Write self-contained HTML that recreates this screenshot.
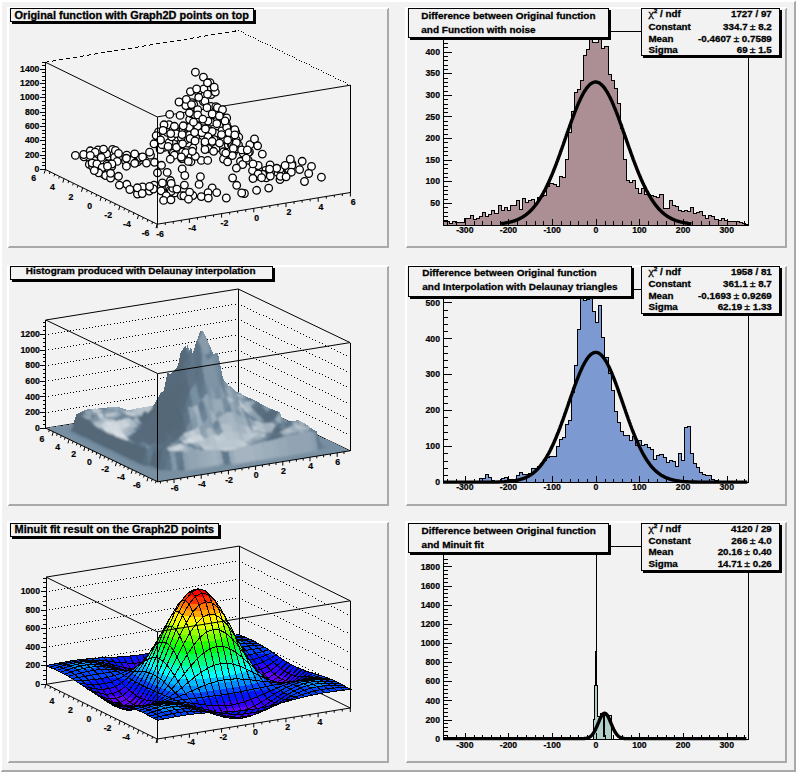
<!DOCTYPE html>
<html><head><meta charset="utf-8"><title>Graph2D example</title>
<style>html,body{margin:0;padding:0;background:#f2f2f2;}svg{display:block;}text{font-family:'Liberation Sans', Arial, Helvetica, sans-serif;}</style>
</head><body>
<svg width="796" height="772" viewBox="0 0 796 772" font-family="'Liberation Sans', Arial, Helvetica, sans-serif" font-weight="bold" shape-rendering="crispEdges"><rect x="0" y="0" width="796" height="772" fill="#f2f2f2"/>
<polygon points="0,0 796,0 794,2 2,2 2,770 0,772" fill="#ffffff"/>
<polygon points="796,772 0,772 2,770 794,770 794,2 796,0" fill="#a9a9a9"/>
<rect x="7" y="7" width="382" height="241" fill="#f2f2f2"/>
<polygon points="7,7 389,7 387,9 9,9 9,246 7,248" fill="#ffffff"/>
<polygon points="389,248 7,248 9,246 387,246 387,9 389,7" fill="#a9a9a9"/>
<rect x="405" y="7" width="382" height="241" fill="#f2f2f2"/>
<polygon points="405,7 787,7 785,9 407,9 407,246 405,248" fill="#ffffff"/>
<polygon points="787,248 405,248 407,246 785,246 785,9 787,7" fill="#a9a9a9"/>
<rect x="7" y="265" width="382" height="241" fill="#f2f2f2"/>
<polygon points="7,265 389,265 387,267 9,267 9,504 7,506" fill="#ffffff"/>
<polygon points="389,506 7,506 9,504 387,504 387,267 389,265" fill="#a9a9a9"/>
<rect x="405" y="265" width="382" height="241" fill="#f2f2f2"/>
<polygon points="405,265 787,265 785,267 407,267 407,504 405,506" fill="#ffffff"/>
<polygon points="787,506 405,506 407,504 785,504 785,267 787,265" fill="#a9a9a9"/>
<rect x="7" y="521" width="382" height="242" fill="#f2f2f2"/>
<polygon points="7,521 389,521 387,523 9,523 9,761 7,763" fill="#ffffff"/>
<polygon points="389,763 7,763 9,761 387,761 387,523 389,521" fill="#a9a9a9"/>
<rect x="405" y="521" width="382" height="242" fill="#f2f2f2"/>
<polygon points="405,521 787,521 785,523 407,523 407,761 405,763" fill="#ffffff"/>
<polygon points="787,763 405,763 407,761 785,761 785,523 787,521" fill="#a9a9a9"/>
<path d="M443,224.5 L443,221.5 L446.06,221.5 L446.06,221.5 L449.11,221.5 L449.11,223 L452.17,223 L452.17,221.5 L455.22,221.5 L455.22,222.8 L458.28,222.8 L458.28,222.8 L461.34,222.8 L461.34,222.8 L464.39,222.8 L464.39,218.1 L467.45,218.1 L467.45,218.1 L470.5,218.1 L470.5,215.5 L473.56,215.5 L473.56,219.3 L476.62,219.3 L476.62,218.5 L479.67,218.5 L479.67,216.3 L482.73,216.3 L482.73,212.5 L485.78,212.5 L485.78,216.3 L488.84,216.3 L488.84,214.4 L491.9,214.4 L491.9,210.5 L494.95,210.5 L494.95,213.2 L498.01,213.2 L498.01,205.5 L501.06,205.5 L501.06,210.1 L504.12,210.1 L504.12,207.5 L507.18,207.5 L507.18,210.1 L510.23,210.1 L510.23,205.6 L513.29,205.6 L513.29,205.6 L516.34,205.6 L516.34,200.4 L519.4,200.4 L519.4,209 L522.46,209 L522.46,198.7 L525.51,198.7 L525.51,202.7 L528.57,202.7 L528.57,200.4 L531.62,200.4 L531.62,199.3 L534.68,199.3 L534.68,203.3 L537.74,203.3 L537.74,197.6 L540.79,197.6 L540.79,196 L543.85,196 L543.85,195 L546.9,195 L546.9,186.2 L549.96,186.2 L549.96,183.9 L553.02,183.9 L553.02,184.5 L556.07,184.5 L556.07,186.7 L559.13,186.7 L559.13,176.5 L562.18,176.5 L562.18,177.1 L565.24,177.1 L565.24,159.5 L568.3,159.5 L568.3,132 L571.35,132 L571.35,111.5 L574.41,111.5 L574.41,92.1 L577.46,92.1 L577.46,89.5 L580.52,89.5 L580.52,80.5 L583.58,80.5 L583.58,55.2 L586.63,55.2 L586.63,49.4 L589.69,49.4 L589.69,31 L592.74,31 L592.74,42.9 L595.8,42.9 L595.8,42.9 L598.86,42.9 L598.86,33 L601.91,33 L601.91,48.1 L604.97,48.1 L604.97,46.1 L608.02,46.1 L608.02,74 L611.08,74 L611.08,80.5 L614.14,80.5 L614.14,88.9 L617.19,88.9 L617.19,103 L620.25,103 L620.25,128 L623.3,128 L623.3,159.6 L626.36,159.6 L626.36,180.3 L629.42,180.3 L629.42,182.8 L632.47,182.8 L632.47,180.3 L635.53,180.3 L635.53,188.4 L638.58,188.4 L638.58,193.2 L641.64,193.2 L641.64,188.2 L644.7,188.2 L644.7,194 L647.75,194 L647.75,194.4 L650.81,194.4 L650.81,195.5 L653.86,195.5 L653.86,196.7 L656.92,196.7 L656.92,197.5 L659.98,197.5 L659.98,194.4 L663.03,194.4 L663.03,208.1 L666.09,208.1 L666.09,208.1 L669.14,208.1 L669.14,200.5 L672.2,200.5 L672.2,205 L675.26,205 L675.26,206 L678.31,206 L678.31,210.1 L681.37,210.1 L681.37,211.8 L684.42,211.8 L684.42,210.6 L687.48,210.6 L687.48,211.2 L690.54,211.2 L690.54,207.5 L693.59,207.5 L693.59,213.3 L696.65,213.3 L696.65,212.2 L699.7,212.2 L699.7,211.4 L702.76,211.4 L702.76,215.2 L705.82,215.2 L705.82,218.5 L708.87,218.5 L708.87,215.6 L711.93,215.6 L711.93,216.6 L714.98,216.6 L714.98,219.5 L718.04,219.5 L718.04,220.3 L721.1,220.3 L721.1,218.7 L724.15,218.7 L724.15,220.5 L727.21,220.5 L727.21,221.6 L730.26,221.6 L730.26,221.6 L733.32,221.6 L733.32,221.6 L736.38,221.6 L736.38,221.8 L739.43,221.8 L739.43,222.8 L742.49,222.8 L742.49,223.7 L745.54,223.7 L745.54,224 L748.6,224 L748.6,224.5 Z" fill="#ab8f94" stroke="none"/>
<path d="M443,224.5 L443,221.5 L446.06,221.5 L446.06,221.5 L449.11,221.5 L449.11,223 L452.17,223 L452.17,221.5 L455.22,221.5 L455.22,222.8 L458.28,222.8 L458.28,222.8 L461.34,222.8 L461.34,222.8 L464.39,222.8 L464.39,218.1 L467.45,218.1 L467.45,218.1 L470.5,218.1 L470.5,215.5 L473.56,215.5 L473.56,219.3 L476.62,219.3 L476.62,218.5 L479.67,218.5 L479.67,216.3 L482.73,216.3 L482.73,212.5 L485.78,212.5 L485.78,216.3 L488.84,216.3 L488.84,214.4 L491.9,214.4 L491.9,210.5 L494.95,210.5 L494.95,213.2 L498.01,213.2 L498.01,205.5 L501.06,205.5 L501.06,210.1 L504.12,210.1 L504.12,207.5 L507.18,207.5 L507.18,210.1 L510.23,210.1 L510.23,205.6 L513.29,205.6 L513.29,205.6 L516.34,205.6 L516.34,200.4 L519.4,200.4 L519.4,209 L522.46,209 L522.46,198.7 L525.51,198.7 L525.51,202.7 L528.57,202.7 L528.57,200.4 L531.62,200.4 L531.62,199.3 L534.68,199.3 L534.68,203.3 L537.74,203.3 L537.74,197.6 L540.79,197.6 L540.79,196 L543.85,196 L543.85,195 L546.9,195 L546.9,186.2 L549.96,186.2 L549.96,183.9 L553.02,183.9 L553.02,184.5 L556.07,184.5 L556.07,186.7 L559.13,186.7 L559.13,176.5 L562.18,176.5 L562.18,177.1 L565.24,177.1 L565.24,159.5 L568.3,159.5 L568.3,132 L571.35,132 L571.35,111.5 L574.41,111.5 L574.41,92.1 L577.46,92.1 L577.46,89.5 L580.52,89.5 L580.52,80.5 L583.58,80.5 L583.58,55.2 L586.63,55.2 L586.63,49.4 L589.69,49.4 L589.69,31 L592.74,31 L592.74,42.9 L595.8,42.9 L595.8,42.9 L598.86,42.9 L598.86,33 L601.91,33 L601.91,48.1 L604.97,48.1 L604.97,46.1 L608.02,46.1 L608.02,74 L611.08,74 L611.08,80.5 L614.14,80.5 L614.14,88.9 L617.19,88.9 L617.19,103 L620.25,103 L620.25,128 L623.3,128 L623.3,159.6 L626.36,159.6 L626.36,180.3 L629.42,180.3 L629.42,182.8 L632.47,182.8 L632.47,180.3 L635.53,180.3 L635.53,188.4 L638.58,188.4 L638.58,193.2 L641.64,193.2 L641.64,188.2 L644.7,188.2 L644.7,194 L647.75,194 L647.75,194.4 L650.81,194.4 L650.81,195.5 L653.86,195.5 L653.86,196.7 L656.92,196.7 L656.92,197.5 L659.98,197.5 L659.98,194.4 L663.03,194.4 L663.03,208.1 L666.09,208.1 L666.09,208.1 L669.14,208.1 L669.14,200.5 L672.2,200.5 L672.2,205 L675.26,205 L675.26,206 L678.31,206 L678.31,210.1 L681.37,210.1 L681.37,211.8 L684.42,211.8 L684.42,210.6 L687.48,210.6 L687.48,211.2 L690.54,211.2 L690.54,207.5 L693.59,207.5 L693.59,213.3 L696.65,213.3 L696.65,212.2 L699.7,212.2 L699.7,211.4 L702.76,211.4 L702.76,215.2 L705.82,215.2 L705.82,218.5 L708.87,218.5 L708.87,215.6 L711.93,215.6 L711.93,216.6 L714.98,216.6 L714.98,219.5 L718.04,219.5 L718.04,220.3 L721.1,220.3 L721.1,218.7 L724.15,218.7 L724.15,220.5 L727.21,220.5 L727.21,221.6 L730.26,221.6 L730.26,221.6 L733.32,221.6 L733.32,221.6 L736.38,221.6 L736.38,221.8 L739.43,221.8 L739.43,222.8 L742.49,222.8 L742.49,223.7 L745.54,223.7 L745.54,224 L748.6,224 L748.6,224.5" fill="none" stroke="#000" stroke-width="1"/>
<rect x="443.5" y="31.5" width="304.6" height="193.5" fill="none" stroke="#000" stroke-width="1"/>
<line x1="443" y1="225.5" x2="452" y2="225.5" stroke="#000" stroke-width="1"/>
<line x1="443" y1="220.5" x2="447.5" y2="220.5" stroke="#000" stroke-width="1"/>
<line x1="443" y1="216.5" x2="447.5" y2="216.5" stroke="#000" stroke-width="1"/>
<line x1="443" y1="212.5" x2="447.5" y2="212.5" stroke="#000" stroke-width="1"/>
<line x1="443" y1="207.5" x2="447.5" y2="207.5" stroke="#000" stroke-width="1"/>
<line x1="443" y1="203.5" x2="452" y2="203.5" stroke="#000" stroke-width="1"/>
<text x="440" y="206.07" font-size="8.7" text-anchor="end" stroke="#000" stroke-width="0.2">50</text>
<line x1="443" y1="199.5" x2="447.5" y2="199.5" stroke="#000" stroke-width="1"/>
<line x1="443" y1="194.5" x2="447.5" y2="194.5" stroke="#000" stroke-width="1"/>
<line x1="443" y1="190.5" x2="447.5" y2="190.5" stroke="#000" stroke-width="1"/>
<line x1="443" y1="186.5" x2="447.5" y2="186.5" stroke="#000" stroke-width="1"/>
<line x1="443" y1="181.5" x2="452" y2="181.5" stroke="#000" stroke-width="1"/>
<text x="440" y="184.45" font-size="8.7" text-anchor="end" stroke="#000" stroke-width="0.2">100</text>
<line x1="443" y1="177.5" x2="447.5" y2="177.5" stroke="#000" stroke-width="1"/>
<line x1="443" y1="173.5" x2="447.5" y2="173.5" stroke="#000" stroke-width="1"/>
<line x1="443" y1="168.5" x2="447.5" y2="168.5" stroke="#000" stroke-width="1"/>
<line x1="443" y1="164.5" x2="447.5" y2="164.5" stroke="#000" stroke-width="1"/>
<line x1="443" y1="160.5" x2="452" y2="160.5" stroke="#000" stroke-width="1"/>
<text x="440" y="162.82" font-size="8.7" text-anchor="end" stroke="#000" stroke-width="0.2">150</text>
<line x1="443" y1="155.5" x2="447.5" y2="155.5" stroke="#000" stroke-width="1"/>
<line x1="443" y1="151.5" x2="447.5" y2="151.5" stroke="#000" stroke-width="1"/>
<line x1="443" y1="147.5" x2="447.5" y2="147.5" stroke="#000" stroke-width="1"/>
<line x1="443" y1="142.5" x2="447.5" y2="142.5" stroke="#000" stroke-width="1"/>
<line x1="443" y1="138.5" x2="452" y2="138.5" stroke="#000" stroke-width="1"/>
<text x="440" y="141.2" font-size="8.7" text-anchor="end" stroke="#000" stroke-width="0.2">200</text>
<line x1="443" y1="134.5" x2="447.5" y2="134.5" stroke="#000" stroke-width="1"/>
<line x1="443" y1="129.5" x2="447.5" y2="129.5" stroke="#000" stroke-width="1"/>
<line x1="443" y1="125.5" x2="447.5" y2="125.5" stroke="#000" stroke-width="1"/>
<line x1="443" y1="121.5" x2="447.5" y2="121.5" stroke="#000" stroke-width="1"/>
<line x1="443" y1="116.5" x2="452" y2="116.5" stroke="#000" stroke-width="1"/>
<text x="440" y="119.57" font-size="8.7" text-anchor="end" stroke="#000" stroke-width="0.2">250</text>
<line x1="443" y1="112.5" x2="447.5" y2="112.5" stroke="#000" stroke-width="1"/>
<line x1="443" y1="108.5" x2="447.5" y2="108.5" stroke="#000" stroke-width="1"/>
<line x1="443" y1="104.5" x2="447.5" y2="104.5" stroke="#000" stroke-width="1"/>
<line x1="443" y1="99.5" x2="447.5" y2="99.5" stroke="#000" stroke-width="1"/>
<line x1="443" y1="95.5" x2="452" y2="95.5" stroke="#000" stroke-width="1"/>
<text x="440" y="97.95" font-size="8.7" text-anchor="end" stroke="#000" stroke-width="0.2">300</text>
<line x1="443" y1="91.5" x2="447.5" y2="91.5" stroke="#000" stroke-width="1"/>
<line x1="443" y1="86.5" x2="447.5" y2="86.5" stroke="#000" stroke-width="1"/>
<line x1="443" y1="82.5" x2="447.5" y2="82.5" stroke="#000" stroke-width="1"/>
<line x1="443" y1="78.5" x2="447.5" y2="78.5" stroke="#000" stroke-width="1"/>
<line x1="443" y1="73.5" x2="452" y2="73.5" stroke="#000" stroke-width="1"/>
<text x="440" y="76.32" font-size="8.7" text-anchor="end" stroke="#000" stroke-width="0.2">350</text>
<line x1="443" y1="69.5" x2="447.5" y2="69.5" stroke="#000" stroke-width="1"/>
<line x1="443" y1="65.5" x2="447.5" y2="65.5" stroke="#000" stroke-width="1"/>
<line x1="443" y1="60.5" x2="447.5" y2="60.5" stroke="#000" stroke-width="1"/>
<line x1="443" y1="56.5" x2="447.5" y2="56.5" stroke="#000" stroke-width="1"/>
<line x1="443" y1="52.5" x2="452" y2="52.5" stroke="#000" stroke-width="1"/>
<text x="440" y="54.7" font-size="8.7" text-anchor="end" stroke="#000" stroke-width="0.2">400</text>
<line x1="443" y1="47.5" x2="447.5" y2="47.5" stroke="#000" stroke-width="1"/>
<line x1="443" y1="43.5" x2="447.5" y2="43.5" stroke="#000" stroke-width="1"/>
<line x1="443" y1="39.5" x2="447.5" y2="39.5" stroke="#000" stroke-width="1"/>
<line x1="443" y1="34.5" x2="447.5" y2="34.5" stroke="#000" stroke-width="1"/>
<line x1="447.5" y1="224.5" x2="447.5" y2="221.3" stroke="#000" stroke-width="1"/>
<line x1="456.5" y1="224.5" x2="456.5" y2="221.3" stroke="#000" stroke-width="1"/>
<line x1="465.5" y1="224.5" x2="465.5" y2="218.5" stroke="#000" stroke-width="1"/>
<text x="464.83" y="232.8" font-size="8.7" text-anchor="middle" stroke="#000" stroke-width="0.2">-300</text>
<line x1="474.5" y1="224.5" x2="474.5" y2="221.3" stroke="#000" stroke-width="1"/>
<line x1="482.5" y1="224.5" x2="482.5" y2="221.3" stroke="#000" stroke-width="1"/>
<line x1="491.5" y1="224.5" x2="491.5" y2="221.3" stroke="#000" stroke-width="1"/>
<line x1="500.5" y1="224.5" x2="500.5" y2="221.3" stroke="#000" stroke-width="1"/>
<line x1="508.5" y1="224.5" x2="508.5" y2="218.5" stroke="#000" stroke-width="1"/>
<text x="508.49" y="232.8" font-size="8.7" text-anchor="middle" stroke="#000" stroke-width="0.2">-200</text>
<line x1="517.5" y1="224.5" x2="517.5" y2="221.3" stroke="#000" stroke-width="1"/>
<line x1="526.5" y1="224.5" x2="526.5" y2="221.3" stroke="#000" stroke-width="1"/>
<line x1="535.5" y1="224.5" x2="535.5" y2="221.3" stroke="#000" stroke-width="1"/>
<line x1="543.5" y1="224.5" x2="543.5" y2="221.3" stroke="#000" stroke-width="1"/>
<line x1="552.5" y1="224.5" x2="552.5" y2="218.5" stroke="#000" stroke-width="1"/>
<text x="552.14" y="232.8" font-size="8.7" text-anchor="middle" stroke="#000" stroke-width="0.2">-100</text>
<line x1="561.5" y1="224.5" x2="561.5" y2="221.3" stroke="#000" stroke-width="1"/>
<line x1="570.5" y1="224.5" x2="570.5" y2="221.3" stroke="#000" stroke-width="1"/>
<line x1="578.5" y1="224.5" x2="578.5" y2="221.3" stroke="#000" stroke-width="1"/>
<line x1="587.5" y1="224.5" x2="587.5" y2="221.3" stroke="#000" stroke-width="1"/>
<line x1="596.5" y1="224.5" x2="596.5" y2="218.5" stroke="#000" stroke-width="1"/>
<text x="595.8" y="232.8" font-size="8.7" text-anchor="middle" stroke="#000" stroke-width="0.2">0</text>
<line x1="605.5" y1="224.5" x2="605.5" y2="221.3" stroke="#000" stroke-width="1"/>
<line x1="613.5" y1="224.5" x2="613.5" y2="221.3" stroke="#000" stroke-width="1"/>
<line x1="622.5" y1="224.5" x2="622.5" y2="221.3" stroke="#000" stroke-width="1"/>
<line x1="631.5" y1="224.5" x2="631.5" y2="221.3" stroke="#000" stroke-width="1"/>
<line x1="639.5" y1="224.5" x2="639.5" y2="218.5" stroke="#000" stroke-width="1"/>
<text x="639.46" y="232.8" font-size="8.7" text-anchor="middle" stroke="#000" stroke-width="0.2">100</text>
<line x1="648.5" y1="224.5" x2="648.5" y2="221.3" stroke="#000" stroke-width="1"/>
<line x1="657.5" y1="224.5" x2="657.5" y2="221.3" stroke="#000" stroke-width="1"/>
<line x1="666.5" y1="224.5" x2="666.5" y2="221.3" stroke="#000" stroke-width="1"/>
<line x1="674.5" y1="224.5" x2="674.5" y2="221.3" stroke="#000" stroke-width="1"/>
<line x1="683.5" y1="224.5" x2="683.5" y2="218.5" stroke="#000" stroke-width="1"/>
<text x="683.11" y="232.8" font-size="8.7" text-anchor="middle" stroke="#000" stroke-width="0.2">200</text>
<line x1="692.5" y1="224.5" x2="692.5" y2="221.3" stroke="#000" stroke-width="1"/>
<line x1="701.5" y1="224.5" x2="701.5" y2="221.3" stroke="#000" stroke-width="1"/>
<line x1="709.5" y1="224.5" x2="709.5" y2="221.3" stroke="#000" stroke-width="1"/>
<line x1="718.5" y1="224.5" x2="718.5" y2="221.3" stroke="#000" stroke-width="1"/>
<line x1="727.5" y1="224.5" x2="727.5" y2="218.5" stroke="#000" stroke-width="1"/>
<text x="726.77" y="232.8" font-size="8.7" text-anchor="middle" stroke="#000" stroke-width="0.2">300</text>
<line x1="736.5" y1="224.5" x2="736.5" y2="221.3" stroke="#000" stroke-width="1"/>
<line x1="744.5" y1="224.5" x2="744.5" y2="221.3" stroke="#000" stroke-width="1"/>
<path d="M501.1 223.6 504.1 223.2 504.6 223.1 505 223.1 505.4 223 505.9 222.9 506.3 222.8 506.7 222.8 507.2 222.7 507.6 222.6 508 222.5 508.5 222.4 508.9 222.3 509.4 222.2 509.8 222.1 510.2 222 510.7 221.9 511.1 221.8 511.5 221.7 512 221.6 512.4 221.5 512.9 221.3 513.3 221.2 513.7 221.1 514.2 220.9 514.6 220.8 515 220.6 515.5 220.5 515.9 220.3 516.3 220.1 516.8 219.9 517.2 219.8 517.7 219.6 518.1 219.4 518.5 219.2 519 219 519.4 218.8 519.8 218.6 520.3 218.3 520.7 218.1 521.1 217.9 521.6 217.6 522 217.4 522.5 217.1 522.9 216.9 523.3 216.6 523.8 216.3 524.2 216 524.6 215.7 525.1 215.4 525.5 215.1 525.9 214.8 526.4 214.4 526.8 214.1 527.3 213.7 527.7 213.4 528.1 213 528.6 212.6 529 212.2 529.4 211.8 529.9 211.4 530.3 211 530.8 210.5 531.2 210.1 531.6 209.6 532.1 209.2 532.5 208.7 532.9 208.2 533.4 207.7 533.8 207.2 534.2 206.7 534.7 206.1 535.1 205.6 535.6 205 536 204.5 536.4 203.9 536.9 203.3 537.3 202.7 537.7 202.1 538.2 201.4 538.6 200.8 539 200.1 539.5 199.5 539.9 198.8 540.4 198.1 540.8 197.4 541.2 196.6 541.7 195.9 542.1 195.1 542.5 194.4 543 193.6 543.4 192.8 543.8 192 544.3 191.2 544.7 190.4 545.2 189.5 545.6 188.6 546 187.8 546.5 186.9 546.9 186 547.3 185.1 547.8 184.2 548.2 183.2 548.7 182.3 549.1 181.3 549.5 180.3 550 179.3 550.4 178.3 550.8 177.3 551.3 176.3 551.7 175.3 552.1 174.2 552.6 173.2 553 172.1 553.5 171 553.9 169.9 554.3 168.8 554.8 167.7 555.2 166.6 555.6 165.5 556.1 164.3 556.5 163.2 556.9 162 557.4 160.8 557.8 159.7 558.3 158.5 558.7 157.3 559.1 156.1 559.6 154.9 560 153.7 560.4 152.5 560.9 151.2 561.3 150 561.7 148.8 562.2 147.5 562.6 146.3 563.1 145 563.5 143.8 563.9 142.5 564.4 141.3 564.8 140 565.2 138.8 565.7 137.5 566.1 136.3 566.5 135 567 133.8 567.4 132.5 567.9 131.3 568.3 130 568.7 128.8 569.2 127.6 569.6 126.3 570 125.1 570.5 123.9 570.9 122.7 571.4 121.5 571.8 120.3 572.2 119.1 572.7 117.9 573.1 116.7 573.5 115.6 574 114.4 574.4 113.3 574.8 112.1 575.3 111 575.7 109.9 576.2 108.8 576.6 107.8 577 106.7 577.5 105.6 577.9 104.6 578.3 103.6 578.8 102.6 579.2 101.6 579.6 100.7 580.1 99.7 580.5 98.8 581 97.9 581.4 97 581.8 96.2 582.3 95.3 582.7 94.5 583.1 93.7 583.6 92.9 584 92.2 584.4 91.5 584.9 90.8 585.3 90.1 585.8 89.4 586.2 88.8 586.6 88.2 587.1 87.6 587.5 87.1 587.9 86.5 588.4 86.1 588.8 85.6 589.3 85.1 589.7 84.7 590.1 84.3 590.6 84 591 83.7 591.4 83.4 591.9 83.1 592.3 82.9 592.7 82.7 593.2 82.5 593.6 82.3 594.1 82.2 594.5 82.1 594.9 82 595.4 82 595.8 82 596.2 82 596.7 82.1 597.1 82.2 597.5 82.3 598 82.5 598.4 82.6 598.9 82.8 599.3 83.1 599.7 83.3 600.2 83.6 600.6 84 601 84.3 601.5 84.7 601.9 85.1 602.3 85.5 602.8 86 603.2 86.5 603.7 87 604.1 87.6 604.5 88.1 605 88.7 605.4 89.4 605.8 90 606.3 90.7 606.7 91.4 607.2 92.1 607.6 92.9 608 93.6 608.5 94.4 608.9 95.3 609.3 96.1 609.8 97 610.2 97.8 610.6 98.7 611.1 99.7 611.5 100.6 612 101.6 612.4 102.5 612.8 103.5 613.3 104.5 613.7 105.6 614.1 106.6 614.6 107.7 615 108.7 615.4 109.8 615.9 110.9 616.3 112.1 616.8 113.2 617.2 114.3 617.6 115.5 618.1 116.6 618.5 117.8 618.9 119 619.4 120.2 619.8 121.4 620.2 122.6 620.7 123.8 621.1 125 621.6 126.2 622 127.5 622.4 128.7 622.9 129.9 623.3 131.2 623.7 132.4 624.2 133.7 624.6 134.9 625.1 136.2 625.5 137.4 625.9 138.7 626.4 139.9 626.8 141.2 627.2 142.5 627.7 143.7 628.1 144.9 628.5 146.2 629 147.4 629.4 148.7 629.9 149.9 630.3 151.1 630.7 152.4 631.2 153.6 631.6 154.8 632 156 632.5 157.2 632.9 158.4 633.3 159.6 633.8 160.7 634.2 161.9 634.7 163.1 635.1 164.2 635.5 165.4 636 166.5 636.4 167.6 636.8 168.7 637.3 169.8 637.7 170.9 638.1 172 638.6 173.1 639 174.1 639.5 175.2 639.9 176.2 640.3 177.3 640.8 178.3 641.2 179.3 641.6 180.3 642.1 181.2 642.5 182.2 642.9 183.1 643.4 184.1 643.8 185 644.3 185.9 644.7 186.8 645.1 187.7 645.6 188.6 646 189.4 646.4 190.3 646.9 191.1 647.3 191.9 647.8 192.7 648.2 193.5 648.6 194.3 649.1 195.1 649.5 195.8 649.9 196.6 650.4 197.3 650.8 198 651.2 198.7 651.7 199.4 652.1 200.1 652.6 200.7 653 201.4 653.4 202 653.9 202.6 654.3 203.2 654.7 203.8 655.2 204.4 655.6 205 656 205.6 656.5 206.1 656.9 206.6 657.4 207.2 657.8 207.7 658.2 208.2 658.7 208.7 659.1 209.1 659.5 209.6 660 210.1 660.4 210.5 660.8 210.9 661.3 211.4 661.7 211.8 662.2 212.2 662.6 212.6 663 213 663.5 213.3 663.9 213.7 664.3 214.1 664.8 214.4 665.2 214.7 665.7 215.1 666.1 215.4 666.5 215.7 667 216 667.4 216.3 667.8 216.6 668.3 216.8 668.7 217.1 669.1 217.4 669.6 217.6 670 217.9 670.5 218.1 670.9 218.3 671.3 218.6 671.8 218.8 672.2 219 672.6 219.2 673.1 219.4 673.5 219.6 673.9 219.8 674.4 219.9 674.8 220.1 675.3 220.3 675.7 220.4 676.1 220.6 676.6 220.8 677 220.9 677.4 221 677.9 221.2 678.3 221.3 678.7 221.4 679.2 221.6 679.6 221.7 680.1 221.8 680.5 221.9 680.9 222 681.4 222.1 681.8 222.2 682.2 222.3 682.7 222.4 683.1 222.5 683.6 222.6 684 222.7 684.4 222.8 684.9 222.8 685.3 222.9 685.7 223 686.2 223 686.6 223.1 687 223.2 687.5 223.2 687.9 223.3 688.4 223.4 691.4 223.7" fill="none" stroke="#000" stroke-width="3.4" stroke-linejoin="round" shape-rendering="auto"/>
<line x1="609" y1="31.5" x2="642" y2="31.5" stroke="#000" stroke-width="1"/>
<polygon points="609,10 611,10 611,40 410,40 410,38 609,38" fill="#000"/>
<rect x="408.5" y="8.5" width="200" height="29" fill="#f2f2f2" stroke="#000" stroke-width="1"/>
<text transform="matrix(1,0,0,0.88,421.3,19)" font-size="10" stroke="#000" stroke-width="0.3">Difference between Original function</text>
<text transform="matrix(1,0,0,0.88,421.3,32.8)" font-size="10" stroke="#000" stroke-width="0.3">and Function with noise</text>
<polygon points="780,10 782,10 782,58 643,58 643,56 780,56" fill="#000"/>
<rect x="641.5" y="8.5" width="138" height="47" fill="#f2f2f2" stroke="#000" stroke-width="1"/>
<text transform="matrix(1,0,0,0.88,648.4,17)" font-size="9.8" stroke="#000" stroke-width="0.3"><tspan font-family="Liberation Serif" font-weight="normal" font-size="12">χ</tspan><tspan font-size="6.5" dy="-4.5">2</tspan><tspan dy="4.5"> / ndf</tspan></text>
<text transform="matrix(1,0,0,0.88,771.8,17)" font-size="9.8" text-anchor="end" stroke="#000" stroke-width="0.3">1727 / 97</text>
<text transform="matrix(1,0,0,0.88,648.4,29.7)" font-size="9.8" stroke="#000" stroke-width="0.3">Constant</text>
<text transform="matrix(1,0,0,0.88,771.8,29.7)" font-size="9.8" text-anchor="end" stroke="#000" stroke-width="0.3">334.7<tspan font-size="7.5"> </tspan><tspan font-weight="normal" font-size="10.5">±</tspan> 8.2</text>
<text transform="matrix(1,0,0,0.88,648.4,41.7)" font-size="9.8" stroke="#000" stroke-width="0.3">Mean</text>
<text transform="matrix(1,0,0,0.88,771.8,41.7)" font-size="9.8" text-anchor="end" stroke="#000" stroke-width="0.3">-0.4607<tspan font-size="7.5"> </tspan><tspan font-weight="normal" font-size="10.5">±</tspan> 0.7589</text>
<text transform="matrix(1,0,0,0.88,648.4,53.1)" font-size="9.8" stroke="#000" stroke-width="0.3">Sigma</text>
<text transform="matrix(1,0,0,0.88,771.8,53.1)" font-size="9.8" text-anchor="end" stroke="#000" stroke-width="0.3">69<tspan font-size="7.5"> </tspan><tspan font-weight="normal" font-size="10.5">±</tspan> 1.5</text>
<path d="M443,482.1 L443,482 L446.06,482 L446.06,482 L449.11,482 L449.11,482 L452.17,482 L452.17,482 L455.22,482 L455.22,482 L458.28,482 L458.28,482 L461.34,482 L461.34,482 L464.39,482 L464.39,482 L467.45,482 L467.45,482 L470.5,482 L470.5,482 L473.56,482 L473.56,482 L476.62,482 L476.62,482 L479.67,482 L479.67,478.2 L482.73,478.2 L482.73,478.2 L485.78,478.2 L485.78,474.2 L488.84,474.2 L488.84,477.5 L491.9,477.5 L491.9,480 L494.95,480 L494.95,481.5 L498.01,481.5 L498.01,481.5 L501.06,481.5 L501.06,478 L504.12,478 L504.12,477.5 L507.18,477.5 L507.18,479.1 L510.23,479.1 L510.23,479.1 L513.29,479.1 L513.29,481 L516.34,481 L516.34,475.7 L519.4,475.7 L519.4,472.4 L522.46,472.4 L522.46,474.6 L525.51,474.6 L525.51,474.6 L528.57,474.6 L528.57,473 L531.62,473 L531.62,468.2 L534.68,468.2 L534.68,468.5 L537.74,468.5 L537.74,466 L540.79,466 L540.79,463.5 L543.85,463.5 L543.85,460.2 L546.9,460.2 L546.9,457.9 L549.96,457.9 L549.96,456.8 L553.02,456.8 L553.02,456.8 L556.07,456.8 L556.07,446.8 L559.13,446.8 L559.13,439.5 L562.18,439.5 L562.18,437.9 L565.24,437.9 L565.24,424.5 L568.3,424.5 L568.3,420.6 L571.35,420.6 L571.35,392 L574.41,392 L574.41,365.3 L577.46,365.3 L577.46,329 L580.52,329 L580.52,289 L583.58,289 L583.58,300 L586.63,300 L586.63,299 L589.69,299 L589.69,297 L592.74,297 L592.74,311.5 L595.8,311.5 L595.8,322.5 L598.86,322.5 L598.86,305.5 L601.91,305.5 L601.91,337.4 L604.97,337.4 L604.97,357.5 L608.02,357.5 L608.02,373.1 L611.08,373.1 L611.08,390.2 L614.14,390.2 L614.14,411.4 L617.19,411.4 L617.19,422 L620.25,422 L620.25,431.8 L623.3,431.8 L623.3,435.9 L626.36,435.9 L626.36,435.9 L629.42,435.9 L629.42,440 L632.47,440 L632.47,436.7 L635.53,436.7 L635.53,445.7 L638.58,445.7 L638.58,440 L641.64,440 L641.64,445.7 L644.7,445.7 L644.7,444.5 L647.75,444.5 L647.75,447.3 L650.81,447.3 L650.81,449 L653.86,449 L653.86,459.9 L656.92,459.9 L656.92,455.5 L659.98,455.5 L659.98,454.3 L663.03,454.3 L663.03,457.9 L666.09,457.9 L666.09,462 L669.14,462 L669.14,460.4 L672.2,460.4 L672.2,461.2 L675.26,461.2 L675.26,466.4 L678.31,466.4 L678.31,453.3 L681.37,453.3 L681.37,460.5 L684.42,460.5 L684.42,427 L687.48,427 L687.48,426.3 L690.54,426.3 L690.54,453.3 L693.59,453.3 L693.59,463.6 L696.65,463.6 L696.65,467.3 L699.7,467.3 L699.7,472.5 L702.76,472.5 L702.76,474.5 L705.82,474.5 L705.82,475.2 L708.87,475.2 L708.87,475.2 L711.93,475.2 L711.93,479.4 L714.98,479.4 L714.98,480.4 L718.04,480.4 L718.04,482 L721.1,482 L721.1,482 L724.15,482 L724.15,482 L727.21,482 L727.21,482 L730.26,482 L730.26,482 L733.32,482 L733.32,482 L736.38,482 L736.38,482 L739.43,482 L739.43,482 L742.49,482 L742.49,482 L745.54,482 L745.54,482 L748.6,482 L748.6,482.1 Z" fill="#7d99d1" stroke="none"/>
<path d="M443,482.1 L443,482 L446.06,482 L446.06,482 L449.11,482 L449.11,482 L452.17,482 L452.17,482 L455.22,482 L455.22,482 L458.28,482 L458.28,482 L461.34,482 L461.34,482 L464.39,482 L464.39,482 L467.45,482 L467.45,482 L470.5,482 L470.5,482 L473.56,482 L473.56,482 L476.62,482 L476.62,482 L479.67,482 L479.67,478.2 L482.73,478.2 L482.73,478.2 L485.78,478.2 L485.78,474.2 L488.84,474.2 L488.84,477.5 L491.9,477.5 L491.9,480 L494.95,480 L494.95,481.5 L498.01,481.5 L498.01,481.5 L501.06,481.5 L501.06,478 L504.12,478 L504.12,477.5 L507.18,477.5 L507.18,479.1 L510.23,479.1 L510.23,479.1 L513.29,479.1 L513.29,481 L516.34,481 L516.34,475.7 L519.4,475.7 L519.4,472.4 L522.46,472.4 L522.46,474.6 L525.51,474.6 L525.51,474.6 L528.57,474.6 L528.57,473 L531.62,473 L531.62,468.2 L534.68,468.2 L534.68,468.5 L537.74,468.5 L537.74,466 L540.79,466 L540.79,463.5 L543.85,463.5 L543.85,460.2 L546.9,460.2 L546.9,457.9 L549.96,457.9 L549.96,456.8 L553.02,456.8 L553.02,456.8 L556.07,456.8 L556.07,446.8 L559.13,446.8 L559.13,439.5 L562.18,439.5 L562.18,437.9 L565.24,437.9 L565.24,424.5 L568.3,424.5 L568.3,420.6 L571.35,420.6 L571.35,392 L574.41,392 L574.41,365.3 L577.46,365.3 L577.46,329 L580.52,329 L580.52,289 L583.58,289 L583.58,300 L586.63,300 L586.63,299 L589.69,299 L589.69,297 L592.74,297 L592.74,311.5 L595.8,311.5 L595.8,322.5 L598.86,322.5 L598.86,305.5 L601.91,305.5 L601.91,337.4 L604.97,337.4 L604.97,357.5 L608.02,357.5 L608.02,373.1 L611.08,373.1 L611.08,390.2 L614.14,390.2 L614.14,411.4 L617.19,411.4 L617.19,422 L620.25,422 L620.25,431.8 L623.3,431.8 L623.3,435.9 L626.36,435.9 L626.36,435.9 L629.42,435.9 L629.42,440 L632.47,440 L632.47,436.7 L635.53,436.7 L635.53,445.7 L638.58,445.7 L638.58,440 L641.64,440 L641.64,445.7 L644.7,445.7 L644.7,444.5 L647.75,444.5 L647.75,447.3 L650.81,447.3 L650.81,449 L653.86,449 L653.86,459.9 L656.92,459.9 L656.92,455.5 L659.98,455.5 L659.98,454.3 L663.03,454.3 L663.03,457.9 L666.09,457.9 L666.09,462 L669.14,462 L669.14,460.4 L672.2,460.4 L672.2,461.2 L675.26,461.2 L675.26,466.4 L678.31,466.4 L678.31,453.3 L681.37,453.3 L681.37,460.5 L684.42,460.5 L684.42,427 L687.48,427 L687.48,426.3 L690.54,426.3 L690.54,453.3 L693.59,453.3 L693.59,463.6 L696.65,463.6 L696.65,467.3 L699.7,467.3 L699.7,472.5 L702.76,472.5 L702.76,474.5 L705.82,474.5 L705.82,475.2 L708.87,475.2 L708.87,475.2 L711.93,475.2 L711.93,479.4 L714.98,479.4 L714.98,480.4 L718.04,480.4 L718.04,482 L721.1,482 L721.1,482 L724.15,482 L724.15,482 L727.21,482 L727.21,482 L730.26,482 L730.26,482 L733.32,482 L733.32,482 L736.38,482 L736.38,482 L739.43,482 L739.43,482 L742.49,482 L742.49,482 L745.54,482 L745.54,482 L748.6,482 L748.6,482.1" fill="none" stroke="#000" stroke-width="1"/>
<rect x="443.5" y="289.5" width="304.6" height="193.1" fill="none" stroke="#000" stroke-width="1"/>
<line x1="443" y1="482.5" x2="452" y2="482.5" stroke="#000" stroke-width="1"/>
<text x="440" y="485.3" font-size="8.7" text-anchor="end" stroke="#000" stroke-width="0.2">0</text>
<line x1="443" y1="475.5" x2="447.5" y2="475.5" stroke="#000" stroke-width="1"/>
<line x1="443" y1="468.5" x2="447.5" y2="468.5" stroke="#000" stroke-width="1"/>
<line x1="443" y1="461.5" x2="447.5" y2="461.5" stroke="#000" stroke-width="1"/>
<line x1="443" y1="453.5" x2="447.5" y2="453.5" stroke="#000" stroke-width="1"/>
<line x1="443" y1="446.5" x2="452" y2="446.5" stroke="#000" stroke-width="1"/>
<text x="440" y="449.35" font-size="8.7" text-anchor="end" stroke="#000" stroke-width="0.2">100</text>
<line x1="443" y1="439.5" x2="447.5" y2="439.5" stroke="#000" stroke-width="1"/>
<line x1="443" y1="432.5" x2="447.5" y2="432.5" stroke="#000" stroke-width="1"/>
<line x1="443" y1="425.5" x2="447.5" y2="425.5" stroke="#000" stroke-width="1"/>
<line x1="443" y1="417.5" x2="447.5" y2="417.5" stroke="#000" stroke-width="1"/>
<line x1="443" y1="410.5" x2="452" y2="410.5" stroke="#000" stroke-width="1"/>
<text x="440" y="413.4" font-size="8.7" text-anchor="end" stroke="#000" stroke-width="0.2">200</text>
<line x1="443" y1="403.5" x2="447.5" y2="403.5" stroke="#000" stroke-width="1"/>
<line x1="443" y1="396.5" x2="447.5" y2="396.5" stroke="#000" stroke-width="1"/>
<line x1="443" y1="389.5" x2="447.5" y2="389.5" stroke="#000" stroke-width="1"/>
<line x1="443" y1="382.5" x2="447.5" y2="382.5" stroke="#000" stroke-width="1"/>
<line x1="443" y1="374.5" x2="452" y2="374.5" stroke="#000" stroke-width="1"/>
<text x="440" y="377.45" font-size="8.7" text-anchor="end" stroke="#000" stroke-width="0.2">300</text>
<line x1="443" y1="367.5" x2="447.5" y2="367.5" stroke="#000" stroke-width="1"/>
<line x1="443" y1="360.5" x2="447.5" y2="360.5" stroke="#000" stroke-width="1"/>
<line x1="443" y1="353.5" x2="447.5" y2="353.5" stroke="#000" stroke-width="1"/>
<line x1="443" y1="346.5" x2="447.5" y2="346.5" stroke="#000" stroke-width="1"/>
<line x1="443" y1="338.5" x2="452" y2="338.5" stroke="#000" stroke-width="1"/>
<text x="440" y="341.5" font-size="8.7" text-anchor="end" stroke="#000" stroke-width="0.2">400</text>
<line x1="443" y1="331.5" x2="447.5" y2="331.5" stroke="#000" stroke-width="1"/>
<line x1="443" y1="324.5" x2="447.5" y2="324.5" stroke="#000" stroke-width="1"/>
<line x1="443" y1="317.5" x2="447.5" y2="317.5" stroke="#000" stroke-width="1"/>
<line x1="443" y1="310.5" x2="447.5" y2="310.5" stroke="#000" stroke-width="1"/>
<line x1="443" y1="302.5" x2="452" y2="302.5" stroke="#000" stroke-width="1"/>
<text x="440" y="305.55" font-size="8.7" text-anchor="end" stroke="#000" stroke-width="0.2">500</text>
<line x1="443" y1="295.5" x2="447.5" y2="295.5" stroke="#000" stroke-width="1"/>
<line x1="447.5" y1="482.1" x2="447.5" y2="478.9" stroke="#000" stroke-width="1"/>
<line x1="456.5" y1="482.1" x2="456.5" y2="478.9" stroke="#000" stroke-width="1"/>
<line x1="465.5" y1="482.1" x2="465.5" y2="476.1" stroke="#000" stroke-width="1"/>
<text x="464.83" y="489.7" font-size="8.7" text-anchor="middle" stroke="#000" stroke-width="0.2">-300</text>
<line x1="474.5" y1="482.1" x2="474.5" y2="478.9" stroke="#000" stroke-width="1"/>
<line x1="482.5" y1="482.1" x2="482.5" y2="478.9" stroke="#000" stroke-width="1"/>
<line x1="491.5" y1="482.1" x2="491.5" y2="478.9" stroke="#000" stroke-width="1"/>
<line x1="500.5" y1="482.1" x2="500.5" y2="478.9" stroke="#000" stroke-width="1"/>
<line x1="508.5" y1="482.1" x2="508.5" y2="476.1" stroke="#000" stroke-width="1"/>
<text x="508.49" y="489.7" font-size="8.7" text-anchor="middle" stroke="#000" stroke-width="0.2">-200</text>
<line x1="517.5" y1="482.1" x2="517.5" y2="478.9" stroke="#000" stroke-width="1"/>
<line x1="526.5" y1="482.1" x2="526.5" y2="478.9" stroke="#000" stroke-width="1"/>
<line x1="535.5" y1="482.1" x2="535.5" y2="478.9" stroke="#000" stroke-width="1"/>
<line x1="543.5" y1="482.1" x2="543.5" y2="478.9" stroke="#000" stroke-width="1"/>
<line x1="552.5" y1="482.1" x2="552.5" y2="476.1" stroke="#000" stroke-width="1"/>
<text x="552.14" y="489.7" font-size="8.7" text-anchor="middle" stroke="#000" stroke-width="0.2">-100</text>
<line x1="561.5" y1="482.1" x2="561.5" y2="478.9" stroke="#000" stroke-width="1"/>
<line x1="570.5" y1="482.1" x2="570.5" y2="478.9" stroke="#000" stroke-width="1"/>
<line x1="578.5" y1="482.1" x2="578.5" y2="478.9" stroke="#000" stroke-width="1"/>
<line x1="587.5" y1="482.1" x2="587.5" y2="478.9" stroke="#000" stroke-width="1"/>
<line x1="596.5" y1="482.1" x2="596.5" y2="476.1" stroke="#000" stroke-width="1"/>
<text x="595.8" y="489.7" font-size="8.7" text-anchor="middle" stroke="#000" stroke-width="0.2">0</text>
<line x1="605.5" y1="482.1" x2="605.5" y2="478.9" stroke="#000" stroke-width="1"/>
<line x1="613.5" y1="482.1" x2="613.5" y2="478.9" stroke="#000" stroke-width="1"/>
<line x1="622.5" y1="482.1" x2="622.5" y2="478.9" stroke="#000" stroke-width="1"/>
<line x1="631.5" y1="482.1" x2="631.5" y2="478.9" stroke="#000" stroke-width="1"/>
<line x1="639.5" y1="482.1" x2="639.5" y2="476.1" stroke="#000" stroke-width="1"/>
<text x="639.46" y="489.7" font-size="8.7" text-anchor="middle" stroke="#000" stroke-width="0.2">100</text>
<line x1="648.5" y1="482.1" x2="648.5" y2="478.9" stroke="#000" stroke-width="1"/>
<line x1="657.5" y1="482.1" x2="657.5" y2="478.9" stroke="#000" stroke-width="1"/>
<line x1="666.5" y1="482.1" x2="666.5" y2="478.9" stroke="#000" stroke-width="1"/>
<line x1="674.5" y1="482.1" x2="674.5" y2="478.9" stroke="#000" stroke-width="1"/>
<line x1="683.5" y1="482.1" x2="683.5" y2="476.1" stroke="#000" stroke-width="1"/>
<text x="683.11" y="489.7" font-size="8.7" text-anchor="middle" stroke="#000" stroke-width="0.2">200</text>
<line x1="692.5" y1="482.1" x2="692.5" y2="478.9" stroke="#000" stroke-width="1"/>
<line x1="701.5" y1="482.1" x2="701.5" y2="478.9" stroke="#000" stroke-width="1"/>
<line x1="709.5" y1="482.1" x2="709.5" y2="478.9" stroke="#000" stroke-width="1"/>
<line x1="718.5" y1="482.1" x2="718.5" y2="478.9" stroke="#000" stroke-width="1"/>
<line x1="727.5" y1="482.1" x2="727.5" y2="476.1" stroke="#000" stroke-width="1"/>
<text x="726.77" y="489.7" font-size="8.7" text-anchor="middle" stroke="#000" stroke-width="0.2">300</text>
<line x1="736.5" y1="482.1" x2="736.5" y2="478.9" stroke="#000" stroke-width="1"/>
<line x1="744.5" y1="482.1" x2="744.5" y2="478.9" stroke="#000" stroke-width="1"/>
<path d="M443 482.1 446.1 482.1 449.1 482.1 452.2 482.1 455.2 482.1 458.3 482.1 461.3 482.1 464.4 482.1 467.4 482.1 470.5 482.1 473.6 482.1 476.6 482.1 479.7 482.1 482.7 482.1 485.8 482.1 488.8 482.1 491.9 482.1 495 482.1 498 482 501.1 481.9 504.1 481.8 507.2 481.6 510.2 481.3 513.3 480.9 513.7 480.8 514.2 480.8 514.6 480.7 515 480.6 515.5 480.6 515.9 480.5 516.3 480.4 516.8 480.3 517.2 480.2 517.7 480.1 518.1 480 518.5 479.9 519 479.8 519.4 479.7 519.8 479.6 520.3 479.5 520.7 479.3 521.1 479.2 521.6 479.1 522 478.9 522.5 478.8 522.9 478.6 523.3 478.5 523.8 478.3 524.2 478.2 524.6 478 525.1 477.8 525.5 477.6 525.9 477.4 526.4 477.2 526.8 477 527.3 476.8 527.7 476.6 528.1 476.3 528.6 476.1 529 475.9 529.4 475.6 529.9 475.3 530.3 475.1 530.8 474.8 531.2 474.5 531.6 474.2 532.1 473.9 532.5 473.6 532.9 473.2 533.4 472.9 533.8 472.6 534.2 472.2 534.7 471.8 535.1 471.5 535.6 471.1 536 470.7 536.4 470.2 536.9 469.8 537.3 469.4 537.7 468.9 538.2 468.5 538.6 468 539 467.5 539.5 467 539.9 466.5 540.4 466 540.8 465.4 541.2 464.9 541.7 464.3 542.1 463.7 542.5 463.1 543 462.5 543.4 461.9 543.8 461.3 544.3 460.6 544.7 460 545.2 459.3 545.6 458.6 546 457.9 546.5 457.2 546.9 456.4 547.3 455.7 547.8 454.9 548.2 454.1 548.7 453.3 549.1 452.5 549.5 451.7 550 450.8 550.4 450 550.8 449.1 551.3 448.2 551.7 447.3 552.1 446.4 552.6 445.5 553 444.5 553.5 443.6 553.9 442.6 554.3 441.6 554.8 440.6 555.2 439.6 555.6 438.6 556.1 437.5 556.5 436.5 556.9 435.4 557.4 434.3 557.8 433.2 558.3 432.1 558.7 431 559.1 429.9 559.6 428.7 560 427.6 560.4 426.4 560.9 425.2 561.3 424.1 561.7 422.9 562.2 421.7 562.6 420.5 563.1 419.3 563.5 418 563.9 416.8 564.4 415.6 564.8 414.3 565.2 413.1 565.7 411.8 566.1 410.6 566.5 409.3 567 408.1 567.4 406.8 567.9 405.5 568.3 404.3 568.7 403 569.2 401.7 569.6 400.5 570 399.2 570.5 398 570.9 396.7 571.4 395.4 571.8 394.2 572.2 392.9 572.7 391.7 573.1 390.5 573.5 389.2 574 388 574.4 386.8 574.8 385.6 575.3 384.4 575.7 383.3 576.2 382.1 576.6 380.9 577 379.8 577.5 378.7 577.9 377.6 578.3 376.5 578.8 375.4 579.2 374.3 579.6 373.3 580.1 372.2 580.5 371.2 581 370.2 581.4 369.3 581.8 368.3 582.3 367.4 582.7 366.5 583.1 365.6 583.6 364.8 584 363.9 584.4 363.1 584.9 362.3 585.3 361.6 585.8 360.8 586.2 360.1 586.6 359.5 587.1 358.8 587.5 358.2 587.9 357.6 588.4 357.1 588.8 356.5 589.3 356 589.7 355.6 590.1 355.1 590.6 354.7 591 354.3 591.4 354 591.9 353.7 592.3 353.4 592.7 353.2 593.2 353 593.6 352.8 594.1 352.6 594.5 352.5 594.9 352.4 595.4 352.4 595.8 352.4 596.2 352.4 596.7 352.5 597.1 352.6 597.5 352.7 598 352.8 598.4 353 598.9 353.2 599.3 353.5 599.7 353.8 600.2 354.1 600.6 354.5 601 354.8 601.5 355.3 601.9 355.7 602.3 356.2 602.8 356.7 603.2 357.2 603.7 357.8 604.1 358.4 604.5 359 605 359.7 605.4 360.4 605.8 361.1 606.3 361.8 606.7 362.6 607.2 363.4 607.6 364.2 608 365 608.5 365.9 608.9 366.8 609.3 367.7 609.8 368.6 610.2 369.6 610.6 370.6 611.1 371.6 611.5 372.6 612 373.6 612.4 374.7 612.8 375.7 613.3 376.8 613.7 377.9 614.1 379 614.6 380.2 615 381.3 615.4 382.5 615.9 383.7 616.3 384.8 616.8 386 617.2 387.2 617.6 388.4 618.1 389.7 618.5 390.9 618.9 392.1 619.4 393.4 619.8 394.6 620.2 395.9 620.7 397.1 621.1 398.4 621.6 399.6 622 400.9 622.4 402.2 622.9 403.4 623.3 404.7 623.7 406 624.2 407.2 624.6 408.5 625.1 409.8 625.5 411 625.9 412.3 626.4 413.5 626.8 414.8 627.2 416 627.7 417.2 628.1 418.5 628.5 419.7 629 420.9 629.4 422.1 629.9 423.3 630.3 424.5 630.7 425.6 631.2 426.8 631.6 428 632 429.1 632.5 430.3 632.9 431.4 633.3 432.5 633.8 433.6 634.2 434.7 634.7 435.8 635.1 436.8 635.5 437.9 636 438.9 636.4 439.9 636.8 440.9 637.3 441.9 637.7 442.9 638.1 443.9 638.6 444.9 639 445.8 639.5 446.7 639.9 447.6 640.3 448.5 640.8 449.4 641.2 450.3 641.6 451.1 642.1 452 642.5 452.8 642.9 453.6 643.4 454.4 643.8 455.2 644.3 455.9 644.7 456.7 645.1 457.4 645.6 458.1 646 458.8 646.4 459.5 646.9 460.2 647.3 460.9 647.8 461.5 648.2 462.1 648.6 462.7 649.1 463.3 649.5 463.9 649.9 464.5 650.4 465.1 650.8 465.6 651.2 466.2 651.7 466.7 652.1 467.2 652.6 467.7 653 468.2 653.4 468.6 653.9 469.1 654.3 469.5 654.7 470 655.2 470.4 655.6 470.8 656 471.2 656.5 471.6 656.9 472 657.4 472.3 657.8 472.7 658.2 473 658.7 473.4 659.1 473.7 659.5 474 660 474.3 660.4 474.6 660.8 474.9 661.3 475.2 661.7 475.4 662.2 475.7 662.6 475.9 663 476.2 663.5 476.4 663.9 476.7 664.3 476.9 664.8 477.1 665.2 477.3 665.7 477.5 666.1 477.7 666.5 477.9 667 478 667.4 478.2 667.8 478.4 668.3 478.5 668.7 478.7 669.1 478.8 669.6 479 670 479.1 670.5 479.3 670.9 479.4 671.3 479.5 671.8 479.6 672.2 479.7 672.6 479.9 673.1 480 673.5 480.1 673.9 480.2 674.4 480.2 674.8 480.3 675.3 480.4 675.7 480.5 676.1 480.6 676.6 480.7 677 480.7 677.4 480.8 677.9 480.9 678.3 480.9 678.7 481 679.2 481 679.6 481.1 680.1 481.2 683.1 481.5 686.2 481.7 689.2 481.9 692.3 482 695.3 482 698.4 482.1 701.5 482.1 704.5 482.1 707.6 482.1 710.6 482.1 713.7 482.1 716.7 482.1 719.8 482.1 722.8 482.1 725.9 482.1 729 482.1 732 482.1 735.1 482.1 738.1 482.1 741.2 482.1 744.2 482.1 747.3 482.1" fill="none" stroke="#000" stroke-width="3.4" stroke-linejoin="round" shape-rendering="auto"/>
<line x1="632" y1="289.5" x2="642" y2="289.5" stroke="#000" stroke-width="1"/>
<polygon points="632,268 634,268 634,299 410,299 410,297 632,297" fill="#000"/>
<rect x="408.5" y="266.5" width="223" height="30" fill="#f2f2f2" stroke="#000" stroke-width="1"/>
<text transform="matrix(1,0,0,0.88,422.3,275.8)" font-size="10" stroke="#000" stroke-width="0.3">Difference between Original function</text>
<text transform="matrix(1,0,0,0.88,422.3,289.5)" font-size="10" stroke="#000" stroke-width="0.3">and Interpolation with Delaunay triangles</text>
<polygon points="780,268 782,268 782,316 643,316 643,314 780,314" fill="#000"/>
<rect x="641.5" y="266.5" width="138" height="47" fill="#f2f2f2" stroke="#000" stroke-width="1"/>
<text transform="matrix(1,0,0,0.88,648.4,275)" font-size="9.8" stroke="#000" stroke-width="0.3"><tspan font-family="Liberation Serif" font-weight="normal" font-size="12">χ</tspan><tspan font-size="6.5" dy="-4.5">2</tspan><tspan dy="4.5"> / ndf</tspan></text>
<text transform="matrix(1,0,0,0.88,771.8,275)" font-size="9.8" text-anchor="end" stroke="#000" stroke-width="0.3">1958 / 81</text>
<text transform="matrix(1,0,0,0.88,648.4,286.8)" font-size="9.8" stroke="#000" stroke-width="0.3">Constant</text>
<text transform="matrix(1,0,0,0.88,771.8,286.8)" font-size="9.8" text-anchor="end" stroke="#000" stroke-width="0.3">361.1<tspan font-size="7.5"> </tspan><tspan font-weight="normal" font-size="10.5">±</tspan> 8.7</text>
<text transform="matrix(1,0,0,0.88,648.4,298.8)" font-size="9.8" stroke="#000" stroke-width="0.3">Mean</text>
<text transform="matrix(1,0,0,0.88,771.8,298.8)" font-size="9.8" text-anchor="end" stroke="#000" stroke-width="0.3">-0.1693<tspan font-size="7.5"> </tspan><tspan font-weight="normal" font-size="10.5">±</tspan> 0.9269</text>
<text transform="matrix(1,0,0,0.88,648.4,309.9)" font-size="9.8" stroke="#000" stroke-width="0.3">Sigma</text>
<text transform="matrix(1,0,0,0.88,771.8,309.9)" font-size="9.8" text-anchor="end" stroke="#000" stroke-width="0.3">62.19<tspan font-size="7.5"> </tspan><tspan font-weight="normal" font-size="10.5">±</tspan> 1.33</text>
<path d="M443,739 L593.4,739 L593.4,719 L594.4,719 L594.4,685 L595.3,685 L595.3,651 L596,651 L596,546 L596.9,546 L596.9,685 L597.8,685 L597.8,716 L600.5,716 L600.5,713.3 L603.3,713.3 L603.3,736.5 L604.5,736.5 L604.5,715.3 L611.9,715.3 L611.9,739 L748.6,739 Z" fill="#b0cfc7" stroke="none"/>
<path d="M443,739 L593.4,739 L593.4,719 L594.4,719 L594.4,685 L595.3,685 L595.3,651 L596,651 L596,546 L596.9,546 L596.9,685 L597.8,685 L597.8,716 L600.5,716 L600.5,713.3 L603.3,713.3 L603.3,736.5 L604.5,736.5 L604.5,715.3 L611.9,715.3 L611.9,739 L748.6,739" fill="none" stroke="#000" stroke-width="1"/>
<rect x="443.5" y="546.5" width="304.6" height="192.6" fill="none" stroke="#000" stroke-width="1"/>
<line x1="443" y1="739.5" x2="452" y2="739.5" stroke="#000" stroke-width="1"/>
<text x="440" y="741.8" font-size="8.7" text-anchor="end" stroke="#000" stroke-width="0.2">0</text>
<line x1="443" y1="735.5" x2="447.5" y2="735.5" stroke="#000" stroke-width="1"/>
<line x1="443" y1="731.5" x2="447.5" y2="731.5" stroke="#000" stroke-width="1"/>
<line x1="443" y1="727.5" x2="447.5" y2="727.5" stroke="#000" stroke-width="1"/>
<line x1="443" y1="723.5" x2="447.5" y2="723.5" stroke="#000" stroke-width="1"/>
<line x1="443" y1="720.5" x2="452" y2="720.5" stroke="#000" stroke-width="1"/>
<text x="440" y="722.66" font-size="8.7" text-anchor="end" stroke="#000" stroke-width="0.2">200</text>
<line x1="443" y1="716.5" x2="447.5" y2="716.5" stroke="#000" stroke-width="1"/>
<line x1="443" y1="712.5" x2="447.5" y2="712.5" stroke="#000" stroke-width="1"/>
<line x1="443" y1="708.5" x2="447.5" y2="708.5" stroke="#000" stroke-width="1"/>
<line x1="443" y1="704.5" x2="447.5" y2="704.5" stroke="#000" stroke-width="1"/>
<line x1="443" y1="700.5" x2="452" y2="700.5" stroke="#000" stroke-width="1"/>
<text x="440" y="703.52" font-size="8.7" text-anchor="end" stroke="#000" stroke-width="0.2">400</text>
<line x1="443" y1="697.5" x2="447.5" y2="697.5" stroke="#000" stroke-width="1"/>
<line x1="443" y1="693.5" x2="447.5" y2="693.5" stroke="#000" stroke-width="1"/>
<line x1="443" y1="689.5" x2="447.5" y2="689.5" stroke="#000" stroke-width="1"/>
<line x1="443" y1="685.5" x2="447.5" y2="685.5" stroke="#000" stroke-width="1"/>
<line x1="443" y1="681.5" x2="452" y2="681.5" stroke="#000" stroke-width="1"/>
<text x="440" y="684.38" font-size="8.7" text-anchor="end" stroke="#000" stroke-width="0.2">600</text>
<line x1="443" y1="677.5" x2="447.5" y2="677.5" stroke="#000" stroke-width="1"/>
<line x1="443" y1="674.5" x2="447.5" y2="674.5" stroke="#000" stroke-width="1"/>
<line x1="443" y1="670.5" x2="447.5" y2="670.5" stroke="#000" stroke-width="1"/>
<line x1="443" y1="666.5" x2="447.5" y2="666.5" stroke="#000" stroke-width="1"/>
<line x1="443" y1="662.5" x2="452" y2="662.5" stroke="#000" stroke-width="1"/>
<text x="440" y="665.24" font-size="8.7" text-anchor="end" stroke="#000" stroke-width="0.2">800</text>
<line x1="443" y1="658.5" x2="447.5" y2="658.5" stroke="#000" stroke-width="1"/>
<line x1="443" y1="654.5" x2="447.5" y2="654.5" stroke="#000" stroke-width="1"/>
<line x1="443" y1="651.5" x2="447.5" y2="651.5" stroke="#000" stroke-width="1"/>
<line x1="443" y1="647.5" x2="447.5" y2="647.5" stroke="#000" stroke-width="1"/>
<line x1="443" y1="643.5" x2="452" y2="643.5" stroke="#000" stroke-width="1"/>
<text x="440" y="646.1" font-size="8.7" text-anchor="end" stroke="#000" stroke-width="0.2">1000</text>
<line x1="443" y1="639.5" x2="447.5" y2="639.5" stroke="#000" stroke-width="1"/>
<line x1="443" y1="635.5" x2="447.5" y2="635.5" stroke="#000" stroke-width="1"/>
<line x1="443" y1="632.5" x2="447.5" y2="632.5" stroke="#000" stroke-width="1"/>
<line x1="443" y1="628.5" x2="447.5" y2="628.5" stroke="#000" stroke-width="1"/>
<line x1="443" y1="624.5" x2="452" y2="624.5" stroke="#000" stroke-width="1"/>
<text x="440" y="626.96" font-size="8.7" text-anchor="end" stroke="#000" stroke-width="0.2">1200</text>
<line x1="443" y1="620.5" x2="447.5" y2="620.5" stroke="#000" stroke-width="1"/>
<line x1="443" y1="616.5" x2="447.5" y2="616.5" stroke="#000" stroke-width="1"/>
<line x1="443" y1="612.5" x2="447.5" y2="612.5" stroke="#000" stroke-width="1"/>
<line x1="443" y1="609.5" x2="447.5" y2="609.5" stroke="#000" stroke-width="1"/>
<line x1="443" y1="605.5" x2="452" y2="605.5" stroke="#000" stroke-width="1"/>
<text x="440" y="607.82" font-size="8.7" text-anchor="end" stroke="#000" stroke-width="0.2">1400</text>
<line x1="443" y1="601.5" x2="447.5" y2="601.5" stroke="#000" stroke-width="1"/>
<line x1="443" y1="597.5" x2="447.5" y2="597.5" stroke="#000" stroke-width="1"/>
<line x1="443" y1="593.5" x2="447.5" y2="593.5" stroke="#000" stroke-width="1"/>
<line x1="443" y1="589.5" x2="447.5" y2="589.5" stroke="#000" stroke-width="1"/>
<line x1="443" y1="586.5" x2="452" y2="586.5" stroke="#000" stroke-width="1"/>
<text x="440" y="588.68" font-size="8.7" text-anchor="end" stroke="#000" stroke-width="0.2">1600</text>
<line x1="443" y1="582.5" x2="447.5" y2="582.5" stroke="#000" stroke-width="1"/>
<line x1="443" y1="578.5" x2="447.5" y2="578.5" stroke="#000" stroke-width="1"/>
<line x1="443" y1="574.5" x2="447.5" y2="574.5" stroke="#000" stroke-width="1"/>
<line x1="443" y1="570.5" x2="447.5" y2="570.5" stroke="#000" stroke-width="1"/>
<line x1="443" y1="566.5" x2="452" y2="566.5" stroke="#000" stroke-width="1"/>
<text x="440" y="569.54" font-size="8.7" text-anchor="end" stroke="#000" stroke-width="0.2">1800</text>
<line x1="443" y1="563.5" x2="447.5" y2="563.5" stroke="#000" stroke-width="1"/>
<line x1="443" y1="559.5" x2="447.5" y2="559.5" stroke="#000" stroke-width="1"/>
<line x1="447.5" y1="738.6" x2="447.5" y2="735.4" stroke="#000" stroke-width="1"/>
<line x1="456.5" y1="738.6" x2="456.5" y2="735.4" stroke="#000" stroke-width="1"/>
<line x1="465.5" y1="738.6" x2="465.5" y2="732.6" stroke="#000" stroke-width="1"/>
<text x="464.83" y="748.1" font-size="8.7" text-anchor="middle" stroke="#000" stroke-width="0.2">-300</text>
<line x1="474.5" y1="738.6" x2="474.5" y2="735.4" stroke="#000" stroke-width="1"/>
<line x1="482.5" y1="738.6" x2="482.5" y2="735.4" stroke="#000" stroke-width="1"/>
<line x1="491.5" y1="738.6" x2="491.5" y2="735.4" stroke="#000" stroke-width="1"/>
<line x1="500.5" y1="738.6" x2="500.5" y2="735.4" stroke="#000" stroke-width="1"/>
<line x1="508.5" y1="738.6" x2="508.5" y2="732.6" stroke="#000" stroke-width="1"/>
<text x="508.49" y="748.1" font-size="8.7" text-anchor="middle" stroke="#000" stroke-width="0.2">-200</text>
<line x1="517.5" y1="738.6" x2="517.5" y2="735.4" stroke="#000" stroke-width="1"/>
<line x1="526.5" y1="738.6" x2="526.5" y2="735.4" stroke="#000" stroke-width="1"/>
<line x1="535.5" y1="738.6" x2="535.5" y2="735.4" stroke="#000" stroke-width="1"/>
<line x1="543.5" y1="738.6" x2="543.5" y2="735.4" stroke="#000" stroke-width="1"/>
<line x1="552.5" y1="738.6" x2="552.5" y2="732.6" stroke="#000" stroke-width="1"/>
<text x="552.14" y="748.1" font-size="8.7" text-anchor="middle" stroke="#000" stroke-width="0.2">-100</text>
<line x1="561.5" y1="738.6" x2="561.5" y2="735.4" stroke="#000" stroke-width="1"/>
<line x1="570.5" y1="738.6" x2="570.5" y2="735.4" stroke="#000" stroke-width="1"/>
<line x1="578.5" y1="738.6" x2="578.5" y2="735.4" stroke="#000" stroke-width="1"/>
<line x1="587.5" y1="738.6" x2="587.5" y2="735.4" stroke="#000" stroke-width="1"/>
<line x1="596.5" y1="738.6" x2="596.5" y2="732.6" stroke="#000" stroke-width="1"/>
<text x="595.8" y="748.1" font-size="8.7" text-anchor="middle" stroke="#000" stroke-width="0.2">0</text>
<line x1="605.5" y1="738.6" x2="605.5" y2="735.4" stroke="#000" stroke-width="1"/>
<line x1="613.5" y1="738.6" x2="613.5" y2="735.4" stroke="#000" stroke-width="1"/>
<line x1="622.5" y1="738.6" x2="622.5" y2="735.4" stroke="#000" stroke-width="1"/>
<line x1="631.5" y1="738.6" x2="631.5" y2="735.4" stroke="#000" stroke-width="1"/>
<line x1="639.5" y1="738.6" x2="639.5" y2="732.6" stroke="#000" stroke-width="1"/>
<text x="639.46" y="748.1" font-size="8.7" text-anchor="middle" stroke="#000" stroke-width="0.2">100</text>
<line x1="648.5" y1="738.6" x2="648.5" y2="735.4" stroke="#000" stroke-width="1"/>
<line x1="657.5" y1="738.6" x2="657.5" y2="735.4" stroke="#000" stroke-width="1"/>
<line x1="666.5" y1="738.6" x2="666.5" y2="735.4" stroke="#000" stroke-width="1"/>
<line x1="674.5" y1="738.6" x2="674.5" y2="735.4" stroke="#000" stroke-width="1"/>
<line x1="683.5" y1="738.6" x2="683.5" y2="732.6" stroke="#000" stroke-width="1"/>
<text x="683.11" y="748.1" font-size="8.7" text-anchor="middle" stroke="#000" stroke-width="0.2">200</text>
<line x1="692.5" y1="738.6" x2="692.5" y2="735.4" stroke="#000" stroke-width="1"/>
<line x1="701.5" y1="738.6" x2="701.5" y2="735.4" stroke="#000" stroke-width="1"/>
<line x1="709.5" y1="738.6" x2="709.5" y2="735.4" stroke="#000" stroke-width="1"/>
<line x1="718.5" y1="738.6" x2="718.5" y2="735.4" stroke="#000" stroke-width="1"/>
<line x1="727.5" y1="738.6" x2="727.5" y2="732.6" stroke="#000" stroke-width="1"/>
<text x="726.77" y="748.1" font-size="8.7" text-anchor="middle" stroke="#000" stroke-width="0.2">300</text>
<line x1="736.5" y1="738.6" x2="736.5" y2="735.4" stroke="#000" stroke-width="1"/>
<line x1="744.5" y1="738.6" x2="744.5" y2="735.4" stroke="#000" stroke-width="1"/>
<path d="M443 738.6 446.1 738.6 449.1 738.6 452.2 738.6 455.2 738.6 458.3 738.6 461.3 738.6 464.4 738.6 467.4 738.6 470.5 738.6 473.6 738.6 476.6 738.6 479.7 738.6 482.7 738.6 485.8 738.6 488.8 738.6 491.9 738.6 495 738.6 498 738.6 501.1 738.6 504.1 738.6 507.2 738.6 510.2 738.6 513.3 738.6 516.3 738.6 519.4 738.6 522.5 738.6 525.5 738.6 528.6 738.6 531.6 738.6 534.7 738.6 537.7 738.6 540.8 738.6 543.8 738.6 546.9 738.6 550 738.6 553 738.6 556.1 738.6 559.1 738.6 562.2 738.6 565.2 738.6 568.3 738.6 571.4 738.6 574.4 738.6 577.5 738.6 580.5 738.6 583.6 738.6 586.6 738.2 587.1 738.1 587.5 738 587.9 737.8 588.4 737.7 588.8 737.5 589.3 737.2 589.7 737 590.1 736.7 590.6 736.4 591 736 591.4 735.6 591.9 735.1 592.3 734.6 592.7 734.1 593.2 733.5 593.6 732.8 594.1 732.1 594.5 731.3 594.9 730.5 595.4 729.7 595.8 728.7 596.2 727.8 596.7 726.8 597.1 725.8 597.5 724.8 598 723.7 598.4 722.7 598.9 721.6 599.3 720.6 599.7 719.6 600.2 718.6 600.6 717.7 601 716.9 601.5 716.1 601.9 715.4 602.3 714.8 602.8 714.2 603.2 713.8 603.7 713.5 604.1 713.3 604.5 713.2 605 713.3 605.4 713.4 605.8 713.7 606.3 714.1 606.7 714.6 607.2 715.2 607.6 715.9 608 716.6 608.5 717.4 608.9 718.3 609.3 719.3 609.8 720.3 610.2 721.3 610.6 722.3 611.1 723.4 611.5 724.4 612 725.5 612.4 726.5 612.8 727.5 613.3 728.4 613.7 729.4 614.1 730.2 614.6 731.1 615 731.9 615.4 732.6 615.9 733.3 616.3 733.9 616.8 734.5 617.2 735 617.6 735.4 618.1 735.9 618.5 736.3 618.9 736.6 619.4 736.9 619.8 737.2 620.2 737.4 620.7 737.6 621.1 737.8 621.6 737.9 622 738 622.4 738.2 622.9 738.3 623.3 738.3 623.7 738.4 624.2 738.5 627.2 738.6 630.3 738.6 633.3 738.6 636.4 738.6 639.5 738.6 642.5 738.6 645.6 738.6 648.6 738.6 651.7 738.6 654.7 738.6 657.8 738.6 660.8 738.6 663.9 738.6 667 738.6 670 738.6 673.1 738.6 676.1 738.6 679.2 738.6 682.2 738.6 685.3 738.6 688.4 738.6 691.4 738.6 694.5 738.6 697.5 738.6 700.6 738.6 703.6 738.6 706.7 738.6 709.7 738.6 712.8 738.6 715.9 738.6 718.9 738.6 722 738.6 725 738.6 728.1 738.6 731.1 738.6 734.2 738.6 737.2 738.6 740.3 738.6 743.4 738.6 746.4 738.6" fill="none" stroke="#000" stroke-width="3.4" stroke-linejoin="round" shape-rendering="auto"/>
<line x1="609" y1="546.5" x2="642" y2="546.5" stroke="#000" stroke-width="1"/>
<polygon points="609,525 611,525 611,555 410,555 410,553 609,553" fill="#000"/>
<rect x="408.5" y="523.5" width="200" height="29" fill="#f2f2f2" stroke="#000" stroke-width="1"/>
<text transform="matrix(1,0,0,0.88,421.6,533.8)" font-size="10" stroke="#000" stroke-width="0.3">Difference between Original function</text>
<text transform="matrix(1,0,0,0.88,421.6,547.7)" font-size="10" stroke="#000" stroke-width="0.3">and Minuit fit</text>
<polygon points="780,525 782,525 782,573 643,573 643,571 780,571" fill="#000"/>
<rect x="641.5" y="523.5" width="138" height="47" fill="#f2f2f2" stroke="#000" stroke-width="1"/>
<text transform="matrix(1,0,0,0.88,648.4,532)" font-size="9.8" stroke="#000" stroke-width="0.3"><tspan font-family="Liberation Serif" font-weight="normal" font-size="12">χ</tspan><tspan font-size="6.5" dy="-4.5">2</tspan><tspan dy="4.5"> / ndf</tspan></text>
<text transform="matrix(1,0,0,0.88,771.8,532)" font-size="9.8" text-anchor="end" stroke="#000" stroke-width="0.3">4120 / 29</text>
<text transform="matrix(1,0,0,0.88,648.4,543.6)" font-size="9.8" stroke="#000" stroke-width="0.3">Constant</text>
<text transform="matrix(1,0,0,0.88,771.8,543.6)" font-size="9.8" text-anchor="end" stroke="#000" stroke-width="0.3">266<tspan font-size="7.5"> </tspan><tspan font-weight="normal" font-size="10.5">±</tspan> 4.0</text>
<text transform="matrix(1,0,0,0.88,648.4,555.1)" font-size="9.8" stroke="#000" stroke-width="0.3">Mean</text>
<text transform="matrix(1,0,0,0.88,771.8,555.1)" font-size="9.8" text-anchor="end" stroke="#000" stroke-width="0.3">20.16<tspan font-size="7.5"> </tspan><tspan font-weight="normal" font-size="10.5">±</tspan> 0.40</text>
<text transform="matrix(1,0,0,0.88,648.4,566.7)" font-size="9.8" stroke="#000" stroke-width="0.3">Sigma</text>
<text transform="matrix(1,0,0,0.88,771.8,566.7)" font-size="9.8" text-anchor="end" stroke="#000" stroke-width="0.3">14.71<tspan font-size="7.5"> </tspan><tspan font-weight="normal" font-size="10.5">±</tspan> 0.26</text>
<line x1="45.4" y1="62.2" x2="238.6" y2="30.5" stroke="#000" stroke-width="1" stroke-dasharray="4,3"/>
<path d="M238 30.5h1M241 31.5h1M243 32.5h1M245 34.5h1M248 35.5h1M250 36.5h1M253 37.5h1M255 38.5h1M258 40.5h1M260 41.5h1M262 42.5h1M265 43.5h1M267 44.5h1M270 45.5h1M272 47.5h1M275 48.5h1M277 49.5h1M279 50.5h1M282 51.5h1M284 53.5h1M287 54.5h1M289 55.5h1M292 56.5h1M294 57.5h1M296 59.5h1M299 60.5h1M301 61.5h1M304 62.5h1M306 63.5h1M309 64.5h1M311 66.5h1M313 67.5h1M316 68.5h1M318 69.5h1M321 70.5h1M323 72.5h1M326 73.5h1M328 74.5h1M330 75.5h1M333 76.5h1M335 78.5h1M338 79.5h1M340 80.5h1M343 81.5h1M345 82.5h1M347 84.5h1M350 85.5h1" stroke="#000" stroke-width="1" fill="none"/>
<line x1="350.4" y1="192.5" x2="350.4" y2="85.2" stroke="#000" stroke-width="1"/>
<line x1="45.4" y1="169.5" x2="45.4" y2="62.2" stroke="#000" stroke-width="1"/>
<line x1="45.4" y1="62.2" x2="157.2" y2="116.9" stroke="#000" stroke-width="1" shape-rendering="auto"/>
<line x1="157.2" y1="116.9" x2="350.4" y2="85.2" stroke="#000" stroke-width="1" shape-rendering="auto"/>
<line x1="157.2" y1="224.2" x2="45.4" y2="169.5" stroke="#000" stroke-width="1" shape-rendering="auto"/>
<line x1="157.2" y1="224.2" x2="350.4" y2="192.5" stroke="#000" stroke-width="1" shape-rendering="auto"/>
<line x1="39.9" y1="169.5" x2="45.4" y2="169.5" stroke="#000" stroke-width="1"/>
<text x="39.4" y="172" font-size="8.7" text-anchor="end" stroke="#000" stroke-width="0.2">0</text>
<line x1="42.4" y1="165.5" x2="45.4" y2="165.5" stroke="#000" stroke-width="1"/>
<line x1="42.4" y1="162.5" x2="45.4" y2="162.5" stroke="#000" stroke-width="1"/>
<line x1="42.4" y1="158.5" x2="45.4" y2="158.5" stroke="#000" stroke-width="1"/>
<line x1="39.9" y1="155.5" x2="45.4" y2="155.5" stroke="#000" stroke-width="1"/>
<text x="39.4" y="157.69" font-size="8.7" text-anchor="end" stroke="#000" stroke-width="0.2">200</text>
<line x1="42.4" y1="151.5" x2="45.4" y2="151.5" stroke="#000" stroke-width="1"/>
<line x1="42.4" y1="148.5" x2="45.4" y2="148.5" stroke="#000" stroke-width="1"/>
<line x1="42.4" y1="144.5" x2="45.4" y2="144.5" stroke="#000" stroke-width="1"/>
<line x1="39.9" y1="140.5" x2="45.4" y2="140.5" stroke="#000" stroke-width="1"/>
<text x="39.4" y="143.39" font-size="8.7" text-anchor="end" stroke="#000" stroke-width="0.2">400</text>
<line x1="42.4" y1="137.5" x2="45.4" y2="137.5" stroke="#000" stroke-width="1"/>
<line x1="42.4" y1="133.5" x2="45.4" y2="133.5" stroke="#000" stroke-width="1"/>
<line x1="42.4" y1="130.5" x2="45.4" y2="130.5" stroke="#000" stroke-width="1"/>
<line x1="39.9" y1="126.5" x2="45.4" y2="126.5" stroke="#000" stroke-width="1"/>
<text x="39.4" y="129.08" font-size="8.7" text-anchor="end" stroke="#000" stroke-width="0.2">600</text>
<line x1="42.4" y1="123.5" x2="45.4" y2="123.5" stroke="#000" stroke-width="1"/>
<line x1="42.4" y1="119.5" x2="45.4" y2="119.5" stroke="#000" stroke-width="1"/>
<line x1="42.4" y1="115.5" x2="45.4" y2="115.5" stroke="#000" stroke-width="1"/>
<line x1="39.9" y1="112.5" x2="45.4" y2="112.5" stroke="#000" stroke-width="1"/>
<text x="39.4" y="114.77" font-size="8.7" text-anchor="end" stroke="#000" stroke-width="0.2">800</text>
<line x1="42.4" y1="108.5" x2="45.4" y2="108.5" stroke="#000" stroke-width="1"/>
<line x1="42.4" y1="105.5" x2="45.4" y2="105.5" stroke="#000" stroke-width="1"/>
<line x1="42.4" y1="101.5" x2="45.4" y2="101.5" stroke="#000" stroke-width="1"/>
<line x1="39.9" y1="97.5" x2="45.4" y2="97.5" stroke="#000" stroke-width="1"/>
<text x="39.4" y="100.47" font-size="8.7" text-anchor="end" stroke="#000" stroke-width="0.2">1000</text>
<line x1="42.4" y1="94.5" x2="45.4" y2="94.5" stroke="#000" stroke-width="1"/>
<line x1="42.4" y1="90.5" x2="45.4" y2="90.5" stroke="#000" stroke-width="1"/>
<line x1="42.4" y1="87.5" x2="45.4" y2="87.5" stroke="#000" stroke-width="1"/>
<line x1="39.9" y1="83.5" x2="45.4" y2="83.5" stroke="#000" stroke-width="1"/>
<text x="39.4" y="86.16" font-size="8.7" text-anchor="end" stroke="#000" stroke-width="0.2">1200</text>
<line x1="42.4" y1="80.5" x2="45.4" y2="80.5" stroke="#000" stroke-width="1"/>
<line x1="42.4" y1="76.5" x2="45.4" y2="76.5" stroke="#000" stroke-width="1"/>
<line x1="42.4" y1="72.5" x2="45.4" y2="72.5" stroke="#000" stroke-width="1"/>
<line x1="39.9" y1="69.5" x2="45.4" y2="69.5" stroke="#000" stroke-width="1"/>
<text x="39.4" y="71.85" font-size="8.7" text-anchor="end" stroke="#000" stroke-width="0.2">1400</text>
<line x1="42.4" y1="65.5" x2="45.4" y2="65.5" stroke="#000" stroke-width="1"/>
<line x1="42.4" y1="62.5" x2="45.4" y2="62.5" stroke="#000" stroke-width="1"/>
<line x1="157.2" y1="224.2" x2="157.2" y2="228.2" stroke="#000" stroke-width="1" shape-rendering="auto"/>
<line x1="165.25" y1="222.88" x2="165.25" y2="225.08" stroke="#000" stroke-width="1" shape-rendering="auto"/>
<line x1="173.3" y1="221.56" x2="173.3" y2="223.76" stroke="#000" stroke-width="1" shape-rendering="auto"/>
<line x1="181.35" y1="220.24" x2="181.35" y2="222.44" stroke="#000" stroke-width="1" shape-rendering="auto"/>
<line x1="189.4" y1="218.92" x2="189.4" y2="222.92" stroke="#000" stroke-width="1" shape-rendering="auto"/>
<line x1="197.45" y1="217.6" x2="197.45" y2="219.8" stroke="#000" stroke-width="1" shape-rendering="auto"/>
<line x1="205.5" y1="216.27" x2="205.5" y2="218.47" stroke="#000" stroke-width="1" shape-rendering="auto"/>
<line x1="213.55" y1="214.95" x2="213.55" y2="217.15" stroke="#000" stroke-width="1" shape-rendering="auto"/>
<line x1="221.6" y1="213.63" x2="221.6" y2="217.63" stroke="#000" stroke-width="1" shape-rendering="auto"/>
<line x1="229.65" y1="212.31" x2="229.65" y2="214.51" stroke="#000" stroke-width="1" shape-rendering="auto"/>
<line x1="237.7" y1="210.99" x2="237.7" y2="213.19" stroke="#000" stroke-width="1" shape-rendering="auto"/>
<line x1="245.75" y1="209.67" x2="245.75" y2="211.87" stroke="#000" stroke-width="1" shape-rendering="auto"/>
<line x1="253.8" y1="208.35" x2="253.8" y2="212.35" stroke="#000" stroke-width="1" shape-rendering="auto"/>
<line x1="261.85" y1="207.03" x2="261.85" y2="209.23" stroke="#000" stroke-width="1" shape-rendering="auto"/>
<line x1="269.9" y1="205.71" x2="269.9" y2="207.91" stroke="#000" stroke-width="1" shape-rendering="auto"/>
<line x1="277.95" y1="204.39" x2="277.95" y2="206.59" stroke="#000" stroke-width="1" shape-rendering="auto"/>
<line x1="286" y1="203.07" x2="286" y2="207.07" stroke="#000" stroke-width="1" shape-rendering="auto"/>
<line x1="294.05" y1="201.75" x2="294.05" y2="203.95" stroke="#000" stroke-width="1" shape-rendering="auto"/>
<line x1="302.1" y1="200.43" x2="302.1" y2="202.62" stroke="#000" stroke-width="1" shape-rendering="auto"/>
<line x1="310.15" y1="199.1" x2="310.15" y2="201.3" stroke="#000" stroke-width="1" shape-rendering="auto"/>
<line x1="318.2" y1="197.78" x2="318.2" y2="201.78" stroke="#000" stroke-width="1" shape-rendering="auto"/>
<line x1="326.25" y1="196.46" x2="326.25" y2="198.66" stroke="#000" stroke-width="1" shape-rendering="auto"/>
<line x1="334.3" y1="195.14" x2="334.3" y2="197.34" stroke="#000" stroke-width="1" shape-rendering="auto"/>
<line x1="342.35" y1="193.82" x2="342.35" y2="196.02" stroke="#000" stroke-width="1" shape-rendering="auto"/>
<line x1="350.4" y1="192.5" x2="350.4" y2="196.5" stroke="#000" stroke-width="1" shape-rendering="auto"/>
<text x="160" y="236.6" font-size="8.7" text-anchor="middle" stroke="#000" stroke-width="0.2">-6</text>
<text x="192.2" y="231.32" font-size="8.7" text-anchor="middle" stroke="#000" stroke-width="0.2">-4</text>
<text x="224.4" y="226.03" font-size="8.7" text-anchor="middle" stroke="#000" stroke-width="0.2">-2</text>
<text x="256.6" y="220.75" font-size="8.7" text-anchor="middle" stroke="#000" stroke-width="0.2">0</text>
<text x="288.8" y="215.47" font-size="8.7" text-anchor="middle" stroke="#000" stroke-width="0.2">2</text>
<text x="321" y="210.18" font-size="8.7" text-anchor="middle" stroke="#000" stroke-width="0.2">4</text>
<text x="353.2" y="204.9" font-size="8.7" text-anchor="middle" stroke="#000" stroke-width="0.2">6</text>
<line x1="157.2" y1="224.2" x2="156" y2="228.2" stroke="#000" stroke-width="1" shape-rendering="auto"/>
<line x1="152.54" y1="221.92" x2="151.88" y2="224.12" stroke="#000" stroke-width="1" shape-rendering="auto"/>
<line x1="147.88" y1="219.64" x2="147.22" y2="221.84" stroke="#000" stroke-width="1" shape-rendering="auto"/>
<line x1="143.22" y1="217.36" x2="142.56" y2="219.56" stroke="#000" stroke-width="1" shape-rendering="auto"/>
<line x1="138.57" y1="215.08" x2="137.37" y2="219.08" stroke="#000" stroke-width="1" shape-rendering="auto"/>
<line x1="133.91" y1="212.8" x2="133.25" y2="215" stroke="#000" stroke-width="1" shape-rendering="auto"/>
<line x1="129.25" y1="210.52" x2="128.59" y2="212.72" stroke="#000" stroke-width="1" shape-rendering="auto"/>
<line x1="124.59" y1="208.25" x2="123.93" y2="210.45" stroke="#000" stroke-width="1" shape-rendering="auto"/>
<line x1="119.93" y1="205.97" x2="118.73" y2="209.97" stroke="#000" stroke-width="1" shape-rendering="auto"/>
<line x1="115.27" y1="203.69" x2="114.61" y2="205.89" stroke="#000" stroke-width="1" shape-rendering="auto"/>
<line x1="110.62" y1="201.41" x2="109.96" y2="203.61" stroke="#000" stroke-width="1" shape-rendering="auto"/>
<line x1="105.96" y1="199.13" x2="105.3" y2="201.33" stroke="#000" stroke-width="1" shape-rendering="auto"/>
<line x1="101.3" y1="196.85" x2="100.1" y2="200.85" stroke="#000" stroke-width="1" shape-rendering="auto"/>
<line x1="96.64" y1="194.57" x2="95.98" y2="196.77" stroke="#000" stroke-width="1" shape-rendering="auto"/>
<line x1="91.98" y1="192.29" x2="91.32" y2="194.49" stroke="#000" stroke-width="1" shape-rendering="auto"/>
<line x1="87.33" y1="190.01" x2="86.67" y2="192.21" stroke="#000" stroke-width="1" shape-rendering="auto"/>
<line x1="82.67" y1="187.73" x2="81.47" y2="191.73" stroke="#000" stroke-width="1" shape-rendering="auto"/>
<line x1="78.01" y1="185.45" x2="77.35" y2="187.65" stroke="#000" stroke-width="1" shape-rendering="auto"/>
<line x1="73.35" y1="183.18" x2="72.69" y2="185.38" stroke="#000" stroke-width="1" shape-rendering="auto"/>
<line x1="68.69" y1="180.9" x2="68.03" y2="183.1" stroke="#000" stroke-width="1" shape-rendering="auto"/>
<line x1="64.03" y1="178.62" x2="62.83" y2="182.62" stroke="#000" stroke-width="1" shape-rendering="auto"/>
<line x1="59.38" y1="176.34" x2="58.72" y2="178.54" stroke="#000" stroke-width="1" shape-rendering="auto"/>
<line x1="54.72" y1="174.06" x2="54.06" y2="176.26" stroke="#000" stroke-width="1" shape-rendering="auto"/>
<line x1="50.06" y1="171.78" x2="49.4" y2="173.98" stroke="#000" stroke-width="1" shape-rendering="auto"/>
<line x1="45.4" y1="169.5" x2="44.2" y2="173.5" stroke="#000" stroke-width="1" shape-rendering="auto"/>
<text x="33.7" y="181.3" font-size="8.7" text-anchor="middle" stroke="#000" stroke-width="0.2">6</text>
<text x="52.33" y="190.42" font-size="8.7" text-anchor="middle" stroke="#000" stroke-width="0.2">4</text>
<text x="70.97" y="199.53" font-size="8.7" text-anchor="middle" stroke="#000" stroke-width="0.2">2</text>
<text x="89.6" y="208.65" font-size="8.7" text-anchor="middle" stroke="#000" stroke-width="0.2">0</text>
<text x="108.23" y="217.77" font-size="8.7" text-anchor="middle" stroke="#000" stroke-width="0.2">-2</text>
<text x="126.87" y="226.88" font-size="8.7" text-anchor="middle" stroke="#000" stroke-width="0.2">-4</text>
<text x="145.5" y="236" font-size="8.7" text-anchor="middle" stroke="#000" stroke-width="0.2">-6</text>
<g fill="#fff" stroke="#000" stroke-width="1.3" shape-rendering="auto"><circle cx="118.47" cy="157.98" r="3.8"/><circle cx="211.76" cy="144.85" r="3.8"/><circle cx="210.99" cy="106.46" r="3.8"/><circle cx="90.06" cy="159.84" r="3.8"/><circle cx="226.46" cy="124.35" r="3.8"/><circle cx="94.07" cy="160.5" r="3.8"/><circle cx="183.01" cy="129.54" r="3.8"/><circle cx="168.3" cy="126.95" r="3.8"/><circle cx="205.21" cy="144.27" r="3.8"/><circle cx="203.45" cy="101.54" r="3.8"/><circle cx="288.82" cy="169.29" r="3.8"/><circle cx="187.28" cy="154.14" r="3.8"/><circle cx="265.58" cy="170.45" r="3.8"/><circle cx="207.37" cy="127.42" r="3.8"/><circle cx="203.82" cy="124.18" r="3.8"/><circle cx="226.38" cy="137.08" r="3.8"/><circle cx="195.62" cy="115.57" r="3.8"/><circle cx="220.85" cy="114.92" r="3.8"/><circle cx="226.86" cy="131.49" r="3.8"/><circle cx="196.18" cy="121.67" r="3.8"/><circle cx="129.06" cy="157.02" r="3.8"/><circle cx="234.39" cy="141.25" r="3.8"/><circle cx="125.6" cy="161.25" r="3.8"/><circle cx="137.74" cy="161.73" r="3.8"/><circle cx="141.31" cy="159.59" r="3.8"/><circle cx="189.63" cy="119.58" r="3.8"/><circle cx="192.78" cy="147.81" r="3.8"/><circle cx="215.81" cy="106.72" r="3.8"/><circle cx="203.02" cy="135.83" r="3.8"/><circle cx="292.01" cy="163.95" r="3.8"/><circle cx="191.75" cy="113.88" r="3.8"/><circle cx="211.09" cy="136.37" r="3.8"/><circle cx="170.44" cy="180.53" r="3.8"/><circle cx="221.71" cy="130.97" r="3.8"/><circle cx="220.38" cy="139.08" r="3.8"/><circle cx="268.36" cy="172.92" r="3.8"/><circle cx="189.4" cy="104.95" r="3.8"/><circle cx="233.43" cy="152.19" r="3.8"/><circle cx="98.61" cy="170.92" r="3.8"/><circle cx="248.25" cy="160.27" r="3.8"/><circle cx="103.64" cy="174.21" r="3.8"/><circle cx="149.28" cy="191.02" r="3.8"/><circle cx="236.55" cy="145.39" r="3.8"/><circle cx="89.33" cy="164.28" r="3.8"/><circle cx="222.9" cy="136.51" r="3.8"/><circle cx="184.49" cy="142.32" r="3.8"/><circle cx="235.88" cy="132.61" r="3.8"/><circle cx="168.84" cy="188.07" r="3.8"/><circle cx="197.99" cy="91.62" r="3.8"/><circle cx="209.98" cy="82.75" r="3.8"/><circle cx="168" cy="129.72" r="3.8"/><circle cx="140.34" cy="157.57" r="3.8"/><circle cx="167.09" cy="130.55" r="3.8"/><circle cx="133.24" cy="161.74" r="3.8"/><circle cx="112.56" cy="149.45" r="3.8"/><circle cx="233.14" cy="141.77" r="3.8"/><circle cx="181.82" cy="158.68" r="3.8"/><circle cx="188.71" cy="131.84" r="3.8"/><circle cx="219.65" cy="138.12" r="3.8"/><circle cx="281.07" cy="172.62" r="3.8"/><circle cx="211.12" cy="94.51" r="3.8"/><circle cx="106.91" cy="164.3" r="3.8"/><circle cx="258.77" cy="170.59" r="3.8"/><circle cx="215.57" cy="137.89" r="3.8"/><circle cx="235.95" cy="148.85" r="3.8"/><circle cx="228.25" cy="145.04" r="3.8"/><circle cx="108.55" cy="156.36" r="3.8"/><circle cx="228.49" cy="134.21" r="3.8"/><circle cx="216.31" cy="118.06" r="3.8"/><circle cx="174.63" cy="192.96" r="3.8"/><circle cx="207.72" cy="130.93" r="3.8"/><circle cx="229.2" cy="139.96" r="3.8"/><circle cx="259.15" cy="176.44" r="3.8"/><circle cx="199.68" cy="119.94" r="3.8"/><circle cx="158.57" cy="132.01" r="3.8"/><circle cx="215.44" cy="115.07" r="3.8"/><circle cx="195.55" cy="137.3" r="3.8"/><circle cx="182.68" cy="151.96" r="3.8"/><circle cx="226.99" cy="155.51" r="3.8"/><circle cx="158.02" cy="141.48" r="3.8"/><circle cx="217.11" cy="121.12" r="3.8"/><circle cx="192.16" cy="102.69" r="3.8"/><circle cx="203.66" cy="121.29" r="3.8"/><circle cx="182.42" cy="158.62" r="3.8"/><circle cx="186.41" cy="134.64" r="3.8"/><circle cx="187.52" cy="143.14" r="3.8"/><circle cx="170.02" cy="126.19" r="3.8"/><circle cx="113.96" cy="154.56" r="3.8"/><circle cx="83.89" cy="156.84" r="3.8"/><circle cx="171.98" cy="150.77" r="3.8"/><circle cx="150.54" cy="155.13" r="3.8"/><circle cx="173.25" cy="153.27" r="3.8"/><circle cx="210.66" cy="122.15" r="3.8"/><circle cx="168.93" cy="124.75" r="3.8"/><circle cx="249.44" cy="151.78" r="3.8"/><circle cx="266.23" cy="177.75" r="3.8"/><circle cx="131" cy="160.32" r="3.8"/><circle cx="198.45" cy="128.74" r="3.8"/><circle cx="228.89" cy="129.02" r="3.8"/><circle cx="98.07" cy="149.95" r="3.8"/><circle cx="137.47" cy="194.01" r="3.8"/><circle cx="92.62" cy="166.62" r="3.8"/><circle cx="222.74" cy="118.11" r="3.8"/><circle cx="243.26" cy="153.31" r="3.8"/><circle cx="185.57" cy="140" r="3.8"/><circle cx="231.43" cy="144.13" r="3.8"/><circle cx="156.57" cy="143.94" r="3.8"/><circle cx="238.48" cy="144.92" r="3.8"/><circle cx="197.36" cy="127.85" r="3.8"/><circle cx="164.91" cy="147.19" r="3.8"/><circle cx="208.14" cy="148.71" r="3.8"/><circle cx="170.18" cy="190.19" r="3.8"/><circle cx="215.34" cy="133.25" r="3.8"/><circle cx="187.44" cy="127.18" r="3.8"/><circle cx="194.93" cy="114.63" r="3.8"/><circle cx="223.87" cy="139.42" r="3.8"/><circle cx="231.69" cy="145.01" r="3.8"/><circle cx="232.46" cy="144.39" r="3.8"/><circle cx="231.01" cy="150.97" r="3.8"/><circle cx="175.28" cy="129.89" r="3.8"/><circle cx="169.08" cy="142.74" r="3.8"/><circle cx="277.6" cy="172.38" r="3.8"/><circle cx="215.97" cy="148.49" r="3.8"/><circle cx="248.28" cy="152.58" r="3.8"/><circle cx="172.99" cy="129.64" r="3.8"/><circle cx="189.5" cy="135.17" r="3.8"/><circle cx="94.06" cy="163.86" r="3.8"/><circle cx="193.7" cy="104.61" r="3.8"/><circle cx="199.66" cy="118.19" r="3.8"/><circle cx="111.66" cy="166.59" r="3.8"/><circle cx="238.74" cy="137.22" r="3.8"/><circle cx="192.87" cy="195.55" r="3.8"/><circle cx="214.17" cy="139.63" r="3.8"/><circle cx="234.53" cy="145.69" r="3.8"/><circle cx="181.12" cy="142.73" r="3.8"/><circle cx="229.72" cy="130.77" r="3.8"/><circle cx="171.25" cy="191.35" r="3.8"/><circle cx="262.67" cy="174.32" r="3.8"/><circle cx="83.7" cy="154.5" r="3.8"/><circle cx="90.3" cy="150.8" r="3.8"/><circle cx="95.2" cy="152.2" r="3.8"/><circle cx="106.6" cy="153.9" r="3.8"/><circle cx="115.4" cy="150.4" r="3.8"/><circle cx="114.5" cy="157.4" r="3.8"/><circle cx="117.2" cy="161.4" r="3.8"/><circle cx="92.1" cy="163.1" r="3.8"/><circle cx="96.9" cy="164" r="3.8"/><circle cx="102.2" cy="167.5" r="3.8"/><circle cx="98.7" cy="172.8" r="3.8"/><circle cx="105.7" cy="175.5" r="3.8"/><circle cx="110.6" cy="178.1" r="3.8"/><circle cx="126.8" cy="184.3" r="3.8"/><circle cx="111.9" cy="164" r="3.8"/><circle cx="142.6" cy="186.9" r="3.8"/><circle cx="137.3" cy="187.8" r="3.8"/><circle cx="181.3" cy="195.7" r="3.8"/><circle cx="142.6" cy="157" r="3.8"/><circle cx="160.2" cy="149.5" r="3.8"/><circle cx="162" cy="144.7" r="3.8"/><circle cx="168.1" cy="146.4" r="3.8"/><circle cx="176.9" cy="137.2" r="3.8"/><circle cx="185.7" cy="152.6" r="3.8"/><circle cx="174.3" cy="155.2" r="3.8"/><circle cx="154" cy="185.1" r="3.8"/><circle cx="181.3" cy="157" r="3.8"/><circle cx="191" cy="157" r="3.8"/><circle cx="126.8" cy="155.2" r="3.8"/><circle cx="172.9" cy="188.2" r="3.8"/><circle cx="171.6" cy="136.8" r="3.8"/><circle cx="181.3" cy="137.6" r="3.8"/><circle cx="190.1" cy="138.5" r="3.8"/><circle cx="215.3" cy="92.1" r="3.8"/><circle cx="203.9" cy="89" r="3.8"/><circle cx="190.4" cy="91.6" r="3.8"/><circle cx="204.9" cy="100.9" r="3.8"/><circle cx="185.8" cy="105.6" r="3.8"/><circle cx="212.2" cy="131.5" r="3.8"/><circle cx="226.7" cy="127.4" r="3.8"/><circle cx="208" cy="136.7" r="3.8"/><circle cx="197.7" cy="109.7" r="3.8"/><circle cx="207" cy="107.7" r="3.8"/><circle cx="189.4" cy="112.8" r="3.8"/><circle cx="197.7" cy="114.9" r="3.8"/><circle cx="208" cy="121.1" r="3.8"/><circle cx="197.7" cy="126.3" r="3.8"/><circle cx="189.4" cy="127.4" r="3.8"/><circle cx="217.4" cy="107.7" r="3.8"/><circle cx="226.7" cy="118" r="3.8"/><circle cx="156.2" cy="135.6" r="3.8"/><circle cx="175.9" cy="133.6" r="3.8"/><circle cx="258.2" cy="165.5" r="3.8"/><circle cx="252.5" cy="170.6" r="3.8"/><circle cx="291.8" cy="165.5" r="3.8"/><circle cx="291.3" cy="172.2" r="3.8"/><circle cx="279.9" cy="169.6" r="3.8"/><circle cx="240.5" cy="161.3" r="3.8"/><circle cx="225" cy="120.9" r="3.8"/><circle cx="249.9" cy="144.7" r="3.8"/><circle cx="241.6" cy="149.9" r="3.8"/><circle cx="201.3" cy="160.4" r="3.8"/><circle cx="244.4" cy="193.5" r="3.8"/><circle cx="190.9" cy="161.7" r="3.8"/><circle cx="201.8" cy="132.7" r="3.8"/><circle cx="229" cy="132.7" r="3.8"/><circle cx="236.2" cy="140" r="3.8"/><circle cx="223.5" cy="151.8" r="3.8"/><circle cx="242.6" cy="164.5" r="3.8"/><circle cx="195.4" cy="156.3" r="3.8"/><circle cx="223.5" cy="159" r="3.8"/><circle cx="183.9" cy="195.8" r="3.8"/><circle cx="153.4" cy="189" r="3.8"/><circle cx="270.6" cy="172" r="3.8"/><circle cx="270.1" cy="165" r="3.8"/><circle cx="276.7" cy="168.3" r="3.8"/><circle cx="280" cy="179.6" r="3.8"/><circle cx="270.3" cy="176" r="3.8"/><circle cx="160.5" cy="140" r="3.8"/><circle cx="167.3" cy="132.4" r="3.8"/><circle cx="75.4" cy="155.4" r="3.8"/><circle cx="90.3" cy="155.4" r="3.8"/><circle cx="103.5" cy="149.1" r="3.8"/><circle cx="101.3" cy="157.4" r="3.8"/><circle cx="118.5" cy="153.5" r="3.8"/><circle cx="126.4" cy="158.3" r="3.8"/><circle cx="126.4" cy="166.2" r="3.8"/><circle cx="107.5" cy="166.2" r="3.8"/><circle cx="94.3" cy="170.6" r="3.8"/><circle cx="110.6" cy="173.3" r="3.8"/><circle cx="118.5" cy="176.3" r="3.8"/><circle cx="119.4" cy="185.1" r="3.8"/><circle cx="134.7" cy="153.9" r="3.8"/><circle cx="134.7" cy="163.3" r="3.8"/><circle cx="149.6" cy="152.2" r="3.8"/><circle cx="154" cy="143.8" r="3.8"/><circle cx="146.5" cy="163.1" r="3.8"/><circle cx="154.5" cy="162.3" r="3.8"/><circle cx="161.5" cy="165.3" r="3.8"/><circle cx="157.5" cy="172.8" r="3.8"/><circle cx="167.2" cy="172.4" r="3.8"/><circle cx="170.3" cy="159.2" r="3.8"/><circle cx="176.5" cy="147.3" r="3.8"/><circle cx="182.6" cy="143.8" r="3.8"/><circle cx="182.2" cy="168.9" r="3.8"/><circle cx="184.8" cy="175.5" r="3.8"/><circle cx="188.3" cy="161.4" r="3.8"/><circle cx="192.3" cy="151.3" r="3.8"/><circle cx="162.4" cy="182.9" r="3.8"/><circle cx="171.2" cy="183.4" r="3.8"/><circle cx="184.4" cy="185.1" r="3.8"/><circle cx="161.1" cy="190.8" r="3.8"/><circle cx="176.9" cy="189.1" r="3.8"/><circle cx="189.6" cy="192.2" r="3.8"/><circle cx="149.6" cy="186.5" r="3.8"/><circle cx="129.8" cy="189.5" r="3.8"/><circle cx="142.2" cy="193.5" r="3.8"/><circle cx="166.3" cy="195.7" r="3.8"/><circle cx="195.4" cy="72.2" r="3.8"/><circle cx="203.4" cy="77.1" r="3.8"/><circle cx="207.5" cy="82.8" r="3.8"/><circle cx="214.2" cy="87.2" r="3.8"/><circle cx="196.6" cy="89" r="3.8"/><circle cx="207.5" cy="94.2" r="3.8"/><circle cx="198.7" cy="97.3" r="3.8"/><circle cx="186.3" cy="99.4" r="3.8"/><circle cx="179" cy="102" r="3.8"/><circle cx="191.5" cy="104.6" r="3.8"/><circle cx="222.5" cy="109.7" r="3.8"/><circle cx="212.2" cy="113.9" r="3.8"/><circle cx="219.4" cy="116" r="3.8"/><circle cx="202.8" cy="119.1" r="3.8"/><circle cx="169.7" cy="114.4" r="3.8"/><circle cx="180.1" cy="115.4" r="3.8"/><circle cx="193.5" cy="122.2" r="3.8"/><circle cx="174.4" cy="126.3" r="3.8"/><circle cx="183.2" cy="125.8" r="3.8"/><circle cx="164" cy="124.8" r="3.8"/><circle cx="163" cy="130.5" r="3.8"/><circle cx="170.7" cy="133.6" r="3.8"/><circle cx="182.1" cy="134.6" r="3.8"/><circle cx="194.6" cy="132.5" r="3.8"/><circle cx="205.4" cy="128.9" r="3.8"/><circle cx="216.8" cy="123.7" r="3.8"/><circle cx="221.5" cy="134.6" r="3.8"/><circle cx="254.5" cy="139" r="3.8"/><circle cx="257.6" cy="145.8" r="3.8"/><circle cx="262.3" cy="154.1" r="3.8"/><circle cx="247.3" cy="149.9" r="3.8"/><circle cx="246.2" cy="158.2" r="3.8"/><circle cx="234.8" cy="129.7" r="3.8"/><circle cx="227.6" cy="140.1" r="3.8"/><circle cx="236.4" cy="142.7" r="3.8"/><circle cx="233.3" cy="148.4" r="3.8"/><circle cx="232.3" cy="155.6" r="3.8"/><circle cx="227.6" cy="161.8" r="3.8"/><circle cx="236.4" cy="168.1" r="3.8"/><circle cx="253" cy="163.9" r="3.8"/><circle cx="269.6" cy="169.1" r="3.8"/><circle cx="285.1" cy="165.5" r="3.8"/><circle cx="290.3" cy="159.2" r="3.8"/><circle cx="302.2" cy="161.3" r="3.8"/><circle cx="299.6" cy="169.6" r="3.8"/><circle cx="234.8" cy="134.9" r="3.8"/><circle cx="258.2" cy="173.8" r="3.8"/><circle cx="195" cy="140.9" r="3.8"/><circle cx="205" cy="141.8" r="3.8"/><circle cx="212.2" cy="141.3" r="3.8"/><circle cx="219.5" cy="143.1" r="3.8"/><circle cx="205" cy="149.5" r="3.8"/><circle cx="213.6" cy="151.3" r="3.8"/><circle cx="207.7" cy="160.4" r="3.8"/><circle cx="225.8" cy="153.1" r="3.8"/><circle cx="253" cy="178.5" r="3.8"/><circle cx="232.6" cy="178" r="3.8"/><circle cx="236.7" cy="185.3" r="3.8"/><circle cx="241.7" cy="193" r="3.8"/><circle cx="200.4" cy="176.7" r="3.8"/><circle cx="199.1" cy="184.4" r="3.8"/><circle cx="212.2" cy="188" r="3.8"/><circle cx="208.1" cy="192.6" r="3.8"/><circle cx="216.7" cy="192.6" r="3.8"/><circle cx="201.3" cy="196.6" r="3.8"/><circle cx="226.3" cy="198" r="3.8"/><circle cx="256.6" cy="190.3" r="3.8"/><circle cx="163.6" cy="200.4" r="3.8"/><circle cx="170.9" cy="199.8" r="3.8"/><circle cx="188.5" cy="199.2" r="3.8"/><circle cx="208.3" cy="198.1" r="3.8"/><circle cx="261.6" cy="177.7" r="3.8"/><circle cx="280.4" cy="176.3" r="3.8"/><circle cx="286.1" cy="176.8" r="3.8"/><circle cx="311.5" cy="166.4" r="3.8"/><circle cx="308.7" cy="173.5" r="3.8"/><circle cx="304.5" cy="181.5" r="3.8"/><circle cx="321.4" cy="177.2" r="3.8"/><circle cx="268.7" cy="188.1" r="3.8"/></g>
<line x1="157.2" y1="224.2" x2="157.2" y2="116.9" stroke="#000" stroke-width="1"/>
<polygon points="254,10 256,10 256,24 12,24 12,22 254,22" fill="#000"/>
<rect x="10.5" y="8.5" width="243" height="13" fill="#f2f2f2" stroke="#000" stroke-width="1"/>
<text transform="matrix(1,0,0,0.93,14.6,18.9)" font-size="10.96" stroke="#000" stroke-width="0.3">Original function with Graph2D points on top</text>
<defs><filter id="gs" x="0" y="0" width="1" height="1"><feGaussianBlur stdDeviation="1.1"/><feComponentTransfer><feFuncA type="linear" slope="30"/></feComponentTransfer><feComposite in2="SourceGraphic" operator="in"/></filter></defs>
<line x1="45.8" y1="320" x2="238.2" y2="289" stroke="#000" stroke-width="1" shape-rendering="auto"/>
<line x1="238.2" y1="289" x2="350.1" y2="342.6" stroke="#000" stroke-width="1" shape-rendering="auto"/>
<line x1="45.8" y1="428.2" x2="238.2" y2="397.2" stroke="#000" stroke-width="1" shape-rendering="auto"/>
<line x1="238.2" y1="397.2" x2="350.1" y2="450.8" stroke="#000" stroke-width="1" shape-rendering="auto"/>
<line x1="238.2" y1="397.2" x2="238.2" y2="289" stroke="#000" stroke-width="1"/>
<path d="M45 412.5h1M48 412.5h1M52 411.5h1M55 411.5h1M58 410.5h1M61 410.5h1M64 409.5h1M67 409.5h1M70 408.5h1M73 408.5h1M76 407.5h1M79 407.5h1M83 406.5h1M86 406.5h1M89 405.5h1M92 405.5h1M95 404.5h1M98 404.5h1M101 403.5h1M104 403.5h1M107 402.5h1M110 402.5h1M114 401.5h1M117 401.5h1M120 400.5h1M123 400.5h1M126 399.5h1M129 399.5h1M132 398.5h1M135 398.5h1M138 397.5h1M142 397.5h1M145 396.5h1M148 396.5h1M151 395.5h1M154 395.5h1M157 394.5h1M160 394.5h1M163 393.5h1M166 393.5h1M169 392.5h1M173 392.5h1M176 391.5h1M179 391.5h1M182 390.5h1M185 390.5h1M188 389.5h1M191 389.5h1M194 388.5h1M197 388.5h1M200 387.5h1M204 387.5h1M207 386.5h1M210 386.5h1M213 385.5h1M216 385.5h1M219 384.5h1M222 384.5h1M225 383.5h1M228 383.5h1M231 382.5h1M235 382.5h1M238 381.5h1M238 381.5h1M241 383.5h1M244 384.5h1M247 386.5h1M250 387.5h1M253 389.5h1M256 390.5h1M259 392.5h1M263 393.5h1M266 394.5h1M269 396.5h1M272 397.5h1M275 399.5h1M278 400.5h1M281 402.5h1M284 403.5h1M287 405.5h1M291 406.5h1M294 408.5h1M297 409.5h1M300 411.5h1M303 412.5h1M306 414.5h1M309 415.5h1M312 417.5h1M315 418.5h1M319 420.5h1M322 421.5h1M325 423.5h1M328 424.5h1M331 426.5h1M334 427.5h1M337 429.5h1M340 430.5h1M343 432.5h1M346 433.5h1M350 435.5h1M45 396.5h1M48 396.5h1M52 395.5h1M55 395.5h1M58 394.5h1M61 394.5h1M64 393.5h1M67 393.5h1M70 392.5h1M73 392.5h1M76 391.5h1M79 391.5h1M83 390.5h1M86 390.5h1M89 389.5h1M92 389.5h1M95 388.5h1M98 388.5h1M101 387.5h1M104 387.5h1M107 386.5h1M110 386.5h1M114 385.5h1M117 385.5h1M120 384.5h1M123 384.5h1M126 383.5h1M129 383.5h1M132 382.5h1M135 382.5h1M138 381.5h1M142 381.5h1M145 380.5h1M148 380.5h1M151 379.5h1M154 379.5h1M157 378.5h1M160 378.5h1M163 377.5h1M166 377.5h1M169 376.5h1M173 376.5h1M176 375.5h1M179 375.5h1M182 374.5h1M185 374.5h1M188 373.5h1M191 373.5h1M194 372.5h1M197 372.5h1M200 371.5h1M204 371.5h1M207 370.5h1M210 370.5h1M213 369.5h1M216 369.5h1M219 368.5h1M222 368.5h1M225 367.5h1M228 367.5h1M231 366.5h1M235 366.5h1M238 365.5h1M238 365.5h1M241 367.5h1M244 368.5h1M247 370.5h1M250 371.5h1M253 373.5h1M256 374.5h1M259 376.5h1M263 377.5h1M266 379.5h1M269 380.5h1M272 382.5h1M275 383.5h1M278 385.5h1M281 386.5h1M284 388.5h1M287 389.5h1M291 391.5h1M294 392.5h1M297 394.5h1M300 395.5h1M303 397.5h1M306 398.5h1M309 400.5h1M312 401.5h1M315 403.5h1M319 404.5h1M322 406.5h1M325 407.5h1M328 409.5h1M331 410.5h1M334 412.5h1M337 413.5h1M340 415.5h1M343 416.5h1M346 418.5h1M350 419.5h1M45 381.5h1M48 380.5h1M52 380.5h1M55 379.5h1M58 379.5h1M61 378.5h1M64 378.5h1M67 377.5h1M70 377.5h1M73 376.5h1M76 376.5h1M79 375.5h1M83 375.5h1M86 374.5h1M89 374.5h1M92 373.5h1M95 373.5h1M98 372.5h1M101 372.5h1M104 371.5h1M107 371.5h1M110 370.5h1M114 370.5h1M117 369.5h1M120 369.5h1M123 368.5h1M126 368.5h1M129 367.5h1M132 367.5h1M135 366.5h1M138 366.5h1M142 365.5h1M145 365.5h1M148 364.5h1M151 364.5h1M154 363.5h1M157 363.5h1M160 362.5h1M163 362.5h1M166 361.5h1M169 361.5h1M173 360.5h1M176 360.5h1M179 359.5h1M182 359.5h1M185 358.5h1M188 358.5h1M191 357.5h1M194 357.5h1M197 356.5h1M200 356.5h1M204 355.5h1M207 355.5h1M210 354.5h1M213 354.5h1M216 353.5h1M219 353.5h1M222 352.5h1M225 352.5h1M228 351.5h1M231 351.5h1M235 350.5h1M238 350.5h1M238 350.5h1M241 351.5h1M244 353.5h1M247 354.5h1M250 356.5h1M253 357.5h1M256 359.5h1M259 360.5h1M263 362.5h1M266 363.5h1M269 365.5h1M272 366.5h1M275 368.5h1M278 369.5h1M281 371.5h1M284 372.5h1M287 374.5h1M291 375.5h1M294 377.5h1M297 378.5h1M300 380.5h1M303 381.5h1M306 383.5h1M309 384.5h1M312 386.5h1M315 387.5h1M319 389.5h1M322 390.5h1M325 392.5h1M328 393.5h1M331 395.5h1M334 396.5h1M337 398.5h1M340 399.5h1M343 401.5h1M346 402.5h1M350 403.5h1M45 365.5h1M48 365.5h1M52 364.5h1M55 364.5h1M58 363.5h1M61 363.5h1M64 362.5h1M67 362.5h1M70 361.5h1M73 361.5h1M76 360.5h1M79 360.5h1M83 359.5h1M86 359.5h1M89 358.5h1M92 358.5h1M95 357.5h1M98 357.5h1M101 356.5h1M104 356.5h1M107 355.5h1M110 355.5h1M114 354.5h1M117 354.5h1M120 353.5h1M123 353.5h1M126 352.5h1M129 352.5h1M132 351.5h1M135 351.5h1M138 350.5h1M142 350.5h1M145 349.5h1M148 349.5h1M151 348.5h1M154 348.5h1M157 347.5h1M160 347.5h1M163 346.5h1M166 346.5h1M169 345.5h1M173 345.5h1M176 344.5h1M179 344.5h1M182 343.5h1M185 343.5h1M188 342.5h1M191 342.5h1M194 341.5h1M197 341.5h1M200 340.5h1M204 340.5h1M207 339.5h1M210 339.5h1M213 338.5h1M216 338.5h1M219 337.5h1M222 337.5h1M225 336.5h1M228 336.5h1M231 335.5h1M235 335.5h1M238 334.5h1M238 334.5h1M241 336.5h1M244 337.5h1M247 339.5h1M250 340.5h1M253 342.5h1M256 343.5h1M259 345.5h1M263 346.5h1M266 348.5h1M269 349.5h1M272 351.5h1M275 352.5h1M278 354.5h1M281 355.5h1M284 357.5h1M287 358.5h1M291 360.5h1M294 361.5h1M297 363.5h1M300 364.5h1M303 366.5h1M306 367.5h1M309 369.5h1M312 370.5h1M315 372.5h1M319 373.5h1M322 374.5h1M325 376.5h1M328 377.5h1M331 379.5h1M334 380.5h1M337 382.5h1M340 383.5h1M343 385.5h1M346 386.5h1M350 388.5h1M45 350.5h1M48 349.5h1M52 349.5h1M55 348.5h1M58 348.5h1M61 347.5h1M64 347.5h1M67 346.5h1M70 346.5h1M73 345.5h1M76 345.5h1M79 344.5h1M83 344.5h1M86 343.5h1M89 343.5h1M92 342.5h1M95 342.5h1M98 341.5h1M101 341.5h1M104 340.5h1M107 340.5h1M110 339.5h1M114 339.5h1M117 338.5h1M120 338.5h1M123 337.5h1M126 337.5h1M129 336.5h1M132 336.5h1M135 335.5h1M138 335.5h1M142 334.5h1M145 334.5h1M148 333.5h1M151 333.5h1M154 332.5h1M157 332.5h1M160 331.5h1M163 331.5h1M166 330.5h1M169 330.5h1M173 329.5h1M176 329.5h1M179 328.5h1M182 328.5h1M185 327.5h1M188 327.5h1M191 326.5h1M194 326.5h1M197 325.5h1M200 325.5h1M204 324.5h1M207 324.5h1M210 323.5h1M213 323.5h1M216 322.5h1M219 322.5h1M222 321.5h1M225 321.5h1M228 320.5h1M231 320.5h1M235 319.5h1M238 319.5h1M238 319.5h1M241 320.5h1M244 322.5h1M247 323.5h1M250 325.5h1M253 326.5h1M256 328.5h1M259 329.5h1M263 331.5h1M266 332.5h1M269 334.5h1M272 335.5h1M275 337.5h1M278 338.5h1M281 340.5h1M284 341.5h1M287 343.5h1M291 344.5h1M294 345.5h1M297 347.5h1M300 348.5h1M303 350.5h1M306 351.5h1M309 353.5h1M312 354.5h1M315 356.5h1M319 357.5h1M322 359.5h1M325 360.5h1M328 362.5h1M331 363.5h1M334 365.5h1M337 366.5h1M340 368.5h1M343 369.5h1M346 371.5h1M350 372.5h1M45 334.5h1M48 334.5h1M52 333.5h1M55 333.5h1M58 332.5h1M61 332.5h1M64 331.5h1M67 331.5h1M70 330.5h1M73 330.5h1M76 329.5h1M79 329.5h1M83 328.5h1M86 328.5h1M89 327.5h1M92 327.5h1M95 326.5h1M98 326.5h1M101 325.5h1M104 325.5h1M107 324.5h1M110 324.5h1M114 323.5h1M117 323.5h1M120 322.5h1M123 322.5h1M126 321.5h1M129 321.5h1M132 320.5h1M135 320.5h1M138 319.5h1M142 319.5h1M145 318.5h1M148 318.5h1M151 317.5h1M154 317.5h1M157 316.5h1M160 316.5h1M163 315.5h1M166 315.5h1M169 314.5h1M173 314.5h1M176 313.5h1M179 313.5h1M182 312.5h1M185 312.5h1M188 311.5h1M191 311.5h1M194 310.5h1M197 310.5h1M200 309.5h1M204 309.5h1M207 308.5h1M210 308.5h1M213 307.5h1M216 307.5h1M219 306.5h1M222 306.5h1M225 305.5h1M228 305.5h1M231 304.5h1M235 304.5h1M238 303.5h1M238 303.5h1M241 305.5h1M244 306.5h1M247 308.5h1M250 309.5h1M253 311.5h1M256 312.5h1M259 314.5h1M263 315.5h1M266 316.5h1M269 318.5h1M272 319.5h1M275 321.5h1M278 322.5h1M281 324.5h1M284 325.5h1M287 327.5h1M291 328.5h1M294 330.5h1M297 331.5h1M300 333.5h1M303 334.5h1M306 336.5h1M309 337.5h1M312 339.5h1M315 340.5h1M319 342.5h1M322 343.5h1M325 345.5h1M328 346.5h1M331 348.5h1M334 349.5h1M337 351.5h1M340 352.5h1M343 354.5h1M346 355.5h1M350 357.5h1" stroke="#000" stroke-width="1" fill="none"/>
<g shape-rendering="crispEdges" filter="url(#gs)"><path class="c0" d="M236.2 399.3l4.8-.8-2.8-1.3-4.8.8z"/><path class="c0" d="M231.4 400.1l4.8-.8-2.8-1.3-4.8.8z"/><path class="c0" d="M239 400.7l4.8-.8-2.8-1.4-4.8.8z"/><path class="c0" d="M226.6 400.9l4.8-.8-2.8-1.3-4.8.7z"/><path class="c0" d="M234.2 401.4l4.8-.7-2.8-1.4-4.8.8z"/><path class="c0" d="M221.8 401.6l4.8-.7-2.8-1.4-4.8.8z"/><path class="c0" d="M241.8 402l4.8-.8-2.8-1.3-4.8.8z"/><path class="c0" d="M229.4 402.2l4.8-.8-2.8-1.3-4.8.8z"/><path class="c0" d="M216.9 402.4l4.9-.8-2.8-1.3-4.8.8z"/><path class="c0" d="M237 402.8l4.8-.8-2.8-1.3-4.8.7z"/><path class="c0" d="M224.6 403l4.8-.8-2.8-1.3-4.8.7z"/><path class="c0" d="M212.1 403.2l4.8-.8-2.7-1.3-4.9.7z"/><path class="c0" d="M244.6 403.3l4.8-.7-2.8-1.4-4.8.8z"/><path class="c0" d="M232.2 403.5l4.8-.7-2.8-1.4-4.8.8z"/><path class="c0" d="M219.7 403.8l4.9-.8-2.8-1.4-4.9.8z"/><path class="c0" d="M207.3 404l4.8-.8-2.8-1.4-4.8.8z"/><path class="c0" d="M239.8 404.1l4.8-.8-2.8-1.3-4.8.8z"/><path class="c1" d="M227.4 404.3l4.8-.8-2.8-1.3-4.8.8z"/><path class="c0" d="M214.9 404.5l4.8-.7-2.8-1.4-4.8.8z"/><path class="c0" d="M247.4 404.7l4.8-.8-2.8-1.3-4.8.7z"/><path class="c0" d="M202.5 404.7l4.8-.7-2.8-1.4-4.8.8z"/><path class="c1" d="M235 404.9l4.8-.8-2.8-1.3-4.8.7z"/><path class="c2" d="M222.5 405.1l4.9-.8-2.8-1.3-4.9.8z"/><path class="c0" d="M210.1 405.3l4.8-.8-2.8-1.3-4.8.8z"/><path class="c0" d="M242.6 405.4l4.8-.7-2.8-1.4-4.8.8z"/><path class="c0" d="M197.7 405.5l4.8-.8-2.8-1.3-4.8.8z"/><path class="c3" d="M230.2 392l4.8 12.9-2.8-1.4-4.8.8z"/><path class="c2" d="M217.7 405.9l4.8-.8-2.8-1.3-4.8.7z"/><path class="c0" d="M250.2 406l4.8-.8-2.8-1.3-4.8.8z"/><path class="c0" d="M205.3 406.1l4.8-.8-2.8-1.3-4.8.7z"/><path class="c2" d="M237.8 406.2l4.8-.8-2.8-1.3-4.8.8z"/><path class="c0" d="M192.9 406.3l4.8-.8-2.8-1.3-4.8.8z"/><path class="c3" d="M225.3 392.2l4.9-.2-2.8 12.3-4.9.8z"/><path class="c2" d="M212.9 406.6l4.8-.7-2.8-1.4-4.8.8z"/><path class="c1" d="M245.4 406.8l4.8-.8-2.8-1.3-4.8.7z"/><path class="c1" d="M200.5 406.9l4.8-.8-2.8-1.4-4.8.8z"/><path class="c4" d="M232.9 391.4l4.9 14.8-2.8-1.3-4.8-12.9z"/><path class="c0" d="M188.1 407.1l4.8-.8-2.8-1.3-4.8.7z"/><path class="c5" d="M220.5 392.4l4.8-.2-2.8 12.9-4.8.8z"/><path class="c0" d="M253 407.4l4.8-.8-2.8-1.4-4.8.8z"/><path class="c2" d="M208.1 407.4l4.8-.8-2.8-1.3-4.8.8z"/><path class="c3" d="M240.6 394.1l4.8 12.7-2.8-1.4-4.8.8z"/><path class="c2" d="M195.7 407.6l4.8-.7-2.8-1.4-4.8.8z"/><path class="c5" d="M228.1 394l4.8-2.6-2.7.6-4.9.2z"/><path class="c0" d="M183.3 407.8l4.8-.7-2.8-1.4-4.8.8z"/><path class="c5" d="M215.7 392l4.8.4-2.8 13.5-4.8.7z"/><path class="c2" d="M248.2 408.1l4.8-.7-2.8-1.4-4.8.8z"/><path class="c3" d="M203.3 395.4l4.8 12-2.8-1.3-4.8.8z"/><path class="c4" d="M235.7 391.2l4.9 2.9-2.8 12.1-4.9-14.8z"/><path class="c2" d="M190.9 408.4l4.8-.8-2.8-1.3-4.8.8z"/><path class="c6" d="M223.3 394.4l4.8-.4-2.8-1.8-4.8.2z"/><path class="c0" d="M178.5 408.6l4.8-.8-2.8-1.3-4.8.8z"/><path class="c0" d="M255.8 408.7l4.8-.8-2.8-1.3-4.8.8z"/><path class="c3" d="M210.9 390.5l4.8 1.5-2.8 14.6-4.8.8z"/><path class="c4" d="M243.4 395.2l4.8 12.9-2.8-1.3-4.8-12.7z"/><path class="c3" d="M198.5 395.7l4.8-.3-2.8 11.5-4.8.7z"/><path class="c5" d="M230.9 393.1l4.8-1.9-2.8.2-4.8 2.6z"/><path class="c2" d="M186.1 409.2l4.8-.8-2.8-1.3-4.8.7z"/><path class="c7" d="M218.5 393.4l4.8 1-2.8-2-4.8-.4z"/><path class="c0" d="M173.7 409.4l4.8-.8-2.8-1.3-4.8.7z"/><path class="c2" d="M251 409.5l4.8-.8-2.8-1.3-4.8.7z"/><path class="c4" d="M206.1 390.9l4.8-.4-2.8 16.9-4.8-12z"/><path class="c3" d="M238.5 392.3l4.9 2.9-2.8-1.1-4.9-2.9z"/><path class="c5" d="M193.7 396.7l4.8-1-2.8 11.9-4.8.8z"/><path class="c8" d="M226.1 395.7l4.8-2.6-2.8.9-4.8.4z"/><path class="c2" d="M181.3 410l4.8-.8-2.8-1.4-4.8.8z"/><path class="c0" d="M258.6 410l4.8-.7-2.8-1.4-4.8.8z"/><path class="c8" d="M213.7 391.1l4.8 2.3-2.8-1.4-4.8-1.5z"/><path class="c0" d="M168.8 410.2l4.9-.8-2.8-1.4-4.8.8z"/><path class="c4" d="M246.2 396.4l4.8 13.1-2.8-1.4-4.8-12.9z"/><path class="c4" d="M201.3 392.8l4.8-1.9-2.8 4.5-4.8.3z"/><path class="c8" d="M233.7 392.2l4.8.1-2.8-1.1-4.8 1.9z"/><path class="c5" d="M188.9 398.4l4.8-1.7-2.8 11.7-4.8.8z"/><path class="c6" d="M221.3 396.3l4.8-.6-2.8-1.3-4.8-1z"/><path class="c2" d="M176.5 410.7l4.8-.7-2.8-1.4-4.8.8z"/><path class="c2" d="M253.8 410.8l4.8-.8-2.8-1.3-4.8.8z"/><path class="c6" d="M208.9 393.3l4.8-2.2-2.8-.6-4.8.4z"/><path class="c0" d="M164 410.9l4.8-.7-2.7-1.4-4.9.8z"/><path class="c9" d="M241.3 394.4l4.9 2-2.8-1.2-4.9-2.9z"/><path class="c3" d="M196.5 397.1l4.8-4.3-2.8 2.9-4.8 1z"/><path class="c3" d="M228.9 394.2l4.8-2-2.8.9-4.8 2.6z"/><path class="c3" d="M184.1 400.4l4.8-2-2.8 10.8-4.8.8z"/><path class="c0" d="M261.4 411.4l4.8-.8-2.8-1.3-4.8.7z"/><path class="c1" d="M216.5 394.8l4.8 1.5-2.8-2.9-4.8-2.3z"/><path class="c2" d="M171.6 411.5l4.9-.8-2.8-1.3-4.9.8z"/><path class="c4" d="M248.9 397.9l4.9 12.9-2.8-1.3-4.8-13.1z"/><path class="c10" d="M204.1 395.1l4.8-1.8-2.8-2.4-4.8 1.9z"/><path class="c0" d="M159.2 411.7l4.8-.8-2.8-1.3-4.8.8z"/><path class="c11" d="M236.5 393.4l4.8 1-2.8-2.1-4.8-.1z"/><path class="c5" d="M191.7 399.7l4.8-2.6-2.8-.4-4.8 1.7z"/><path class="c3" d="M224.1 394.3l4.8-.1-2.8 1.5-4.8.6z"/><path class="c3" d="M179.3 401.2l4.8-.8-2.8 9.6-4.8.7z"/><path class="c2" d="M256.6 412.2l4.8-.8-2.8-1.4-4.8.8z"/><path class="c12" d="M211.7 396.6l4.8-1.8-2.8-3.7-4.8 2.2z"/><path class="c2" d="M166.8 412.3l4.8-.8-2.8-1.3-4.8.7z"/><path class="c1" d="M244.1 397.7l4.8.2-2.7-1.5-4.9-2z"/><path class="c8" d="M199.3 398.6l4.8-3.5-2.8-2.3-4.8 4.3z"/><path class="c0" d="M154.4 412.5l4.8-.8-2.8-1.3-4.8.8z"/><path class="c9" d="M231.7 393l4.8.4-2.8-1.2-4.8 2z"/><path class="c13" d="M186.9 401.4l4.8-1.7-2.8-1.3-4.8 2z"/><path class="c0" d="M264.2 412.7l4.8-.8-2.8-1.3-4.8.8z"/><path class="c3" d="M219.3 392.8l4.8 1.5-2.8 2-4.8-1.5z"/><path class="c3" d="M174.4 402l4.9-.8-2.8 9.5-4.9.8z"/><path class="c4" d="M251.7 398.7l4.9 13.5-2.8-1.4-4.9-12.9z"/><path class="c12" d="M206.9 397.8l4.8-1.2-2.8-3.3-4.8 1.8z"/><path class="c2" d="M162 413.1l4.8-.8-2.8-1.4-4.8.8z"/><path class="c12" d="M239.3 397.4l4.8.3-2.8-3.3-4.8-1z"/><path class="c4" d="M194.5 396.2l4.8 2.4-2.8-1.5-4.8 2.6z"/><path class="c0" d="M149.6 413.3l4.8-.8-2.8-1.3-4.8.7z"/><path class="c3" d="M226.9 392.5l4.8.5-2.8 1.2-4.8.1z"/><path class="c0" d="M182 403l4.9-1.6-2.8-1-4.8.8z"/><path class="c2" d="M259.4 413.5l4.8-.8-2.8-1.3-4.8.8z"/><path class="c8" d="M214.5 394.3l4.8-1.5-2.8 2-4.8 1.8z"/><path class="c3" d="M169.6 402.8l4.8-.8-2.8 9.5-4.8.8z"/><path class="c7" d="M246.9 399.1l4.8-.4-2.8-.8-4.8-.2z"/><path class="c5" d="M202.1 395.1l4.8 2.7-2.8-2.7-4.8 3.5z"/><path class="c2" d="M157.2 413.8l4.8-.7-2.8-1.4-4.8.8z"/><path class="c14" d="M234.5 396.2l4.8 1.2-2.8-4-4.8-.4z"/><path class="c3" d="M189.7 402.4l4.8-6.2-2.8 3.5-4.8 1.7z"/><path class="c0" d="M267 414.1l4.8-.8-2.8-1.4-4.8.8z"/><path class="c0" d="M144.8 414l4.8-.7-2.8-1.4-4.8.8z"/><path class="c13" d="M222.1 395.7l4.8-3.2-2.8 1.8-4.8-1.5z"/><path class="c14" d="M177.2 404.7l4.8-1.7-2.7-1.8-4.9.8z"/><path class="c4" d="M254.5 400.1l4.9 13.4-2.8-1.3-4.9-13.5z"/><path class="c8" d="M209.7 395.1l4.8-.8-2.8 2.3-4.8 1.2z"/><path class="c3" d="M164.8 403.6l4.8-.8-2.8 9.5-4.8.8z"/><path class="c15" d="M242.1 399.5l4.8-.4-2.8-1.4-4.8-.3z"/><path class="c13" d="M197.3 398.9l4.8-3.8-2.8 3.5-4.8-2.4z"/><path class="c2" d="M152.4 414.6l4.8-.8-2.8-1.3-4.8.8z"/><path class="c16" d="M229.7 395.1l4.8 1.1-2.8-3.2-4.8-.5z"/><path class="c2" d="M184.8 406.1l4.9-3.7-2.8-1-4.9 1.6z"/><path class="c2" d="M262.2 414.8l4.8-.7-2.8-1.4-4.8.8z"/><path class="c0" d="M140 414.8l4.8-.8-2.8-1.3-4.8.8z"/><path class="c10" d="M217.3 400.1l4.8-4.4-2.8-2.9-4.8 1.5z"/><path class="c17" d="M172.4 406.4l4.8-1.7-2.8-2.7-4.8.8z"/><path class="c13" d="M249.7 400l4.8.1-2.8-1.4-4.8.4z"/><path class="c9" d="M204.9 398.8l4.8-3.7-2.8 2.7-4.8-2.7z"/><path class="c3" d="M160 404.4l4.8-.8-2.8 9.5-4.8.7z"/><path class="c18" d="M237.3 398.8l4.8.7-2.8-2.1-4.8-1.2z"/><path class="c5" d="M192.5 401.1l4.8-2.2-2.8-2.7-4.8 6.2z"/><path class="c0" d="M269.8 415.4l4.8-.8-2.8-1.3-4.8.8z"/><path class="c2" d="M147.6 415.4l4.8-.8-2.8-1.3-4.8.7z"/><path class="c2" d="M224.9 398.9l4.8-3.8-2.8-2.6-4.8 3.2z"/><path class="c12" d="M180 408.9l4.8-2.8-2.8-3.1-4.8 1.7z"/><path class="c4" d="M257.3 401.7l4.9 13.1-2.8-1.3-4.9-13.4z"/><path class="c0" d="M135.2 415.6l4.8-.8-2.8-1.3-4.8.7z"/><path class="c19" d="M212.5 399.9l4.8.2-2.8-5.8-4.8.8z"/><path class="c20" d="M167.6 408.3l4.8-1.9-2.8-3.6-4.8.8z"/><path class="c11" d="M244.9 401l4.8-1-2.8-.9-4.8.4z"/><path class="c18" d="M200.1 401.8l4.8-3-2.8-3.7-4.8 3.8z"/><path class="c3" d="M155.2 405.2l4.8-.8-2.8 9.4-4.8.8z"/><path class="c21" d="M232.5 397.6l4.8 1.2-2.8-2.6-4.8-1.1z"/><path class="c4" d="M187.6 405l4.9-3.9-2.8 1.3-4.9 3.7z"/><path class="c2" d="M264.9 416.2l4.9-.8-2.8-1.3-4.8.7z"/><path class="c2" d="M142.8 416.2l4.8-.8-2.8-1.4-4.8.8z"/><path class="c22" d="M220.1 401.9l4.8-3-2.8-3.2-4.8 4.4z"/><path class="c23" d="M175.2 410.6l4.8-1.7-2.8-4.2-4.8 1.7z"/><path class="c13" d="M252.5 400.6l4.8 1.1-2.8-1.6-4.8-.1z"/><path class="c0" d="M130.4 416.4l4.8-.8-2.8-1.4-4.8.8z"/><path class="c24" d="M207.7 402.5l4.8-2.6-2.8-4.8-4.8 3.7z"/><path class="c20" d="M162.8 409.4l4.8-1.1-2.8-4.7-4.8.8z"/><path class="c16" d="M240.1 401.4l4.8-.4-2.8-1.5-4.8-.7z"/><path class="c25" d="M195.3 402.2l4.8-.4-2.8-2.9-4.8 2.2z"/><path class="c0" d="M272.6 416.7l4.8-.7-2.8-1.4-4.8.8z"/><path class="c3" d="M150.4 406l4.8-.8-2.8 9.4-4.8.8z"/><path class="c1" d="M227.7 400.7l4.8-3.1-2.8-2.5-4.8 3.8z"/><path class="c5" d="M182.8 408.9l4.8-3.9-2.8 1.1-4.8 2.8z"/><path class="c4" d="M260.1 403.3l4.8 12.9-2.7-1.4-4.9-13.1z"/><path class="c2" d="M138 416.9l4.8-.7-2.8-1.4-4.8.8z"/><path class="c26" d="M215.3 404l4.8-2.1-2.8-1.8-4.8-.2z"/><path class="c23" d="M170.4 412.6l4.8-2-2.8-4.2-4.8 1.9z"/><path class="c7" d="M247.7 401.3l4.8-.7-2.8-.6-4.8 1z"/><path class="c0" d="M125.6 417.1l4.8-.7-2.8-1.4-4.8.8z"/><path class="c14" d="M202.9 404.8l4.8-2.3-2.8-3.7-4.8 3z"/><path class="c17" d="M158 410.4l4.8-1-2.8-5-4.8.8z"/><path class="c27" d="M235.3 404.3l4.8-2.9-2.8-2.6-4.8-1.2z"/><path class="c8" d="M190.4 406.1l4.9-3.9-2.8-1.1-4.9 3.9z"/><path class="c2" d="M267.7 417.5l4.9-.8-2.8-1.3-4.9.8z"/><path class="c3" d="M145.6 406.9l4.8-.9-2.8 9.4-4.8.8z"/><path class="c7" d="M222.9 403.6l4.8-2.9-2.8-1.8-4.8 3z"/><path class="c22" d="M178 412.8l4.8-3.9-2.8 0-4.8 1.7z"/><path class="c9" d="M255.3 402.2l4.8 1.1-2.8-1.6-4.8-1.1z"/><path class="c2" d="M133.2 417.7l4.8-.8-2.8-1.3-4.8.8z"/><path class="c17" d="M210.5 406.1l4.8-2.1-2.8-4.1-4.8 2.6z"/><path class="c28" d="M165.6 414.7l4.8-2.1-2.8-4.3-4.8 1.1z"/><path class="c16" d="M242.9 405.3l4.8-4-2.8-.3-4.8.4z"/><path class="c0" d="M120.7 417.9l4.9-.8-2.8-1.3-4.8.8z"/><path class="c29" d="M198 406.3l4.9-1.5-2.8-3-4.8.4z"/><path class="c0" d="M275.4 418.1l4.8-.8-2.8-1.3-4.8.7z"/><path class="c17" d="M153.2 411.4l4.8-1-2.8-5.2-4.8.8z"/><path class="c28" d="M230.5 403.7l4.8.6-2.8-6.7-4.8 3.1z"/><path class="c3" d="M185.6 410l4.8-3.9-2.8-1.1-4.8 3.9z"/><path class="c4" d="M262.9 404.8l4.8 12.7-2.8-1.3-4.8-12.9z"/><path class="c3" d="M140.8 407.7l4.8-.8-2.8 9.3-4.8.7z"/><path class="c30" d="M218.1 405.7l4.8-2.1-2.8-1.7-4.8 2.1z"/><path class="c10" d="M173.2 415.1l4.8-2.3-2.8-2.2-4.8 2z"/><path class="c10" d="M250.5 407l4.8-4.8-2.8-1.6-4.8.7z"/><path class="c2" d="M128.4 418.5l4.8-.8-2.8-1.3-4.8.7z"/><path class="c20" d="M205.7 407.7l4.8-1.6-2.8-3.6-4.8 2.3z"/><path class="c28" d="M160.8 416.1l4.8-1.4-2.8-5.3-4.8 1z"/><path class="c19" d="M238.1 406.1l4.8-.8-2.8-3.9-4.8 2.9z"/><path class="c0" d="M115.9 418.7l4.8-.8-2.7-1.3-4.9.8z"/><path class="c16" d="M193.2 407.1l4.8-.8-2.7-4.1-4.9 3.9z"/><path class="c2" d="M270.5 418.8l4.9-.7-2.8-1.4-4.9.8z"/><path class="c17" d="M148.4 412.4l4.8-1-2.8-5.4-4.8.9z"/><path class="c10" d="M225.7 405.3l4.8-1.6-2.8-3-4.8 2.9z"/><path class="c3" d="M180.8 413.2l4.8-3.2-2.8-1.1-4.8 3.9z"/><path class="c7" d="M258.1 403.7l4.8 1.1-2.8-1.5-4.8-1.1z"/><path class="c3" d="M136 408.5l4.8-.8-2.8 9.2-4.8.8z"/><path class="c30" d="M213.3 407.3l4.8-1.6-2.8-1.7-4.8 2.1z"/><path class="c15" d="M168.4 415.3l4.8-.2-2.8-2.5-4.8 2.1z"/><path class="c12" d="M245.7 408.8l4.8-1.8-2.8-5.7-4.8 4z"/><path class="c2" d="M123.5 419.3l4.9-.8-2.8-1.4-4.9.8z"/><path class="c26" d="M200.8 409.2l4.9-1.5-2.8-2.9-4.9 1.5z"/><path class="c0" d="M278.2 419.4l4.8-.8-2.8-1.3-4.8.8z"/><path class="c27" d="M156 416.5l4.8-.4-2.8-5.7-4.8 1z"/><path class="c26" d="M233.3 407l4.8-.9-2.8-1.8-4.8-.6z"/><path class="c0" d="M111.1 419.5l4.8-.8-2.8-1.3-4.8.7z"/><path class="c3" d="M188.4 411l4.8-3.9-2.8-1-4.8 3.9z"/><path class="c4" d="M265.7 406.4l4.8 12.4-2.8-1.3-4.8-12.7z"/><path class="c17" d="M143.6 412.8l4.8-.4-2.8-5.5-4.8.8z"/><path class="c31" d="M220.9 406.3l4.8-1-2.8-1.7-4.8 2.1z"/><path class="c5" d="M176 414.2l4.8-1-2.8-.4-4.8 2.3z"/><path class="c9" d="M253.3 409.7l4.8-6-2.8-1.5-4.8 4.8z"/><path class="c3" d="M131.2 409.6l4.8-1.1-2.8 9.2-4.8.8z"/><path class="c30" d="M208.5 409.3l4.8-2-2.8-1.2-4.8 1.6z"/><path class="c11" d="M163.6 415.4l4.8-.1-2.8-.6-4.8 1.4z"/><path class="c32" d="M240.9 409.4l4.8-.6-2.8-3.5-4.8.8z"/><path class="c2" d="M118.7 420l4.8-.7-2.8-1.4-4.8.8z"/><path class="c16" d="M196 408.1l4.8 1.1-2.8-2.9-4.8.8z"/><path class="c2" d="M273.3 420.2l4.9-.8-2.8-1.3-4.9.7z"/><path class="c29" d="M151.2 416l4.8.5-2.8-5.1-4.8 1z"/><path class="c23" d="M228.5 407.3l4.8-.3-2.8-3.3-4.8 1.6z"/><path class="c0" d="M106.3 420.2l4.8-.7-2.8-1.4-4.8.8z"/><path class="c3" d="M183.6 411.9l4.8-.9-2.8-1-4.8 3.2z"/><path class="c9" d="M260.9 405.4l4.8 1-2.8-1.6-4.8-1.1z"/><path class="c17" d="M138.8 412.9l4.8-.1-2.8-5.1-4.8.8z"/><path class="c9" d="M216.1 408.6l4.8-2.3-2.8-.6-4.8 1.6z"/><path class="c4" d="M171.2 414.1l4.8.1-2.8.9-4.8.2z"/><path class="c33" d="M248.5 412.2l4.8-2.5-2.8-2.7-4.8 1.8z"/><path class="c3" d="M126.3 409.8l4.9-.2-2.8 8.9-4.9.8z"/><path class="c34" d="M203.6 411.1l4.9-1.8-2.8-1.6-4.9 1.5z"/><path class="c0" d="M280.9 420.8l4.9-.8-2.8-1.4-4.8.8z"/><path class="c11" d="M158.8 417l4.8-1.6-2.8.7-4.8.4z"/><path class="c29" d="M236.1 410.1l4.8-.7-2.8-3.3-4.8.9z"/><path class="c2" d="M113.9 420.8l4.8-.8-2.8-1.3-4.8.8z"/><path class="c5" d="M191.2 409.6l4.8-1.5-2.8-1-4.8 3.9z"/><path class="c4" d="M268.5 407.8l4.8 12.4-2.8-1.4-4.8-12.4z"/><path class="c26" d="M146.4 415.6l4.8.4-2.8-3.6-4.8.4z"/><path class="c14" d="M223.7 408.3l4.8-1-2.8-2-4.8 1z"/><path class="c0" d="M101.5 421l4.8-.8-2.8-1.3-4.8.8z"/><path class="c4" d="M178.8 413.6l4.8-1.7-2.8 1.3-4.8 1z"/><path class="c8" d="M256.1 412.3l4.8-6.9-2.8-1.7-4.8 6z"/><path class="c35" d="M134 412.5l4.8.4-2.8-4.4-4.8 1.1z"/><path class="c13" d="M211.3 409.2l4.8-.6-2.8-1.3-4.8 2z"/><path class="c4" d="M166.4 414.2l4.8-.1-2.8 1.2-4.8.1z"/><path class="c29" d="M243.7 412.7l4.8-.5-2.8-3.4-4.8.6z"/><path class="c3" d="M121.5 407.8l4.8 2-2.8 9.5-4.8.7z"/><path class="c22" d="M198.8 409.3l4.8 1.8-2.8-1.9-4.8-1.1z"/><path class="c2" d="M276.1 421.5l4.8-.7-2.7-1.4-4.9.8z"/><path class="c1" d="M154 418.1l4.8-1.1-2.8-.5-4.8-.5z"/><path class="c26" d="M231.3 410.1l4.8 0-2.8-3.1-4.8.3z"/><path class="c2" d="M109.1 421.6l4.8-.8-2.8-1.3-4.8.7z"/><path class="c4" d="M186.4 410.9l4.8-1.3-2.8 1.4-4.8.9z"/><path class="c18" d="M263.7 408.5l4.8-.7-2.8-1.4-4.8-1z"/><path class="c33" d="M141.6 415.1l4.8.5-2.8-2.8-4.8.1z"/><path class="c30" d="M218.9 410l4.8-1.7-2.8-2-4.8 2.3z"/><path class="c0" d="M96.7 421.8l4.8-.8-2.8-1.3-4.8.7z"/><path class="c4" d="M174 412.8l4.8.8-2.8.6-4.8-.1z"/><path class="c16" d="M251.3 415.4l4.8-3.1-2.8-2.6-4.8 2.5z"/><path class="c6" d="M129.1 411.2l4.9 1.3-2.8-2.9-4.9.2z"/><path class="c3" d="M206.4 409.7l4.9-.5-2.8.1-4.9 1.8z"/><path class="c0" d="M283.7 422.1l4.9-.8-2.8-1.3-4.9.8z"/><path class="c4" d="M161.6 416l4.8-1.8-2.8 1.2-4.8 1.6z"/><path class="c36" d="M238.9 411.9l4.8.8-2.8-3.3-4.8.7z"/><path class="c3" d="M116.7 406.5l4.8 1.3-2.8 12.2-4.8.8z"/><path class="c3" d="M194 407.8l4.8 1.5-2.8-1.2-4.8 1.5z"/><path class="c4" d="M271.3 408.9l4.8 12.6-2.8-1.3-4.8-12.4z"/><path class="c15" d="M149.2 417.6l4.8.5-2.8-2.1-4.8-.4z"/><path class="c17" d="M226.5 410.5l4.8-.4-2.8-2.8-4.8 1z"/><path class="c2" d="M104.3 422.4l4.8-.8-2.8-1.4-4.8.8z"/><path class="c3" d="M181.6 412.8l4.8-1.9-2.8 1-4.8 1.7z"/><path class="c5" d="M258.9 415.4l4.8-6.9-2.8-3.1-4.8 6.9z"/><path class="c33" d="M136.7 415.3l4.9-.2-2.8-2.2-4.8-.4z"/><path class="c5" d="M214 407.5l4.9 2.5-2.8-1.4-4.8.6z"/><path class="c0" d="M91.9 422.6l4.8-.8-2.8-1.4-4.8.8z"/><path class="c4" d="M169.2 413l4.8-.2-2.8 1.3-4.8.1z"/><path class="c14" d="M246.5 414.3l4.8 1.1-2.8-3.2-4.8.5z"/><path class="c30" d="M124.3 411.2l4.8 0-2.8-1.4-4.8-2z"/><path class="c4" d="M201.6 407.6l4.8 2.1-2.8 1.4-4.8-1.8z"/><path class="c2" d="M278.9 422.9l4.8-.8-2.8-1.3-4.8.7z"/><path class="c5" d="M156.8 418.3l4.8-2.3-2.8 1-4.8 1.1z"/><path class="c18" d="M234.1 411.8l4.8.1-2.8-1.8-4.8 0z"/><path class="c5" d="M111.9 407l4.8-.5-2.8 14.3-4.8.8z"/><path class="c4" d="M189.2 410l4.8-2.2-2.8 1.8-4.8 1.3z"/><path class="c18" d="M266.5 411.6l4.8-2.7-2.8-1.1-4.8.7z"/><path class="c34" d="M144.4 417.2l4.8.4-2.8-2-4.8-.5z"/><path class="c22" d="M221.7 409.9l4.8.6-2.8-2.2-4.8 1.7z"/><path class="c2" d="M99.5 423.1l4.8-.7-2.8-1.4-4.8.8z"/><path class="c4" d="M176.8 411.9l4.8.9-2.8.8-4.8-.8z"/><path class="c34" d="M254.1 418l4.8-2.6-2.8-3.1-4.8 3.1z"/><path class="c19" d="M131.9 415.9l4.8-.6-2.7-2.8-4.9-1.3z"/><path class="c4" d="M209.2 408.1l4.8-.6-2.7 1.7-4.9.5z"/><path class="c0" d="M87.1 423.3l4.8-.7-2.8-1.4-4.8.8z"/><path class="c0" d="M286.5 423.4l4.9-.7-2.8-1.4-4.9.8z"/><path class="c4" d="M164.4 415l4.8-2-2.8 1.2-4.8 1.8z"/><path class="c13" d="M241.7 411.5l4.8 2.8-2.8-1.6-4.8-.8z"/><path class="c15" d="M119.5 409.8l4.8 1.4-2.8-3.4-4.8-1.3z"/><path class="c4" d="M196.8 404.6l4.8 3-2.8 1.7-4.8-1.5z"/><path class="c4" d="M274.1 410l4.8 12.9-2.8-1.4-4.8-12.6z"/><path class="c22" d="M152 419.7l4.8-1.4-2.8-.2-4.8-.5z"/><path class="c2" d="M229.3 411.6l4.8.2-2.8-1.7-4.8.4z"/><path class="c5" d="M107.1 407.5l4.8-.5-2.8 14.6-4.8.8z"/><path class="c3" d="M184.4 411.8l4.8-1.8-2.8.9-4.8 1.9z"/><path class="c5" d="M261.7 418.5l4.8-6.9-2.8-3.1-4.8 6.9z"/><path class="c37" d="M139.5 417.3l4.9-.1-2.8-2.1-4.9.2z"/><path class="c4" d="M216.8 407.5l4.9 2.4-2.8.1-4.9-2.5z"/><path class="c2" d="M94.7 423.9l4.8-.8-2.8-1.3-4.8.8z"/><path class="c4" d="M172 411.8l4.8.1-2.8.9-4.8.2z"/><path class="c2" d="M249.3 415.3l4.8 2.7-2.8-2.6-4.8-1.1z"/><path class="c19" d="M127.1 415.4l4.8.5-2.8-4.7-4.8 0z"/><path class="c4" d="M204.4 407.1l4.8 1-2.8 1.6-4.8-2.1z"/><path class="c0" d="M82.3 424.1l4.8-.8-2.8-1.3-4.8.8z"/><path class="c2" d="M281.7 424.2l4.8-.8-2.8-1.3-4.8.8z"/><path class="c3" d="M159.6 417.3l4.8-2.3-2.8 1-4.8 2.3z"/><path class="c4" d="M236.9 408.9l4.8 2.6-2.8.4-4.8-.1z"/><path class="c10" d="M114.7 408.7l4.8 1.1-2.8-3.3-4.8.5z"/><path class="c3" d="M192 404.6l4.8 0-2.8 3.2-4.8 2.2z"/><path class="c5" d="M269.3 414.7l4.8-4.7-2.8-1.1-4.8 2.7z"/><path class="c18" d="M147.2 419.3l4.8.4-2.8-2.1-4.8-.4z"/><path class="c3" d="M224.5 409l4.8 2.6-2.8-1.1-4.8-.6z"/><path class="c5" d="M102.3 408l4.8-.5-2.8 14.9-4.8.7z"/><path class="c4" d="M179.6 411.2l4.8.6-2.8 1-4.8-.9z"/><path class="c21" d="M256.9 420l4.8-1.5-2.8-3.1-4.8 2.6z"/><path class="c24" d="M134.7 417.5l4.8-.2-2.8-2-4.8.6z"/><path class="c4" d="M212 405.8l4.8 1.7-2.8 0-4.8.6z"/><path class="c2" d="M89.9 424.7l4.8-.8-2.8-1.3-4.8.7z"/><path class="c0" d="M289.3 424.8l4.9-.8-2.8-1.3-4.9.7z"/><path class="c3" d="M167.2 414l4.8-2.2-2.8 1.2-4.8 2z"/><path class="c3" d="M244.5 412.6l4.8 2.7-2.8-1-4.8-2.8z"/><path class="c25" d="M122.3 413.9l4.8 1.5-2.8-4.2-4.8-1.4z"/><path class="c4" d="M199.6 404.5l4.8 2.6-2.8.5-4.8-3z"/><path class="c0" d="M77.5 424.9l4.8-.8-2.8-1.3-4.8.8z"/><path class="c4" d="M276.9 411.1l4.8 13.1-2.8-1.3-4.8-12.9z"/><path class="c5" d="M154.8 419.7l4.8-2.4-2.8 1-4.8 1.4z"/><path class="c4" d="M232.1 408.8l4.8.1-2.8 2.9-4.8-.2z"/><path class="c37" d="M109.9 410.7l4.8-2-2.8-1.7-4.8.5z"/><path class="c3" d="M187.2 409.7l4.8-5.1-2.8 5.4-4.8 1.8z"/><path class="c3" d="M264.5 420.9l4.8-6.2-2.8-3.1-4.8 6.9z"/><path class="c24" d="M142.3 419.4l4.9-.1-2.8-2.1-4.9.1z"/><path class="c4" d="M219.6 406.4l4.9 2.6-2.8.9-4.9-2.4z"/><path class="c5" d="M97.5 408.5l4.8-.5-2.8 15.1-4.8.8z"/><path class="c4" d="M174.8 410.7l4.8.5-2.8.7-4.8-.1z"/><path class="c22" d="M252.1 417.3l4.8 2.7-2.8-2-4.8-2.7z"/><path class="c31" d="M129.9 416.2l4.8 1.3-2.8-1.6-4.8-.5z"/><path class="c4" d="M207.2 399.9l4.8 5.9-2.8 2.3-4.8-1z"/><path class="c2" d="M85.1 425.5l4.8-.8-2.8-1.4-4.8.8z"/><path class="c2" d="M284.5 425.6l4.8-.8-2.8-1.4-4.8.8z"/><path class="c3" d="M162.4 416.3l4.8-2.3-2.8 1-4.8 2.3z"/><path class="c4" d="M239.7 409.8l4.8 2.8-2.8-1.1-4.8-2.6z"/><path class="c33" d="M117.5 413.5l4.8.4-2.8-4.1-4.8-1.1z"/><path class="c4" d="M194.8 401.9l4.8 2.6-2.8.1-4.8 0z"/><path class="c0" d="M72.6 425.7l4.9-.8-2.8-1.3-4.8.7z"/><path class="c3" d="M272.1 417.3l4.8-6.2-2.8-1.1-4.8 4.7z"/><path class="c7" d="M150 421.3l4.8-1.6-2.8 0-4.8-.4z"/><path class="c4" d="M227.3 410.1l4.8-1.3-2.8 2.8-4.8-2.6z"/><path class="c1" d="M105.1 409.1l4.8 1.6-2.8-3.2-4.8.5z"/><path class="c4" d="M182.4 409.5l4.8.2-2.8 2.1-4.8-.6z"/><path class="c18" d="M259.7 421.4l4.8-.5-2.8-2.4-4.8 1.5z"/><path class="c2" d="M137.5 418.6l4.8.8-2.8-2.1-4.8.2z"/><path class="c4" d="M214.8 403.8l4.8 2.6-2.8 1.1-4.8-1.7z"/><path class="c5" d="M92.7 409l4.8-.5-2.8 15.4-4.8.8z"/><path class="c0" d="M292.1 426.1l4.8-.8-2.7-1.3-4.9.8z"/><path class="c4" d="M170 413l4.8-2.3-2.8 1.1-4.8 2.2z"/><path class="c13" d="M247.3 414.5l4.8 2.8-2.8-2-4.8-2.7z"/><path class="c11" d="M125.1 416.2l4.8 0-2.8-.8-4.8-1.5z"/><path class="c4" d="M202.4 397.2l4.8 2.7-2.8 7.2-4.8-2.6z"/><path class="c2" d="M80.3 426.2l4.8-.7-2.8-1.4-4.8.8z"/><path class="c5" d="M279.7 412.2l4.8 13.4-2.8-1.4-4.8-13.1z"/><path class="c3" d="M157.6 418.7l4.8-2.4-2.8 1-4.8 2.4z"/><path class="c4" d="M234.9 407.1l4.8 2.7-2.8-.9-4.8-.1z"/><path class="c11" d="M112.7 409.1l4.8 4.4-2.8-4.8-4.8 2z"/><path class="c3" d="M190 399.3l4.8 2.6-2.8 2.7-4.8 5.1z"/><path class="c0" d="M67.8 426.4l4.8-.7-2.7-1.4-4.9.8z"/><path class="c3" d="M267.3 421.8l4.8-4.5-2.8-2.6-4.8 6.2z"/><path class="c30" d="M145.1 421l4.9.3-2.8-2-4.9.1z"/><path class="c4" d="M222.4 403.2l4.9 6.9-2.8-1.1-4.9-2.6z"/><path class="c13" d="M100.3 409l4.8.1-2.8-1.1-4.8.5z"/><path class="c4" d="M177.6 405.3l4.8 4.2-2.8 1.7-4.8-.5z"/><path class="c7" d="M254.9 420.9l4.8.5-2.8-1.4-4.8-2.7z"/><path class="c9" d="M132.7 417.4l4.8 1.2-2.8-1.1-4.8-1.3z"/><path class="c4" d="M210 395.1l4.8 8.7-2.8 2-4.8-5.9z"/><path class="c5" d="M87.9 409.7l4.8-.7-2.8 15.7-4.8.8z"/><path class="c1" d="M287.3 426.9l4.8-.8-2.8-1.3-4.8.8z"/><path class="c4" d="M165.2 413.8l4.8-.8-2.8 1-4.8 2.3z"/><path class="c13" d="M242.5 411.7l4.8 2.8-2.8-1.9-4.8-2.8z"/><path class="c5" d="M120.3 410.8l4.8 5.4-2.8-2.3-4.8-.4z"/><path class="c4" d="M197.6 394.8l4.8 2.4-2.8 7.3-4.8-2.6z"/><path class="c1" d="M75.4 427l4.9-.8-2.8-1.3-4.9.8z"/><path class="c5" d="M274.9 419.6l4.8-7.4-2.8-1.1-4.8 6.2z"/><path class="c3" d="M152.7 420l4.9-1.3-2.8 1-4.8 1.6z"/><path class="c4" d="M230.1 405.8l4.8 1.3-2.8 1.7-4.8 1.3z"/><path class="c3" d="M107.9 409.5l4.8-.4-2.8 1.6-4.8-1.6z"/><path class="c3" d="M185.2 403.3l4.8-4-2.8 10.4-4.8-.2z"/><path class="c0" d="M63 427.2l4.8-.8-2.8-1.3-4.8.8z"/><path class="c13" d="M262.5 422.1l4.8-.3-2.8-.9-4.8.5z"/><path class="c7" d="M140.3 419.7l4.8 1.3-2.8-1.6-4.8-.8z"/><path class="c4" d="M217.6 398.9l4.8 4.3-2.8 3.2-4.8-2.6z"/><path class="c8" d="M95.5 408.4l4.8.6-2.8-.5-4.8.5z"/><path class="c0" d="M294.9 427.5l4.8-.8-2.8-1.4-4.8.8z"/><path class="c3" d="M172.8 410.4l4.8-5.1-2.8 5.4-4.8 2.3z"/><path class="c7" d="M250.1 418.1l4.8 2.8-2.8-3.6-4.8-2.8z"/><path class="c3" d="M127.9 415.2l4.8 2.2-2.8-1.2-4.8 0z"/><path class="c4" d="M205.2 389.2l4.8 5.9-2.8 4.8-4.8-2.7z"/><path class="c5" d="M83.1 411l4.8-1.3-2.8 15.8-4.8.7z"/><path class="c11" d="M282.5 427.7l4.8-.8-2.8-1.3-4.8-13.4z"/><path class="c4" d="M160.4 414.5l4.8-.7-2.8 2.5-4.8 2.4z"/><path class="c13" d="M237.7 409l4.8 2.7-2.8-1.9-4.8-2.7z"/><path class="c3" d="M115.5 410l4.8.8-2.8 2.7-4.8-4.4z"/><path class="c3" d="M192.8 397.6l4.8-2.8-2.8 7.1-4.8-2.6z"/><path class="c0" d="M70.6 427.8l4.8-.8-2.8-1.3-4.8.7z"/><path class="c5" d="M270.1 422.6l4.8-3-2.8-2.3-4.8 4.5z"/><path class="c3" d="M147.9 421.1l4.8-1.1-2.7 1.3-4.9-.3z"/><path class="c4" d="M225.2 404.1l4.9 1.7-2.8 4.3-4.9-6.9z"/><path class="c7" d="M103.1 410.6l4.8-1.1-2.8-.4-4.8-.1z"/><path class="c4" d="M180.4 398.1l4.8 5.2-2.8 6.2-4.8-4.2z"/><path class="c0" d="M58.2 428l4.8-.8-2.8-1.3-4.8.7z"/><path class="c9" d="M257.7 422.4l4.8-.3-2.8-.7-4.8-.5z"/><path class="c9" d="M135.5 418.4l4.8 1.3-2.8-1.1-4.8-1.2z"/><path class="c4" d="M212.8 391.3l4.8 7.6-2.8 4.9-4.8-8.7z"/><path class="c8" d="M90.7 409l4.8-.6-2.8.6-4.8.7z"/><path class="c0" d="M290.1 428.2l4.8-.7-2.8-1.4-4.8.8z"/><path class="c4" d="M168 409.1l4.8 1.3-2.8 2.6-4.8.8z"/><path class="c7" d="M245.3 415.4l4.8 2.7-2.8-3.6-4.8-2.8z"/><path class="c3" d="M123.1 413.2l4.8 2-2.8 1-4.8-5.4z"/><path class="c3" d="M200.4 386.8l4.8 2.4-2.8 8-4.8-2.4z"/><path class="c8" d="M78.2 428.3l4.9-17.3-2.8 15.2-4.9.8z"/><path class="c24" d="M277.7 421.9l4.8 5.8-2.8-15.5-4.8 7.4z"/><path class="c3" d="M155.5 415.7l4.9-1.2-2.8 4.2-4.9 1.3z"/><path class="c3" d="M232.8 406.2l4.9 2.8-2.8-1.9-4.8-1.3z"/><path class="c31" d="M110.7 411.1l4.8-1.1-2.8-.9-4.8.4z"/><path class="c3" d="M188 400.3l4.8-2.7-2.8 1.7-4.8 4z"/><path class="c0" d="M65.8 428.6l4.8-.8-2.8-1.4-4.8.8z"/><path class="c13" d="M265.3 422.8l4.8-.2-2.8-.8-4.8.3z"/><path class="c13" d="M143.1 420.6l4.8.5-2.8-.1-4.8-1.3z"/><path class="c4" d="M220.4 396.1l4.8 8-2.8-.9-4.8-4.3z"/><path class="c17" d="M98.3 412.7l4.8-2.1-2.8-1.6-4.8-.6z"/><path class="c0" d="M297.7 428.8l4.8-.8-2.8-1.3-4.8.8z"/><path class="c5" d="M175.6 399l4.8-.9-2.8 7.2-4.8 5.1z"/><path class="c0" d="M53.4 428.8l4.8-.8-2.8-1.4-4.8.8z"/><path class="c7" d="M252.9 421.8l4.8.6-2.8-1.5-4.8-2.8z"/><path class="c9" d="M130.7 417.1l4.8 1.3-2.8-1-4.8-2.2z"/><path class="c4" d="M208 387.9l4.8 3.4-2.8 3.8-4.8-5.9z"/><path class="c5" d="M85.9 409.7l4.8-.7-2.8.7-4.8 1.3z"/><path class="c0" d="M285.3 429l4.8-.8-2.8-1.3-4.8.8z"/><path class="c3" d="M163.2 410.1l4.8-1-2.8 4.7-4.8.7z"/><path class="c7" d="M240.5 412.6l4.8 2.8-2.8-3.7-4.8-2.7z"/><path class="c31" d="M118.3 411.9l4.8 1.3-2.8-2.4-4.8-.8z"/><path class="c3" d="M195.6 384.3l4.8 2.5-2.8 8-4.8 2.8z"/><path class="c2" d="M73.4 429.1l4.8-.8-2.8-1.3-4.8.8z"/><path class="c11" d="M272.9 423.3l4.8-1.4-2.8-2.3-4.8 3z"/><path class="c3" d="M150.7 416.9l4.8-1.2-2.8 4.3-4.8 1.1z"/><path class="c4" d="M228 400.2l4.8 6-2.7-.4-4.9-1.7z"/><path class="c15" d="M105.9 412.2l4.8-1.1-2.8-1.6-4.8 1.1z"/><path class="c4" d="M183.2 393.4l4.8 6.9-2.8 3-4.8-5.2z"/><path class="c0" d="M61 429.3l4.8-.7-2.8-1.4-4.8.8z"/><path class="c9" d="M260.5 423.1l4.8-.3-2.8-.7-4.8.3z"/><path class="c13" d="M138.3 419.2l4.8 1.4-2.8-.9-4.8-1.3z"/><path class="c4" d="M215.6 390.8l4.8 5.3-2.8 2.8-4.8-7.6z"/><path class="c20" d="M93.5 412.3l4.8.4-2.8-4.3-4.8.6z"/><path class="c0" d="M292.9 429.6l4.8-.8-2.8-1.3-4.8.7z"/><path class="c5" d="M170.8 406.2l4.8-7.2-2.8 11.4-4.8-1.3z"/><path class="c0" d="M48.6 429.5l4.8-.7-2.8-1.4-4.8.8z"/><path class="c7" d="M248.1 419l4.8 2.8-2.8-3.7-4.8-2.7z"/><path class="c9" d="M125.9 415.6l4.8 1.5-2.8-1.9-4.8-2z"/><path class="c4" d="M203.2 381.9l4.8 6-2.8 1.3-4.8-2.4z"/><path class="c8" d="M81 412l4.9-2.3-2.8 1.3-4.9 17.3z"/><path class="c8" d="M280.5 422.9l4.8 6.1-2.8-1.3-4.8-5.8z"/><path class="c3" d="M158.3 411.4l4.9-1.3-2.8 4.4-4.9 1.2z"/><path class="c9" d="M235.6 409.8l4.9 2.8-2.8-3.6-4.9-2.8z"/><path class="c21" d="M113.5 412.7l4.8-.8-2.8-1.9-4.8 1.1z"/><path class="c5" d="M190.8 379.6l4.8 4.7-2.8 13.3-4.8 2.7z"/><path class="c1" d="M68.6 429.9l4.8-.8-2.8-1.3-4.8.8z"/><path class="c22" d="M268.1 423.6l4.8-.3-2.8-.7-4.8.2z"/><path class="c4" d="M145.9 419l4.8-2.1-2.8 4.2-4.8-.5z"/><path class="c3" d="M223.2 395.4l4.8 4.8-2.8 3.9-4.8-8z"/><path class="c1" d="M101.1 413.5l4.8-1.3-2.8-1.6-4.8 2.1z"/><path class="c0" d="M300.5 430.1l4.8-.7-2.8-1.4-4.8.8z"/><path class="c3" d="M178.4 387l4.8 6.4-2.8 4.7-4.8.9z"/><path class="c0" d="M56.2 430.1l4.8-.8-2.8-1.3-4.8.8z"/><path class="c9" d="M255.7 423.4l4.8-.3-2.8-.7-4.8-.6z"/><path class="c9" d="M133.5 417.9l4.8 1.3-2.8-.8-4.8-1.3z"/><path class="c4" d="M210.8 381.3l4.8 9.5-2.8.5-4.8-3.4z"/><path class="c6" d="M88.6 410.5l4.9 1.8-2.8-3.3-4.8.7z"/><path class="c2" d="M288.1 430.3l4.8-.7-2.8-1.4-4.8.8z"/><path class="c4" d="M166 402.1l4.8 4.1-2.8 2.9-4.8 1z"/><path class="c7" d="M243.3 416.2l4.8 2.8-2.8-3.6-4.8-2.8z"/><path class="c11" d="M121.1 414.2l4.8 1.4-2.8-2.4-4.8-1.3z"/><path class="c4" d="M198.4 373.3l4.8 8.6-2.8 4.9-4.8-2.5z"/><path class="c5" d="M76.2 414.1l4.8-2.1-2.8 16.3-4.8.8z"/><path class="c1" d="M275.7 425.7l4.8-2.8-2.8-1-4.8 1.4z"/><path class="c3" d="M153.5 412.7l4.8-1.3-2.8 4.3-4.8 1.2z"/><path class="c4" d="M230.8 400.1l4.8 9.7-2.8-3.6-4.8-6z"/><path class="c16" d="M108.7 413.7l4.8-1-2.8-1.6-4.8 1.1z"/><path class="c5" d="M186 392.4l4.8-12.8-2.8 20.7-4.8-6.9z"/><path class="c0" d="M63.8 430.7l4.8-.8-2.8-1.3-4.8.7z"/><path class="c11" d="M263.3 423.8l4.8-.2-2.8-.8-4.8.3z"/><path class="c4" d="M141.1 420.1l4.8-1.1-2.8 1.6-4.8-1.4z"/><path class="c3" d="M218.4 394.5l4.8.9-2.8.7-4.8-5.3z"/><path class="c37" d="M96.3 415.8l4.8-2.3-2.8-.8-4.8-.4z"/><path class="c0" d="M295.7 430.9l4.8-.8-2.8-1.3-4.8.8z"/><path class="c5" d="M173.6 389.2l4.8-2.2-2.8 12-4.8 7.2z"/><path class="c0" d="M51.4 430.9l4.8-.8-2.8-1.3-4.8.7z"/><path class="c7" d="M250.9 422.7l4.8.7-2.8-1.6-4.8-2.8z"/><path class="c9" d="M128.7 416.5l4.8 1.4-2.8-.8-4.8-1.5z"/><path class="c4" d="M206 372.3l4.8 9-2.8 6.6-4.8-6z"/><path class="c13" d="M83.8 411.5l4.8-1-2.7-.8-4.9 2.3z"/><path class="c4" d="M283.3 423.3l4.8 7-2.8-1.3-4.8-6.1z"/><path class="c3" d="M161.1 403.9l4.9-1.8-2.8 8-4.9 1.3z"/><path class="c3" d="M238.4 410.7l4.9 5.5-2.8-3.6-4.9-2.8z"/><path class="c14" d="M116.3 414.8l4.8-.6-2.8-2.3-4.8.8z"/><path class="c3" d="M193.6 359l4.8 14.3-2.8 11-4.8-4.7z"/><path class="c8" d="M71.4 431.2l4.8-17.1-2.8 15-4.8.8z"/><path class="c35" d="M270.9 426.5l4.8-.8-2.8-2.4-4.8.3z"/><path class="c3" d="M148.7 416.3l4.8-3.6-2.8 4.2-4.8 2.1z"/><path class="c2" d="M226 401.9l4.8-1.8-2.8.1-4.8-4.8z"/><path class="c15" d="M103.9 414.9l4.8-1.2-2.8-1.5-4.8 1.3z"/><path class="c0" d="M303.3 431.5l4.8-.8-2.8-1.3-4.8.7z"/><path class="c4" d="M181.2 386.8l4.8 5.6-2.8 1-4.8-6.4z"/><path class="c0" d="M59 431.4l4.8-.7-2.8-1.4-4.8.8z"/><path class="c11" d="M258.5 424.1l4.8-.3-2.8-.7-4.8.3z"/><path class="c13" d="M136.3 418.7l4.8 1.4-2.8-.9-4.8-1.3z"/><path class="c4" d="M213.6 367.6l4.8 26.9-2.8-3.7-4.8-9.5z"/><path class="c6" d="M91.4 414l4.9 1.8-2.8-3.5-4.9-1.8z"/><path class="c2" d="M290.9 431.7l4.8-.8-2.8-1.3-4.8.7z"/><path class="c5" d="M168.7 394.7l4.9-5.5-2.8 17-4.8-4.1z"/><path class="c7" d="M246 419.9l4.9 2.8-2.8-3.7-4.8-2.8z"/><path class="c9" d="M123.9 415.1l4.8 1.4-2.8-.9-4.8-1.4z"/><path class="c4" d="M201.2 356.3l4.8 16-2.8 9.6-4.8-8.6z"/><path class="c5" d="M79 414.8l4.8-3.3-2.8.5-4.8 2.1z"/><path class="c5" d="M278.5 425.7l4.8-2.4-2.8-.4-4.8 2.8z"/><path class="c5" d="M156.3 405l4.8-1.1-2.8 7.5-4.8 1.3z"/><path class="c4" d="M233.6 404.1l4.8 6.6-2.8-.9-4.8-9.7z"/><path class="c17" d="M111.5 417l4.8-2.2-2.8-2.1-4.8 1z"/><path class="c8" d="M188.8 360.8l4.8-1.8-2.8 20.6-4.8 12.8z"/><path class="c1" d="M66.6 432l4.8-.8-2.8-1.3-4.8.8z"/><path class="c26" d="M266.1 426.9l4.8-.4-2.8-2.9-4.8.2z"/><path class="c4" d="M143.9 418.2l4.8-1.9-2.8 2.7-4.8 1.1z"/><path class="c3" d="M221.2 391.6l4.8 10.3-2.8-6.5-4.8-.9z"/><path class="c9" d="M99.1 414.2l4.8.7-2.8-1.4-4.8 2.3z"/><path class="c0" d="M298.5 432.2l4.8-.7-2.8-1.4-4.8.8z"/><path class="c4" d="M176.4 383.5l4.8 3.3-2.8.2-4.8 2.2z"/><path class="c0" d="M54.2 432.2l4.8-.8-2.8-1.3-4.8.8z"/><path class="c11" d="M253.7 424.4l4.8-.3-2.8-.7-4.8-.7z"/><path class="c13" d="M131.5 417.3l4.8 1.4-2.8-.8-4.8-1.4z"/><path class="c4" d="M208.8 364.8l4.8 2.8-2.8 13.7-4.8-9z"/><path class="c25" d="M86.6 413l4.8 1-2.8-3.5-4.8 1z"/><path class="c4" d="M286.1 423.4l4.8 8.3-2.8-1.4-4.8-7z"/><path class="c3" d="M163.9 397.2l4.8-2.5-2.7 7.4-4.9 1.8z"/><path class="c3" d="M241.2 413.5l4.8 6.4-2.7-3.7-4.9-5.5z"/><path class="c18" d="M119.1 417l4.8-1.9-2.8-.9-4.8.6z"/><path class="c4" d="M196.4 349.8l4.8 6.5-2.8 17-4.8-14.3z"/><path class="c4" d="M74.2 432.6l4.8-17.8-2.8-.7-4.8 17.1z"/><path class="c7" d="M273.7 428.4l4.8-2.7-2.8 0-4.8.8z"/><path class="c3" d="M151.5 416l4.8-11-2.8 7.7-4.8 3.6z"/><path class="c8" d="M228.8 399.6l4.8 4.5-2.8-4-4.8 1.8z"/><path class="c20" d="M106.7 417.2l4.8-.2-2.8-3.3-4.8 1.2z"/><path class="c0" d="M306.1 432.8l4.8-.8-2.8-1.3-4.8.8z"/><path class="c5" d="M184 364.1l4.8-3.3-2.8 31.6-4.8-5.6z"/><path class="c0" d="M61.8 432.8l4.8-.8-2.8-1.3-4.8.7z"/><path class="c23" d="M261.3 427.3l4.8-.4-2.8-3.1-4.8.3z"/><path class="c4" d="M139.1 419l4.8-.8-2.8 1.9-4.8-1.4z"/><path class="c4" d="M216.4 374l4.8 17.6-2.8 2.9-4.8-26.9z"/><path class="c3" d="M94.2 414.4l4.9-.2-2.8 1.6-4.9-1.8z"/><path class="c2" d="M293.7 433l4.8-.8-2.8-1.3-4.8.8z"/><path class="c5" d="M171.5 387.8l4.9-4.3-2.8 5.7-4.9 5.5z"/><path class="c7" d="M248.8 422.8l4.9 1.6-2.8-1.7-4.9-2.8z"/><path class="c7" d="M126.7 416.4l4.8.9-2.8-.8-4.8-1.4z"/><path class="c4" d="M204 357.5l4.8 7.3-2.8 7.5-4.8-16z"/><path class="c13" d="M81.8 416.2l4.8-3.2-2.8-1.5-4.8 3.3z"/><path class="c3" d="M281.3 425.8l4.8-2.4-2.8-.1-4.8 2.4z"/><path class="c3" d="M159.1 396.7l4.8.5-2.8 6.7-4.8 1.1z"/><path class="c4" d="M236.4 408l4.8 5.5-2.8-2.8-4.8-6.6z"/><path class="c16" d="M114.3 418.7l4.8-1.7-2.8-2.2-4.8 2.2z"/><path class="c5" d="M191.6 358.6l4.8-8.8-2.8 9.2-4.8 1.8z"/><path class="c2" d="M69.4 433.4l4.8-.8-2.8-1.4-4.8.8z"/><path class="c17" d="M268.9 430.7l4.8-2.3-2.8-1.9-4.8.4z"/><path class="c3" d="M146.7 417.4l4.8-1.4-2.8.3-4.8 1.9z"/><path class="c4" d="M224 381.4l4.8 18.2-2.8 2.3-4.8-10.3z"/><path class="c8" d="M101.9 413.5l4.8 3.7-2.8-2.3-4.8-.7z"/><path class="c0" d="M301.3 433.6l4.8-.8-2.8-1.3-4.8.7z"/><path class="c5" d="M179.2 375.5l4.8-11.4-2.8 22.7-4.8-3.3z"/><path class="c0" d="M57 433.6l4.8-.8-2.8-1.4-4.8.8z"/><path class="c35" d="M256.5 427.2l4.8.1-2.8-3.2-4.8.3z"/><path class="c8" d="M134.3 418.5l4.8.5-2.8-.3-4.8-1.4z"/><path class="c4" d="M211.6 364.5l4.8 9.5-2.8-6.4-4.8-2.8z"/><path class="c34" d="M89.4 416l4.8-1.6-2.8-.4-4.8-1z"/><path class="c4" d="M288.9 423.5l4.8 9.5-2.8-1.3-4.8-8.3z"/><path class="c5" d="M166.7 396.3l4.8-8.5-2.8 6.9-4.8 2.5z"/><path class="c3" d="M244 416l4.8 6.8-2.8-2.9-4.8-6.4z"/><path class="c11" d="M121.9 418l4.8-1.6-2.8-1.3-4.8 1.9z"/><path class="c13" d="M199.2 337.8l4.8 19.7-2.8-1.2-4.8-6.5z"/><path class="c4" d="M77 433.9l4.8-17.7-2.8-1.4-4.8 17.8z"/><path class="c3" d="M276.5 428.4l4.8-2.6-2.8-.1-4.8 2.7z"/><path class="c8" d="M154.3 404.6l4.8-7.9-2.8 8.3-4.8 11z"/><path class="c4" d="M231.6 396l4.8 12-2.8-3.9-4.8-4.5z"/><path class="c11" d="M109.5 417.9l4.8.8-2.8-1.7-4.8.2z"/><path class="c0" d="M308.9 434.2l4.8-.8-2.8-1.4-4.8.8z"/><path class="c4" d="M186.8 381.5l4.8-22.9-2.8 2.2-4.8 3.3z"/><path class="c0" d="M64.6 434.1l4.8-.7-2.8-1.4-4.8.8z"/><path class="c20" d="M264.1 430.2l4.8.5-2.8-3.8-4.8.4z"/><path class="c4" d="M141.9 415.5l4.8 1.9-2.8.8-4.8.8z"/><path class="c4" d="M219.2 363l4.8 18.4-2.8 10.2-4.8-17.6z"/><path class="c5" d="M97 413.2l4.9.3-2.8.7-4.9.2z"/><path class="c2" d="M296.5 434.4l4.8-.8-2.8-1.4-4.8.8z"/><path class="c5" d="M174.3 380.7l4.9-5.2-2.8 8-4.9 4.3z"/><path class="c7" d="M251.6 424.7l4.9 2.5-2.8-2.8-4.9-1.6z"/><path class="c22" d="M129.5 418.2l4.8.3-2.8-1.2-4.8-.9z"/><path class="c4" d="M206.8 360l4.8 4.5-2.8.3-4.8-7.3z"/><path class="c15" d="M84.6 417.6l4.8-1.6-2.8-3-4.8 3.2z"/><path class="c3" d="M284.1 425.5l4.8-2-2.8-.1-4.8 2.4z"/><path class="c4" d="M161.9 394.1l4.8 2.2-2.8.9-4.8-.5z"/><path class="c4" d="M239.2 409.1l4.8 6.9-2.8-2.5-4.8-5.5z"/><path class="c9" d="M117.1 419.6l4.8-1.6-2.8-1-4.8 1.7z"/><path class="c13" d="M194.4 359.9l4.8-22.1-2.8 12-4.8 8.8z"/><path class="c2" d="M72.2 434.7l4.8-.8-2.8-1.3-4.8.8z"/><path class="c8" d="M271.7 430.1l4.8-1.7-2.8 0-4.8 2.3z"/><path class="c5" d="M149.5 414.3l4.8-9.7-2.8 11.4-4.8 1.4z"/><path class="c4" d="M226.8 382.9l4.8 13.1-2.8 3.6-4.8-18.2z"/><path class="c11" d="M104.6 416.9l4.9 1-2.8-.7-4.8-3.7z"/><path class="c0" d="M304.1 434.9l4.8-.7-2.8-1.4-4.8.8z"/><path class="c0" d="M182 376.8l4.8 4.7-2.8-17.4-4.8 11.4z"/><path class="c0" d="M59.8 434.9l4.8-.8-2.8-1.3-4.8.8z"/><path class="c30" d="M259.3 428.8l4.8 1.4-2.8-2.9-4.8-.1z"/><path class="c3" d="M137.1 416.1l4.8-.6-2.8 3.5-4.8-.5z"/><path class="c4" d="M214.4 353.7l4.8 9.3-2.8 11-4.8-9.5z"/><path class="c7" d="M92.2 418.9l4.8-5.7-2.8 1.2-4.8 1.6z"/><path class="c4" d="M291.7 423.3l4.8 11.1-2.8-1.4-4.8-9.5z"/><path class="c5" d="M169.5 387l4.8-6.3-2.8 7.1-4.8 8.5z"/><path class="c4" d="M246.8 417.9l4.8 6.8-2.8-1.9-4.8-6.8z"/><path class="c6" d="M124.7 418.9l4.8-.7-2.8-1.8-4.8 1.6z"/><path class="c22" d="M202 357.9l4.8 2.1-2.8-2.5-4.8-19.7z"/><path class="c4" d="M79.8 435.3l4.8-17.7-2.8-1.4-4.8 17.7z"/><path class="c3" d="M279.3 427.6l4.8-2.1-2.8.3-4.8 2.6z"/><path class="c5" d="M157.1 399.2l4.8-5.1-2.8 2.6-4.8 7.9z"/><path class="c4" d="M234.4 402.3l4.8 6.8-2.8-1.1-4.8-12z"/><path class="c7" d="M112.3 418.8l4.8.8-2.8-.9-4.8-.8z"/><path class="c0" d="M311.7 435.5l4.8-.8-2.8-1.3-4.8.8z"/><path class="c4" d="M189.6 373.7l4.8-13.8-2.8-1.3-4.8 22.9z"/><path class="c0" d="M67.4 435.5l4.8-.8-2.8-1.3-4.8.7z"/><path class="c5" d="M266.9 429.8l4.8.3-2.8.6-4.8-.5z"/><path class="c4" d="M144.7 410.2l4.8 4.1-2.8 3.1-4.8-1.9z"/><path class="c8" d="M222 380.2l4.8 2.7-2.8-1.5-4.8-18.4z"/><path class="c26" d="M99.8 418.6l4.8-1.7-2.7-3.4-4.9-.3z"/><path class="c2" d="M299.3 435.7l4.8-.8-2.8-1.3-4.8.8z"/><path class="c3" d="M177.1 378.2l4.9-1.4-2.8-1.3-4.9 5.2z"/><path class="c13" d="M254.4 426.9l4.9 1.9-2.8-1.6-4.9-2.5z"/><path class="c9" d="M132.3 420.4l4.8-4.3-2.8 2.4-4.8-.3z"/><path class="c4" d="M209.6 353.7l4.8 0-2.8 10.8-4.8-4.5z"/><path class="c24" d="M87.4 419l4.8-.1-2.8-2.9-4.8 1.6z"/><path class="c3" d="M286.9 424.8l4.8-1.5-2.8.2-4.8 2z"/><path class="c3" d="M164.7 389.5l4.8-2.5-2.8 9.3-4.8-2.2z"/><path class="c4" d="M242 411l4.8 6.9-2.8-1.9-4.8-6.9z"/><path class="c11" d="M119.9 420.4l4.8-1.5-2.8-.9-4.8 1.6z"/><path class="c9" d="M197.2 343.3l4.8 14.6-2.8-20.1-4.8 22.1z"/><path class="c2" d="M75 436l4.8-.7-2.8-1.4-4.8.8z"/><path class="c4" d="M274.5 428.8l4.8-1.2-2.8.8-4.8 1.7z"/><path class="c5" d="M152.3 407.5l4.8-8.3-2.8 5.4-4.8 9.7z"/><path class="c3" d="M229.6 387.7l4.8 14.6-2.8-6.3-4.8-13.1z"/><path class="c6" d="M107.4 419.2l4.9-.4-2.8-.9-4.9-1z"/><path class="c0" d="M306.9 436.3l4.8-.8-2.8-1.3-4.8.7z"/><path class="c4" d="M184.7 371.3l4.9 2.4-2.8 7.8-4.8-4.7z"/><path class="c0" d="M62.6 436.2l4.8-.7-2.8-1.4-4.8.8z"/><path class="c3" d="M262.1 428.7l4.8 1.1-2.8.4-4.8-1.4z"/><path class="c3" d="M139.9 422.3l4.8-12.1-2.8 5.3-4.8.6z"/><path class="c8" d="M217.2 366.5l4.8 13.7-2.8-17.2-4.8-9.3z"/><path class="c30" d="M95 420.3l4.8-1.7-2.8-5.4-4.8 5.7z"/><path class="c4" d="M294.5 423l4.8 12.7-2.8-1.3-4.8-11.1z"/><path class="c5" d="M172.3 382.5l4.8-4.3-2.8 2.5-4.8 6.3z"/><path class="c4" d="M249.6 419.8l4.8 7.1-2.8-2.2-4.8-6.8z"/><path class="c20" d="M127.5 422.5l4.8-2.1-2.8-2.2-4.8.7z"/><path class="c4" d="M204.8 337.9l4.8 15.8-2.8 6.3-4.8-2.1z"/><path class="c4" d="M82.6 436.6l4.8-17.6-2.8-1.4-4.8 17.7z"/><path class="c3" d="M282.1 426.8l4.8-2-2.8.7-4.8 2.1z"/><path class="c5" d="M159.9 393.9l4.8-4.4-2.8 4.6-4.8 5.1z"/><path class="c4" d="M237.2 404.1l4.8 6.9-2.8-1.9-4.8-6.8z"/><path class="c31" d="M115.1 420.7l4.8-.3-2.8-.8-4.8-.8z"/><path class="c0" d="M314.5 436.8l4.8-.7-2.8-1.4-4.8.8z"/><path class="c8" d="M192.4 357.7l4.8-14.4-2.8 16.6-4.8 13.8z"/><path class="c0" d="M70.2 436.8l4.8-.8-2.8-1.3-4.8.8z"/><path class="c4" d="M269.7 429l4.8-.2-2.8 1.3-4.8-.3z"/><path class="c4" d="M147.5 413.6l4.8-6.1-2.8 6.8-4.8-4.1z"/><path class="c16" d="M224.8 390.2l4.8-2.5-2.8-4.8-4.8-2.7z"/><path class="c33" d="M102.6 420.1l4.8-.9-2.8-2.3-4.8 1.7z"/><path class="c2" d="M302.1 437l4.8-.7-2.8-1.4-4.8.8z"/><path class="c3" d="M179.9 363.4l4.8 7.9-2.7 5.5-4.9 1.4z"/><path class="c4" d="M257.2 427.3l4.9 1.4-2.8.1-4.9-1.9z"/><path class="c25" d="M135.1 423.2l4.8-.9-2.8-6.2-4.8 4.3z"/><path class="c8" d="M212.4 352l4.8 14.5-2.8-12.8-4.8 0z"/><path class="c2" d="M90.2 420.7l4.8-.4-2.8-1.4-4.8.1z"/><path class="c3" d="M289.7 424l4.8-1-2.8.3-4.8 1.5z"/><path class="c3" d="M167.5 372.9l4.8 9.6-2.8 4.5-4.8 2.5z"/><path class="c4" d="M244.8 412.8l4.8 7-2.8-1.9-4.8-6.9z"/><path class="c28" d="M122.7 422.9l4.8-.4-2.8-3.6-4.8 1.5z"/><path class="c3" d="M200 331.5l4.8 6.4-2.8 20-4.8-14.6z"/><path class="c2" d="M77.8 437.4l4.8-.8-2.8-1.3-4.8.7z"/><path class="c4" d="M277.3 427.5l4.8-.7-2.8.8-4.8 1.2z"/><path class="c4" d="M155.1 404.5l4.8-10.6-2.8 5.3-4.8 8.3z"/><path class="c3" d="M232.4 396.6l4.8 7.5-2.8-1.8-4.8-14.6z"/><path class="c17" d="M110.2 422.1l4.9-1.4-2.8-1.9-4.9.4z"/><path class="c0" d="M309.7 437.6l4.8-.8-2.8-1.3-4.8.8z"/><path class="c3" d="M187.5 345.2l4.9 12.5-2.8 16-4.9-2.4z"/><path class="c0" d="M65.4 437.6l4.8-.8-2.8-1.3-4.8.7z"/><path class="c4" d="M264.8 428l4.9 1-2.8.8-4.8-1.1z"/><path class="c4" d="M142.7 423.2l4.8-9.6-2.8-3.4-4.8 12.1z"/><path class="c3" d="M220 367.2l4.8 23-2.8-10-4.8-13.7z"/><path class="c34" d="M97.8 421.5l4.8-1.4-2.8-1.5-4.8 1.7z"/><path class="c4" d="M297.3 422.8l4.8 14.2-2.8-1.3-4.8-12.7z"/><path class="c5" d="M175.1 369.4l4.8-6-2.8 14.8-4.8 4.3z"/><path class="c4" d="M252.4 421.5l4.8 5.8-2.8-.4-4.8-7.1z"/><path class="c36" d="M130.3 425.1l4.8-1.9-2.8-2.8-4.8 2.1z"/><path class="c4" d="M207.6 340.3l4.8 11.7-2.8 1.7-4.8-15.8z"/><path class="c4" d="M85.4 437.9l4.8-17.2-2.8-1.7-4.8 17.6z"/><path class="c3" d="M284.9 425.5l4.8-1.5-2.8.8-4.8 2z"/><path class="c5" d="M162.7 394.8l4.8-21.9-2.8 16.6-4.8 4.4z"/><path class="c4" d="M240 405.9l4.8 6.9-2.8-1.8-4.8-6.9z"/><path class="c28" d="M117.8 423.8l4.9-.9-2.8-2.5-4.8.3z"/><path class="c0" d="M317.3 438.2l4.8-.8-2.8-1.3-4.8.7z"/><path class="c5" d="M195.2 345.2l4.8-13.7-2.8 11.8-4.8 14.4z"/><path class="c0" d="M73 438.1l4.8-.7-2.8-1.4-4.8.8z"/><path class="c4" d="M272.5 428.1l4.8-.6-2.8 1.3-4.8.2z"/><path class="c4" d="M150.3 411.2l4.8-6.7-2.8 3-4.8 6.1z"/><path class="c13" d="M227.6 386.2l4.8 10.4-2.8-8.9-4.8 2.5z"/><path class="c20" d="M105.4 421.9l4.8.2-2.8-2.9-4.8.9z"/><path class="c2" d="M304.9 438.4l4.8-.8-2.8-1.3-4.8.7z"/><path class="c5" d="M182.7 357.4l4.8-12.2-2.8 26.1-4.8-7.9z"/><path class="c4" d="M260 426.1l4.8 1.9-2.7.7-4.9-1.4z"/><path class="c6" d="M137.9 425.8l4.8-2.6-2.8-.9-4.8.9z"/><path class="c4" d="M215.2 358.1l4.8 9.1-2.8-.7-4.8-14.5z"/><path class="c15" d="M93 423l4.8-1.5-2.8-1.2-4.8.4z"/><path class="c4" d="M292.5 423.2l4.8-.4-2.8.2-4.8 1z"/><path class="c3" d="M170.3 374l4.8-4.6-2.8 13.1-4.8-9.6z"/><path class="c4" d="M247.6 414.6l4.8 6.9-2.8-1.7-4.8-7z"/><path class="c27" d="M125.5 427.6l4.8-2.5-2.8-2.6-4.8.4z"/><path class="c8" d="M202.8 330.5l4.8 9.8-2.8-2.4-4.8-6.4z"/><path class="c2" d="M80.6 438.7l4.8-.8-2.8-1.3-4.8.8z"/><path class="c4" d="M280.1 426.2l4.8-.7-2.8 1.3-4.8.7z"/><path class="c4" d="M157.9 404.3l4.8-9.5-2.8-.9-4.8 10.6z"/><path class="c4" d="M235.2 391l4.8 14.9-2.8-1.8-4.8-7.5z"/><path class="c27" d="M113 425.3l4.8-1.5-2.7-3.1-4.9 1.4z"/><path class="c0" d="M312.5 439l4.8-.8-2.8-1.4-4.8.8z"/><path class="c18" d="M190.3 361.8l4.9-16.6-2.8 12.5-4.9-12.5z"/><path class="c0" d="M68.2 438.9l4.8-.8-2.8-1.3-4.8.8z"/><path class="c4" d="M267.6 427.2l4.9.9-2.8.9-4.9-1z"/><path class="c4" d="M145.5 420.4l4.8-9.2-2.8 2.4-4.8 9.6z"/><path class="c4" d="M222.8 378.2l4.8 8-2.8 4-4.8-23z"/><path class="c12" d="M100.6 424.8l4.8-2.9-2.8-1.8-4.8 1.4z"/><path class="c4" d="M300.1 422.6l4.8 15.8-2.8-1.4-4.8-14.2z"/><path class="c3" d="M177.9 369.2l4.8-11.8-2.8 6-4.8 6z"/><path class="c4" d="M255.2 421.8l4.8 4.3-2.8 1.2-4.8-5.8z"/><path class="c12" d="M133.1 428.3l4.8-2.5-2.8-2.6-4.8 1.9z"/><path class="c7" d="M210.4 352.3l4.8 5.8-2.8-6.1-4.8-11.7z"/><path class="c4" d="M88.2 439.3l4.8-16.3-2.8-2.3-4.8 17.2z"/><path class="c4" d="M287.7 424.2l4.8-1-2.8.8-4.8 1.5z"/><path class="c4" d="M165.5 386.2l4.8-12.2-2.8-1.1-4.8 21.9z"/><path class="c4" d="M242.8 407.6l4.8 7-2.8-1.8-4.8-6.9z"/><path class="c23" d="M120.6 430.2l4.9-2.6-2.8-4.7-4.9.9z"/><path class="c0" d="M320.1 439.5l4.8-.8-2.8-1.3-4.8.8z"/><path class="c5" d="M198 340.8l4.8-10.3-2.8 1-4.8 13.7z"/><path class="c0" d="M75.8 439.5l4.8-.8-2.8-1.3-4.8.7z"/><path class="c4" d="M275.3 426.8l4.8-.6-2.8 1.3-4.8.6z"/><path class="c4" d="M153.1 412.6l4.8-8.3-2.8.2-4.8 6.7z"/><path class="c8" d="M230.4 386.3l4.8 4.7-2.8 5.6-4.8-10.4z"/><path class="c32" d="M108.2 427.5l4.8-2.2-2.8-3.2-4.8-.2z"/><path class="c2" d="M307.7 439.7l4.8-.7-2.8-1.4-4.8.8z"/><path class="c11" d="M185.5 345.7l4.8 16.1-2.8-16.6-4.8 12.2z"/><path class="c4" d="M262.8 424.8l4.8 2.4-2.8.8-4.8-1.9z"/><path class="c3" d="M140.7 427.4l4.8-7-2.8 2.8-4.8 2.6z"/><path class="c3" d="M218 353l4.8 25.2-2.8-11-4.8-9.1z"/><path class="c36" d="M95.8 426l4.8-1.2-2.8-3.3-4.8 1.5z"/><path class="c4" d="M295.3 421.9l4.8.7-2.8.2-4.8.4z"/><path class="c3" d="M173.1 385.4l4.8-16.2-2.8.2-4.8 4.6z"/><path class="c4" d="M250.4 416.1l4.8 5.7-2.8-.3-4.8-6.9z"/><path class="c14" d="M128.3 430.9l4.8-2.6-2.8-3.2-4.8 2.5z"/><path class="c15" d="M205.6 355l4.8-2.7-2.8-12-4.8-9.8z"/><path class="c2" d="M83.4 440l4.8-.7-2.8-1.4-4.8.8z"/><path class="c4" d="M282.9 424.9l4.8-.7-2.8 1.3-4.8.7z"/><path class="c4" d="M160.7 408l4.8-21.8-2.8 8.6-4.8 9.5z"/><path class="c9" d="M238 404.2l4.8 3.4-2.8-1.7-4.8-14.9z"/><path class="c29" d="M115.8 430l4.8.2-2.8-6.4-4.8 1.5z"/><path class="c0" d="M315.3 440.3l4.8-.8-2.8-1.3-4.8.8z"/><path class="c13" d="M193.1 353.4l4.9-12.6-2.8 4.4-4.9 16.6z"/><path class="c0" d="M71 440.3l4.8-.8-2.8-1.4-4.8.8z"/><path class="c4" d="M270.4 426.5l4.9.3-2.8 1.3-4.9-.9z"/><path class="c4" d="M148.3 419.8l4.8-7.2-2.8-1.4-4.8 9.2z"/><path class="c18" d="M225.6 389l4.8-2.7-2.8-.1-4.8-8z"/><path class="c28" d="M103.4 428.5l4.8-1-2.8-5.6-4.8 2.9z"/><path class="c4" d="M302.9 422.3l4.8 17.4-2.8-1.3-4.8-15.8z"/><path class="c5" d="M180.7 352l4.8-6.3-2.8 11.7-4.8 11.8z"/><path class="c4" d="M258 420.5l4.8 4.3-2.8 1.3-4.8-4.3z"/><path class="c11" d="M135.9 431.6l4.8-4.2-2.8-1.6-4.8 2.5z"/><path class="c13" d="M213.2 353.9l4.8-.9-2.8 5.1-4.8-5.8z"/><path class="c4" d="M91 440.6l4.8-14.6-2.8-3-4.8 16.3z"/><path class="c4" d="M290.5 422.6l4.8-.7-2.8 1.3-4.8 1z"/><path class="c3" d="M168.3 395.8l4.8-10.4-2.8-11.4-4.8 12.2z"/><path class="c3" d="M245.6 410.8l4.8 5.3-2.8-1.5-4.8-7z"/><path class="c36" d="M123.4 433.5l4.9-2.6-2.8-3.3-4.9 2.6z"/><path class="c0" d="M322.9 440.9l4.8-.8-2.8-1.4-4.8.8z"/><path class="c15" d="M200.7 345.9l4.9 9.1-2.8-24.5-4.8 10.3z"/><path class="c0" d="M78.6 440.8l4.8-.8-2.8-1.3-4.8.8z"/><path class="c4" d="M278 425.5l4.9-.6-2.8 1.3-4.8.6z"/><path class="c4" d="M155.9 417.3l4.8-9.3-2.8-3.7-4.8 8.3z"/><path class="c15" d="M233.2 401.5l4.8 2.7-2.8-13.2-4.8-4.7z"/><path class="c29" d="M111 430.9l4.8-.9-2.8-4.7-4.8 2.2z"/><path class="c2" d="M310.5 441.1l4.8-.8-2.8-1.3-4.8.7z"/><path class="c13" d="M188.3 354.1l4.8-.7-2.8 8.4-4.8-16.1z"/><path class="c4" d="M265.6 423.6l4.8 2.9-2.8.7-4.8-2.4z"/><path class="c4" d="M143.5 424.6l4.8-4.8-2.8.6-4.8 7z"/><path class="c22" d="M220.8 382.8l4.8 6.2-2.8-10.8-4.8-25.2z"/><path class="c35" d="M98.6 428.1l4.8.4-2.8-3.7-4.8 1.2z"/><path class="c5" d="M298.1 419.8l4.8 2.5-2.8.3-4.8-.7z"/><path class="c5" d="M175.9 376.7l4.8-24.7-2.8 17.2-4.8 16.2z"/><path class="c5" d="M253.2 420.5l4.8 0-2.8 1.3-4.8-5.7z"/><path class="c10" d="M131.1 434.2l4.8-2.6-2.8-3.3-4.8 2.6z"/><path class="c7" d="M208.4 363.8l4.8-9.9-2.8-1.6-4.8 2.7z"/><path class="c2" d="M86.2 441.4l4.8-.8-2.8-1.3-4.8.7z"/><path class="c4" d="M285.7 423.2l4.8-.6-2.8 1.6-4.8.7z"/><path class="c4" d="M163.5 399.3l4.8-3.5-2.8-9.6-4.8 21.8z"/><path class="c7" d="M240.8 406l4.8 4.8-2.8-3.2-4.8-3.4z"/><path class="c29" d="M118.6 433.7l4.8-.2-2.8-3.3-4.8-.2z"/><path class="c0" d="M318.1 441.6l4.8-.7-2.8-1.4-4.8.8z"/><path class="c8" d="M195.9 372.6l4.8-26.7-2.7-5.1-4.9 12.6z"/><path class="c0" d="M73.8 441.6l4.8-.8-2.8-1.3-4.8.8z"/><path class="c4" d="M273.2 425.7l4.8-.2-2.7 1.3-4.9-.3z"/><path class="c3" d="M151.1 422.5l4.8-5.2-2.8-4.7-4.8 7.2z"/><path class="c10" d="M228.4 397.7l4.8 3.8-2.8-15.2-4.8 2.7z"/><path class="c32" d="M106.2 431.9l4.8-1-2.8-3.4-4.8 1z"/><path class="c4" d="M305.7 424.3l4.8 16.8-2.8-1.4-4.8-17.4z"/><path class="c3" d="M183.5 365.3l4.8-11.2-2.8-8.4-4.8 6.3z"/><path class="c13" d="M260.8 422l4.8 1.6-2.8 1.2-4.8-4.3z"/><path class="c4" d="M138.7 429.3l4.8-4.7-2.8 2.8-4.8 4.2z"/><path class="c1" d="M216 372.6l4.8 10.2-2.8-29.8-4.8.9z"/><path class="c4" d="M93.8 442l4.8-13.9-2.8-2.1-4.8 14.6z"/><path class="c5" d="M293.3 421.2l4.8-1.4-2.8 2.1-4.8.7z"/><path class="c5" d="M171.1 381.4l4.8-4.7-2.8 8.7-4.8 10.4z"/><path class="c7" d="M248.4 416.1l4.8 4.4-2.8-4.4-4.8-5.3z"/><path class="c14" d="M126.2 436.8l4.9-2.6-2.8-3.3-4.9 2.6z"/><path class="c0" d="M325.7 442.2l4.8-.8-2.8-1.3-4.8.8z"/><path class="c30" d="M203.5 371.9l4.9-8.1-2.8-8.8-4.9-9.1z"/><path class="c0" d="M81.4 442.2l4.8-.8-2.8-1.4-4.8.8z"/><path class="c4" d="M280.8 424l4.9-.8-2.8 1.7-4.9.6z"/><path class="c4" d="M158.7 419.8l4.8-20.5-2.8 8.7-4.8 9.3z"/><path class="c34" d="M236 406.2l4.8-.2-2.8-1.8-4.8-2.7z"/><path class="c38" d="M113.8 434.4l4.8-.7-2.8-3.7-4.8.9z"/><path class="c2" d="M313.3 442.4l4.8-.8-2.8-1.3-4.8.8z"/><path class="c9" d="M191.1 346.7l4.8 25.9-2.8-19.2-4.8.7z"/><path class="c13" d="M268.4 422.8l4.8 2.9-2.8.8-4.8-2.9z"/><path class="c3" d="M146.3 427.2l4.8-4.7-2.8-2.7-4.8 4.8z"/><path class="c11" d="M223.6 391.8l4.8 5.9-2.8-8.7-4.8-6.2z"/><path class="c15" d="M101.4 430.1l4.8 1.8-2.8-3.4-4.8-.4z"/><path class="c14" d="M300.9 426.2l4.8-1.9-2.8-2-4.8-2.5z"/><path class="c4" d="M178.7 380.5l4.8-15.2-2.8-13.3-4.8 24.7z"/><path class="c36" d="M256 426.5l4.8-4.5-2.8-1.5-4.8 0z"/><path class="c3" d="M133.9 434.1l4.8-4.8-2.8 2.3-4.8 2.6z"/><path class="c30" d="M211.2 357.2l4.8 15.4-2.8-18.7-4.8 9.9z"/><path class="c2" d="M89 442.7l4.8-.7-2.8-1.4-4.8.8z"/><path class="c4" d="M288.5 421.6l4.8-.4-2.8 1.4-4.8.6z"/><path class="c5" d="M166.3 396.8l4.8-15.4-2.8 14.4-4.8 3.5z"/><path class="c22" d="M243.6 411.3l4.8 4.8-2.8-5.3-4.8-4.8z"/><path class="c38" d="M121.4 437.5l4.8-.7-2.8-3.3-4.8.2z"/><path class="c0" d="M320.9 443l4.8-.8-2.8-1.3-4.8.7z"/><path class="c8" d="M198.7 377.2l4.8-5.3-2.8-26-4.8 26.7z"/><path class="c0" d="M76.6 442.9l4.8-.7-2.8-1.4-4.8.8z"/><path class="c4" d="M276 424.8l4.8-.8-2.8 1.5-4.8.2z"/><path class="c3" d="M153.9 424.1l4.8-4.3-2.8-2.5-4.8 5.2z"/><path class="c8" d="M231.2 398l4.8 8.2-2.8-4.7-4.8-3.8z"/><path class="c19" d="M109 434.2l4.8.2-2.8-3.5-4.8 1z"/><path class="c4" d="M308.5 425.8l4.8 16.6-2.8-1.3-4.8-16.8z"/><path class="c5" d="M186.3 379.2l4.8-32.5-2.8 7.4-4.8 11.2z"/><path class="c14" d="M263.6 429.1l4.8-6.3-2.8.8-4.8-1.6z"/><path class="c3" d="M141.5 431.7l4.8-4.5-2.8-2.6-4.8 4.7z"/><path class="c22" d="M218.8 380.8l4.8 11-2.8-9-4.8-10.2z"/><path class="c4" d="M96.6 443.3l4.8-13.2-2.8-2-4.8 13.9z"/><path class="c30" d="M296.1 421.5l4.8 4.7-2.8-6.4-4.8 1.4z"/><path class="c3" d="M173.9 393.4l4.8-12.9-2.8-3.8-4.8 4.7z"/><path class="c16" d="M251.2 425.2l4.8 1.3-2.8-6-4.8-4.4z"/><path class="c9" d="M129 439.6l4.9-5.5-2.8.1-4.9 2.6z"/><path class="c0" d="M328.5 443.5l4.8-.7-2.8-1.4-4.8.8z"/><path class="c7" d="M206.3 361.1l4.9-3.9-2.8 6.6-4.9 8.1z"/><path class="c0" d="M84.2 443.5l4.8-.8-2.8-1.3-4.8.8z"/><path class="c4" d="M283.6 422.8l4.9-1.2-2.8 1.6-4.9.8z"/><path class="c4" d="M161.5 418.9l4.8-22.1-2.8 2.5-4.8 20.5z"/><path class="c37" d="M238.8 410.1l4.8 1.2-2.8-5.3-4.8.2z"/><path class="c32" d="M116.6 437.8l4.8-.3-2.8-3.8-4.8.7z"/><path class="c2" d="M316.1 443.7l4.8-.7-2.8-1.4-4.8.8z"/><path class="c31" d="M193.9 365.1l4.8 12.1-2.8-4.6-4.8-25.9z"/><path class="c14" d="M271.2 432.1l4.8-7.3-2.8.9-4.8-2.9z"/><path class="c3" d="M149.1 428.4l4.8-4.3-2.8-1.6-4.8 4.7z"/><path class="c11" d="M226.4 396.7l4.8 1.3-2.8-.3-4.8-5.9z"/><path class="c22" d="M104.2 431.6l4.8 2.6-2.8-2.3-4.8-1.8z"/><path class="c13" d="M303.7 426.1l4.8-.3-2.8-1.5-4.8 1.9z"/><path class="c3" d="M181.5 386.2l4.8-7-2.8-13.9-4.8 15.2z"/><path class="c35" d="M258.8 430l4.8-.9-2.8-7.1-4.8 4.5z"/><path class="c3" d="M136.6 436l4.9-4.3-2.8-2.4-4.8 4.8z"/><path class="c6" d="M214 393.1l4.8-12.3-2.8-8.2-4.8-15.4z"/><path class="c2" d="M91.8 444.1l4.8-.8-2.8-1.3-4.8.7z"/><path class="c8" d="M291.3 421.5l4.8 0-2.8-.3-4.8.4z"/><path class="c4" d="M169.1 395.8l4.8-2.4-2.8-12-4.8 15.4z"/><path class="c2" d="M246.4 419.1l4.8 6.1-2.8-9.1-4.8-4.8z"/><path class="c23" d="M124.2 441.2l4.8-1.6-2.8-2.8-4.8.7z"/><path class="c0" d="M323.7 444.3l4.8-.8-2.8-1.3-4.8.8z"/><path class="c13" d="M201.5 361.7l4.8-.6-2.8 10.8-4.8 5.3z"/><path class="c0" d="M79.4 444.3l4.8-.8-2.8-1.3-4.8.7z"/><path class="c5" d="M278.8 427.5l4.8-4.7-2.8 1.2-4.8.8z"/><path class="c4" d="M156.7 425l4.8-6.1-2.8.9-4.8 4.3z"/><path class="c8" d="M234 401.2l4.8 8.9-2.8-3.9-4.8-8.2z"/><path class="c21" d="M111.8 436.2l4.8 1.6-2.8-3.4-4.8-.2z"/><path class="c4" d="M311.3 428.3l4.8 15.4-2.8-1.3-4.8-16.6z"/><path class="c13" d="M189.1 377.4l4.8-12.3-2.8-18.4-4.8 32.5z"/><path class="c37" d="M266.4 432.1l4.8 0-2.8-9.3-4.8 6.3z"/><path class="c3" d="M144.3 432.7l4.8-4.3-2.8-1.2-4.8 4.5z"/><path class="c15" d="M221.6 398.2l4.8-1.5-2.8-4.9-4.8-11z"/><path class="c4" d="M99.4 444.6l4.8-13-2.8-1.5-4.8 13.2z"/><path class="c31" d="M298.9 425.4l4.8.7-2.8.1-4.8-4.7z"/><path class="c4" d="M176.7 394.3l4.8-8.1-2.8-5.7-4.8 12.9z"/><path class="c19" d="M254 430.7l4.8-.7-2.8-3.5-4.8-1.3z"/><path class="c3" d="M131.8 440.8l4.8-4.8-2.7-1.9-4.9 5.5z"/><path class="c0" d="M331.3 444.9l4.8-.8-2.8-1.3-4.8.7z"/><path class="c6" d="M209.1 386l4.9 7.1-2.8-35.9-4.9 3.9z"/><path class="c0" d="M87 444.8l4.8-.7-2.8-1.4-4.8.8z"/><path class="c8" d="M286.4 427.3l4.9-5.8-2.8.1-4.9 1.2z"/><path class="c4" d="M164.3 416.8l4.8-21-2.8 1-4.8 22.1z"/><path class="c10" d="M241.6 417.1l4.8 2-2.8-7.8-4.8-1.2z"/><path class="c35" d="M119.4 440.4l4.8.8-2.8-3.7-4.8.3z"/><path class="c2" d="M318.9 445.1l4.8-.8-2.8-1.3-4.8.7z"/><path class="c5" d="M196.7 382.4l4.8-20.7-2.8 15.5-4.8-12.1z"/><path class="c5" d="M274 432.5l4.8-5-2.8-2.7-4.8 7.3z"/><path class="c3" d="M151.9 429.3l4.8-4.3-2.8-.9-4.8 4.3z"/><path class="c36" d="M229.2 403l4.8-1.8-2.8-3.2-4.8-1.3z"/><path class="c3" d="M107 432.7l4.8 3.5-2.8-2-4.8-2.6z"/><path class="c25" d="M306.5 428.9l4.8-.6-2.8-2.5-4.8.3z"/><path class="c4" d="M184.3 389l4.8-11.6-2.8 1.8-4.8 7z"/><path class="c17" d="M261.6 432.1l4.8 0-2.8-3-4.8.9z"/><path class="c3" d="M139.4 437.7l4.9-5-2.8-1-4.9 4.3z"/><path class="c0" d="M216.7 399.6l4.9-1.4-2.8-17.4-4.8 12.3z"/><path class="c2" d="M94.6 445.4l4.8-.8-2.8-1.3-4.8.8z"/><path class="c14" d="M294 424.2l4.9 1.2-2.8-3.9-4.8 0z"/><path class="c3" d="M171.9 398.8l4.8-4.5-2.8-.9-4.8 2.4z"/><path class="c2" d="M249.2 427.1l4.8 3.6-2.8-5.5-4.8-6.1z"/><path class="c1" d="M127 442.8l4.8-2-2.8-1.2-4.8 1.6z"/><path class="c0" d="M326.5 445.6l4.8-.7-2.8-1.4-4.8.8z"/><path class="c6" d="M204.3 379l4.8 7-2.8-24.9-4.8.6z"/><path class="c0" d="M82.2 445.6l4.8-.8-2.8-1.3-4.8.8z"/><path class="c31" d="M281.6 429.1l4.8-1.8-2.8-4.5-4.8 4.7z"/><path class="c4" d="M159.5 426l4.8-9.2-2.8 2.1-4.8 6.1z"/><path class="c0" d="M236.8 414.4l4.8 2.7-2.8-7-4.8-8.9z"/><path class="c11" d="M114.6 438.1l4.8 2.3-2.8-2.6-4.8-1.6z"/><path class="c4" d="M314.1 429.9l4.8 15.2-2.8-1.4-4.8-15.4z"/><path class="c13" d="M191.9 397.9l4.8-15.5-2.8-17.3-4.8 12.3z"/><path class="c2" d="M269.2 434.1l4.8-1.6-2.8-.4-4.8 0z"/><path class="c3" d="M147.1 434.3l4.8-5-2.8-.9-4.8 4.3z"/><path class="c0" d="M224.4 414.2l4.8-11.2-2.8-6.3-4.8 1.5z"/><path class="c4" d="M102.2 446l4.8-13.3-2.8-1.1-4.8 13z"/><path class="c36" d="M301.7 429.1l4.8-.2-2.8-2.8-4.8-.7z"/><path class="c4" d="M179.5 395.4l4.8-6.4-2.8-2.8-4.8 8.1z"/><path class="c10" d="M256.8 432.1l4.8 0-2.8-2.1-4.8.7z"/><path class="c3" d="M134.6 443.1l4.8-5.4-2.8-1.7-4.8 4.8z"/><path class="c0" d="M334.1 446.2l4.8-.8-2.8-1.3-4.8.8z"/><path class="c34" d="M211.9 399.4l4.8.2-2.7-6.5-4.9-7.1z"/><path class="c0" d="M89.8 446.2l4.8-.8-2.8-1.3-4.8.7z"/><path class="c7" d="M289.2 427.6l4.8-3.4-2.7-2.7-4.9 5.8z"/><path class="c4" d="M167.1 416.4l4.8-17.6-2.8-3-4.8 21z"/><path class="c25" d="M244.4 425.7l4.8 1.4-2.8-8-4.8-2z"/><path class="c2" d="M122.2 442.3l4.8.5-2.8-1.6-4.8-.8z"/><path class="c2" d="M321.7 446.4l4.8-.8-2.8-1.3-4.8.8z"/><path class="c13" d="M199.5 398.5l4.8-19.5-2.8-17.3-4.8 20.7z"/><path class="c3" d="M276.8 432.1l4.8-3-2.8-1.6-4.8 5z"/><path class="c3" d="M154.7 430.9l4.8-4.9-2.8-1-4.8 4.3z"/><path class="c10" d="M232 411.8l4.8 2.6-2.8-13.2-4.8 1.8z"/><path class="c3" d="M109.8 433.8l4.8 4.3-2.8-1.9-4.8-3.5z"/><path class="c11" d="M309.3 429.9l4.8 0-2.8-1.6-4.8.6z"/><path class="c9" d="M187.1 378.7l4.8 19.2-2.8-20.5-4.8 11.6z"/><path class="c16" d="M264.4 434.1l4.8 0-2.8-2-4.8 0z"/><path class="c3" d="M142.2 440.2l4.9-5.9-2.8-1.6-4.9 5z"/><path class="c24" d="M219.5 410l4.9 4.2-2.8-16-4.9 1.4z"/><path class="c2" d="M97.4 446.8l4.8-.8-2.8-1.4-4.8.8z"/><path class="c17" d="M296.8 428.2l4.9.9-2.8-3.7-4.9-1.2z"/><path class="c4" d="M174.7 401.9l4.8-6.5-2.8-1.1-4.8 4.5z"/><path class="c37" d="M252 433.1l4.8-1-2.8-1.4-4.8-3.6z"/><path class="c2" d="M129.8 443.3l4.8-.2-2.8-2.3-4.8 2z"/><path class="c0" d="M329.3 447l4.8-.8-2.8-1.3-4.8.7z"/><path class="c0" d="M207.1 393.4l4.8 6-2.8-13.4-4.8-7z"/><path class="c0" d="M85 447l4.8-.8-2.8-1.4-4.8.8z"/><path class="c13" d="M284.4 429.4l4.8-1.8-2.8-.3-4.8 1.8z"/><path class="c4" d="M162.3 427.5l4.8-11.1-2.8.4-4.8 9.2z"/><path class="c24" d="M239.6 423.8l4.8 1.9-2.8-8.6-4.8-2.7z"/><path class="c9" d="M117.4 440.1l4.8 2.2-2.8-1.9-4.8-2.3z"/><path class="c4" d="M316.9 431.6l4.8 14.8-2.8-1.3-4.8-15.2z"/><path class="c31" d="M194.7 384.2l4.8 14.3-2.8-16.1-4.8 15.5z"/><path class="c5" d="M272 434.1l4.8-2-2.8.4-4.8 1.6z"/><path class="c3" d="M149.9 437.2l4.8-6.3-2.8-1.6-4.8 5z"/><path class="c31" d="M227.2 412.1l4.8-.3-2.8-8.8-4.8 11.2z"/><path class="c4" d="M105 447.3l4.8-13.5-2.8-1.1-4.8 13.3z"/><path class="c37" d="M304.5 432.8l4.8-2.9-2.8-1-4.8.2z"/><path class="c3" d="M182.3 394.6l4.8-15.9-2.8 10.3-4.8 6.4z"/><path class="c25" d="M259.6 434.2l4.8-.1-2.8-2-4.8 0z"/><path class="c3" d="M137.4 443.7l4.8-3.5-2.8-2.5-4.8 5.4z"/><path class="c0" d="M336.9 447.6l4.8-.8-2.8-1.4-4.8.8z"/><path class="c24" d="M214.7 414.7l4.8-4.7-2.8-10.4-4.8-.2z"/><path class="c0" d="M92.6 447.5l4.8-.7-2.8-1.4-4.8.8z"/><path class="c25" d="M292 431.1l4.8-2.9-2.8-4-4.8 3.4z"/><path class="c4" d="M169.9 416.8l4.8-14.9-2.8-3.1-4.8 17.6z"/><path class="c17" d="M247.2 434.3l4.8-1.2-2.8-6-4.8-1.4z"/><path class="c9" d="M125 443.5l4.8-.2-2.8-.5-4.8-.5z"/><path class="c1" d="M324.5 447.8l4.8-.8-2.8-1.4-4.8.8z"/><path class="c7" d="M202.3 399l4.8-5.6-2.8-14.4-4.8 19.5z"/><path class="c8" d="M279.6 432.7l4.8-3.3-2.8-.3-4.8 3z"/><path class="c3" d="M157.5 434.3l4.8-6.8-2.8-1.5-4.8 4.9z"/><path class="c24" d="M234.8 421.2l4.8 2.6-2.8-9.4-4.8-2.6z"/><path class="c3" d="M112.6 435l4.8 5.1-2.8-2-4.8-4.3z"/><path class="c9" d="M312.1 430.6l4.8 1-2.8-1.7-4.8 0z"/><path class="c5" d="M189.9 391.2l4.8-7-2.8 13.7-4.8-19.2z"/><path class="c22" d="M267.2 436l4.8-1.9-2.8 0-4.8 0z"/><path class="c3" d="M145 442.4l4.9-5.2-2.8-2.9-4.9 5.9z"/><path class="c6" d="M222.3 414.9l4.9-2.8-2.8 2.1-4.9-4.2z"/><path class="c2" d="M100.2 448.1l4.8-.8-2.8-1.3-4.8.8z"/><path class="c14" d="M299.6 432l4.9.8-2.8-3.7-4.9-.9z"/><path class="c4" d="M177.5 407.3l4.8-12.7-2.8.8-4.8 6.5z"/><path class="c17" d="M254.8 436.9l4.8-2.7-2.8-2.1-4.8 1z"/><path class="c13" d="M132.6 443.9l4.8-.2-2.8-.6-4.8.2z"/><path class="c0" d="M332.1 448.3l4.8-.7-2.8-1.4-4.8.8z"/><path class="c15" d="M209.9 409.9l4.8 4.8-2.8-15.3-4.8-6z"/><path class="c0" d="M87.8 448.3l4.8-.8-2.8-1.3-4.8.8z"/><path class="c36" d="M287.2 433.4l4.8-2.3-2.8-3.5-4.8 1.8z"/><path class="c4" d="M165.1 429.9l4.8-13.1-2.8-.4-4.8 11.1z"/><path class="c14" d="M242.4 433.2l4.8 1.1-2.8-8.6-4.8-1.9z"/><path class="c13" d="M120.2 442.1l4.8 1.4-2.8-1.2-4.8-2.2z"/><path class="c9" d="M319.7 448.5l4.8-.7-2.8-1.4-4.8-14.8z"/><path class="c30" d="M197.5 404.8l4.8-5.8-2.8-.5-4.8-14.3z"/><path class="c5" d="M274.8 434.8l4.8-2.1-2.8-.6-4.8 2z"/><path class="c3" d="M152.6 439.5l4.9-5.2-2.8-3.4-4.8 6.3z"/><path class="c12" d="M230 423.6l4.8-2.4-2.8-9.4-4.8.3z"/><path class="c4" d="M107.8 448.7l4.8-13.7-2.8-1.2-4.8 13.5z"/><path class="c5" d="M307.3 431.2l4.8-.6-2.8-.7-4.8 2.9z"/><path class="c3" d="M185.1 406.5l4.8-15.3-2.8-12.5-4.8 15.9z"/><path class="c17" d="M262.4 437.4l4.8-1.4-2.8-1.9-4.8.1z"/><path class="c8" d="M140.2 444.2l4.8-1.8-2.8-2.2-4.8 3.5z"/><path class="c0" d="M339.7 448.9l4.8-.8-2.8-1.3-4.8.8z"/><path class="c6" d="M217.5 419.1l4.8-4.2-2.8-4.9-4.8 4.7z"/><path class="c0" d="M95.4 448.9l4.8-.8-2.8-1.3-4.8.7z"/><path class="c25" d="M294.8 434.3l4.8-2.3-2.8-3.8-4.8 2.9z"/><path class="c4" d="M172.7 422.2l4.8-14.9-2.8-5.4-4.8 14.9z"/><path class="c20" d="M250 439.8l4.8-2.9-2.8-3.8-4.8 1.2z"/><path class="c13" d="M127.8 444.1l4.8-.2-2.8-.6-4.8.2z"/><path class="c0" d="M327.3 449.1l4.8-.8-2.8-1.3-4.8.8z"/><path class="c16" d="M205.1 406l4.8 3.9-2.8-16.5-4.8 5.6z"/><path class="c37" d="M282.4 433.8l4.8-.4-2.8-4-4.8 3.3z"/><path class="c4" d="M160.3 436.5l4.8-6.6-2.8-2.4-4.8 6.8z"/><path class="c37" d="M237.6 432.2l4.8 1-2.8-9.4-4.8-2.6z"/><path class="c4" d="M115.4 436.1l4.8 6-2.8-2-4.8-5.1z"/><path class="c9" d="M314.9 432.4l4.8 16.1-2.8-16.9-4.8-1z"/><path class="c0" d="M192.7 407.2l4.8-2.4-2.8-20.6-4.8 7z"/><path class="c13" d="M270 436.9l4.8-2.1-2.8-.7-4.8 1.9z"/><path class="c3" d="M147.8 444.6l4.8-5.1-2.7-2.3-4.9 5.2z"/><path class="c14" d="M225.1 424.3l4.9-.7-2.8-11.5-4.9 2.8z"/><path class="c2" d="M103 449.4l4.8-.7-2.8-1.4-4.8.8z"/><path class="c3" d="M302.4 429.1l4.9 2.1-2.8 1.6-4.9-.8z"/><path class="c3" d="M180.3 410.5l4.8-4-2.8-11.9-4.8 12.7z"/><path class="c37" d="M257.6 440.1l4.8-2.7-2.8-3.2-4.8 2.7z"/><path class="c13" d="M135.4 444.4l4.8-.2-2.8-.5-4.8.2z"/><path class="c0" d="M334.9 449.7l4.8-.8-2.8-1.3-4.8.7z"/><path class="c37" d="M212.7 424l4.8-4.9-2.8-4.4-4.8-4.8z"/><path class="c0" d="M90.6 449.6l4.8-.7-2.8-1.4-4.8.8z"/><path class="c14" d="M290 435.8l4.8-1.5-2.8-3.2-4.8 2.3z"/><path class="c4" d="M167.9 430.1l4.8-7.9-2.8-5.4-4.8 13.1z"/><path class="c17" d="M245.2 442.4l4.8-2.6-2.8-5.5-4.8-1.1z"/><path class="c13" d="M123 444l4.8.1-2.8-.6-4.8-1.4z"/><path class="c1" d="M322.5 449.9l4.8-.8-2.8-1.3-4.8.7z"/><path class="c7" d="M200.3 416.1l4.8-10.1-2.8-7-4.8 5.8z"/><path class="c13" d="M277.6 435.7l4.8-1.9-2.8-1.1-4.8 2.1z"/><path class="c3" d="M155.4 441.7l4.9-5.2-2.8-2.2-4.9 5.2z"/><path class="c12" d="M232.7 432l4.9.2-2.8-11-4.8 2.4z"/><path class="c4" d="M110.6 450l4.8-13.9-2.8-1.1-4.8 13.7z"/><path class="c7" d="M310 430.6l4.9 1.8-2.8-1.8-4.8.6z"/><path class="c9" d="M187.9 407l4.8.2-2.8-16-4.8 15.3z"/><path class="c1" d="M265.2 439.6l4.8-2.7-2.8-.9-4.8 1.4z"/><path class="c31" d="M143 444.8l4.8-.2-2.8-2.2-4.8 1.8z"/><path class="c0" d="M342.5 450.2l4.8-.7-2.8-1.4-4.8.8z"/><path class="c14" d="M220.3 424.3l4.8 0-2.8-9.4-4.8 4.2z"/><path class="c0" d="M98.2 450.2l4.8-.8-2.8-1.3-4.8.8z"/><path class="c3" d="M297.6 431.1l4.8-2-2.8 2.9-4.8 2.3z"/><path class="c4" d="M175.5 426.4l4.8-15.9-2.8-3.2-4.8 14.9z"/><path class="c16" d="M252.8 442.7l4.8-2.6-2.8-3.2-4.8 2.9z"/><path class="c13" d="M130.6 444.6l4.8-.2-2.8-.5-4.8.2z"/><path class="c0" d="M330.1 450.4l4.8-.7-2.8-1.4-4.8.8z"/><path class="c34" d="M207.9 417.8l4.8 6.2-2.8-14.1-4.8-3.9z"/><path class="c10" d="M285.2 435.7l4.8.1-2.8-2.4-4.8.4z"/><path class="c4" d="M163.1 436.9l4.8-6.8-2.8-.2-4.8 6.6z"/><path class="c12" d="M240.4 439.8l4.8 2.6-2.8-9.2-4.8-1z"/><path class="c4" d="M118.2 437.2l4.8 6.8-2.8-1.9-4.8-6z"/><path class="c11" d="M317.7 450.7l4.8-.8-2.8-1.4-4.8-16.1z"/><path class="c14" d="M195.5 413.4l4.8 2.7-2.8-11.3-4.8 2.4z"/><path class="c8" d="M272.8 437.3l4.8-1.6-2.8-.9-4.8 2.1z"/><path class="c3" d="M150.6 445.1l4.8-3.4-2.8-2.2-4.8 5.1z"/><path class="c35" d="M227.9 432l4.8 0-2.7-8.4-4.9.7z"/><path class="c2" d="M105.8 450.8l4.8-.8-2.8-1.3-4.8.7z"/><path class="c11" d="M305.2 432l4.8-1.4-2.7.6-4.9-2.1z"/><path class="c5" d="M183.1 415.8l4.8-8.8-2.8-.5-4.8 4z"/><path class="c6" d="M260.4 442l4.8-2.4-2.8-2.2-4.8 2.7z"/><path class="c13" d="M138.2 445l4.8-.2-2.8-.6-4.8.2z"/><path class="c0" d="M337.7 451l4.8-.8-2.8-1.3-4.8.8z"/><path class="c31" d="M215.5 431.9l4.8-7.6-2.8-5.2-4.8 4.9z"/><path class="c0" d="M93.4 451l4.8-.8-2.8-1.3-4.8.7z"/><path class="c3" d="M292.8 433.4l4.8-2.3-2.8 3.2-4.8 1.5z"/><path class="c4" d="M170.7 433.4l4.8-7-2.8-4.2-4.8 7.9z"/><path class="c25" d="M248 445.1l4.8-2.4-2.8-2.9-4.8 2.6z"/><path class="c13" d="M125.8 444.8l4.8-.2-2.8-.5-4.8-.1z"/><path class="c0" d="M325.3 451.2l4.8-.8-2.8-1.3-4.8.8z"/><path class="c31" d="M203.1 424.1l4.8-6.3-2.8-11.8-4.8 10.1z"/><path class="c13" d="M280.4 435.1l4.8.6-2.8-1.9-4.8 1.9z"/><path class="c4" d="M158.2 443.9l4.9-7-2.8-.4-4.9 5.2z"/><path class="c35" d="M235.5 439.8l4.9 0-2.8-7.6-4.9-.2z"/><path class="c4" d="M113.4 451.3l4.8-14.1-2.8-1.1-4.8 13.9z"/><path class="c34" d="M312.8 451.4l4.9-.7-2.8-18.3-4.9-1.8z"/><path class="c21" d="M190.7 420.5l4.8-7.1-2.8-6.2-4.8-.2z"/><path class="c5" d="M268 441.1l4.8-3.8-2.8-.4-4.8 2.7z"/><path class="c13" d="M145.8 445.3l4.8-.2-2.8-.5-4.8.2z"/><path class="c0" d="M345.3 451.6l4.8-.8-2.8-1.3-4.8.7z"/><path class="c35" d="M223.1 432.1l4.8-.1-2.8-7.7-4.8 0z"/><path class="c0" d="M101 451.5l4.8-.7-2.8-1.4-4.8.8z"/><path class="c25" d="M300.4 433.1l4.8-1.1-2.8-2.9-4.8 2z"/><path class="c4" d="M178.3 431.6l4.8-15.8-2.8-5.3-4.8 15.9z"/><path class="c1" d="M255.6 444.4l4.8-2.4-2.8-1.9-4.8 2.6z"/><path class="c13" d="M133.4 445.1l4.8-.1-2.8-.6-4.8.2z"/><path class="c0" d="M332.9 451.8l4.8-.8-2.8-1.3-4.8.7z"/><path class="c18" d="M210.7 427.2l4.8 4.7-2.8-7.9-4.8-6.2z"/><path class="c3" d="M288 433.6l4.8-.2-2.8 2.4-4.8-.1z"/><path class="c3" d="M165.9 439.4l4.8-6-2.8-3.3-4.8 6.8z"/><path class="c26" d="M243.2 446.9l4.8-1.8-2.8-2.7-4.8-2.6z"/><path class="c4" d="M121 438.4l4.8 6.4-2.8-.8-4.8-6.8z"/><path class="c30" d="M320.5 452l4.8-.8-2.8-1.3-4.8.8z"/><path class="c25" d="M198.3 426.8l4.8-2.7-2.8-8-4.8-2.7z"/><path class="c4" d="M275.6 436.2l4.8-1.1-2.8.6-4.8 1.6z"/><path class="c8" d="M153.4 445.6l4.8-1.7-2.8-2.2-4.8 3.4z"/><path class="c17" d="M230.7 439.8l4.8 0-2.8-7.8-4.8 0z"/><path class="c2" d="M108.6 452.1l4.8-.8-2.8-1.3-4.8.8z"/><path class="c16" d="M308 452.2l4.8-.8-2.8-20.8-4.8 1.4z"/><path class="c13" d="M185.9 429l4.8-8.5-2.8-13.5-4.8 8.8z"/><path class="c11" d="M263.2 443.7l4.8-2.6-2.8-1.5-4.8 2.4z"/><path class="c13" d="M141 445.3l4.8 0-2.8-.5-4.8.2z"/><path class="c0" d="M340.5 452.4l4.8-.8-2.8-1.4-4.8.8z"/><path class="c6" d="M218.3 435.9l4.8-3.8-2.8-7.8-4.8 7.6z"/><path class="c0" d="M96.2 452.3l4.8-.8-2.8-1.3-4.8.8z"/><path class="c0" d="M295.6 434.3l4.8-1.2-2.8-2-4.8 2.3z"/><path class="c3" d="M173.5 438l4.8-6.4-2.8-5.2-4.8 7z"/><path class="c1" d="M250.8 446.6l4.8-2.2-2.8-1.7-4.8 2.4z"/><path class="c8" d="M128.6 445.1l4.8 0-2.8-.5-4.8.2z"/><path class="c0" d="M328.1 452.6l4.8-.8-2.8-1.4-4.8.8z"/><path class="c34" d="M205.9 429.8l4.8-2.6-2.8-9.4-4.8 6.3z"/><path class="c3" d="M283.2 435.1l4.8-1.5-2.8 2.1-4.8-.6z"/><path class="c4" d="M161 444.4l4.9-5-2.8-2.5-4.9 7z"/><path class="c19" d="M238.3 447.5l4.9-.6-2.8-7.1-4.9 0z"/><path class="c4" d="M116.2 452.7l4.8-14.3-2.8-1.2-4.8 14.1z"/><path class="c6" d="M315.6 452.8l4.9-.8-2.8-1.3-4.9.7z"/><path class="c18" d="M193.5 430l4.8-3.2-2.8-13.4-4.8 7.1z"/><path class="c4" d="M270.8 440.8l4.8-4.6-2.8 1.1-4.8 3.8z"/><path class="c13" d="M148.6 445.6l4.8 0-2.8-.5-4.8.2z"/><path class="c17" d="M225.9 439.8l4.8 0-2.8-7.8-4.8.1z"/><path class="c0" d="M103.8 452.9l4.8-.8-2.8-1.3-4.8.7z"/><path class="c16" d="M303.2 453l4.8-.8-2.8-20.2-4.8 1.1z"/><path class="c3" d="M181.1 434.4l4.8-5.4-2.8-13.2-4.8 15.8z"/><path class="c2" d="M258.4 446l4.8-2.3-2.8-1.7-4.8 2.4z"/><path class="c13" d="M136.2 445.3l4.8 0-2.8-.3-4.8.1z"/><path class="c0" d="M335.7 453.1l4.8-.7-2.8-1.4-4.8.8z"/><path class="c24" d="M213.5 434.3l4.8 1.6-2.8-4-4.8-4.7z"/><path class="c0" d="M290.8 435.4l4.8-1.1-2.8-.9-4.8.2z"/><path class="c5" d="M168.6 441.9l4.9-3.9-2.8-4.6-4.8 6z"/><path class="c15" d="M246 448.5l4.8-1.9-2.8-1.5-4.8 1.8z"/><path class="c4" d="M123.8 439.5l4.8 5.6-2.8-.3-4.8-6.4z"/><path class="c0" d="M323.3 453.3l4.8-.7-2.8-1.4-4.8.8z"/><path class="c34" d="M201.1 435.3l4.8-5.5-2.8-5.7-4.8 2.7z"/><path class="c5" d="M278.4 438.1l4.8-3-2.8 0-4.8 1.1z"/><path class="c5" d="M156.2 445.7l4.8-1.3-2.8-.5-4.8 1.7z"/><path class="c20" d="M233.5 447.6l4.8-.1-2.8-7.7-4.8 0z"/><path class="c2" d="M111.4 453.4l4.8-.7-2.8-1.4-4.8.8z"/><path class="c6" d="M310.8 453.5l4.8-.7-2.8-1.4-4.8.8z"/><path class="c1" d="M188.7 431.5l4.8-1.5-2.8-9.5-4.8 8.5z"/><path class="c5" d="M266 445.4l4.8-4.6-2.8.3-4.8 2.6z"/><path class="c13" d="M143.8 445.6l4.8 0-2.8-.3-4.8 0z"/><path class="c19" d="M221.1 440l4.8-.2-2.8-7.7-4.8 3.8z"/><path class="c0" d="M99 453.7l4.8-.8-2.8-1.4-4.8.8z"/><path class="c16" d="M298.4 453.8l4.8-.8-2.8-19.9-4.8 1.2z"/><path class="c3" d="M176.3 438.8l4.8-4.4-2.8-2.8-4.8 6.4z"/><path class="c2" d="M253.6 448.2l4.8-2.2-2.8-1.6-4.8 2.2z"/><path class="c8" d="M131.4 445.3l4.8 0-2.8-.2-4.8 0z"/><path class="c0" d="M330.9 453.9l4.8-.8-2.8-1.3-4.8.8z"/><path class="c33" d="M208.7 436.6l4.8-2.3-2.8-7.1-4.8 2.6z"/><path class="c34" d="M286 436.6l4.8-1.2-2.8-1.8-4.8 1.5z"/><path class="c3" d="M163.8 443.1l4.8-1.2-2.7-2.5-4.9 5z"/><path class="c36" d="M241.1 450.2l4.9-1.7-2.8-1.6-4.9.6z"/><path class="c4" d="M119 454l4.8-14.5-2.8-1.1-4.8 14.3z"/><path class="c0" d="M318.4 454.1l4.9-.8-2.8-1.3-4.9.8z"/><path class="c35" d="M196.3 435.5l4.8-.2-2.8-8.5-4.8 3.2z"/><path class="c3" d="M273.6 441.2l4.8-3.1-2.8-1.9-4.8 4.6z"/><path class="c8" d="M151.4 445.7l4.8 0-2.8-.1-4.8 0z"/><path class="c20" d="M228.7 447.6l4.8 0-2.8-7.8-4.8 0z"/><path class="c0" d="M106.6 454.2l4.8-.8-2.8-1.3-4.8.8z"/><path class="c6" d="M306 454.3l4.8-.8-2.8-1.3-4.8.8z"/><path class="c9" d="M183.9 433.6l4.8-2.1-2.8-2.5-4.8 5.4z"/><path class="c11" d="M261.2 447.6l4.8-2.2-2.8-1.7-4.8 2.3z"/><path class="c13" d="M139 445.6l4.8 0-2.8-.3-4.8 0z"/><path class="c23" d="M216.3 441.4l4.8-1.4-2.8-4.1-4.8-1.6z"/><path class="c16" d="M293.6 454.5l4.8-.7-2.8-19.5-4.8 1.1z"/><path class="c3" d="M171.4 441.7l4.9-2.9-2.8-.8-4.9 3.9z"/><path class="c0" d="M248.7 450.1l4.9-1.9-2.8-1.6-4.8 1.9z"/><path class="c4" d="M126.6 440.6l4.8 4.7-2.8-.2-4.8-5.6z"/><path class="c0" d="M326 454.7l4.9-.8-2.8-1.3-4.8.7z"/><path class="c16" d="M203.9 438.8l4.8-2.2-2.8-6.8-4.8 5.5z"/><path class="c22" d="M281.2 437.7l4.8-1.1-2.8-1.5-4.8 3z"/><path class="c4" d="M159 444.4l4.8-1.3-2.8 1.3-4.8 1.3z"/><path class="c29" d="M236.3 451.8l4.8-1.6-2.8-2.7-4.8.1z"/><path class="c2" d="M114.2 454.8l4.8-.8-2.8-1.3-4.8.7z"/><path class="c0" d="M313.6 454.9l4.8-.8-2.8-1.3-4.8.7z"/><path class="c26" d="M191.5 437.4l4.8-1.9-2.8-5.5-4.8 1.5z"/><path class="c4" d="M268.8 444.3l4.8-3.1-2.8-.4-4.8 4.6z"/><path class="c13" d="M146.6 445.7l4.8 0-2.8-.1-4.8 0z"/><path class="c20" d="M223.9 447.6l4.8 0-2.8-7.8-4.8.2z"/><path class="c0" d="M101.8 455l4.8-.8-2.8-1.3-4.8.8z"/><path class="c6" d="M301.2 455.1l4.8-.8-2.8-1.3-4.8.8z"/><path class="c3" d="M179.1 438l4.8-4.4-2.8.8-4.8 4.4z"/><path class="c11" d="M256.4 449.7l4.8-2.1-2.8-1.6-4.8 2.2z"/><path class="c8" d="M134.2 445.6l4.8 0-2.8-.3-4.8 0z"/><path class="c35" d="M211.5 443.7l4.8-2.3-2.8-7.1-4.8 2.3z"/><path class="c16" d="M288.8 455.3l4.8-.8-2.8-19.1-4.8 1.2z"/><path class="c5" d="M166.6 442.5l4.8-.8-2.8.2-4.8 1.2z"/><path class="c15" d="M243.9 451.8l4.8-1.7-2.7-1.6-4.9 1.7z"/><path class="c4" d="M121.8 455.4l4.8-14.8-2.8-1.1-4.8 14.5z"/><path class="c0" d="M321.2 455.4l4.8-.7-2.7-1.4-4.9.8z"/><path class="c28" d="M199.1 441.3l4.8-2.5-2.8-3.5-4.8.2z"/><path class="c7" d="M276.4 438.9l4.8-1.2-2.8.4-4.8 3.1z"/><path class="c4" d="M154.2 445.7l4.8-1.3-2.8 1.3-4.8 0z"/><path class="c27" d="M231.5 453.5l4.8-1.7-2.8-4.2-4.8 0z"/><path class="c0" d="M109.4 455.6l4.8-.8-2.8-1.4-4.8.8z"/><path class="c0" d="M308.8 455.7l4.8-.8-2.8-1.4-4.8.8z"/><path class="c17" d="M186.7 439.5l4.8-2.1-2.8-5.9-4.8 2.1z"/><path class="c3" d="M264 446.4l4.8-2.1-2.8 1.1-4.8 2.2z"/><path class="c13" d="M141.8 445.7l4.8 0-2.8-.1-4.8 0z"/><path class="c20" d="M219.1 448.5l4.8-.9-2.8-7.6-4.8 1.4z"/><path class="c6" d="M296.4 455.9l4.8-.8-2.8-1.3-4.8.7z"/><path class="c3" d="M174.2 442.4l4.9-4.4-2.8.8-4.9 2.9z"/><path class="c2" d="M251.5 451.7l4.9-2-2.8-1.5-4.9 1.9z"/><path class="c4" d="M129.4 441.7l4.8 3.9-2.8-.3-4.8-4.7z"/><path class="c36" d="M206.7 445.9l4.8-2.2-2.8-7.1-4.8 2.2z"/><path class="c10" d="M284 456.1l4.8-.8-2.8-18.7-4.8 1.1z"/><path class="c3" d="M161.8 443.3l4.8-.8-2.8.6-4.8 1.3z"/><path class="c34" d="M239.1 453.4l4.8-1.6-2.8-1.6-4.8 1.6z"/><path class="c2" d="M117 456.1l4.8-.7-2.8-1.4-4.8.8z"/><path class="c0" d="M316.4 456.2l4.8-.8-2.8-1.3-4.8.8z"/><path class="c28" d="M194.3 442.6l4.8-1.3-2.8-5.8-4.8 1.9z"/><path class="c7" d="M271.6 440l4.8-1.1-2.8 2.3-4.8 3.1z"/><path class="c8" d="M149.4 445.8l4.8-.1-2.8 0-4.8 0z"/><path class="c23" d="M226.7 455.1l4.8-1.6-2.8-5.9-4.8 0z"/><path class="c0" d="M104.5 456.3l4.9-.7-2.8-1.4-4.8.8z"/><path class="c0" d="M304 456.4l4.8-.7-2.8-1.4-4.8.8z"/><path class="c10" d="M181.8 441.5l4.9-2-2.8-5.9-4.8 4.4z"/><path class="c3" d="M259.2 448.2l4.8-1.8-2.8 1.2-4.8 2.1z"/><path class="c8" d="M137 445.7l4.8 0-2.8-.1-4.8 0z"/><path class="c35" d="M214.3 450.8l4.8-2.3-2.8-7.1-4.8 2.3z"/><path class="c6" d="M291.6 456.6l4.8-.7-2.8-1.4-4.8.8z"/><path class="c13" d="M169.4 443.2l4.8-.8-2.8-.7-4.8.8z"/><path class="c0" d="M246.7 453.4l4.8-1.7-2.8-1.6-4.8 1.7z"/><path class="c4" d="M124.6 456.7l4.8-15-2.8-1.1-4.8 14.8z"/><path class="c17" d="M201.9 447.4l4.8-1.5-2.8-7.1-4.8 2.5z"/><path class="c10" d="M279.2 456.9l4.8-.8-2.8-18.4-4.8 1.2z"/><path class="c4" d="M157 444.5l4.8-1.2-2.8 1.1-4.8 1.3z"/><path class="c34" d="M234.3 455.1l4.8-1.7-2.8-1.6-4.8 1.7z"/><path class="c0" d="M112.2 456.9l4.8-.8-2.8-1.3-4.8.8z"/><path class="c0" d="M311.6 457l4.8-.8-2.8-1.3-4.8.8z"/><path class="c29" d="M189.5 443.3l4.8-.7-2.8-5.2-4.8 2.1z"/><path class="c22" d="M266.8 441.2l4.8-1.2-2.8 4.3-4.8 2.1z"/><path class="c13" d="M144.6 445.8l4.8 0-2.8-.1-4.8 0z"/><path class="c19" d="M221.9 455.6l4.8-.5-2.8-7.5-4.8.9z"/><path class="c0" d="M299.2 457.2l4.8-.8-2.8-1.3-4.8.8z"/><path class="c31" d="M177 443.2l4.8-1.7-2.7-3.5-4.9 4.4z"/><path class="c3" d="M254.3 450.3l4.9-2.1-2.8 1.5-4.9 2z"/><path class="c4" d="M132.2 442.9l4.8 2.8-2.8-.1-4.8-3.9z"/><path class="c20" d="M209.5 452.4l4.8-1.6-2.8-7.1-4.8 2.2z"/><path class="c18" d="M286.8 457.4l4.8-.8-2.8-1.3-4.8.8z"/><path class="c13" d="M164.6 444l4.8-.8-2.8-.7-4.8.8z"/><path class="c7" d="M241.9 453.9l4.8-.5-2.8-1.6-4.8 1.6z"/><path class="c2" d="M119.8 457.5l4.8-.8-2.8-1.3-4.8.7z"/><path class="c36" d="M197.1 444l4.8 3.4-2.8-6.1-4.8 1.3z"/><path class="c24" d="M274.4 457.6l4.8-.7-2.8-18-4.8 1.1z"/><path class="c3" d="M152.2 445.7l4.8-1.2-2.8 1.2-4.8.1z"/><path class="c1" d="M229.5 455.6l4.8-.5-2.8-1.6-4.8 1.6z"/><path class="c0" d="M107.3 457.7l4.9-.8-2.8-1.3-4.9.7z"/><path class="c0" d="M306.8 457.8l4.8-.8-2.8-1.3-4.8.7z"/><path class="c19" d="M184.6 443.9l4.9-.6-2.8-3.8-4.9 2z"/><path class="c11" d="M262 442.3l4.8-1.1-2.8 5.2-4.8 1.8z"/><path class="c13" d="M139.8 447l4.8-1.2-2.8-.1-4.8 0z"/><path class="c19" d="M217.1 455l4.8.6-2.8-7.1-4.8 2.3z"/><path class="c0" d="M294.4 458l4.8-.8-2.8-1.3-4.8.7z"/><path class="c8" d="M172.2 442.8l4.8.4-2.8-.8-4.8.8z"/><path class="c3" d="M249.5 452.1l4.8-1.8-2.8 1.4-4.8 1.7z"/><path class="c4" d="M127.4 458l4.8-15.1-2.8-1.2-4.8 15z"/><path class="c19" d="M204.7 450.8l4.8 1.6-2.8-6.5-4.8 1.5z"/><path class="c18" d="M282 458.2l4.8-.8-2.8-1.3-4.8.8z"/><path class="c8" d="M159.8 444.8l4.8-.8-2.8-.7-4.8 1.2z"/><path class="c5" d="M237.1 453.9l4.8 0-2.8-.5-4.8 1.7z"/><path class="c0" d="M115 458.2l4.8-.7-2.8-1.4-4.8.8z"/><path class="c21" d="M192.3 444.6l4.8-.6-2.8-1.4-4.8.7z"/><path class="c25" d="M269.6 458.4l4.8-.8-2.8-17.6-4.8 1.2z"/><path class="c7" d="M147.4 446.1l4.8-.4-2.8.1-4.8 0z"/><path class="c2" d="M224.7 455.6l4.8 0-2.8-.5-4.8.5z"/><path class="c0" d="M302 458.6l4.8-.8-2.8-1.4-4.8.8z"/><path class="c22" d="M179.8 442.4l4.8 1.5-2.8-2.4-4.8 1.7z"/><path class="c11" d="M257.1 443.4l4.9-1.1-2.8 5.9-4.9 2.1z"/><path class="c3" d="M135 444l4.8 3-2.8-1.3-4.8-2.8z"/><path class="c14" d="M212.3 453.3l4.8 1.7-2.8-4.2-4.8 1.6z"/><path class="c0" d="M289.6 458.8l4.8-.8-2.8-1.4-4.8.8z"/><path class="c3" d="M167.4 442.9l4.8-.1-2.8.4-4.8.8z"/><path class="c4" d="M244.7 452.1l4.8 0-2.8 1.3-4.8.5z"/><path class="c2" d="M122.6 458.8l4.8-.8-2.8-1.3-4.8.8z"/><path class="c0" d="M199.9 448.9l4.8 1.9-2.8-3.4-4.8-3.4z"/><path class="c18" d="M277.2 459l4.8-.8-2.8-1.3-4.8.7z"/><path class="c5" d="M155 445.1l4.8-.3-2.8-.3-4.8 1.2z"/><path class="c4" d="M232.3 453.9l4.8 0-2.8 1.2-4.8.5z"/><path class="c0" d="M110.1 459l4.9-.8-2.8-1.3-4.9.8z"/><path class="c31" d="M187.4 444.3l4.9.3-2.8-1.3-4.9.6z"/><path class="c25" d="M264.7 459.2l4.9-.8-2.8-17.2-4.8 1.1z"/><path class="c7" d="M142.6 447.6l4.8-1.5-2.8-.3-4.8 1.2z"/><path class="c13" d="M219.9 454.3l4.8 1.3-2.8 0-4.8-.6z"/><path class="c0" d="M297.2 459.3l4.8-.7-2.8-1.4-4.8.8z"/><path class="c3" d="M175 442.4l4.8 0-2.8.8-4.8-.4z"/><path class="c31" d="M252.3 444.6l4.8-1.2-2.8 6.9-4.8 1.8z"/><path class="c4" d="M130.2 459.4l4.8-15.4-2.8-1.1-4.8 15.1z"/><path class="c13" d="M207.5 451.6l4.8 1.7-2.8-.9-4.8-1.6z"/><path class="c0" d="M284.8 459.5l4.8-.7-2.8-1.4-4.8.8z"/><path class="c4" d="M162.6 443.7l4.8-.8-2.8 1.1-4.8.8z"/><path class="c4" d="M239.9 452.1l4.8 0-2.8 1.8-4.8 0z"/><path class="c0" d="M117.8 459.6l4.8-.8-2.8-1.3-4.8.7z"/><path class="c10" d="M195.1 446.6l4.8 2.3-2.8-4.9-4.8.6z"/><path class="c18" d="M272.4 459.7l4.8-.7-2.8-1.4-4.8.8z"/><path class="c22" d="M150.2 449.6l4.8-4.5-2.8.6-4.8.4z"/><path class="c4" d="M227.5 453.9l4.8 0-2.8 1.7-4.8 0z"/><path class="c9" d="M182.6 444l4.8.3-2.8-.4-4.8-1.5z"/><path class="c37" d="M259.9 460l4.8-.8-2.7-16.9-4.9 1.1z"/><path class="c3" d="M137.8 445.1l4.8 2.5-2.8-.6-4.8-3z"/><path class="c3" d="M215.1 452.7l4.8 1.6-2.8.7-4.8-1.7z"/><path class="c0" d="M292.4 460.1l4.8-.8-2.8-1.3-4.8.8z"/><path class="c3" d="M170.2 442.4l4.8 0-2.8.4-4.8.1z"/><path class="c11" d="M247.5 445.7l4.8-1.1-2.8 7.5-4.8 0z"/><path class="c2" d="M125.4 460.2l4.8-.8-2.8-1.4-4.8.8z"/><path class="c3" d="M202.7 449.8l4.8 1.8-2.8-.8-4.8-1.9z"/><path class="c0" d="M280 460.3l4.8-.8-2.8-1.3-4.8.8z"/><path class="c5" d="M157.8 446.7l4.8-3-2.8 1.1-4.8.3z"/><path class="c4" d="M235.1 452.1l4.8 0-2.8 1.8-4.8 0z"/><path class="c0" d="M112.9 460.4l4.9-.8-2.8-1.4-4.9.8z"/><path class="c22" d="M190.2 445.5l4.9 1.1-2.8-2-4.9-.3z"/><path class="c18" d="M267.5 460.5l4.9-.8-2.8-1.3-4.9.8z"/><path class="c34" d="M145.4 448.2l4.8 1.4-2.8-3.5-4.8 1.5z"/><path class="c4" d="M222.7 452.9l4.8 1-2.8 1.7-4.8-1.3z"/><path class="c9" d="M177.8 443.6l4.8.4-2.8-1.6-4.8 0z"/><path class="c37" d="M255.1 460.7l4.8-.7-2.8-16.6-4.8 1.2z"/><path class="c4" d="M133 460.7l4.8-15.6-2.8-1.1-4.8 15.4z"/><path class="c4" d="M210.3 451.2l4.8 1.5-2.8.6-4.8-1.7z"/><path class="c0" d="M287.6 460.9l4.8-.8-2.8-1.3-4.8.7z"/><path class="c5" d="M165.4 443.6l4.8-1.2-2.8.5-4.8.8z"/><path class="c11" d="M242.7 446.9l4.8-1.2-2.8 6.4-4.8 0z"/><path class="c0" d="M120.5 460.9l4.9-.7-2.8-1.4-4.8.8z"/><path class="c5" d="M197.9 447.8l4.8 2-2.8-.9-4.8-2.3z"/><path class="c0" d="M275.2 461.1l4.8-.8-2.8-1.3-4.8.7z"/><path class="c5" d="M153 448.5l4.8-1.8-2.8-1.6-4.8 4.5z"/><path class="c4" d="M230.3 452.1l4.8 0-2.8 1.8-4.8 0z"/><path class="c9" d="M185.4 444.9l4.8.6-2.8-1.2-4.8-.3z"/><path class="c18" d="M262.7 461.3l4.8-.8-2.8-1.3-4.8.8z"/><path class="c4" d="M140.6 446.2l4.8 2-2.8-.6-4.8-2.5z"/><path class="c4" d="M217.9 451.3l4.8 1.6-2.8 1.4-4.8-1.6z"/><path class="c9" d="M173 443.6l4.8 0-2.8-1.2-4.8 0z"/><path class="c14" d="M250.3 461.5l4.8-.8-2.8-16.1-4.8 1.1z"/><path class="c2" d="M128.2 461.5l4.8-.8-2.8-1.3-4.8.8z"/><path class="c4" d="M205.5 449.6l4.8 1.6-2.8.4-4.8-1.8z"/><path class="c0" d="M282.8 461.6l4.8-.7-2.8-1.4-4.8.8z"/><path class="c3" d="M160.6 445.6l4.8-2-2.8.1-4.8 3z"/><path class="c22" d="M237.9 448l4.8-1.1-2.8 5.2-4.8 0z"/><path class="c0" d="M115.7 461.7l4.8-.8-2.7-1.3-4.9.8z"/><path class="c9" d="M193 446.4l4.9 1.4-2.8-1.2-4.9-1.1z"/><path class="c0" d="M270.3 461.9l4.9-.8-2.8-1.4-4.9.8z"/><path class="c3" d="M148.2 448.9l4.8-.4-2.8 1.1-4.8-1.4z"/><path class="c4" d="M225.5 451.5l4.8.6-2.8 1.8-4.8-1z"/><path class="c9" d="M180.6 444.8l4.8.1-2.8-.9-4.8-.4z"/><path class="c18" d="M257.9 462.1l4.8-.8-2.8-1.3-4.8.7z"/><path class="c4" d="M135.8 462.1l4.8-15.9-2.8-1.1-4.8 15.6z"/><path class="c4" d="M213.1 449.8l4.8 1.5-2.8 1.4-4.8-1.5z"/><path class="c13" d="M168.2 443.5l4.8.1-2.8-1.2-4.8 1.2z"/><path class="c14" d="M245.5 462.3l4.8-.8-2.8-15.8-4.8 1.2z"/><path class="c0" d="M123.3 462.3l4.9-.8-2.8-1.3-4.9.7z"/><path class="c3" d="M200.6 449.3l4.9.3-2.8.2-4.8-2z"/><path class="c0" d="M278 462.4l4.8-.8-2.8-1.3-4.8.8z"/><path class="c3" d="M155.8 447.5l4.8-1.9-2.8 1.1-4.8 1.8z"/><path class="c22" d="M233.1 449.3l4.8-1.3-2.8 4.1-4.8 0z"/><path class="c9" d="M188.2 446l4.8.4-2.8-.9-4.8-.6z"/><path class="c0" d="M265.5 462.6l4.8-.7-2.8-1.4-4.8.8z"/><path class="c4" d="M143.4 447.4l4.8 1.5-2.8-.7-4.8-2z"/><path class="c8" d="M220.7 450l4.8 1.5-2.8 1.4-4.8-1.6z"/><path class="c13" d="M175.8 443.5l4.8 1.3-2.8-1.2-4.8 0z"/><path class="c18" d="M253.1 462.8l4.8-.7-2.8-1.4-4.8.8z"/><path class="c2" d="M131 462.8l4.8-.7-2.8-1.4-4.8.8z"/><path class="c4" d="M208.3 449.8l4.8 0-2.8 1.4-4.8-1.6z"/><path class="c5" d="M163.4 446.5l4.8-3-2.8.1-4.8 2z"/><path class="c14" d="M240.7 463.1l4.8-.8-2.8-15.4-4.8 1.1z"/><path class="c0" d="M118.5 463l4.8-.7-2.8-1.4-4.8.8z"/><path class="c9" d="M195.8 447.7l4.8 1.6-2.7-1.5-4.9-1.4z"/><path class="c0" d="M273.1 463.2l4.9-.8-2.8-1.3-4.9.8z"/><path class="c8" d="M151 449.4l4.8-1.9-2.8 1-4.8.4z"/><path class="c13" d="M228.3 450.3l4.8-1-2.8 2.8-4.8-.6z"/><path class="c13" d="M183.4 444.7l4.8 1.3-2.8-1.1-4.8-.1z"/><path class="c0" d="M260.7 463.4l4.8-.8-2.8-1.3-4.8.8z"/><path class="c4" d="M138.6 463.4l4.8-16-2.8-1.2-4.8 15.9z"/><path class="c7" d="M215.9 450.2l4.8-.2-2.8 1.3-4.8-1.5z"/><path class="c3" d="M171 443.1l4.8.4-2.8.1-4.8-.1z"/><path class="c18" d="M248.3 463.6l4.8-.8-2.8-1.3-4.8.8z"/><path class="c0" d="M126.1 463.6l4.9-.8-2.8-1.3-4.9.8z"/><path class="c13" d="M203.4 450l4.9-.2-2.8-.2-4.9-.3z"/><path class="c8" d="M158.6 448.6l4.8-2.1-2.8-.9-4.8 1.9z"/><path class="c14" d="M235.9 463.8l4.8-.7-2.8-15.1-4.8 1.3z"/><path class="c9" d="M191 446.4l4.8 1.3-2.8-1.3-4.8-.4z"/><path class="c0" d="M268.3 464l4.8-.8-2.8-1.3-4.8.7z"/><path class="c3" d="M146.2 446.8l4.8 2.6-2.8-.5-4.8-1.5z"/><path class="c9" d="M223.5 464l4.8-13.7-2.8 1.2-4.8-1.5z"/><path class="c4" d="M178.6 443.2l4.8 1.5-2.8.1-4.8-1.3z"/><path class="c0" d="M255.9 464.2l4.8-.8-2.8-1.3-4.8.7z"/><path class="c2" d="M133.8 464.2l4.8-.8-2.8-1.3-4.8.7z"/><path class="c31" d="M211.1 450.5l4.8-.3-2.8-.4-4.8 0z"/><path class="c3" d="M166.2 446.1l4.8-3-2.8.4-4.8 3z"/><path class="c18" d="M243.5 464.4l4.8-.8-2.8-1.3-4.8.8z"/><path class="c0" d="M121.3 464.4l4.8-.8-2.8-1.3-4.8.7z"/><path class="c9" d="M198.6 449.6l4.8.4-2.8-.7-4.8-1.6z"/><path class="c8" d="M153.8 450.4l4.8-1.8-2.8-1.1-4.8 1.9z"/><path class="c24" d="M231.1 464.6l4.8-.8-2.8-14.5-4.8 1z"/><path class="c5" d="M186.2 445.1l4.8 1.3-2.8-.4-4.8-1.3z"/><path class="c0" d="M263.5 464.8l4.8-.8-2.8-1.4-4.8.8z"/><path class="c4" d="M141.4 464.7l4.8-17.9-2.8.6-4.8 16z"/><path class="c24" d="M218.7 464.8l4.8-.8-2.8-14-4.8.2z"/><path class="c3" d="M173.8 442.7l4.8.5-2.8.3-4.8-.4z"/><path class="c0" d="M251.1 465l4.8-.8-2.8-1.4-4.8.8z"/><path class="c0" d="M128.9 464.9l4.9-.7-2.8-1.4-4.9.8z"/><path class="c31" d="M206.2 450.1l4.9.4-2.8-.7-4.9.2z"/><path class="c3" d="M161.4 449l4.8-2.9-2.8.4-4.8 2.1z"/><path class="c18" d="M238.7 465.2l4.8-.8-2.8-1.3-4.8.7z"/><path class="c9" d="M193.8 447.7l4.8 1.9-2.8-1.9-4.8-1.3z"/><path class="c7" d="M149 465.3l4.8-14.9-2.8-1-4.8-2.6z"/><path class="c9" d="M226.3 465.4l4.8-.8-2.8-14.3-4.8 13.7z"/><path class="c8" d="M181.4 443.8l4.8 1.3-2.8-.4-4.8-1.5z"/><path class="c0" d="M258.7 465.5l4.8-.7-2.8-1.4-4.8.8z"/><path class="c2" d="M136.5 465.5l4.9-.8-2.8-1.3-4.8.8z"/><path class="c37" d="M213.8 465.6l4.9-.8-2.8-14.6-4.8.3z"/><path class="c3" d="M169 445.7l4.8-3-2.8.4-4.8 3z"/><path class="c0" d="M246.3 465.7l4.8-.7-2.8-1.4-4.8.8z"/><path class="c0" d="M124.1 465.7l4.8-.8-2.8-1.3-4.8.8z"/><path class="c7" d="M201.4 449.6l4.8.5-2.8-.1-4.8-.4z"/><path class="c5" d="M156.6 452l4.8-3-2.8-.4-4.8 1.8z"/><path class="c18" d="M233.9 465.9l4.8-.7-2.8-1.4-4.8.8z"/><path class="c34" d="M189 448.6l4.8-.9-2.8-1.3-4.8-1.3z"/><path class="c5" d="M144.2 466.1l4.8-.8-2.8-18.5-4.8 17.9z"/><path class="c30" d="M221.5 466.2l4.8-.8-2.8-1.4-4.8.8z"/><path class="c18" d="M176.6 445.2l4.8-1.4-2.8-.6-4.8-.5z"/><path class="c0" d="M253.9 466.3l4.8-.8-2.8-1.3-4.8.8z"/><path class="c0" d="M131.7 466.3l4.8-.8-2.7-1.3-4.9.7z"/><path class="c25" d="M209 466.4l4.8-.8-2.7-15.1-4.9-.4z"/><path class="c3" d="M164.2 448.1l4.8-2.4-2.8.4-4.8 2.9z"/><path class="c0" d="M241.5 466.5l4.8-.8-2.8-1.3-4.8.8z"/><path class="c31" d="M196.6 449.1l4.8.5-2.8 0-4.8-1.9z"/><path class="c4" d="M151.8 466.6l4.8-14.6-2.8-1.6-4.8 14.9z"/><path class="c6" d="M229.1 466.7l4.8-.8-2.8-1.3-4.8.8z"/><path class="c14" d="M184.2 447.8l4.8.8-2.8-3.5-4.8-1.3z"/><path class="c1" d="M139.3 466.8l4.9-.7-2.8-1.4-4.9.8z"/><path class="c18" d="M216.6 466.9l4.9-.7-2.8-1.4-4.9.8z"/><path class="c18" d="M171.8 446.8l4.8-1.6-2.8-2.5-4.8 3z"/><path class="c0" d="M249.1 467.1l4.8-.8-2.8-1.3-4.8.7z"/><path class="c0" d="M126.9 467.1l4.8-.8-2.8-1.4-4.8.8z"/><path class="c24" d="M204.2 467.1l4.8-.7-2.8-16.3-4.8-.5z"/><path class="c4" d="M159.4 450.5l4.8-2.4-2.8.9-4.8 3z"/><path class="c0" d="M236.7 467.3l4.8-.8-2.8-1.3-4.8.7z"/><path class="c31" d="M191.8 448.4l4.8.7-2.8-1.4-4.8.9z"/><path class="c2" d="M147 467.4l4.8-.8-2.8-1.3-4.8.8z"/><path class="c0" d="M224.3 467.5l4.8-.8-2.8-1.3-4.8.8z"/><path class="c23" d="M179.4 450.5l4.8-2.7-2.8-4-4.8 1.4z"/><path class="c0" d="M134.5 467.6l4.8-.8-2.8-1.3-4.8.8z"/><path class="c18" d="M211.8 467.7l4.8-.8-2.8-1.3-4.8.8z"/><path class="c22" d="M167 448l4.8-1.2-2.8-1.1-4.8 2.4z"/><path class="c0" d="M244.3 467.8l4.8-.7-2.8-1.4-4.8.8z"/><path class="c10" d="M199.4 467.9l4.8-.8-2.8-17.5-4.8-.5z"/><path class="c4" d="M154.6 468l4.8-17.5-2.8 1.5-4.8 14.6z"/><path class="c0" d="M231.9 468.1l4.8-.8-2.8-1.4-4.8.8z"/><path class="c37" d="M187 451.8l4.8-3.4-2.8.2-4.8-.8z"/><path class="c0" d="M142.1 468.2l4.9-.8-2.8-1.3-4.9.7z"/><path class="c0" d="M219.4 468.3l4.9-.8-2.8-1.3-4.9.7z"/><path class="c28" d="M174.6 451.3l4.8-.8-2.8-5.3-4.8 1.6z"/><path class="c0" d="M129.7 468.4l4.8-.8-2.8-1.3-4.8.8z"/><path class="c18" d="M207 468.5l4.8-.8-2.8-1.3-4.8.7z"/><path class="c5" d="M162.2 449.1l4.8-1.1-2.8.1-4.8 2.4z"/><path class="c0" d="M239.5 468.6l4.8-.8-2.8-1.3-4.8.8z"/><path class="c16" d="M194.6 468.7l4.8-.8-2.8-18.8-4.8-.7z"/><path class="c2" d="M149.8 468.8l4.8-.8-2.8-1.4-4.8.8z"/><path class="c0" d="M227.1 468.8l4.8-.7-2.8-1.4-4.8.8z"/><path class="c36" d="M182.2 451.2l4.8.6-2.8-4-4.8 2.7z"/><path class="c0" d="M137.3 469l4.8-.8-2.8-1.4-4.8.8z"/><path class="c0" d="M214.6 469l4.8-.7-2.8-1.4-4.8.8z"/><path class="c20" d="M169.8 450.9l4.8.4-2.8-4.5-4.8 1.2z"/><path class="c18" d="M202.2 469.3l4.8-.8-2.8-1.4-4.8.8z"/><path class="c4" d="M157.4 469.3l4.8-20.2-2.8 1.4-4.8 17.5z"/><path class="c0" d="M234.7 469.4l4.8-.8-2.8-1.3-4.8.8z"/><path class="c16" d="M189.8 469.5l4.8-.8-2.8-20.3-4.8 3.4z"/><path class="c0" d="M144.9 469.5l4.9-.7-2.8-1.4-4.9.8z"/><path class="c0" d="M222.2 469.6l4.9-.8-2.8-1.3-4.9.8z"/><path class="c7" d="M177.4 469.7l4.8-18.5-2.8-.7-4.8.8z"/><path class="c0" d="M132.5 469.7l4.8-.7-2.8-1.4-4.8.8z"/><path class="c0" d="M209.8 469.8l4.8-.8-2.8-1.3-4.8.8z"/><path class="c8" d="M165 469.9l4.8-19-2.8-2.9-4.8 1.1z"/><path class="c6" d="M197.4 470l4.8-.7-2.8-1.4-4.8.8z"/><path class="c2" d="M152.5 470.1l4.9-.8-2.8-1.3-4.8.8z"/><path class="c0" d="M229.8 470.2l4.9-.8-2.8-1.3-4.8.7z"/><path class="c34" d="M185 470.2l4.8-.7-2.8-17.7-4.8-.6z"/><path class="c0" d="M140.1 470.3l4.8-.8-2.8-1.3-4.8.8z"/><path class="c0" d="M217.4 470.4l4.8-.8-2.8-1.3-4.8.7z"/><path class="c18" d="M172.6 470.4l4.8-.7-2.8-18.4-4.8-.4z"/><path class="c0" d="M205 470.6l4.8-.8-2.8-1.3-4.8.8z"/><path class="c5" d="M160.2 470.7l4.8-.8-2.8-20.8-4.8 20.2z"/><path class="c6" d="M192.6 470.8l4.8-.8-2.8-1.3-4.8.8z"/><path class="c0" d="M147.7 470.9l4.8-.8-2.7-1.3-4.9.7z"/><path class="c0" d="M225 471l4.8-.8-2.7-1.4-4.9.8z"/><path class="c9" d="M180.2 471l4.8-.8-2.8-19-4.8 18.5z"/><path class="c0" d="M135.3 471.1l4.8-.8-2.8-1.3-4.8.7z"/><path class="c0" d="M212.6 471.2l4.8-.8-2.8-1.4-4.8.8z"/><path class="c9" d="M167.8 471.2l4.8-.8-2.8-19.5-4.8 19z"/><path class="c0" d="M200.2 471.4l4.8-.8-2.8-1.3-4.8.7z"/><path class="c1" d="M155.3 471.4l4.9-.7-2.8-1.4-4.9.8z"/><path class="c18" d="M187.8 471.6l4.8-.8-2.8-1.3-4.8.7z"/><path class="c0" d="M142.9 471.6l4.8-.7-2.8-1.4-4.8.8z"/><path class="c0" d="M220.2 471.7l4.8-.7-2.8-1.4-4.8.8z"/><path class="c0" d="M175.4 471.8l4.8-.8-2.8-1.3-4.8.7z"/><path class="c0" d="M207.8 471.9l4.8-.7-2.8-1.4-4.8.8z"/><path class="c1" d="M163 472l4.8-.8-2.8-1.3-4.8.8z"/><path class="c0" d="M195.4 472.1l4.8-.7-2.8-1.4-4.8.8z"/><path class="c0" d="M150.5 472.2l4.8-.8-2.8-1.3-4.8.8z"/><path class="c30" d="M183 472.4l4.8-.8-2.8-1.4-4.8.8z"/><path class="c0" d="M138.1 472.4l4.8-.8-2.8-1.3-4.8.8z"/><path class="c0" d="M215.4 472.5l4.8-.8-2.8-1.3-4.8.8z"/><path class="c30" d="M170.6 472.6l4.8-.8-2.8-1.4-4.8.8z"/><path class="c0" d="M203 472.7l4.8-.8-2.8-1.3-4.8.8z"/><path class="c0" d="M158.1 472.8l4.9-.8-2.8-1.3-4.9.7z"/><path class="c0" d="M190.6 472.9l4.8-.8-2.8-1.3-4.8.8z"/><path class="c0" d="M145.7 473l4.8-.8-2.8-1.3-4.8.7z"/><path class="c0" d="M178.2 473.1l4.8-.7-2.8-1.4-4.8.8z"/><path class="c0" d="M210.6 473.3l4.8-.8-2.8-1.3-4.8.7z"/><path class="c0" d="M165.8 473.3l4.8-.7-2.8-1.4-4.8.8z"/><path class="c0" d="M198.2 473.5l4.8-.8-2.8-1.3-4.8.7z"/><path class="c0" d="M153.3 473.6l4.8-.8-2.8-1.4-4.8.8z"/><path class="c0" d="M185.8 473.7l4.8-.8-2.8-1.3-4.8.8z"/><path class="c0" d="M140.9 473.8l4.8-.8-2.8-1.4-4.8.8z"/><path class="c0" d="M173.4 473.9l4.8-.8-2.8-1.3-4.8.8z"/><path class="c0" d="M205.8 474l4.8-.7-2.8-1.4-4.8.8z"/><path class="c0" d="M160.9 474.1l4.9-.8-2.8-1.3-4.9.8z"/><path class="c0" d="M193.4 474.3l4.8-.8-2.8-1.4-4.8.8z"/><path class="c0" d="M148.5 474.3l4.8-.7-2.8-1.4-4.8.8z"/><path class="c0" d="M181 474.5l4.8-.8-2.8-1.3-4.8.7z"/><path class="c0" d="M168.5 474.7l4.9-.8-2.8-1.3-4.8.7z"/><path class="c0" d="M201 474.8l4.8-.8-2.8-1.3-4.8.8z"/><path class="c0" d="M156.1 474.9l4.8-.8-2.8-1.3-4.8.8z"/><path class="c0" d="M188.6 475l4.8-.7-2.8-1.4-4.8.8z"/><path class="c0" d="M143.7 475.1l4.8-.8-2.8-1.3-4.8.8z"/><path class="c0" d="M176.2 475.2l4.8-.7-2.8-1.4-4.8.8z"/><path class="c0" d="M163.7 475.5l4.8-.8-2.7-1.4-4.9.8z"/><path class="c0" d="M196.2 475.6l4.8-.8-2.8-1.3-4.8.8z"/><path class="c0" d="M151.3 475.7l4.8-.8-2.8-1.3-4.8.7z"/><path class="c0" d="M183.8 475.8l4.8-.8-2.8-1.3-4.8.8z"/><path class="c0" d="M171.3 476l4.9-.8-2.8-1.3-4.9.8z"/><path class="c0" d="M158.9 476.2l4.8-.7-2.8-1.4-4.8.8z"/><path class="c0" d="M191.4 476.4l4.8-.8-2.8-1.3-4.8.7z"/><path class="c0" d="M146.5 476.4l4.8-.7-2.8-1.4-4.8.8z"/><path class="c0" d="M179 476.6l4.8-.8-2.8-1.3-4.8.7z"/><path class="c0" d="M166.5 476.8l4.8-.8-2.8-1.3-4.8.8z"/><path class="c0" d="M154.1 477l4.8-.8-2.8-1.3-4.8.8z"/><path class="c0" d="M186.6 477.2l4.8-.8-2.8-1.4-4.8.8z"/><path class="c0" d="M174.1 477.4l4.9-.8-2.8-1.4-4.9.8z"/><path class="c0" d="M161.7 477.6l4.8-.8-2.8-1.3-4.8.7z"/><path class="c0" d="M149.3 477.8l4.8-.8-2.8-1.3-4.8.7z"/><path class="c0" d="M181.8 477.9l4.8-.7-2.8-1.4-4.8.8z"/><path class="c0" d="M169.3 478.1l4.8-.7-2.8-1.4-4.8.8z"/><path class="c0" d="M156.9 478.3l4.8-.7-2.8-1.4-4.8.8z"/><path class="c0" d="M176.9 478.7l4.9-.8-2.8-1.3-4.9.8z"/><path class="c0" d="M164.5 478.9l4.8-.8-2.8-1.3-4.8.8z"/><path class="c0" d="M152.1 479.1l4.8-.8-2.8-1.3-4.8.8z"/><path class="c0" d="M172.1 479.5l4.8-.8-2.8-1.3-4.8.7z"/><path class="c0" d="M159.7 479.7l4.8-.8-2.8-1.3-4.8.7z"/><path class="c0" d="M167.3 480.2l4.8-.7-2.8-1.4-4.8.8z"/><path class="c0" d="M154.9 480.5l4.8-.8-2.8-1.4-4.8.8z"/><path class="c0" d="M162.5 481l4.8-.8-2.8-1.3-4.8.8z"/><path class="c0" d="M157.7 481.8l4.8-.8-2.8-1.3-4.8.8z"/></g>
<line x1="157.7" y1="481.8" x2="157.7" y2="373.6" stroke="#000" stroke-width="1"/>
<line x1="350.1" y1="450.8" x2="350.1" y2="342.6" stroke="#000" stroke-width="1"/>
<line x1="45.8" y1="428.2" x2="45.8" y2="320" stroke="#000" stroke-width="1"/>
<line x1="45.8" y1="320" x2="157.7" y2="373.6" stroke="#000" stroke-width="1" shape-rendering="auto"/>
<line x1="157.7" y1="373.6" x2="350.1" y2="342.6" stroke="#000" stroke-width="1" shape-rendering="auto"/>
<line x1="157.7" y1="481.8" x2="45.8" y2="428.2" stroke="#000" stroke-width="1" shape-rendering="auto"/>
<line x1="157.7" y1="481.8" x2="350.1" y2="450.8" stroke="#000" stroke-width="1" shape-rendering="auto"/>
<line x1="40.3" y1="428.5" x2="45.8" y2="428.5" stroke="#000" stroke-width="1"/>
<text x="39.8" y="430.7" font-size="8.7" text-anchor="end" stroke="#000" stroke-width="0.2">0</text>
<line x1="42.8" y1="424.5" x2="45.8" y2="424.5" stroke="#000" stroke-width="1"/>
<line x1="42.8" y1="420.5" x2="45.8" y2="420.5" stroke="#000" stroke-width="1"/>
<line x1="42.8" y1="416.5" x2="45.8" y2="416.5" stroke="#000" stroke-width="1"/>
<line x1="40.3" y1="412.5" x2="45.8" y2="412.5" stroke="#000" stroke-width="1"/>
<text x="39.8" y="415.1" font-size="8.7" text-anchor="end" stroke="#000" stroke-width="0.2">200</text>
<line x1="42.8" y1="408.5" x2="45.8" y2="408.5" stroke="#000" stroke-width="1"/>
<line x1="42.8" y1="404.5" x2="45.8" y2="404.5" stroke="#000" stroke-width="1"/>
<line x1="42.8" y1="400.5" x2="45.8" y2="400.5" stroke="#000" stroke-width="1"/>
<line x1="40.3" y1="396.5" x2="45.8" y2="396.5" stroke="#000" stroke-width="1"/>
<text x="39.8" y="399.5" font-size="8.7" text-anchor="end" stroke="#000" stroke-width="0.2">400</text>
<line x1="42.8" y1="393.5" x2="45.8" y2="393.5" stroke="#000" stroke-width="1"/>
<line x1="42.8" y1="389.5" x2="45.8" y2="389.5" stroke="#000" stroke-width="1"/>
<line x1="42.8" y1="385.5" x2="45.8" y2="385.5" stroke="#000" stroke-width="1"/>
<line x1="40.3" y1="381.5" x2="45.8" y2="381.5" stroke="#000" stroke-width="1"/>
<text x="39.8" y="383.89" font-size="8.7" text-anchor="end" stroke="#000" stroke-width="0.2">600</text>
<line x1="42.8" y1="377.5" x2="45.8" y2="377.5" stroke="#000" stroke-width="1"/>
<line x1="42.8" y1="373.5" x2="45.8" y2="373.5" stroke="#000" stroke-width="1"/>
<line x1="42.8" y1="369.5" x2="45.8" y2="369.5" stroke="#000" stroke-width="1"/>
<line x1="40.3" y1="365.5" x2="45.8" y2="365.5" stroke="#000" stroke-width="1"/>
<text x="39.8" y="368.29" font-size="8.7" text-anchor="end" stroke="#000" stroke-width="0.2">800</text>
<line x1="42.8" y1="361.5" x2="45.8" y2="361.5" stroke="#000" stroke-width="1"/>
<line x1="42.8" y1="357.5" x2="45.8" y2="357.5" stroke="#000" stroke-width="1"/>
<line x1="42.8" y1="354.5" x2="45.8" y2="354.5" stroke="#000" stroke-width="1"/>
<line x1="40.3" y1="350.5" x2="45.8" y2="350.5" stroke="#000" stroke-width="1"/>
<text x="39.8" y="352.69" font-size="8.7" text-anchor="end" stroke="#000" stroke-width="0.2">1000</text>
<line x1="42.8" y1="346.5" x2="45.8" y2="346.5" stroke="#000" stroke-width="1"/>
<line x1="42.8" y1="342.5" x2="45.8" y2="342.5" stroke="#000" stroke-width="1"/>
<line x1="42.8" y1="338.5" x2="45.8" y2="338.5" stroke="#000" stroke-width="1"/>
<line x1="40.3" y1="334.5" x2="45.8" y2="334.5" stroke="#000" stroke-width="1"/>
<text x="39.8" y="337.09" font-size="8.7" text-anchor="end" stroke="#000" stroke-width="0.2">1200</text>
<line x1="42.8" y1="330.5" x2="45.8" y2="330.5" stroke="#000" stroke-width="1"/>
<line x1="42.8" y1="326.5" x2="45.8" y2="326.5" stroke="#000" stroke-width="1"/>
<line x1="42.8" y1="322.5" x2="45.8" y2="322.5" stroke="#000" stroke-width="1"/>
<line x1="160.42" y1="481.36" x2="160.42" y2="483.56" stroke="#000" stroke-width="1" shape-rendering="auto"/>
<line x1="167.22" y1="480.27" x2="167.22" y2="482.47" stroke="#000" stroke-width="1" shape-rendering="auto"/>
<line x1="174.02" y1="479.17" x2="174.02" y2="483.17" stroke="#000" stroke-width="1" shape-rendering="auto"/>
<line x1="180.82" y1="478.08" x2="180.82" y2="480.28" stroke="#000" stroke-width="1" shape-rendering="auto"/>
<line x1="187.61" y1="476.98" x2="187.61" y2="479.18" stroke="#000" stroke-width="1" shape-rendering="auto"/>
<line x1="194.41" y1="475.88" x2="194.41" y2="478.08" stroke="#000" stroke-width="1" shape-rendering="auto"/>
<line x1="201.21" y1="474.79" x2="201.21" y2="478.79" stroke="#000" stroke-width="1" shape-rendering="auto"/>
<line x1="208.01" y1="473.69" x2="208.01" y2="475.89" stroke="#000" stroke-width="1" shape-rendering="auto"/>
<line x1="214.81" y1="472.6" x2="214.81" y2="474.8" stroke="#000" stroke-width="1" shape-rendering="auto"/>
<line x1="221.61" y1="471.5" x2="221.61" y2="473.7" stroke="#000" stroke-width="1" shape-rendering="auto"/>
<line x1="228.41" y1="470.41" x2="228.41" y2="474.41" stroke="#000" stroke-width="1" shape-rendering="auto"/>
<line x1="235.2" y1="469.31" x2="235.2" y2="471.51" stroke="#000" stroke-width="1" shape-rendering="auto"/>
<line x1="242" y1="468.22" x2="242" y2="470.42" stroke="#000" stroke-width="1" shape-rendering="auto"/>
<line x1="248.8" y1="467.12" x2="248.8" y2="469.32" stroke="#000" stroke-width="1" shape-rendering="auto"/>
<line x1="255.6" y1="466.03" x2="255.6" y2="470.03" stroke="#000" stroke-width="1" shape-rendering="auto"/>
<line x1="262.4" y1="464.93" x2="262.4" y2="467.13" stroke="#000" stroke-width="1" shape-rendering="auto"/>
<line x1="269.2" y1="463.84" x2="269.2" y2="466.04" stroke="#000" stroke-width="1" shape-rendering="auto"/>
<line x1="276" y1="462.74" x2="276" y2="464.94" stroke="#000" stroke-width="1" shape-rendering="auto"/>
<line x1="282.79" y1="461.64" x2="282.79" y2="465.64" stroke="#000" stroke-width="1" shape-rendering="auto"/>
<line x1="289.59" y1="460.55" x2="289.59" y2="462.75" stroke="#000" stroke-width="1" shape-rendering="auto"/>
<line x1="296.39" y1="459.45" x2="296.39" y2="461.65" stroke="#000" stroke-width="1" shape-rendering="auto"/>
<line x1="303.19" y1="458.36" x2="303.19" y2="460.56" stroke="#000" stroke-width="1" shape-rendering="auto"/>
<line x1="309.99" y1="457.26" x2="309.99" y2="461.26" stroke="#000" stroke-width="1" shape-rendering="auto"/>
<line x1="316.79" y1="456.17" x2="316.79" y2="458.37" stroke="#000" stroke-width="1" shape-rendering="auto"/>
<line x1="323.59" y1="455.07" x2="323.59" y2="457.27" stroke="#000" stroke-width="1" shape-rendering="auto"/>
<line x1="330.38" y1="453.98" x2="330.38" y2="456.18" stroke="#000" stroke-width="1" shape-rendering="auto"/>
<line x1="337.18" y1="452.88" x2="337.18" y2="456.88" stroke="#000" stroke-width="1" shape-rendering="auto"/>
<line x1="343.98" y1="451.79" x2="343.98" y2="453.99" stroke="#000" stroke-width="1" shape-rendering="auto"/>
<text x="174.62" y="491.27" font-size="8.7" text-anchor="middle" stroke="#000" stroke-width="0.2">-6</text>
<text x="201.81" y="486.89" font-size="8.7" text-anchor="middle" stroke="#000" stroke-width="0.2">-4</text>
<text x="229.01" y="482.51" font-size="8.7" text-anchor="middle" stroke="#000" stroke-width="0.2">-2</text>
<text x="256.2" y="478.13" font-size="8.7" text-anchor="middle" stroke="#000" stroke-width="0.2">0</text>
<text x="283.39" y="473.74" font-size="8.7" text-anchor="middle" stroke="#000" stroke-width="0.2">2</text>
<text x="310.59" y="469.36" font-size="8.7" text-anchor="middle" stroke="#000" stroke-width="0.2">4</text>
<text x="337.78" y="464.98" font-size="8.7" text-anchor="middle" stroke="#000" stroke-width="0.2">6</text>
<line x1="156.12" y1="481.04" x2="155.46" y2="483.24" stroke="#000" stroke-width="1" shape-rendering="auto"/>
<line x1="152.16" y1="479.15" x2="151.5" y2="481.35" stroke="#000" stroke-width="1" shape-rendering="auto"/>
<line x1="148.21" y1="477.25" x2="147.01" y2="481.25" stroke="#000" stroke-width="1" shape-rendering="auto"/>
<line x1="144.26" y1="475.36" x2="143.6" y2="477.56" stroke="#000" stroke-width="1" shape-rendering="auto"/>
<line x1="140.3" y1="473.47" x2="139.64" y2="475.67" stroke="#000" stroke-width="1" shape-rendering="auto"/>
<line x1="136.35" y1="471.57" x2="135.69" y2="473.77" stroke="#000" stroke-width="1" shape-rendering="auto"/>
<line x1="132.39" y1="469.68" x2="131.19" y2="473.68" stroke="#000" stroke-width="1" shape-rendering="auto"/>
<line x1="128.44" y1="467.78" x2="127.78" y2="469.98" stroke="#000" stroke-width="1" shape-rendering="auto"/>
<line x1="124.49" y1="465.89" x2="123.83" y2="468.09" stroke="#000" stroke-width="1" shape-rendering="auto"/>
<line x1="120.53" y1="464" x2="119.87" y2="466.2" stroke="#000" stroke-width="1" shape-rendering="auto"/>
<line x1="116.58" y1="462.1" x2="115.38" y2="466.1" stroke="#000" stroke-width="1" shape-rendering="auto"/>
<line x1="112.62" y1="460.21" x2="111.96" y2="462.41" stroke="#000" stroke-width="1" shape-rendering="auto"/>
<line x1="108.67" y1="458.31" x2="108.01" y2="460.51" stroke="#000" stroke-width="1" shape-rendering="auto"/>
<line x1="104.72" y1="456.42" x2="104.06" y2="458.62" stroke="#000" stroke-width="1" shape-rendering="auto"/>
<line x1="100.76" y1="454.53" x2="99.56" y2="458.53" stroke="#000" stroke-width="1" shape-rendering="auto"/>
<line x1="96.81" y1="452.63" x2="96.15" y2="454.83" stroke="#000" stroke-width="1" shape-rendering="auto"/>
<line x1="92.85" y1="450.74" x2="92.19" y2="452.94" stroke="#000" stroke-width="1" shape-rendering="auto"/>
<line x1="88.9" y1="448.84" x2="88.24" y2="451.04" stroke="#000" stroke-width="1" shape-rendering="auto"/>
<line x1="84.95" y1="446.95" x2="83.75" y2="450.95" stroke="#000" stroke-width="1" shape-rendering="auto"/>
<line x1="80.99" y1="445.06" x2="80.33" y2="447.26" stroke="#000" stroke-width="1" shape-rendering="auto"/>
<line x1="77.04" y1="443.16" x2="76.38" y2="445.36" stroke="#000" stroke-width="1" shape-rendering="auto"/>
<line x1="73.08" y1="441.27" x2="72.42" y2="443.47" stroke="#000" stroke-width="1" shape-rendering="auto"/>
<line x1="69.13" y1="439.37" x2="67.93" y2="443.37" stroke="#000" stroke-width="1" shape-rendering="auto"/>
<line x1="65.17" y1="437.48" x2="64.51" y2="439.68" stroke="#000" stroke-width="1" shape-rendering="auto"/>
<line x1="61.22" y1="435.59" x2="60.56" y2="437.79" stroke="#000" stroke-width="1" shape-rendering="auto"/>
<line x1="57.27" y1="433.69" x2="56.61" y2="435.89" stroke="#000" stroke-width="1" shape-rendering="auto"/>
<line x1="53.31" y1="431.8" x2="52.11" y2="435.8" stroke="#000" stroke-width="1" shape-rendering="auto"/>
<line x1="49.36" y1="429.9" x2="48.7" y2="432.1" stroke="#000" stroke-width="1" shape-rendering="auto"/>
<text x="41.91" y="442.1" font-size="8.7" text-anchor="middle" stroke="#000" stroke-width="0.2">6</text>
<text x="57.73" y="449.67" font-size="8.7" text-anchor="middle" stroke="#000" stroke-width="0.2">4</text>
<text x="73.55" y="457.25" font-size="8.7" text-anchor="middle" stroke="#000" stroke-width="0.2">2</text>
<text x="89.36" y="464.83" font-size="8.7" text-anchor="middle" stroke="#000" stroke-width="0.2">0</text>
<text x="105.18" y="472.4" font-size="8.7" text-anchor="middle" stroke="#000" stroke-width="0.2">-2</text>
<text x="120.99" y="479.98" font-size="8.7" text-anchor="middle" stroke="#000" stroke-width="0.2">-4</text>
<text x="136.81" y="487.55" font-size="8.7" text-anchor="middle" stroke="#000" stroke-width="0.2">-6</text>
<polygon points="273,268 275,268 275,282 12,282 12,280 273,280" fill="#000"/>
<rect x="10.5" y="266.5" width="262" height="13" fill="#f2f2f2" stroke="#000" stroke-width="1"/>
<text transform="matrix(1,0,0,0.92,25.8,273.6)" font-size="9.96" stroke="#000" stroke-width="0.3">Histogram produced with Delaunay interpolation</text>
<line x1="46" y1="577.1" x2="239.1" y2="546.1" stroke="#000" stroke-width="1" shape-rendering="auto"/>
<line x1="239.1" y1="546.1" x2="350.3" y2="600.8" stroke="#000" stroke-width="1" shape-rendering="auto"/>
<line x1="46" y1="684.3" x2="239.1" y2="653.3" stroke="#000" stroke-width="1" shape-rendering="auto"/>
<line x1="239.1" y1="653.3" x2="350.3" y2="708" stroke="#000" stroke-width="1" shape-rendering="auto"/>
<line x1="239.1" y1="653.3" x2="239.1" y2="546.1" stroke="#000" stroke-width="1"/>
<path d="M46 665.5h1M49 665.5h1M52 664.5h1M55 664.5h1M58 663.5h1M61 663.5h1M64 662.5h1M67 662.5h1M70 661.5h1M74 661.5h1M77 660.5h1M80 660.5h1M83 659.5h1M86 659.5h1M89 658.5h1M92 658.5h1M95 657.5h1M98 657.5h1M102 656.5h1M105 656.5h1M108 655.5h1M111 655.5h1M114 654.5h1M117 654.5h1M120 653.5h1M123 653.5h1M126 652.5h1M130 652.5h1M133 651.5h1M136 651.5h1M139 650.5h1M142 650.5h1M145 649.5h1M148 649.5h1M151 648.5h1M155 648.5h1M158 647.5h1M161 647.5h1M164 646.5h1M167 646.5h1M170 645.5h1M173 645.5h1M176 644.5h1M179 644.5h1M183 643.5h1M186 643.5h1M189 642.5h1M192 642.5h1M195 641.5h1M198 641.5h1M201 640.5h1M204 640.5h1M207 639.5h1M211 639.5h1M214 638.5h1M217 638.5h1M220 637.5h1M223 637.5h1M226 636.5h1M229 636.5h1M232 635.5h1M235 635.5h1M239 634.5h1M239 634.5h1M242 636.5h1M245 637.5h1M248 639.5h1M251 641.5h1M254 642.5h1M258 644.5h1M261 645.5h1M264 647.5h1M267 648.5h1M270 650.5h1M274 652.5h1M277 653.5h1M280 655.5h1M283 656.5h1M286 658.5h1M289 659.5h1M293 661.5h1M296 662.5h1M299 664.5h1M302 666.5h1M305 667.5h1M308 669.5h1M312 670.5h1M315 672.5h1M318 673.5h1M321 675.5h1M324 677.5h1M328 678.5h1M331 680.5h1M334 681.5h1M337 683.5h1M340 684.5h1M343 686.5h1M347 687.5h1M350 689.5h1M46 647.5h1M49 646.5h1M52 646.5h1M55 645.5h1M58 645.5h1M61 644.5h1M64 644.5h1M67 643.5h1M70 643.5h1M74 642.5h1M77 642.5h1M80 641.5h1M83 641.5h1M86 640.5h1M89 640.5h1M92 639.5h1M95 639.5h1M98 638.5h1M102 638.5h1M105 637.5h1M108 637.5h1M111 636.5h1M114 636.5h1M117 635.5h1M120 635.5h1M123 634.5h1M126 634.5h1M130 633.5h1M133 633.5h1M136 632.5h1M139 632.5h1M142 631.5h1M145 631.5h1M148 630.5h1M151 630.5h1M155 629.5h1M158 629.5h1M161 628.5h1M164 628.5h1M167 627.5h1M170 627.5h1M173 626.5h1M176 626.5h1M179 625.5h1M183 625.5h1M186 624.5h1M189 624.5h1M192 623.5h1M195 623.5h1M198 622.5h1M201 622.5h1M204 621.5h1M207 621.5h1M211 620.5h1M214 620.5h1M217 619.5h1M220 619.5h1M223 618.5h1M226 618.5h1M229 617.5h1M232 617.5h1M235 616.5h1M239 616.5h1M239 616.5h1M242 617.5h1M245 619.5h1M248 621.5h1M251 622.5h1M254 624.5h1M258 625.5h1M261 627.5h1M264 628.5h1M267 630.5h1M270 631.5h1M274 633.5h1M277 635.5h1M280 636.5h1M283 638.5h1M286 639.5h1M289 641.5h1M293 642.5h1M296 644.5h1M299 646.5h1M302 647.5h1M305 649.5h1M308 650.5h1M312 652.5h1M315 653.5h1M318 655.5h1M321 657.5h1M324 658.5h1M328 660.5h1M331 661.5h1M334 663.5h1M337 664.5h1M340 666.5h1M343 667.5h1M347 669.5h1M350 671.5h1M46 628.5h1M49 628.5h1M52 627.5h1M55 627.5h1M58 626.5h1M61 626.5h1M64 625.5h1M67 625.5h1M70 624.5h1M74 624.5h1M77 623.5h1M80 623.5h1M83 622.5h1M86 622.5h1M89 621.5h1M92 621.5h1M95 620.5h1M98 620.5h1M102 619.5h1M105 619.5h1M108 618.5h1M111 618.5h1M114 617.5h1M117 617.5h1M120 616.5h1M123 616.5h1M126 615.5h1M130 615.5h1M133 614.5h1M136 614.5h1M139 613.5h1M142 613.5h1M145 612.5h1M148 612.5h1M151 611.5h1M155 611.5h1M158 610.5h1M161 610.5h1M164 609.5h1M167 609.5h1M170 608.5h1M173 608.5h1M176 607.5h1M179 607.5h1M183 606.5h1M186 606.5h1M189 605.5h1M192 605.5h1M195 604.5h1M198 604.5h1M201 603.5h1M204 603.5h1M207 602.5h1M211 602.5h1M214 601.5h1M217 601.5h1M220 600.5h1M223 600.5h1M226 599.5h1M229 599.5h1M232 598.5h1M235 598.5h1M239 597.5h1M239 597.5h1M242 599.5h1M245 601.5h1M248 602.5h1M251 604.5h1M254 605.5h1M258 607.5h1M261 608.5h1M264 610.5h1M267 611.5h1M270 613.5h1M274 615.5h1M277 616.5h1M280 618.5h1M283 619.5h1M286 621.5h1M289 622.5h1M293 624.5h1M296 626.5h1M299 627.5h1M302 629.5h1M305 630.5h1M308 632.5h1M312 633.5h1M315 635.5h1M318 636.5h1M321 638.5h1M324 640.5h1M328 641.5h1M331 643.5h1M334 644.5h1M337 646.5h1M340 647.5h1M343 649.5h1M347 651.5h1M350 652.5h1M46 610.5h1M49 609.5h1M52 609.5h1M55 608.5h1M58 608.5h1M61 607.5h1M64 607.5h1M67 606.5h1M70 606.5h1M74 605.5h1M77 605.5h1M80 604.5h1M83 604.5h1M86 603.5h1M89 603.5h1M92 602.5h1M95 602.5h1M98 601.5h1M102 601.5h1M105 600.5h1M108 600.5h1M111 599.5h1M114 599.5h1M117 598.5h1M120 598.5h1M123 597.5h1M126 597.5h1M130 596.5h1M133 596.5h1M136 595.5h1M139 595.5h1M142 594.5h1M145 594.5h1M148 593.5h1M151 593.5h1M155 592.5h1M158 592.5h1M161 591.5h1M164 591.5h1M167 590.5h1M170 590.5h1M173 589.5h1M176 589.5h1M179 588.5h1M183 588.5h1M186 587.5h1M189 587.5h1M192 586.5h1M195 586.5h1M198 585.5h1M201 585.5h1M204 584.5h1M207 584.5h1M211 583.5h1M214 583.5h1M217 582.5h1M220 582.5h1M223 581.5h1M226 581.5h1M229 580.5h1M232 580.5h1M235 579.5h1M239 579.5h1M239 579.5h1M242 580.5h1M245 582.5h1M248 584.5h1M251 585.5h1M254 587.5h1M258 588.5h1M261 590.5h1M264 591.5h1M267 593.5h1M270 595.5h1M274 596.5h1M277 598.5h1M280 599.5h1M283 601.5h1M286 602.5h1M289 604.5h1M293 606.5h1M296 607.5h1M299 609.5h1M302 610.5h1M305 612.5h1M308 613.5h1M312 615.5h1M315 616.5h1M318 618.5h1M321 620.5h1M324 621.5h1M328 623.5h1M331 624.5h1M334 626.5h1M337 627.5h1M340 629.5h1M343 631.5h1M347 632.5h1M350 634.5h1M46 591.5h1M49 591.5h1M52 590.5h1M55 590.5h1M58 589.5h1M61 589.5h1M64 588.5h1M67 588.5h1M70 587.5h1M74 587.5h1M77 586.5h1M80 586.5h1M83 585.5h1M86 585.5h1M89 584.5h1M92 584.5h1M95 583.5h1M98 583.5h1M102 582.5h1M105 582.5h1M108 581.5h1M111 581.5h1M114 580.5h1M117 580.5h1M120 579.5h1M123 579.5h1M126 578.5h1M130 578.5h1M133 577.5h1M136 577.5h1M139 576.5h1M142 576.5h1M145 575.5h1M148 575.5h1M151 574.5h1M155 574.5h1M158 573.5h1M161 573.5h1M164 572.5h1M167 572.5h1M170 571.5h1M173 571.5h1M176 570.5h1M179 570.5h1M183 569.5h1M186 569.5h1M189 568.5h1M192 568.5h1M195 567.5h1M198 567.5h1M201 566.5h1M204 566.5h1M207 565.5h1M211 565.5h1M214 564.5h1M217 564.5h1M220 563.5h1M223 563.5h1M226 562.5h1M229 562.5h1M232 561.5h1M235 561.5h1M239 560.5h1M239 560.5h1M242 562.5h1M245 564.5h1M248 565.5h1M251 567.5h1M254 568.5h1M258 570.5h1M261 571.5h1M264 573.5h1M267 575.5h1M270 576.5h1M274 578.5h1M277 579.5h1M280 581.5h1M283 582.5h1M286 584.5h1M289 585.5h1M293 587.5h1M296 589.5h1M299 590.5h1M302 592.5h1M305 593.5h1M308 595.5h1M312 596.5h1M315 598.5h1M318 600.5h1M321 601.5h1M324 603.5h1M328 604.5h1M331 606.5h1M334 607.5h1M337 609.5h1M340 610.5h1M343 612.5h1M347 614.5h1M350 615.5h1" stroke="#000" stroke-width="1" fill="none"/>
<g shape-rendering="crispEdges"><path class="sc39" d="M236.4 636.6l6.4-.4-3.7-1.6-6.4.8z"/><path class="sc39" d="M229.9 637l6.5-.4-3.7-1.2-6.5.8z"/><path class="sc39" d="M240.1 637.8l6.4 0-3.7-1.6-6.4.4z"/><path class="sc39" d="M223.5 637.7l6.4-.7-3.7-.8-6.4.9z"/><path class="sc39" d="M233.6 638l6.5-.2-3.7-1.2-6.5.4z"/><path class="sc39" d="M217.1 638.6l6.4-.9-3.7-.6-6.4 1z"/><path class="sc39" d="M243.8 639.3l6.4.1-3.7-1.6-6.4 0z"/><path class="c39" d="M229 638.3l4.6-.3-3.7-1-6.4.7 3.2.6z"/><path class="c40" d="M227.2 638.5l1.8-.2-2.3 0z"/><path class="m" d="M227.2 638.5l6.4-.5-3.7-1-6.4.7z"/><path class="sc39" d="M210.6 639.9l6.5-1.3-3.7-.5-6.5 1.1z"/><path class="c39" d="M238.3 639.2l5.5.1-3.7-1.5-6.5.2 2.7.9z"/><path class="c40" d="M237.3 639.2l1 0-2-.3z"/><path class="m" d="M237.3 639.2l6.5.1-3.7-1.5-6.5.2z"/><path class="c39" d="M226.7 638.3l-3.2-.6-6.4.9 2.7.6z"/><path class="c40" d="M220.8 639.4l6.4-.9-.5-.2-6.9.9z"/><path class="m" d="M220.8 639.4l6.4-.9-3.7-.8-6.4.9z"/><path class="sc39" d="M204.2 641.6l6.4-1.7-3.7-.7-6.4 1.3z"/><path class="sc39" d="M247.5 641l6.4.2-3.7-1.8-6.4-.1z"/><path class="c39" d="M236.3 638.9l-2.7-.9-4.6.3z"/><path class="c40" d="M230.9 639.6l6.4-.4-1-.3-7.3-.6-1.8.2z"/><path class="m" d="M230.9 639.6l6.4-.4-3.7-1.2-6.4.5z"/><path class="c39" d="M214.3 640.8l1.9-.4 3.6-1.2-2.7-.6-6.5 1.3z"/><path class="c40" d="M216.2 640.4l4.6-1-1-.2z"/><path class="m" d="M214.3 640.8l6.5-1.4-3.7-.8-6.5 1.3z"/><path class="sc39" d="M197.8 643.7l6.4-2.1-3.7-1.1-6.5 1.5z"/><path class="c39" d="M242.7 640.9l4.8.1-3.7-1.7-5.5-.1z"/><path class="c40" d="M241.1 640.9l1.6 0-4.4-1.7-1 0z"/><path class="m" d="M241.1 640.9l6.4.1-3.7-1.7-6.5-.1z"/><path class="sc40" d="M224.5 640.5l6.4-.9-3.7-1.1-6.4.9z"/><path class="sc39" d="M207.9 642.8l6.4-2-3.7-.9-6.4 1.7z"/><path class="sc39" d="M251.2 643.1l6.4.1-3.7-2-6.4-.2z"/><path class="sc39" d="M191.3 646.1l6.5-2.4-3.8-1.7-6.4 1.6z"/><path class="sc40" d="M234.6 641.2l6.5-.3-3.8-1.7-6.4.4z"/><path class="c39" d="M216.2 640.4l-1.9.4.7.2z"/><path class="c40" d="M218 642l6.5-1.5-3.7-1.1-4.6 1-1.2.6z"/><path class="m" d="M218 642l6.5-1.5-3.7-1.1-6.5 1.4z"/><path class="sc39" d="M201.5 645.4l6.4-2.6-3.7-1.2-6.4 2.1z"/><path class="c39" d="M244.8 643.2l6.4-.1-3.7-2.1-4.8-.1 1 1.6z"/><path class="c40" d="M242.7 640.9l-1.6 0 2.6 1.6z"/><path class="m" d="M244.8 643.2l6.4-.1-3.7-2.1-6.4-.1z"/><path class="c41" d="M184.9 648.8l1.7-.7-2.7-.2z"/><path class="c39" d="M186.6 648.1l4.7-2-3.7-2.5-6.4 1.7 2.7 2.6z"/><path class="m" d="M184.9 648.8l6.4-2.7-3.7-2.5-6.4 1.7z"/><path class="sc40" d="M228.2 642.1l6.4-.9-3.7-1.6-6.4.9z"/><path class="c39" d="M211.6 644.2l3.7-1.3-.3-1.9-.7-.2-6.4 2z"/><path class="c40" d="M215.3 642.9l2.7-.9-3-1z"/><path class="m" d="M211.6 644.2l6.4-2.2-3.7-1.2-6.4 2z"/><path class="sc39" d="M254.9 645.6l6.4-.3-3.7-2.1-6.4-.1z"/><path class="sc39" d="M195 648.6l6.5-3.2-3.7-1.7-6.5 2.4z"/><path class="c39" d="M243.5 643.2l1.3 0-1.1-.7z"/><path class="c40" d="M238.3 643.6l5.2-.4.2-.7-2.6-1.6-6.5.3z"/><path class="m" d="M238.3 643.6l6.5-.4-3.7-2.3-6.5.3z"/><path class="c41" d="M178.4 651.5l6.5-2.7-1-.9-8.5 0z"/><path class="c39" d="M183.9 647.9l-2.7-2.6-6.5 1.7.7.9z"/><path class="m" d="M178.4 651.5l6.5-2.7-3.7-3.5-6.5 1.7z"/><path class="sc40" d="M221.7 643.7l6.5-1.6-3.7-1.6-6.5 1.5z"/><path class="sc39" d="M205.2 647.2l6.4-3-3.7-1.4-6.4 2.6z"/><path class="sc39" d="M248.5 646l6.4-.4-3.7-2.5-6.4.1z"/><path class="c41" d="M188.6 652l4.9-2.6-6.9-1.3-1.7.7z"/><path class="c39" d="M193.5 649.4l1.5-.8-3.7-2.5-4.7 2z"/><path class="m" d="M188.6 652l6.4-3.4-3.7-2.5-6.4 2.7z"/><path class="sc40" d="M231.9 644.5l6.4-.9-3.7-2.4-6.4.9z"/><path class="c41" d="M172 654.3l6.4-2.8-3-3.6-5.3.4-1.8.5z"/><path class="c39" d="M175.4 647.9l-.7-.9-4.6 1.3z"/><path class="m" d="M172 654.3l6.4-2.8-3.7-4.5-6.4 1.8z"/><path class="c39" d="M215.3 646l3.1-1.1-3.1-2-3.7 1.3z"/><path class="c40" d="M218.4 644.9l3.3-1.2-3.7-1.7-2.7.9z"/><path class="m" d="M215.3 646l6.4-2.3-3.7-1.7-6.4 2.2z"/><path class="sc39" d="M258.6 648.4l6.4-.9-3.7-2.2-6.4.3z"/><path class="sc39" d="M198.7 650.8l6.5-3.6-3.7-1.8-6.5 3.2z"/><path class="c39" d="M242 646.6l6.5-.6-3.7-2.8-1.3 0-3.6 1.6z"/><path class="c40" d="M243.5 643.2l-5.2.4 1.6 1.2z"/><path class="m" d="M242 646.6l6.5-.6-3.7-2.8-6.5.4z"/><path class="sc41" d="M182.1 655.7l6.5-3.7-3.7-3.2-6.5 2.7z"/><path class="sc40" d="M225.4 645.9l6.5-1.4-3.7-2.4-6.5 1.6z"/><path class="c42" d="M165.6 656.8l.1 0-.2 0z"/><path class="c41" d="M165.7 656.8l6.3-2.5-3.7-5.5-6.4 1.6 3.6 6.4z"/><path class="m" d="M165.6 656.8l6.4-2.5-3.7-5.5-6.4 1.6z"/><path class="sc39" d="M208.9 649l6.4-3-3.7-1.8-6.4 3z"/><path class="sc39" d="M252.2 649.4l6.4-1-3.7-2.8-6.4.4z"/><path class="c41" d="M192.3 654.8l6-3.8-4.8-1.6-4.9 2.6z"/><path class="c39" d="M198.3 651l.4-.2-3.7-2.2-1.5.8z"/><path class="m" d="M192.3 654.8l6.4-4-3.7-2.2-6.4 3.4z"/><path class="c39" d="M235.6 647.5l6.4-.9-2.1-1.8-6.1 1.3z"/><path class="c40" d="M239.9 644.8l-1.6-1.2-6.4.9 1.9 1.6z"/><path class="m" d="M235.6 647.5l6.4-.9-3.7-3-6.4.9z"/><path class="c42" d="M175.7 659.3l4.2-2.4-6.1-.3z"/><path class="c41" d="M179.9 656.9l2.2-1.2-3.7-4.2-6.4 2.8 1.8 2.3z"/><path class="m" d="M175.7 659.3l6.4-3.6-3.7-4.2-6.4 2.8z"/><path class="c39" d="M219 648.1l5.3-1.8-5.9-1.4-3.1 1.1z"/><path class="c40" d="M224.3 646.3l1.1-.4-3.7-2.2-3.3 1.2z"/><path class="m" d="M219 648.1l6.4-2.2-3.7-2.2-6.4 2.3z"/><path class="c42" d="M159.1 659.1l6.5-2.3-.1 0-7.2.6z"/><path class="c41" d="M165.5 656.8l-3.6-6.4-6.5 1.6 2.9 5.4z"/><path class="m" d="M159.1 659.1l6.5-2.3-3.7-6.4-6.5 1.6z"/><path class="sc39" d="M262.3 651.6l6.5-1.7-3.8-2.4-6.4.9z"/><path class="sc39" d="M202.4 652.7l6.5-3.7-3.7-1.8-6.5 3.6z"/><path class="sc39" d="M245.7 650.4l6.5-1-3.7-3.4-6.5.6z"/><path class="c42" d="M185.9 659l1.2-.8-2.8-.6z"/><path class="c41" d="M187.1 658.2l5.2-3.4-3.7-2.8-6.5 3.7 2.2 1.9z"/><path class="m" d="M185.9 659l6.4-4.2-3.7-2.8-6.5 3.7z"/><path class="c39" d="M229.2 648.9l6.4-1.4-1.8-1.4-7.7.4z"/><path class="c40" d="M233.8 646.1l-1.9-1.6-6.5 1.4.7.6z"/><path class="m" d="M229.2 648.9l6.4-1.4-3.7-3-6.5 1.4z"/><path class="c42" d="M169.3 662.6l6.4-3.3-1.9-2.7-8.1.2-.1 0z"/><path class="c41" d="M173.8 656.6l-1.8-2.3-6.3 2.5z"/><path class="m" d="M169.3 662.6l6.4-3.3-3.7-5-6.4 2.5z"/><path class="sc39" d="M212.6 650.9l6.4-2.8-3.7-2.1-6.4 3z"/><path class="c42" d="M152.7 660.9l6.4-1.8-.8-1.7-6.9.8z"/><path class="c41" d="M158.3 657.4l-2.9-5.4-6.4 1.3 2.4 4.9z"/><path class="m" d="M152.7 660.9l6.4-1.8-3.7-7.1-6.4 1.3z"/><path class="sc39" d="M255.9 653.3l6.4-1.7-3.7-3.2-6.4 1z"/><path class="c41" d="M196 656.8l6.2-4-3.9-1.8-6 3.8z"/><path class="c39" d="M202.2 652.8l.2-.1-3.7-1.9-.4.2z"/><path class="m" d="M196 656.8l6.4-4.1-3.7-1.9-6.4 4z"/><path class="sc39" d="M239.3 651.4l6.4-1-3.7-3.8-6.4.9z"/><path class="c42" d="M179.4 663.2l6.5-4.2-1.6-1.4-4.4-.7-4.2 2.4z"/><path class="c41" d="M184.3 657.6l-2.2-1.9-2.2 1.2z"/><path class="m" d="M179.4 663.2l6.5-4.2-3.8-3.3-6.4 3.6z"/><path class="c39" d="M222.7 650.6l6.5-1.7-3.1-2.4-1.8-.2-5.3 1.8z"/><path class="c40" d="M226.1 646.5l-.7-.6-1.1.4z"/><path class="m" d="M222.7 650.6l6.5-1.7-3.8-3-6.4 2.2z"/><path class="c43" d="M162.8 665.4l1.5-.6-1.8.1z"/><path class="c42" d="M164.3 664.8l5-2.2-3.7-5.8-6.5 2.3 3.4 5.8z"/><path class="m" d="M162.8 665.4l6.5-2.8-3.7-5.8-6.5 2.3z"/><path class="c41" d="M266 655.1l1.7-.7-2.7-.2z"/><path class="c39" d="M267.7 654.4l4.8-2-3.7-2.5-6.5 1.7 2.7 2.6z"/><path class="m" d="M266 655.1l6.5-2.7-3.7-2.5-6.5 1.7z"/><path class="sc39" d="M206.1 654.2l6.5-3.3-3.7-1.9-6.5 3.7z"/><path class="c42" d="M146.3 662.2l6.4-1.3-1.3-2.7-6.6 1z"/><path class="c41" d="M151.4 658.2l-2.4-4.9-6.4 1.2 2.2 4.7z"/><path class="m" d="M146.3 662.2l6.4-1.3-3.7-7.6-6.4 1.2z"/><path class="sc39" d="M249.4 654.7l6.5-1.4-3.7-3.9-6.5 1z"/><path class="c42" d="M189.6 661.2l1.9-1.3-4.4-1.7-1.2.8z"/><path class="c41" d="M191.5 659.9l4.5-3.1-3.7-2-5.2 3.4z"/><path class="m" d="M189.6 661.2l6.4-4.4-3.7-2-6.4 4.2z"/><path class="sc39" d="M232.9 652.5l6.4-1.1-3.7-3.9-6.4 1.4z"/><path class="c43" d="M173 667l2.7-1.6-4.4-.4z"/><path class="c42" d="M175.7 665.4l3.7-2.2-3.7-3.9-6.4 3.3 2 2.4z"/><path class="m" d="M173 667l6.4-3.8-3.7-3.9-6.4 3.3z"/><path class="sc39" d="M216.3 652.8l6.4-2.2-3.7-2.5-6.4 2.8z"/><path class="c43" d="M156.4 667.6l6.4-2.2-.3-.5-7.3.6z"/><path class="c42" d="M162.5 664.9l-3.4-5.8-6.4 1.8 2.5 4.6z"/><path class="m" d="M156.4 667.6l6.4-2.2-3.7-6.3-6.4 1.8z"/><path class="c41" d="M259.6 657.6l6.4-2.5-1-.9-8.2.1z"/><path class="c39" d="M265 654.2l-2.7-2.6-6.4 1.7.9 1z"/><path class="m" d="M259.6 657.6l6.4-2.5-3.7-3.5-6.4 1.7z"/><path class="c41" d="M199.7 658l5.5-3.3-3-1.9-6.2 4z"/><path class="c39" d="M205.2 654.7l.9-.5-3.7-1.5-.2.1z"/><path class="m" d="M199.7 658l6.4-3.8-3.7-1.5-6.4 4.1z"/><path class="c42" d="M139.8 662.9l6.5-.7-1.5-3-6.3 1.1z"/><path class="c41" d="M144.8 659.2l-2.2-4.7-6.5.9 2.4 4.9z"/><path class="m" d="M139.8 662.9l6.5-.7-3.7-7.7-6.5.9z"/><path class="sc39" d="M243 655.8l6.4-1.1-3.7-4.3-6.4 1z"/><path class="sc42" d="M183.1 665.5l6.5-4.3-3.7-2.2-6.5 4.2z"/><path class="sc39" d="M226.4 653.6l6.5-1.1-3.7-3.6-6.5 1.7z"/><path class="c43" d="M166.5 670.2l6.5-3.2-1.7-2-7-.2-1.5.6z"/><path class="c42" d="M171.3 665l-2-2.4-5 2.2z"/><path class="m" d="M166.5 670.2l6.5-3.2-3.7-4.4-6.5 2.8z"/><path class="c41" d="M269.7 658.6l5.2-2.9-7.2-1.3-1.7.7z"/><path class="c39" d="M274.9 655.7l1.3-.8-3.7-2.5-4.8 2z"/><path class="m" d="M269.7 658.6l6.5-3.7-3.7-2.5-6.5 2.7z"/><path class="sc39" d="M209.8 655.3l6.5-2.5-3.7-1.9-6.5 3.3z"/><path class="c43" d="M150 669.1l6.4-1.5-1.2-2.1-6.7.9z"/><path class="c42" d="M155.2 665.5l-2.5-4.6-6.4 1.3 2.2 4.2z"/><path class="m" d="M150 669.1l6.4-1.5-3.7-6.7-6.4 1.3z"/><path class="c41" d="M253.2 659.5l6.4-1.9-2.8-3.3-7.1.7z"/><path class="c39" d="M256.8 654.3l-.9-1-6.5 1.4.3.3z"/><path class="m" d="M253.2 659.5l6.4-1.9-3.7-4.3-6.5 1.4z"/><path class="c42" d="M191.5 659.9l-1.9 1.3 3.3.6z"/><path class="c41" d="M193.3 661.9l6.4-3.9-3.7-1.2-4.5 3.1 1.4 1.9z"/><path class="m" d="M193.3 661.9l6.4-3.9-3.7-1.2-6.4 4.4z"/><path class="c42" d="M133.4 663.2l6.4-.3-1.3-2.6-6 1.2z"/><path class="c41" d="M138.5 660.3l-2.4-4.9-6.4.7 2.8 5.4z"/><path class="m" d="M133.4 663.2l6.4-.3-3.7-7.5-6.4.7z"/><path class="sc39" d="M236.6 656.6l6.4-.8-3.7-4.4-6.4 1.1z"/><path class="c43" d="M176.7 669.4l4-2.4-5-1.6-2.7 1.6z"/><path class="c42" d="M180.7 667l2.4-1.5-3.7-2.3-3.7 2.2z"/><path class="m" d="M176.7 669.4l6.4-3.9-3.7-2.3-6.4 3.8z"/><path class="sc39" d="M220 654.8l6.4-1.2-3.7-3-6.4 2.2z"/><path class="sc43" d="M160.1 672.7l6.4-2.5-3.7-4.8-6.4 2.2z"/><path class="sc41" d="M263.3 662l6.4-3.4-3.7-3.5-6.4 2.5z"/><path class="c41" d="M203.4 658.1l2.5-1-.7-2.4-5.5 3.3z"/><path class="c39" d="M205.9 657.1l3.9-1.8-3.7-1.1-.9.5z"/><path class="m" d="M203.4 658.1l6.4-2.8-3.7-1.1-6.4 3.8z"/><path class="c43" d="M143.5 669.7l6.5-.6-1.5-2.7-6.2 1.1z"/><path class="c42" d="M148.5 666.4l-2.2-4.2-6.5.7 2.5 4.6z"/><path class="m" d="M143.5 669.7l6.5-.6-3.7-6.9-6.5.7z"/><path class="c41" d="M246.7 660.8l6.5-1.3-3.5-4.5-6.6 1z"/><path class="c39" d="M249.7 655l-.3-.3-6.4 1.1.1.2z"/><path class="m" d="M246.7 660.8l6.5-1.3-3.8-4.8-6.4 1.1z"/><path class="c42" d="M186.8 665.8l6.2-3.7-.1-.3-3.3-.6-6.5 4.3z"/><path class="c41" d="M193 662.1l.3-.2-.4-.1z"/><path class="m" d="M186.8 665.8l6.5-3.9-3.7-.7-6.5 4.3z"/><path class="c42" d="M126.9 663l6.5.2-.9-1.7-5.6 1.5z"/><path class="c41" d="M132.5 661.5l-2.8-5.4-6.5.5 3.7 6.4z"/><path class="m" d="M126.9 663l6.5.2-3.7-7.1-6.5.5z"/><path class="sc39" d="M230.1 656.9l6.5-.3-3.7-4.1-6.5 1.1z"/><path class="sc43" d="M170.2 672.8l6.5-3.4-3.7-2.4-6.5 3.2z"/><path class="c41" d="M273.4 662.2l6.5-4.7-1.1-.7-3.9-1.1-5.2 2.9z"/><path class="c39" d="M278.8 656.8l-2.6-1.9-1.3.8z"/><path class="m" d="M273.4 662.2l6.5-4.7-3.7-2.6-6.5 3.7z"/><path class="sc39" d="M213.6 656.1l6.4-1.3-3.7-2-6.5 2.5z"/><path class="sc43" d="M153.7 674.2l6.4-1.5-3.7-5.1-6.4 1.5z"/><path class="c42" d="M256.9 664.5l2.6-1-3.4.1z"/><path class="c41" d="M259.5 663.5l3.8-1.5-3.7-4.4-6.4 1.9 2.9 4.1z"/><path class="m" d="M256.9 664.5l6.4-2.5-3.7-4.4-6.4 1.9z"/><path class="sc41" d="M197 661.1l6.4-3-3.7-.1-6.4 3.9z"/><path class="c43" d="M137.1 669.6l6.4.1-1.2-2.2-5.5 1.5z"/><path class="c42" d="M142.3 667.5l-2.5-4.6-6.4.3 3.4 5.8z"/><path class="m" d="M137.1 669.6l6.4.1-3.7-6.8-6.4.3z"/><path class="c41" d="M240.3 661.1l6.4-.3-3.6-4.8-6 1.2z"/><path class="c39" d="M243.1 656l-.1-.2-6.4.8.5.6z"/><path class="m" d="M240.3 661.1l6.4-.3-3.7-5-6.4.8z"/><path class="c43" d="M180.7 667l-4 2.4 3.6 0z"/><path class="c42" d="M180.4 669.4l6.4-3.6-3.7-.3-2.4 1.5-.4 2.4z"/><path class="m" d="M180.4 669.4l6.4-3.6-3.7-.3-6.4 3.9z"/><path class="c42" d="M126.9 663l0 0 0 0z"/><path class="c41" d="M120.5 662.5l6.4.5 0 0-3.7-6.4-6.4.4z"/><path class="m" d="M120.5 662.5l6.4.5-3.7-6.4-6.4.4z"/><path class="sc39" d="M223.7 656.8l6.4.1-3.7-3.3-6.4 1.2z"/><path class="sc43" d="M163.8 675.1l6.4-2.3-3.7-2.6-6.4 2.5z"/><path class="c42" d="M267 666.4l3.4-2.2-5.8-.7z"/><path class="c41" d="M270.4 664.2l3-2-3.7-3.6-6.4 3.4 1.3 1.5z"/><path class="m" d="M267 666.4l6.4-4.2-3.7-3.6-6.4 3.4z"/><path class="c41" d="M205.9 657.1l-2.5 1 1-.2z"/><path class="c39" d="M207.1 657.4l6.5-1.3-3.8-.8-3.9 1.8-1.5.8z"/><path class="m" d="M207.1 657.4l6.5-1.3-3.8-.8-6.4 2.8z"/><path class="sc43" d="M147.2 674.8l6.5-.6-3.7-5.1-6.5.6z"/><path class="c42" d="M250.4 665.9l6.5-1.4-.8-.9-6.8.8z"/><path class="c41" d="M256.1 663.6l-2.9-4.1-6.5 1.3 2.6 3.6z"/><path class="m" d="M250.4 665.9l6.5-1.4-3.7-5-6.5 1.3z"/><path class="c42" d="M193 662.1l-6.2 3.7 2.8-1.4z"/><path class="c41" d="M190.5 664l6.5-2.9-3.7.8-.3.2-3.4 2.3z"/><path class="m" d="M190.5 664l6.5-2.9-3.7.8-6.5 3.9z"/><path class="c43" d="M135.6 669.4l1.5.2-.3-.6z"/><path class="c42" d="M130.7 668.8l4.9.6 1.2-.4-3.4-5.8-6.5-.2z"/><path class="m" d="M130.7 668.8l6.4.8-3.7-6.4-6.5-.2z"/><path class="c41" d="M233.8 660.5l6.5.6-3.2-3.9-4.7 1.9z"/><path class="c39" d="M237.1 657.2l-.5-.6-6.5.3 2.3 2.2z"/><path class="m" d="M233.8 660.5l6.5.6-3.7-4.5-6.5.3z"/><path class="c43" d="M174 672.4l6.2-2.9.1-.1-3.6 0-6.5 3.4z"/><path class="c42" d="M180.2 669.5l.2-.1-.1 0z"/><path class="m" d="M174 672.4l6.4-3-3.7 0-6.5 3.4z"/><path class="c42" d="M277.1 665.5l.1 0-.1 0z"/><path class="c41" d="M277.2 665.5l6.4-5.6-3.7-2.4-6.5 4.7 3.7 3.3z"/><path class="m" d="M277.1 665.5l6.5-5.6-3.7-2.4-6.5 4.7z"/><path class="c41" d="M114.1 661.9l6.4.6-3.7-5.5-1.8.1-3.9 1.1z"/><path class="c39" d="M115 657.1l-4.6.3.7.8z"/><path class="m" d="M114.1 661.9l6.4.6-3.7-5.5-6.4.4z"/><path class="sc39" d="M217.3 656.4l6.4.4-3.7-2-6.4 1.3z"/><path class="sc43" d="M157.4 676.1l6.4-1-3.7-2.4-6.4 1.5z"/><path class="c42" d="M260.6 669.5l6.4-3.1-2.4-2.9-5.1 0-2.6 1z"/><path class="c41" d="M264.6 663.5l-1.3-1.5-3.8 1.5z"/><path class="m" d="M260.6 669.5l6.4-3.1-3.7-4.4-6.4 2.5z"/><path class="c41" d="M204.4 657.9l-1 .2-6.4 3 2.2-1.5z"/><path class="c39" d="M200.7 658.7l6.4-1.3-2.7.5-5.2 1.7z"/><path class="m" d="M200.7 658.7l6.4-1.3-3.7.7-6.4 3z"/><path class="sc43" d="M140.8 674.4l6.4.4-3.7-5.1-6.4-.1z"/><path class="c42" d="M244.7 665.9l5.7 0-1.1-1.5z"/><path class="c41" d="M244 665.9l.7 0 4.6-1.5-2.6-3.6-6.4.3z"/><path class="m" d="M244 665.9l6.4 0-3.7-5.1-6.4.3z"/><path class="c42" d="M184.1 666.6l2.8-1.1 2.7-1.1-2.8 1.4-6.4 3.6z"/><path class="c41" d="M186.9 665.5l3.6-1.5-.9.4z"/><path class="m" d="M184.1 666.6l6.4-2.6-3.7 1.8-6.4 3.6z"/><path class="c42" d="M124.2 667.5l6.5 1.3-3.8-5.8 0 0-4.6 1.9z"/><path class="c41" d="M126.9 663l-6.4-.5 1.8 2.4z"/><path class="m" d="M124.2 667.5l6.5 1.3-3.8-5.8-6.4-.5z"/><path class="c41" d="M232.2 660.1l1.6.4-1.4-1.4z"/><path class="c39" d="M227.4 658.9l4.8 1.2.2-1-2.3-2.2-6.4-.1z"/><path class="m" d="M227.4 658.9l6.4 1.6-3.7-3.6-6.4-.1z"/><path class="sc43" d="M167.5 674.8l6.5-2.4-3.8.4-6.4 2.3z"/><path class="c42" d="M270.7 670.5l6.4-5 0 0-6.7-1.3-3.4 2.2z"/><path class="c41" d="M277.1 665.5l-3.7-3.3-3 2z"/><path class="m" d="M270.7 670.5l6.4-5-3.7-3.3-6.4 4.2z"/><path class="c41" d="M107.6 661.2l6.5.7-3-3.7-4.4 2.1z"/><path class="c39" d="M111.1 658.2l-.7-.8-6.5.3 2.8 2.6z"/><path class="m" d="M107.6 661.2l6.5.7-3.7-4.5-6.5.3z"/><path class="c39" d="M210.9 655.7l6.4.7-3.7-.3-6.5 1.3 3.7-1.7z"/><path class="c40" d="M210.8 655.7l.1 0-.1 0z"/><path class="m" d="M210.8 655.7l6.5.7-3.7-.3-6.5 1.3z"/><path class="sc43" d="M150.9 677.1l6.5-1-3.7-1.9-6.5.6z"/><path class="sc42" d="M254.1 671l6.5-1.5-3.7-5-6.5 1.4z"/><path class="c41" d="M199.2 659.6l-2.2 1.5-6.5 2.9 2.9-3.1z"/><path class="c39" d="M194.2 660l6.5-1.3-1.5.9-5.8 1.3z"/><path class="m" d="M194.2 660l6.5-1.3-3.7 2.4-6.5 2.9z"/><path class="c43" d="M134.4 673.2l6.4 1.2-3.7-4.8-1.5-.2-2.9 1.8z"/><path class="c42" d="M135.6 669.4l-4.9-.6 2 2.4z"/><path class="m" d="M134.4 673.2l6.4 1.2-3.7-4.8-6.4-.8z"/><path class="sc41" d="M237.5 664.2l6.5 1.7-3.7-4.8-6.5-.6z"/><path class="c43" d="M180.2 669.5l-6.2 2.9 1.3-1.2z"/><path class="c42" d="M177.7 669l6.4-2.4-3.7 2.8-.2.1-4.9 1.7z"/><path class="m" d="M177.7 669l6.4-2.4-3.7 2.8-6.4 3z"/><path class="c42" d="M280.8 668.5l1.5-1.4-5.1-1.6-.1 0z"/><path class="c41" d="M282.3 667.1l5-4.9-3.7-2.3-6.4 5.6z"/><path class="m" d="M280.8 668.5l6.5-6.3-3.7-2.3-6.5 5.6z"/><path class="c42" d="M120 666.5l4.2 1-1.9-2.6z"/><path class="c41" d="M117.8 666l2.2.5 2.3-1.6-1.8-2.4-6.4-.6z"/><path class="m" d="M117.8 666l6.4 1.5-3.7-5-6.4-.6z"/><path class="c39" d="M221 656.5l6.4 2.4-3.7-2.1-6.4-.4 3.6.1z"/><path class="c40" d="M221 656.5l0 0-.1 0z"/><path class="m" d="M221 656.5l6.4 2.4-3.7-2.1-6.4-.4z"/><path class="sc43" d="M161.1 676.2l6.4-1.4-3.7.3-6.4 1z"/><path class="c43" d="M264.3 674.1l2.9-1.7-4.5-.3z"/><path class="c42" d="M267.2 672.4l3.5-1.9-3.7-4.1-6.4 3.1 2.1 2.6z"/><path class="m" d="M264.3 674.1l6.4-3.6-3.7-4.1-6.4 3.1z"/><path class="c41" d="M105.9 661l1.7.2-.9-.9z"/><path class="c39" d="M101.2 660.6l4.7.4.8-.7-2.8-2.6-6.4.4z"/><path class="m" d="M101.2 660.6l6.4.6-3.7-3.5-6.4.4z"/><path class="c39" d="M210.8 655.7l-3.7 1.7-6.4 1.3 2.5-2.5z"/><path class="c40" d="M204.4 654.9l6.4.8 0 0-7.6.5z"/><path class="m" d="M204.4 654.9l6.4.8-3.7 1.7-6.4 1.3z"/><path class="sc43" d="M144.5 676.9l6.4.2-3.7-2.3-6.4-.4z"/><path class="c42" d="M247.7 670.5l6.4.5-3.7-5.1-5.7 0-.6.2z"/><path class="c41" d="M244.7 665.9l-.7 0 .1.2z"/><path class="m" d="M247.7 670.5l6.4.5-3.7-5.1-6.4 0z"/><path class="c42" d="M186.9 665.5l-2.8 1.1.4-.5z"/><path class="c41" d="M193.4 660.9l-2.9 3.1-3.6 1.5-2.4.6 2.7-4z"/><path class="c39" d="M187.8 661.3l6.4-1.3-.8.9-6.2 1.2z"/><path class="m" d="M187.8 661.3l6.4-1.3-3.7 4-6.4 2.6z"/><path class="c43" d="M131.6 672.5l2.8.7-1.7-2z"/><path class="c42" d="M127.9 671.4l3.7 1.1 1.1-1.3-2-2.4-6.5-1.3z"/><path class="m" d="M127.9 671.4l6.5 1.8-3.7-4.4-6.5-1.3z"/><path class="c41" d="M233.6 662.3l3.9 1.9-3.7-3.7-1.6-.4z"/><path class="c39" d="M231.1 661l2.5 1.3-1.4-2.2-4.8-1.2z"/><path class="m" d="M231.1 661l6.4 3.2-3.7-3.7-6.4-1.6z"/><path class="c43" d="M175.3 671.2l-1.3 1.2-6.5 2.4 2.1-2.2z"/><path class="c42" d="M171.2 670.9l6.5-1.9-2.4 2.2-5.7 1.4z"/><path class="m" d="M171.2 670.9l6.5-1.9-3.7 3.4-6.5 2.4z"/><path class="c43" d="M274.4 674.1l.6-.5-1.4-.3z"/><path class="c42" d="M275 673.6l5.8-5.1-3.7-3-6.4 5 2.9 2.8z"/><path class="m" d="M274.4 674.1l6.4-5.6-3.7-3-6.4 5z"/><path class="sc41" d="M111.3 664.4l6.5 1.6-3.7-4.1-6.5-.7z"/><path class="c39" d="M220.9 656.5l-3.6-.1-6.4-.7z"/><path class="c40" d="M214.5 653.5l6.5 3-.1 0-10-.8-.1 0z"/><path class="m" d="M214.5 653.5l6.5 3-3.7-.1-6.5-.7z"/><path class="sc43" d="M154.6 676.8l6.5-.6-3.7-.1-6.5 1z"/><path class="c43" d="M257.8 675.8l6.5-1.7-1.6-2-7.2.7z"/><path class="c42" d="M262.7 672.1l-2.1-2.6-6.5 1.5 1.4 1.8z"/><path class="m" d="M257.8 675.8l6.5-1.7-3.7-4.6-6.5 1.5z"/><path class="sc39" d="M94.8 660.2l6.4.4-3.7-2.5-6.4.4z"/><path class="c39" d="M203.2 656.2l-2.5 2.5-6.5 1.3 2-3.1z"/><path class="c40" d="M198 654.2l6.4.7-1.2 1.3-7 .7z"/><path class="m" d="M198 654.2l6.4.7-3.7 3.8-6.5 1.3z"/><path class="sc43" d="M138.1 675.6l6.4 1.3-3.7-2.5-6.4-1.2z"/><path class="c42" d="M242.9 668.6l4.8 1.9-3.6-4.4z"/><path class="c41" d="M241.3 667.9l1.6.7 1.2-2.5-.1-.2-6.5-1.7z"/><path class="m" d="M241.3 667.9l6.4 2.6-3.7-4.6-6.5-1.7z"/><path class="c42" d="M184.5 666.1l-.4.5-6.4 2.4.9-1.6z"/><path class="c41" d="M187.2 662.1l-2.7 4-5.9 1.3 2.4-4.2z"/><path class="c39" d="M181.4 662.5l6.4-1.2-.6.8-6.2 1.1z"/><path class="m" d="M181.4 662.5l6.4-1.2-3.7 5.3-6.4 2.4z"/><path class="c42" d="M284.6 671.1l2.2-2.3-4.5-1.7-1.5 1.4z"/><path class="c41" d="M286.8 668.8l4.2-4.4-3.7-2.2-5 4.9z"/><path class="m" d="M284.6 671.1l6.4-6.7-3.7-2.2-6.5 6.3z"/><path class="c42" d="M121.5 669.3l6.4 2.1-3.7-3.9-4.2-1 0 1.5z"/><path class="c41" d="M120 666.5l-2.2-.5 2.2 2z"/><path class="m" d="M121.5 669.3l6.4 2.1-3.7-3.9-6.4-1.5z"/><path class="c39" d="M226.8 658l4.3 3-3.7-2.1-6.4-2.4z"/><path class="c40" d="M224.7 656.5l2.1 1.5-5.8-1.5 0 0z"/><path class="m" d="M224.7 656.5l6.4 4.5-3.7-2.1-6.4-2.4z"/><path class="c43" d="M169.6 672.6l-2.1 2.2-6.4 1.4 2.3-2.5z"/><path class="c42" d="M164.8 672.2l6.4-1.3-1.6 1.7-6.2 1.1z"/><path class="m" d="M164.8 672.2l6.4-1.3-3.7 3.9-6.4 1.4z"/><path class="c43" d="M268 678.1l6.4-4-.8-.8-6.4-.9-2.9 1.7z"/><path class="c42" d="M273.6 673.3l-2.9-2.8-3.5 1.9z"/><path class="m" d="M268 678.1l6.4-4-3.7-3.6-6.4 3.6z"/><path class="c41" d="M106.4 663.4l4.9 1-3.7-3.2-1.7-.2z"/><path class="c39" d="M104.9 663l1.5.4-.5-2.4-4.7-.4z"/><path class="m" d="M104.9 663l6.4 1.4-3.7-3.2-6.4-.6z"/><path class="c40" d="M212.6 652.5l1.9 1-3.7 2.2-6.4-.8 2-2.5z"/><path class="c44" d="M208.1 650.2l4.5 2.3-6.2-.1z"/><path class="m" d="M208.1 650.2l6.4 3.3-3.7 2.2-6.4-.8z"/><path class="sc43" d="M148.2 676.6l6.4.2-3.7.3-6.4-.2z"/><path class="c43" d="M251.6 674.9l6.2.9-2.3-3z"/><path class="c42" d="M251.4 674.9l.2 0 3.9-2.1-1.4-1.8-6.4-.5z"/><path class="m" d="M251.4 674.9l6.4.9-3.7-4.8-6.4-.5z"/><path class="sc39" d="M88.3 660.2l6.5 0-3.7-1.7-6.5.6z"/><path class="c39" d="M196.2 656.9l-2 3.1-6.4 1.3 1.7-3.5z"/><path class="c40" d="M191.5 653.6l6.5.6-1.8 2.7-6.7.9z"/><path class="m" d="M191.5 653.6l6.5.6-3.8 5.8-6.4 1.3z"/><path class="c43" d="M134.1 674.5l4 1.1-3.7-2.4-2.8-.7z"/><path class="c42" d="M131.6 673.7l2.5.8-2.5-2-3.7-1.1z"/><path class="m" d="M131.6 673.7l6.5 1.9-3.7-2.4-6.5-1.8z"/><path class="c41" d="M236.3 664.3l5 3.6-3.8-3.7-3.9-1.9z"/><path class="c39" d="M234.8 663.1l1.5 1.2-2.7-2-2.5-1.3z"/><path class="m" d="M234.8 663.1l6.5 4.8-3.8-3.7-6.4-3.2z"/><path class="c42" d="M178.6 667.4l-.9 1.6-6.5 1.9 1.2-2.3z"/><path class="c41" d="M181 663.2l-2.4 4.2-6.2 1.2 2.2-4.3z"/><path class="c39" d="M174.9 663.6l6.5-1.1-.4.7-6.4 1.1z"/><path class="m" d="M174.9 663.6l6.5-1.1-3.7 6.5-6.5 1.9z"/><path class="c43" d="M278.1 677.1l2.1-1.9-5.2-1.6-.6.5z"/><path class="c42" d="M280.2 675.2l4.4-4.1-3.8-2.6-5.8 5.1z"/><path class="m" d="M278.1 677.1l6.5-6-3.8-2.6-6.4 5.6z"/><path class="c42" d="M120.2 668.9l1.3.4-1.5-1.3z"/><path class="c41" d="M115 667.2l5.2 1.7-.2-.9-2.2-2-6.5-1.6z"/><path class="m" d="M115 667.2l6.5 2.1-3.7-3.3-6.5-1.6z"/><path class="c40" d="M221.2 653.6l3.5 2.9-3.7 0-6.5-3 1.1-.7z"/><path class="c44" d="M218.2 651l3 2.6-5.6-.8z"/><path class="m" d="M218.2 651l6.5 5.5-3.7 0-6.5-3z"/><path class="c43" d="M163.4 673.7l-2.3 2.5-6.5.6 2.1-2.2z"/><path class="c42" d="M158.4 672.9l6.4-.7-1.4 1.5-6.7.9z"/><path class="m" d="M158.4 672.9l6.4-.7-3.7 4-6.5.6z"/><path class="sc43" d="M261.5 679.9l6.5-1.8-3.7-4-6.5 1.7z"/><path class="sc39" d="M98.5 662l6.4 1-3.7-2.4-6.4-.4z"/><path class="c40" d="M206.4 652.4l-2 2.5-6.4-.7.7-1.4z"/><path class="c44" d="M204.5 648.5l3.6 1.7-1.7 2.2-7.7.4 2.2-4.3z"/><path class="c45" d="M201.7 647l2.8 1.5-3.6 0z"/><path class="m" d="M201.7 647l6.4 3.2-3.7 4.7-6.4-.7z"/><path class="c43" d="M142 675.6l6.2 1-3.7.3-6.4-1.3 3.5 0z"/><path class="c42" d="M141.8 675.6l.2 0-.4 0z"/><path class="m" d="M141.8 675.6l6.4 1-3.7.3-6.4-1.3z"/><path class="c42" d="M245 671.4l6.4 3.5-3.7-4.4-4.8-1.9.4 1.3z"/><path class="c41" d="M242.9 668.6l-1.6-.7 2 2z"/><path class="m" d="M245 671.4l6.4 3.5-3.7-4.4-6.4-2.6z"/><path class="sc39" d="M81.9 660.6l6.4-.4-3.7-1.1-6.4.8z"/><path class="c39" d="M189.5 657.8l-1.7 3.5-6.4 1.2 1.5-3.7z"/><path class="c40" d="M191.1 653.6l.4 0-2 4.2-6.6 1 1.8-4.5z"/><path class="c44" d="M185.1 653.3l6 .3-6.4.7z"/><path class="m" d="M185.1 653.3l6.4.3-3.7 7.7-6.4 1.2z"/><path class="c42" d="M288.3 673.2l2.4-2.6-3.9-1.8-2.2 2.3z"/><path class="c41" d="M290.7 670.6l4-4.3-3.7-1.9-4.2 4.4z"/><path class="m" d="M288.3 673.2l6.4-6.9-3.7-1.9-6.4 6.7z"/><path class="sc42" d="M125.2 671.5l6.4 2.2-3.7-2.3-6.4-2.1z"/><path class="c39" d="M231.5 659.7l3.3 3.4-3.7-2.1-4.3-3z"/><path class="c40" d="M228.4 656.5l3.1 3.2-4.7-1.7-2.1-1.5z"/><path class="m" d="M228.4 656.5l6.4 6.6-3.7-2.1-6.4-4.5z"/><path class="c42" d="M172.4 668.6l-1.2 2.3-6.4 1.3 1.3-2.6z"/><path class="c41" d="M174.6 664.3l-2.2 4.3-6.3 1 2.1-4.3z"/><path class="c39" d="M168.5 664.7l6.4-1.1-.3.7-6.4 1z"/><path class="m" d="M168.5 664.7l6.4-1.1-3.7 7.3-6.4 1.3z"/><path class="sc43" d="M271.7 681.4l6.4-4.3-3.7-3-6.4 4z"/><path class="c41" d="M109 665.4l6 1.8-3.7-2.8-4.9-1z"/><path class="c39" d="M108.6 665.2l.4.2-2.6-2-1.5-.4z"/><path class="m" d="M108.6 665.2l6.4 2-3.7-2.8-6.4-1.4z"/><path class="c40" d="M215.6 652.8l-1.1.7-1.9-1z"/><path class="c44" d="M216.1 649l2.1 2-2.6 1.8-3-.3-4.5-2.3 1.2-1.7z"/><path class="c45" d="M211.8 645.1l4.3 3.9-6.8-.5z"/><path class="m" d="M211.8 645.1l6.4 5.9-3.7 2.5-6.4-3.3z"/><path class="c43" d="M156.7 674.6l-2.1 2.2-6.4-.2 1.4-1.3z"/><path class="c42" d="M151.9 673.1l6.5-.2-1.7 1.7-7.1.7z"/><path class="m" d="M151.9 673.1l6.5-.2-3.8 3.9-6.4-.2z"/><path class="c43" d="M255.1 678.8l6.4 1.1-3.7-4.1-6.2-.9-.1.1z"/><path class="c42" d="M251.6 674.9l-.2 0 .1.1z"/><path class="m" d="M255.1 678.8l6.4 1.1-3.7-4.1-6.4-.9z"/><path class="sc39" d="M92 661.4l6.5.6-3.7-1.8-6.5 0z"/><path class="c40" d="M198.7 652.8l-.7 1.4-6.5-.6 0-.1z"/><path class="c44" d="M200.9 648.5l-2.2 4.3-7.2.7 1.8-4.5z"/><path class="c45" d="M195.8 644.5l5.9 2.5-.8 1.5-7.6.5 1.8-4.5z"/><path class="c46" d="M195.2 644.2l.6.3-.7 0z"/><path class="m" d="M195.2 644.2l6.5 2.8-3.7 7.2-6.5-.6z"/><path class="c43" d="M141.6 675.6l-3.5 0-4-1.1z"/><path class="c42" d="M135.3 674.1l6.5 1.5-.2 0-7.5-1.1-2.5-.8z"/><path class="m" d="M135.3 674.1l6.5 1.5-3.7 0-6.5-1.9z"/><path class="c42" d="M244.3 670.8l.7.6-1.7-1.5z"/><path class="c41" d="M239.5 666.2l4.8 4.6-1-.9-2-2-5-3.6z"/><path class="c39" d="M238.5 665.2l1 1-3.2-1.9-1.5-1.2z"/><path class="m" d="M238.5 665.2l6.5 6.2-3.7-3.5-6.5-4.8z"/><path class="sc39" d="M75.5 661.4l6.4-.8-3.7-.7-6.5.9z"/><path class="c39" d="M182.9 658.8l-1.5 3.7-6.5 1.1 1.4-3.8z"/><path class="c40" d="M184.7 654.3l-1.8 4.5-6.6 1 1.7-4.6z"/><path class="c44" d="M178.6 653.6l6.5-.3-.4 1-6.7.9z"/><path class="m" d="M178.6 653.6l6.5-.3-3.7 9.2-6.5 1.1z"/><path class="c43" d="M281.8 679.3l2.5-2.3-4.1-1.8-2.1 1.9z"/><path class="c42" d="M284.3 677l4-3.8-3.7-2.1-4.4 4.1z"/><path class="m" d="M281.8 679.3l6.5-6.1-3.7-2.1-6.5 6z"/><path class="c42" d="M123.3 670.8l1.9.7-3.7-2.2-1.3-.4z"/><path class="c41" d="M118.8 669.2l4.5 1.6-3.1-1.9-5.2-1.7z"/><path class="m" d="M118.8 669.2l6.4 2.3-3.7-2.2-6.5-2.1z"/><path class="c40" d="M227.2 655l1.2 1.5-3.7 0-3.5-2.9z"/><path class="c44" d="M223.3 650.3l3.9 4.7-6-1.4-3-2.6 2.1-1.3z"/><path class="c45" d="M221.9 648.6l1.4 1.7-3-.6z"/><path class="m" d="M221.9 648.6l6.5 7.9-3.7 0-6.5-5.5z"/><path class="c42" d="M166.1 669.6l-1.3 2.6-6.4.7 1.1-2.3z"/><path class="c41" d="M168.2 665.3l-2.1 4.3-6.6 1 2.2-4.2z"/><path class="c39" d="M162.1 665.7l6.4-1-.3.6-6.5 1.1z"/><path class="m" d="M162.1 665.7l6.4-1-3.7 7.5-6.4.7z"/><path class="sc43" d="M265.2 683l6.5-1.6-3.7-3.3-6.5 1.8z"/><path class="sc39" d="M102.2 663.7l6.4 1.5-3.7-2.2-6.4-1z"/><path class="c44" d="M209.3 648.5l-1.2 1.7-3.6-1.7z"/><path class="c45" d="M211.1 644.5l.7.6-2.5 3.4-4.8 0-2.8-1.5 1.3-2.8z"/><path class="c46" d="M206.1 639.9l5 4.6-8.1-.3 2.1-4.3z"/><path class="c47" d="M205.4 639.2l.7.7-1 0z"/><path class="m" d="M205.4 639.2l6.4 5.9-3.7 5.1-6.4-3.2z"/><path class="c43" d="M149.6 675.3l-1.4 1.3-6.2-1z"/><path class="c42" d="M145.5 672.8l6.4.3-2.3 2.2-7.6.3-.2 0z"/><path class="m" d="M145.5 672.8l6.4.3-3.7 3.5-6.4-1z"/><path class="c43" d="M252.7 677.2l2.4 1.6-3.6-3.8z"/><path class="c42" d="M248.7 674.5l4 2.7-1.2-2.2-.1-.1-6.4-3.5z"/><path class="m" d="M248.7 674.5l6.4 4.3-3.7-3.9-6.4-3.5z"/><path class="sc39" d="M85.6 661.5l6.4-.1-3.7-1.2-6.4.4z"/><path class="c40" d="M191.5 653.5l0 .1-.4 0z"/><path class="c44" d="M193.3 649l-1.8 4.5-.4.1-6-.3 1.2-3.5z"/><path class="c45" d="M195.1 644.5l-1.8 4.5-7 .8 1.5-4.6z"/><path class="c46" d="M188.8 642.3l6.4 1.9-.1.3-7.3.7z"/><path class="m" d="M188.8 642.3l6.4 1.9-3.7 9.4-6.4-.3z"/><path class="c42" d="M292 674.8l2.2-2.4-3.5-1.8-2.4 2.6z"/><path class="c41" d="M294.2 672.4l4.2-4.4-3.7-1.7-4 4.3z"/><path class="m" d="M292 674.8l6.4-6.8-3.7-1.7-6.4 6.9z"/><path class="c42" d="M129.2 672.3l6.1 1.8-3.7-.4-6.4-2.2 3.3.7z"/><path class="c41" d="M128.9 672.2l.3.1-.7-.1z"/><path class="m" d="M128.9 672.2l6.4 1.9-3.7-.4-6.4-2.2z"/><path class="c39" d="M235.7 661.4l2.8 3.8-3.7-2.1-3.3-3.4z"/><path class="c40" d="M232.1 656.7l3.6 4.7-4.2-1.7-3.1-3.2z"/><path class="m" d="M232.1 656.7l6.4 8.5-3.7-2.1-6.4-6.6z"/><path class="sc39" d="M69 662.5l6.5-1.1-3.8-.6-6.4 1.1z"/><path class="c39" d="M176.3 659.8l-1.4 3.8-6.4 1.1 1.4-3.9z"/><path class="c40" d="M178 655.2l-1.7 4.6-6.4 1 1.6-4.6z"/><path class="c44" d="M172.2 654.3l6.4-.7-.6 1.6-6.5 1z"/><path class="m" d="M172.2 654.3l6.4-.7-3.7 10-6.4 1.1z"/><path class="sc43" d="M275.4 683.7l6.4-4.4-3.7-2.2-6.4 4.3z"/><path class="c41" d="M112.5 667.2l6.3 2-3.8-2-6-1.8z"/><path class="c39" d="M112.3 667.2l.2 0-3.5-1.8-.4-.2z"/><path class="m" d="M112.3 667.2l6.5 2-3.8-2-6.4-2z"/><path class="c44" d="M220.3 649.7l-2.1 1.3-2.1-2z"/><path class="c45" d="M219.6 645.5l2.3 3.1-1.6 1.1-4.2-.7-4.3-3.9.4-.6z"/><path class="c46" d="M216 640.7l3.6 4.8-7.4-1 2.9-3.9z"/><path class="c47" d="M215.5 640l.5.7-.9-.1z"/><path class="m" d="M215.5 640l6.4 8.6-3.7 2.4-6.4-5.9z"/><path class="c42" d="M159.5 670.6l-1.1 2.3-6.5.2.9-1.6z"/><path class="c41" d="M161.7 666.4l-2.2 4.2-6.7.9 2.4-4.2z"/><path class="c39" d="M155.6 666.6l6.5-.9-.4.7-6.5.9z"/><path class="m" d="M155.6 666.6l6.5-.9-3.7 7.2-6.5.2z"/><path class="sc43" d="M258.8 681.9l6.4 1.1-3.7-3.1-6.4-1.1z"/><path class="sc39" d="M95.7 662.8l6.5.9-3.7-1.7-6.5-.6z"/><path class="c45" d="M203 644.2l-1.3 2.8-5.9-2.5z"/><path class="c46" d="M205.1 639.9l-2.1 4.3-7.2.3-.6-.3 1.6-4.2z"/><path class="c47" d="M200.6 635.4l4.8 3.8-.3.7-8.3.1 1.6-4.5z"/><path class="c48" d="M198.9 634.1l1.7 1.3-2.2.1z"/><path class="m" d="M198.9 634.1l6.5 5.1-3.7 7.8-6.5-2.8z"/><path class="c42" d="M142.7 672.6l2.8.2-3.7 2.8-6.5-1.5 2.8-1.4z"/><path class="c41" d="M139 672.2l3.7.4-4.6.1z"/><path class="m" d="M139 672.2l6.5.6-3.7 2.8-6.5-1.5z"/><path class="c42" d="M247.1 672.7l1.6 1.8-3.7-3.1-.7-.6z"/><path class="c41" d="M243 668l4.1 4.7-2.8-1.9-4.8-4.6z"/><path class="c39" d="M242.2 667.2l.8.8-3.5-1.8-1-1z"/><path class="m" d="M242.2 667.2l6.5 7.3-3.7-3.1-6.5-6.2z"/><path class="c39" d="M83.7 661.6l1.9-.1-3.7-.9-6.4.8 2.7.5z"/><path class="c40" d="M79.2 662.1l4.5-.5-5.5.3z"/><path class="m" d="M79.2 662.1l6.4-.6-3.7-.9-6.4.8z"/><path class="c44" d="M186.3 649.8l-1.2 3.5-6.5.3.9-3z"/><path class="c45" d="M187.8 645.2l-1.5 4.6-6.8.8 1.5-4.6z"/><path class="c46" d="M182.3 641.4l6.5.9-1 2.9-6.8.8z"/><path class="m" d="M182.3 641.4l6.5.9-3.7 11-6.5.3z"/><path class="c43" d="M285.5 680.7l2.1-1.8-3.3-1.9-2.5 2.3z"/><path class="c42" d="M287.6 678.9l4.4-4.1-3.7-1.6-4 3.8z"/><path class="m" d="M285.5 680.7l6.5-5.9-3.7-1.6-6.5 6.1z"/><path class="c42" d="M128.5 672.2l-3.3-.7-1.9-.7z"/><path class="c41" d="M122.5 670.4l6.4 1.8-.4 0-5.2-1.4-4.5-1.6z"/><path class="m" d="M122.5 670.4l6.4 1.8-3.7-.7-6.4-2.3z"/><path class="c40" d="M232 656.7l.1 0-3.7-.2-1.2-1.5z"/><path class="c44" d="M228.9 651.8l3.1 4.9-4.8-1.7-3.9-4.7z"/><path class="c45" d="M225.8 646.9l3.1 4.9-5.6-1.5-1.4-1.7 3.4-1.8z"/><path class="c46" d="M225.7 646.6l.1.3-.5-.1z"/><path class="m" d="M225.7 646.6l6.4 10.1-3.7-.2-6.5-7.9z"/><path class="sc39" d="M62.6 663.9l6.4-1.4-3.7-.6-6.4 1.2z"/><path class="c39" d="M169.9 660.8l-1.4 3.9-6.4 1 1.4-3.8z"/><path class="c40" d="M171.5 656.2l-1.6 4.6-6.4 1.1 1.6-4.6z"/><path class="c44" d="M165.8 655.6l6.4-1.3-.7 1.9-6.4 1.1z"/><path class="m" d="M165.8 655.6l6.4-1.3-3.7 10.4-6.4 1z"/><path class="sc43" d="M269 684.8l6.4-1.1-3.7-2.3-6.5 1.6z"/><path class="sc39" d="M105.9 665.5l6.4 1.7-3.7-2-6.4-1.5z"/><path class="c45" d="M212.2 644.5l-.4.6-.7-.6z"/><path class="c46" d="M215.1 640.6l-2.9 3.9-1.1 0-5-4.6z"/><path class="c47" d="M212.4 636l3.1 4-.4.6-9-.7-.7-.7 1.8-3.7z"/><path class="c48" d="M209.1 631.6l3.3 4.4-5.2-.5z"/><path class="m" d="M209.1 631.6l6.4 8.4-3.7 5.1-6.4-5.9z"/><path class="c42" d="M152.8 671.5l-.9 1.6-6.4-.3.4-.5z"/><path class="c41" d="M155.2 667.3l-2.4 4.2-6.9.8 2.7-4z"/><path class="c39" d="M149.2 667.5l6.4-.9-.4.7-6.6 1z"/><path class="m" d="M149.2 667.5l6.4-.9-3.7 6.5-6.4-.3z"/><path class="c43" d="M255.2 679.2l3.6 2.7-3.7-3.1-2.4-1.6z"/><path class="c42" d="M252.4 677.2l2.8 2-2.5-2-4-2.7z"/><path class="m" d="M252.4 677.2l6.4 4.7-3.7-3.1-6.4-4.3z"/><path class="c39" d="M92 662.7l3.7.1-3.7-1.4-6.4.1.7.2z"/><path class="c40" d="M89.3 662.7l2.7 0-5.7-1z"/><path class="m" d="M89.3 662.7l6.4.1-3.7-1.4-6.4.1z"/><path class="c46" d="M196.8 640l-1.6 4.2-6.4-1.9.5-1.8z"/><path class="c47" d="M198.4 635.5l-1.6 4.5-7.5.5 1.5-4.6z"/><path class="c48" d="M193.9 631.1l5 3-.5 1.4-7.6.4 1.4-4.7z"/><path class="c49" d="M192.5 630.3l1.4.8-1.7.1z"/><path class="m" d="M192.5 630.3l6.4 3.8-3.7 10.1-6.4-1.9z"/><path class="c42" d="M295.7 675.8l1.5-1.4-3-2-2.2 2.4z"/><path class="c41" d="M297.2 674.4l4.9-4.9-3.7-1.5-4.2 4.4z"/><path class="m" d="M295.7 675.8l6.4-6.3-3.7-1.5-6.4 6.8z"/><path class="c42" d="M138.1 672.7l-2.8 1.4-6.1-1.8z"/><path class="c41" d="M132.6 671.4l6.4.8-.9.5-8.9-.4-.3-.1z"/><path class="m" d="M132.6 671.4l6.4.8-3.7 1.9-6.4-1.9z"/><path class="c39" d="M239.6 663.2l2.6 4-3.7-2-2.8-3.8z"/><path class="c40" d="M236.5 658.4l3.1 4.8-3.9-1.8-3.6-4.7.2.1z"/><path class="c44" d="M235.8 657.3l.7 1.1-4.2-1.6z"/><path class="m" d="M235.8 657.3l6.4 9.9-3.7-2-6.4-8.5z"/><path class="c39" d="M78.2 661.9l-2.7-.5-6.5 1.1 3.2.6z"/><path class="c40" d="M72.7 663.3l6.5-1.2-1-.2-6 1.2z"/><path class="m" d="M72.7 663.3l6.5-1.2-3.7-.7-6.5 1.1z"/><path class="c44" d="M179.5 650.6l-.9 3-6.4.7.8-2.7z"/><path class="c45" d="M181 646l-1.5 4.6-6.5 1 1.4-4.7z"/><path class="c46" d="M181.4 641.5l.9-.1-1.3 4.6-6.6.9 1.4-4.6z"/><path class="c47" d="M175.9 641.8l5.5-.3-5.6.8z"/><path class="m" d="M175.9 641.8l6.4-.4-3.7 12.2-6.4.7z"/><path class="sc43" d="M279.1 685l6.4-4.3-3.7-1.4-6.4 4.4z"/><path class="c41" d="M116.9 668.9l5.6 1.5-3.7-1.2-6.3-2z"/><path class="c39" d="M116 668.7l.9.2-4.4-1.7-.2 0z"/><path class="m" d="M116 668.7l6.5 1.7-3.7-1.2-6.5-2z"/><path class="c45" d="M225.3 646.8l-3.4 1.8-2.3-3.1z"/><path class="c46" d="M222.9 642l2.8 4.6-.4.2-5.7-1.3-3.6-4.8z"/><path class="c47" d="M220.1 637.1l2.8 4.9-6.9-1.3-.5-.7 2.8-3.2z"/><path class="c48" d="M219.2 635.7l.9 1.4-1.8-.3z"/><path class="m" d="M219.2 635.7l6.5 10.9-3.8 2-6.4-8.6z"/><path class="sc39" d="M56.1 665.5l6.5-1.6-3.7-.8-6.5 1.2z"/><path class="c39" d="M163.5 661.9l-1.4 3.8-6.5.9 1.5-3.7z"/><path class="c40" d="M165.1 657.3l-1.6 4.6-6.4 1 1.8-4.4z"/><path class="c44" d="M159.3 657.5l6.5-1.9-.7 1.7-6.2 1.2z"/><path class="m" d="M159.3 657.5l6.5-1.9-3.7 10.1-6.5.9z"/><path class="sc43" d="M262.5 684.1l6.5.7-3.8-1.8-6.4-1.1z"/><path class="sc39" d="M99.4 664.6l6.5.9-3.7-1.8-6.5-.9z"/><path class="c47" d="M207.2 635.5l-1.8 3.7-4.8-3.8z"/><path class="c48" d="M208.7 631.2l.4.4-1.9 3.9-6.6-.1-1.7-1.3 1.2-3.2z"/><path class="c49" d="M204.6 626.5l4.1 4.7-8.6-.3 1.7-4.5z"/><path class="c50" d="M202.6 624.2l2 2.3-2.8-.1z"/><path class="m" d="M202.6 624.2l6.5 7.4-3.7 7.6-6.5-5.1z"/><path class="c42" d="M145.9 672.3l-.4.5-2.8-.2z"/><path class="c41" d="M148.6 668.3l-2.7 4-3.2.3-3.7-.4 2.9-3z"/><path class="c39" d="M142.8 668.2l6.4-.7-.6.8-6.7.9z"/><path class="m" d="M142.8 668.2l6.4-.7-3.7 5.3-6.5-.6z"/><path class="c42" d="M250.3 674.6l2.1 2.6-3.7-2.7-1.6-1.8z"/><path class="c41" d="M246.5 669.9l3.8 4.7-3.2-1.9-4.1-4.7z"/><path class="c39" d="M245.9 669.2l.6.7-3.5-1.9-.8-.8z"/><path class="m" d="M245.9 669.2l6.5 8-3.7-2.7-6.5-7.3z"/><path class="c39" d="M86.3 661.7l-.7-.2-1.9.1z"/><path class="c40" d="M82.9 663.2l6.4-.5-3-1-2.6-.1-4.5.5z"/><path class="m" d="M82.9 663.2l6.4-.5-3.7-1.2-6.4.6z"/><path class="c46" d="M189.3 640.5l-.5 1.8-6.5-.9.1-.1z"/><path class="c47" d="M190.8 635.9l-1.5 4.6-6.9.8 1.3-4.7z"/><path class="c48" d="M192.2 631.2l-1.4 4.7-7.1.7 1.3-4.7z"/><path class="c49" d="M186.1 628.3l6.4 2-.3.9-7.2.7z"/><path class="m" d="M186.1 628.3l6.4 2-3.7 12-6.5-.9z"/><path class="c43" d="M289.2 681.4l.6-.5-2.2-2-2.1 1.8z"/><path class="c42" d="M289.8 680.9l5.9-5.1-3.7-1-4.4 4.1z"/><path class="m" d="M289.2 681.4l6.5-5.6-3.7-1-6.5 5.9z"/><path class="sc41" d="M126.2 670.5l6.4.9-3.7.8-6.4-1.8z"/><path class="c40" d="M232.3 656.8l-.2-.1-.1 0z"/><path class="c44" d="M233.7 653.4l2.1 3.9-3.5-.5-.3-.1-3.1-4.9z"/><path class="c45" d="M231 648.5l2.7 4.9-4.8-1.6-3.1-4.9z"/><path class="c46" d="M229.4 645.4l1.6 3.1-5.2-1.6-.1-.3z"/><path class="m" d="M229.4 645.4l6.4 11.9-3.7-.6-6.4-10.1z"/><path class="c39" d="M66.3 664.9l4.7-1.2 1.2-.6-3.2-.6-6.4 1.4z"/><path class="c40" d="M71 663.7l1.7-.4-.5-.2z"/><path class="m" d="M66.3 664.9l6.4-1.6-3.7-.8-6.4 1.4z"/><path class="c44" d="M173 651.6l-.8 2.7-6.4 1.3.9-2.9z"/><path class="c45" d="M174.4 646.9l-1.4 4.7-6.3 1.1 1.4-4.7z"/><path class="c46" d="M169.5 643.5l1-.3 5.3-.9-1.4 4.6-6.3 1.1z"/><path class="c47" d="M170.5 643.2l5.4-1.4-.1.5z"/><path class="m" d="M169.5 643.5l6.4-1.7-3.7 12.5-6.4 1.3z"/><path class="sc43" d="M272.7 686.6l6.4-1.6-3.7-1.3-6.4 1.1z"/><path class="sc39" d="M109.6 667.4l6.4 1.3-3.7-1.5-6.4-1.7z"/><path class="c47" d="M218.3 636.8l-2.8 3.2-3.1-4z"/><path class="c48" d="M217.1 632.2l2.1 3.5-.9 1.1-5.9-.8-3.3-4.4.2-.4z"/><path class="c49" d="M214.2 627.4l2.9 4.8-7.8-1 2.3-4.2z"/><path class="c50" d="M212.8 625l1.4 2.4-2.6-.4z"/><path class="m" d="M212.8 625l6.4 10.7-3.7 4.3-6.4-8.4z"/><path class="sc39" d="M49.7 667.2l6.4-1.7-3.7-1.2-6.4 1.3z"/><path class="c39" d="M157.1 662.9l-1.5 3.7-6.4.9 1.6-3.5z"/><path class="c40" d="M152.9 659.8l.4-.2 5.6-1.1-1.8 4.4-6.3 1.1z"/><path class="c44" d="M153.3 659.6l6-2.1-.4 1z"/><path class="m" d="M152.9 659.8l6.4-2.3-3.7 9.1-6.4.9z"/><path class="c43" d="M258.5 681.1l4 3-3.7-2.2-3.6-2.7z"/><path class="c42" d="M256.1 679.3l2.4 1.8-3.3-1.9-2.8-2z"/><path class="m" d="M256.1 679.3l6.4 4.8-3.7-2.2-6.4-4.7z"/><path class="c39" d="M96.3 664.5l3.1.1-3.7-1.8-3.7-.1z"/><path class="c40" d="M93 664.3l3.3.2-4.3-1.8-2.7 0z"/><path class="m" d="M93 664.3l6.4.3-3.7-1.8-6.4-.1z"/><path class="c48" d="M200.1 630.9l-1.2 3.2-5-3z"/><path class="c49" d="M201.8 626.4l-1.7 4.5-6.2.2-1.4-.8 1.2-3.7z"/><path class="c50" d="M199.9 621.9l2.7 2.3-.8 2.2-8.1.2 1.4-4.6z"/><path class="c51" d="M196.2 618.6l3.7 3.3-4.8.1z"/><path class="m" d="M196.2 618.6l6.4 5.6-3.7 9.9-6.4-3.8z"/><path class="c42" d="M299.4 676.5l0-.1-2.2-2-1.5 1.4z"/><path class="c41" d="M299.4 676.4l6.4-5.5-3.7-1.4-4.9 4.9z"/><path class="m" d="M299.4 676.5l6.4-5.6-3.7-1.4-6.4 6.3z"/><path class="c41" d="M141.9 669.2l-2.9 3-6.4-.8 2.3-1.5z"/><path class="c39" d="M136.3 669l6.5-.8-.9 1-7 .7z"/><path class="m" d="M136.3 669l6.5-.8-3.8 4-6.4-.8z"/><path class="c39" d="M243.5 665l2.4 4.2-3.7-2-2.6-4z"/><path class="c40" d="M240.6 660.1l2.9 4.9-3.9-1.8-3.1-4.8z"/><path class="c44" d="M239.5 658.3l1.1 1.8-4.1-1.7-.7-1.1z"/><path class="m" d="M239.5 658.3l6.4 10.9-3.7-2-6.4-9.9z"/><path class="sc40" d="M76.4 664.4l6.5-1.2-3.7-1.1-6.5 1.2z"/><path class="c46" d="M182.4 641.3l-.1.1-.9.1z"/><path class="c47" d="M183.7 636.6l-1.3 4.7-1 .2-5.5.3 1.2-4.3z"/><path class="c48" d="M185 631.9l-1.3 4.7-6.6.9 1.3-4.7z"/><path class="c49" d="M179.6 628.2l6.5.1-1.1 3.6-6.6.9z"/><path class="m" d="M179.6 628.2l6.5.1-3.8 13.1-6.4.4z"/><path class="sc43" d="M282.8 685.4l6.4-4-3.7-.7-6.4 4.3z"/><path class="c41" d="M123.7 670.3l2.5.2-3.7-.1-5.6-1.5z"/><path class="c39" d="M119.7 669.8l4 .5-6.8-1.4-.9-.2z"/><path class="m" d="M119.7 669.8l6.5.7-3.7-.1-6.5-1.7z"/><path class="c46" d="M228.4 643.6l1 1.8-3.7 1.2-2.8-4.6z"/><path class="c47" d="M225.9 638.6l2.5 5-5.5-1.6-2.8-4.9z"/><path class="c48" d="M223.4 633.7l2.5 4.9-5.8-1.5-.9-1.4 2.9-2.4z"/><path class="c49" d="M222.9 632.7l.5 1-1.3-.4z"/><path class="m" d="M222.9 632.7l6.5 12.7-3.7 1.2-6.5-10.9z"/><path class="sc39" d="M59.8 666.7l6.5-1.8-3.7-1-6.5 1.6z"/><path class="c44" d="M166.7 652.7l-.9 2.9-6.5 1.9 1.2-3.6z"/><path class="c45" d="M168.1 648l-1.4 4.7-6.2 1.2 1.6-4.6z"/><path class="c46" d="M163 646.4l6.5-2.9-1.4 4.5-6 1.3z"/><path class="m" d="M163 646.4l6.5-2.9-3.7 12.1-6.5 1.9z"/><path class="sc43" d="M266.2 685.5l6.5 1.1-3.7-1.8-6.5-.7z"/><path class="sc39" d="M103.2 666.7l6.4.7-3.7-1.9-6.5-.9z"/><path class="c48" d="M209.3 631.2l-.2.4-.4-.4z"/><path class="c49" d="M211.6 627l-2.3 4.2-.6 0-4.1-4.7z"/><path class="c50" d="M211.1 622.5l1.7 2.5-1.2 2-7-.5-2-2.3 1-2.3z"/><path class="c51" d="M207.8 617.7l3.3 4.8-7.5-.6 1.9-4.4z"/><path class="c52" d="M206.3 615.6l1.5 2.1-2.3-.2z"/><path class="m" d="M206.3 615.6l6.5 9.4-3.7 6.6-6.5-7.4z"/><path class="c39" d="M150.8 664l-1.6 3.5-6.4.7 1.9-3z"/><path class="c40" d="M146.5 662.4l6.4-2.6-2.1 4.2-6.1 1.2z"/><path class="m" d="M146.5 662.4l6.4-2.6-3.7 7.7-6.4.7z"/><path class="c42" d="M253.9 676.5l2.2 2.8-3.7-2.1-2.1-2.6z"/><path class="c41" d="M250.2 671.7l3.7 4.8-3.6-1.9-3.8-4.7z"/><path class="c39" d="M249.6 671l.6.7-3.7-1.8-.6-.7z"/><path class="m" d="M249.6 671l6.5 8.3-3.7-2.1-6.5-8z"/><path class="sc40" d="M86.6 664.8l6.4-.5-3.7-1.6-6.4.5z"/><path class="c49" d="M193.7 626.6l-1.2 3.7-6.4-2 .3-1.1z"/><path class="c50" d="M195.1 622l-1.4 4.6-7.3.6 1.3-4.7z"/><path class="c51" d="M193.9 617.5l2.3 1.1-1.1 3.4-7.4.5 1.4-4.7z"/><path class="c52" d="M189.8 615.4l4.1 2.1-4.8.3z"/><path class="m" d="M189.8 615.4l6.4 3.2-3.7 11.7-6.4-2z"/><path class="c43" d="M289.8 680.9l-.6.5.9 0z"/><path class="c42" d="M292.9 681.4l6.5-4.9-3.7-.7-5.9 5.1.3.5z"/><path class="m" d="M292.9 681.4l6.5-4.9-3.7-.7-6.5 5.6z"/><path class="c41" d="M134.9 669.9l-2.3 1.5-6.4-.9.9-.2z"/><path class="c39" d="M129.9 669.8l6.4-.8-1.4.9-7.8.4z"/><path class="m" d="M129.9 669.8l6.4-.8-3.7 2.4-6.4-.9z"/><path class="c44" d="M238 655.2l1.5 3.1-3.7-1-2.1-3.9z"/><path class="c45" d="M235.5 650.2l2.5 5-4.3-1.8-2.7-4.9z"/><path class="c46" d="M233.1 645.3l2.4 4.9-4.5-1.7-1.6-3.1z"/><path class="m" d="M233.1 645.3l6.4 13-3.7-1-6.4-11.9z"/><path class="c39" d="M71 663.7l-4.7 1.2 2.7.9z"/><path class="c40" d="M70 666.1l6.4-1.7-3.7-1.1-1.7.4-2 2.1z"/><path class="m" d="M70 666.1l6.4-1.7-3.7-1.1-6.4 1.6z"/><path class="c46" d="M170.5 643.2l-1 .3 0-.1z"/><path class="c47" d="M177.1 637.5l-1.2 4.3-5.4 1.4-1 .2 1.3-4.7z"/><path class="c48" d="M178.4 632.8l-1.3 4.7-6.3 1.2 1.4-4.7z"/><path class="c49" d="M173.2 630.3l6.4-2.1-1.2 4.6-6.2 1.2z"/><path class="m" d="M173.2 630.3l6.4-2.1-3.7 13.6-6.4 1.7z"/><path class="sc43" d="M276.4 687.2l6.4-1.8-3.7-.4-6.4 1.6z"/><path class="sc39" d="M113.3 669.3l6.4.5-3.7-1.1-6.4-1.3z"/><path class="c48" d="M222.1 633.3l-2.9 2.4-2.1-3.5z"/><path class="c49" d="M220.9 628.7l2 4-.8.6-5-1.1-2.9-4.8z"/><path class="c50" d="M218.3 623.8l2.6 4.9-6.7-1.3-1.4-2.4 1.5-2z"/><path class="c51" d="M216.5 620.2l1.8 3.6-4-.8z"/><path class="m" d="M216.5 620.2l6.4 12.5-3.7 3-6.4-10.7z"/><path class="sc39" d="M53.4 668.8l6.4-2.1-3.7-1.2-6.4 1.7z"/><path class="c40" d="M153.3 659.6l-.4.2 0-.1z"/><path class="c44" d="M160.5 653.9l-1.2 3.6-6 2.1-.4.1 1.8-4.5z"/><path class="c45" d="M162.1 649.3l-1.6 4.6-5.8 1.3 1.8-4.5z"/><path class="c46" d="M156.6 650.4l6.4-4-.9 2.9-5.6 1.4z"/><path class="m" d="M156.6 650.4l6.4-4-3.7 11.1-6.4 2.3z"/><path class="c43" d="M262.6 682.9l3.6 2.6-3.7-1.4-4-3z"/><path class="c42" d="M259.8 680.8l2.8 2.1-4.1-1.8-2.4-1.8z"/><path class="m" d="M259.8 680.8l6.4 4.7-3.7-1.4-6.4-4.8z"/><path class="c39" d="M97.9 666.6l5.3.1-3.8-2.1-3.1-.1z"/><path class="c40" d="M96.7 666.6l1.2 0-1.6-2.1-3.3-.2z"/><path class="m" d="M96.7 666.6l6.5.1-3.8-2.1-6.4-.3z"/><path class="c50" d="M203.6 621.9l-1 2.3-2.7-2.3z"/><path class="c51" d="M205.5 617.5l-1.9 4.4-3.7 0-3.7-3.3.5-1.3z"/><path class="c52" d="M204 612.9l2.3 2.7-.8 1.9-8.8-.2 1.6-4.5z"/><path class="c53" d="M199.9 608.3l4.1 4.6-5.7-.1z"/><path class="m" d="M199.9 608.3l6.4 7.3-3.7 8.6-6.4-5.6z"/><path class="c42" d="M299.4 676.4l0 .1 0 0z"/><path class="c41" d="M303.1 676.8l6.4-4.7-3.7-1.2-6.4 5.5 0 .1z"/><path class="m" d="M303.1 676.8l6.4-4.7-3.7-1.2-6.4 5.6z"/><path class="c39" d="M144.7 665.2l-1.9 3-6.5.8 2.5-2.5z"/><path class="c40" d="M140 665.3l6.5-2.9-1.8 2.8-5.9 1.3z"/><path class="m" d="M140 665.3l6.5-2.9-3.7 5.8-6.5.8z"/><path class="c39" d="M247.2 666.8l2.4 4.2-3.7-1.8-2.4-4.2z"/><path class="c40" d="M244.4 661.9l2.8 4.9-3.7-1.8-2.9-4.9z"/><path class="c44" d="M243.2 659.8l1.2 2.1-3.8-1.8-1.1-1.8z"/><path class="m" d="M243.2 659.8l6.4 11.2-3.7-1.8-6.4-10.9z"/><path class="sc40" d="M80.1 666l6.5-1.2-3.7-1.6-6.5 1.2z"/><path class="c49" d="M186.4 627.2l-.3 1.1-6.5-.1.1-.1z"/><path class="c50" d="M187.7 622.5l-1.3 4.7-6.7.9 1.3-4.7z"/><path class="c51" d="M189.1 617.8l-1.4 4.7-6.7.9 1.3-4.7z"/><path class="c52" d="M183.3 615l6.5.4-.7 2.4-6.8.9z"/><path class="m" d="M183.3 615l6.5.4-3.7 12.9-6.5-.1z"/><path class="c43" d="M286.5 685.1l3-1.7.6-2-.9 0-6.4 4z"/><path class="c42" d="M289.5 683.4l3.4-2-2.8 0z"/><path class="m" d="M286.5 685.1l6.4-3.7-3.7 0-6.4 4z"/><path class="c41" d="M127.1 670.3l-.9.2-2.5-.2z"/><path class="c39" d="M123.4 670.5l6.5-.7-2.8.5-3.4 0-4-.5z"/><path class="m" d="M123.4 670.5l6.5-.7-3.7.7-6.5-.7z"/><path class="c46" d="M233 645.3l.1 0-3.7.1-1-1.8z"/><path class="c47" d="M230.7 640.3l2.3 5-4.6-1.7-2.5-5z"/><path class="c48" d="M228.4 635.3l2.3 5-4.8-1.7-2.5-4.9z"/><path class="c49" d="M226.6 631.4l1.8 3.9-5-1.6-.5-1z"/><path class="m" d="M226.6 631.4l6.5 13.9-3.7.1-6.5-12.7z"/><path class="c39" d="M63.6 668.2l5.4-1.8 0-.6-2.7-.9-6.5 1.8z"/><path class="c40" d="M69 666.4l1-.3-1-.3z"/><path class="m" d="M63.6 668.2l6.4-2.1-3.7-1.2-6.5 1.8z"/><path class="c46" d="M169.5 643.4l0 .1-6.5 2.9.6-1.7z"/><path class="c47" d="M170.8 638.7l-1.3 4.7-5.9 1.3 1.4-4.7z"/><path class="c48" d="M172.2 634l-1.4 4.7-5.8 1.3 1.5-4.6z"/><path class="c49" d="M166.7 634.5l6.5-4.2-1 3.7-5.7 1.4z"/><path class="m" d="M166.7 634.5l6.5-4.2-3.7 13.2-6.5 2.9z"/><path class="sc43" d="M269.9 686.1l6.5 1.1-3.7-.6-6.5-1.1z"/><path class="sc39" d="M106.9 669.2l6.4.1-3.7-1.9-6.4-.7z"/><path class="c50" d="M214.3 623l-1.5 2-1.7-2.5z"/><path class="c51" d="M215.7 618.8l.8 1.4-2.2 2.8-3.2-.5-3.3-4.8z"/><path class="c52" d="M212.8 613.9l2.9 4.9-7.9-1.1-1.5-2.1 1.4-2.4z"/><path class="c53" d="M210 609.1l2.8 4.8-5.1-.7z"/><path class="m" d="M210 609.1l6.5 11.1-3.7 4.8-6.5-9.4z"/><path class="c40" d="M152.9 659.7l0 .1-6.4 2.6.7-1.3z"/><path class="c44" d="M154.7 655.2l-1.8 4.5-5.7 1.4 2.2-4.3z"/><path class="c45" d="M150.2 655.3l5.8-4.4.5-.2-1.8 4.5-5.3 1.6z"/><path class="c46" d="M156 650.9l.6-.5-.1.3z"/><path class="m" d="M150.2 655.3l6.4-4.9-3.7 9.4-6.4 2.6z"/><path class="c42" d="M257.7 678.3l2.1 2.5-3.7-1.5-2.2-2.8z"/><path class="c41" d="M253.9 673.5l3.8 4.8-3.8-1.8-3.7-4.8z"/><path class="c39" d="M253.4 672.8l.5.7-3.7-1.8-.6-.7z"/><path class="m" d="M253.4 672.8l6.4 8-3.7-1.5-6.5-8.3z"/><path class="sc40" d="M90.3 667.2l6.4-.6-3.7-2.3-6.4.5z"/><path class="c51" d="M196.7 617.3l-.5 1.3-2.3-1.1z"/><path class="c52" d="M198.3 612.8l-1.6 4.5-2.8.2-4.1-2.1.7-2.3z"/><path class="c53" d="M199.7 608.2l.2.1-1.6 4.5-7.8.3 1.5-4.6z"/><path class="c54" d="M193.5 604.1l6.2 4.1-7.7.3z"/><path class="m" d="M193.5 604.1l6.4 4.2-3.7 10.3-6.4-3.2z"/><path class="c42" d="M296.7 681l3.3-2.3-.6-2.2 0 0-6.5 4.9z"/><path class="c41" d="M300 678.7l3.1-1.9-3.7-.3z"/><path class="m" d="M296.7 681l6.4-4.2-3.7-.3-6.5 4.9z"/><path class="c39" d="M138.8 666.5l-2.5 2.5-6.4.8 3.7-1.7z"/><path class="c40" d="M133.6 668.1l6.4-2.8-1.2 1.2-5.2 1.6z"/><path class="m" d="M133.6 668.1l6.4-2.8-3.7 3.7-6.4.8z"/><path class="c44" d="M241.8 657l1.4 2.8-3.7-1.5-1.5-3.1z"/><path class="c45" d="M239.4 652l2.4 5-3.8-1.8-2.5-5z"/><path class="c46" d="M237 647l2.4 5-3.9-1.8-2.4-4.9.5.2z"/><path class="c47" d="M236.8 646.5l.2.5-3.4-1.5z"/><path class="m" d="M236.8 646.5l6.4 13.3-3.7-1.5-6.4-13z"/><path class="sc40" d="M73.7 667.8l6.4-1.8-3.7-1.6-6.4 1.7z"/><path class="c49" d="M179.7 628.1l-.1.1-6.4 2.1.3-1z"/><path class="c50" d="M181 623.4l-1.3 4.7-6.2 1.2 1.3-4.7z"/><path class="c51" d="M182.3 618.7l-1.3 4.7-6.2 1.2 1.4-4.7z"/><path class="c52" d="M176.9 617.5l6.4-2.5-1 3.7-6.1 1.2z"/><path class="m" d="M176.9 617.5l6.4-2.5-3.7 13.2-6.4 2.1z"/><path class="sc43" d="M280.1 686.7l6.4-1.6-3.7.3-6.4 1.8z"/><path class="sc39" d="M117 671.3l6.4-.8-3.7-.7-6.4-.5z"/><path class="c49" d="M226.1 630.3l.5 1.1-3.7 1.3-2-4z"/><path class="c50" d="M223.7 625.3l2.4 5-5.2-1.6-2.6-4.9z"/><path class="c51" d="M221.4 620.3l2.3 5-5.4-1.5-1.8-3.6 1.3-.9z"/><path class="c52" d="M220.2 617.8l1.2 2.5-3.6-1z"/><path class="m" d="M220.2 617.8l6.4 13.6-3.7 1.3-6.4-12.5z"/><path class="sc39" d="M57.1 670.4l6.5-2.2-3.8-1.5-6.4 2.1z"/><path class="c46" d="M163.6 644.7l-.6 1.7-6.4 4 1.6-4.2z"/><path class="c47" d="M165 640l-1.4 4.7-5.4 1.5 1.6-4.5z"/><path class="c48" d="M160.3 640.3l5.1-4.6 1.1-.3-1.5 4.6-5.2 1.7z"/><path class="c49" d="M165.4 635.7l1.3-1.2-.2.9z"/><path class="m" d="M160.3 640.3l6.4-5.8-3.7 11.9-6.4 4z"/><path class="c43" d="M267.6 684.5l2.3 1.6-3.7-.6-3.6-2.6z"/><path class="c42" d="M263.5 681.8l4.1 2.7-5-1.6-2.8-2.1z"/><path class="m" d="M263.5 681.8l6.4 4.3-3.7-.6-6.4-4.7z"/><path class="c39" d="M100.4 669.5l6.5-.3-3.7-2.5-5.3-.1-.5.5z"/><path class="c40" d="M97.9 666.6l-1.2 0 .7.5z"/><path class="m" d="M100.4 669.5l6.5-.3-3.7-2.5-6.5-.1z"/><path class="c52" d="M207.7 613.2l-1.4 2.4-2.3-2.7z"/><path class="c53" d="M210 609l0 .1-2.3 4.1-3.7-.3-4.1-4.6.1-.1z"/><path class="c54" d="M206.3 604.2l3.7 4.8-10-.8 2-4.3z"/><path class="c55" d="M203.6 600.6l2.7 3.6-4.3-.3z"/><path class="m" d="M203.6 600.6l6.4 8.5-3.7 6.5-6.4-7.3z"/><path class="c41" d="M306.8 676.9l5.2-3-1.4-1.5-1.1-.3-6.4 4.7z"/><path class="c39" d="M312 673.9l1.2-.7-2.6-.8z"/><path class="m" d="M306.8 676.9l6.4-3.7-3.7-1.1-6.4 4.7z"/><path class="c40" d="M147.2 661.1l-.7 1.3-6.5 2.9 2-2.6z"/><path class="c44" d="M143.7 660.6l3.6-3 2.1-.8-2.2 4.3-5.2 1.6z"/><path class="c45" d="M147.3 657.6l2.9-2.3-.8 1.5z"/><path class="m" d="M143.7 660.6l6.5-5.3-3.7 7.1-6.5 2.9z"/><path class="c39" d="M250.9 668.7l2.5 4.1-3.8-1.8-2.4-4.2z"/><path class="c40" d="M248 663.8l2.9 4.9-3.7-1.9-2.8-4.9z"/><path class="c44" d="M246.9 661.9l1.1 1.9-3.6-1.9-1.2-2.1z"/><path class="m" d="M246.9 661.9l6.5 10.9-3.8-1.8-6.4-11.2z"/><path class="sc40" d="M83.8 668.4l6.5-1.2-3.7-2.4-6.5 1.2z"/><path class="c52" d="M190.5 613.1l-.7 2.3-6.5-.4.3-1z"/><path class="c53" d="M192 608.5l-1.5 4.6-6.9.9 1.5-4.7z"/><path class="c54" d="M192.8 604l.7.1-1.5 4.4-6.9.8 1.5-4.6z"/><path class="c55" d="M187 603.3l5.8.7-6.2.7z"/><path class="m" d="M187 603.3l6.5.8-3.7 11.3-6.5-.4z"/><path class="c43" d="M289.5 683.4l-3 1.7 1.6-.5z"/><path class="c42" d="M290.2 684.1l6.5-3.1-3.8.4-3.4 2-1.4 1.2z"/><path class="m" d="M290.2 684.1l6.5-3.1-3.8.4-6.4 3.7z"/><path class="c39" d="M127.1 670.9l6.4-2.7.1-.1-3.7 1.7-6.5.7z"/><path class="c40" d="M133.5 668.2l.1-.1 0 0z"/><path class="m" d="M127.1 670.9l6.5-2.8-3.7 1.7-6.5.7z"/><path class="c46" d="M233.6 645.5l-.5-.2-.1 0z"/><path class="c47" d="M234.8 642l2 4.5-3.2-1-.6-.2-2.3-5z"/><path class="c48" d="M232.5 637l2.3 5-4.1-1.7-2.3-5z"/><path class="c49" d="M230.3 632.2l2.2 4.8-4.1-1.7-1.8-3.9z"/><path class="m" d="M230.3 632.2l6.5 14.3-3.7-1.2-6.5-13.9z"/><path class="c39" d="M67.3 669.9l4.7-1.5-3-2-5.4 1.8z"/><path class="c40" d="M72 668.4l1.7-.6-3.7-1.7-1 .3z"/><path class="m" d="M67.3 669.9l6.4-2.1-3.7-1.7-6.4 2.1z"/><path class="c49" d="M173.5 629.3l-.3 1-6.5 4.2 1.2-3.8z"/><path class="c50" d="M174.8 624.6l-1.3 4.7-5.6 1.4 1.5-4.6z"/><path class="c51" d="M170.4 622.7l2.3-1.8 3.5-1-1.4 4.7-5.4 1.5z"/><path class="c52" d="M172.7 620.9l4.2-3.4-.7 2.4z"/><path class="m" d="M170.4 622.7l6.5-5.2-3.7 12.8-6.5 4.2z"/><path class="c43" d="M273.9 685.9l6.2.8-3.7.5-6.5-1.1 3.6-.2z"/><path class="c42" d="M273.6 685.9l.3 0-.4 0z"/><path class="m" d="M273.6 685.9l6.5.8-3.7.5-6.5-1.1z"/><path class="sc39" d="M110.6 672.2l6.4-.9-3.7-2-6.4-.1z"/><path class="c51" d="M217.8 619.3l-1.3.9-.8-1.4z"/><path class="c52" d="M218.9 615.4l1.3 2.4-2.4 1.5-2.1-.5-2.9-4.9z"/><path class="c53" d="M216.3 610.4l2.6 5-6.1-1.5-2.8-4.8.1-.1z"/><path class="c54" d="M213.8 605.7l2.5 4.7-6.2-1.4z"/><path class="m" d="M213.8 605.7l6.4 12.1-3.7 2.4-6.5-11.1z"/><path class="c45" d="M156 650.9l-5.8 4.4 1.3-2.8z"/><path class="c46" d="M158.2 646.2l-1.6 4.2-.6.5-4.5 1.6 2.1-4.4z"/><path class="c47" d="M153.9 647.5l4.8-5.3 1.1-.5-1.6 4.5-4.6 1.9z"/><path class="c48" d="M158.7 642.2l1.6-1.9-.5 1.4z"/><path class="m" d="M153.9 647.5l6.4-7.2-3.7 10.1-6.4 4.9z"/><path class="c42" d="M261.9 680l1.6 1.8-3.7-1-2.1-2.5z"/><path class="c41" d="M257.8 675.3l4.1 4.7-4.2-1.7-3.8-4.8z"/><path class="c39" d="M257.1 674.5l.7.8-3.9-1.8-.5-.7z"/><path class="m" d="M257.1 674.5l6.4 7.3-3.7-1-6.4-8z"/><path class="c39" d="M94 670.3l6.4-.8-3-2.4-5.2 1.7z"/><path class="c40" d="M97.4 667.1l-.7-.5-6.4.6 1.9 1.6z"/><path class="m" d="M94 670.3l6.4-.8-3.7-2.9-6.4.6z"/><path class="c53" d="M200 608.2l-.1.1-.2-.1z"/><path class="c54" d="M202 603.9l-2 4.3-.3 0-6.2-4.1 0-.2z"/><path class="c55" d="M202.2 599.5l1.4 1.1-1.6 3.3-8.5 0 2-4.4z"/><path class="c56" d="M197.2 595.5l5 4-6.7 0z"/><path class="m" d="M197.2 595.5l6.4 5.1-3.7 7.7-6.4-4.2z"/><path class="c42" d="M300 678.7l-3.3 2.3 2.4-.5z"/><path class="c41" d="M300.4 680.2l6.4-3.3-3.7-.1-3.1 1.9-.9 1.8z"/><path class="m" d="M300.4 680.2l6.4-3.3-3.7-.1-6.4 4.2z"/><path class="c40" d="M137.3 665.9l1.9-1.6 2.8-1.6-2 2.6-6.4 2.8z"/><path class="c44" d="M139.2 664.3l4.5-3.7-1.7 2.1z"/><path class="m" d="M137.3 665.9l6.4-5.3-3.7 4.7-6.4 2.8z"/><path class="c44" d="M245.4 658.8l1.5 3.1-3.7-2.1-1.4-2.8z"/><path class="c45" d="M242.9 653.9l2.5 4.9-3.6-1.8-2.4-5z"/><path class="c46" d="M240.5 649l2.4 4.9-3.5-1.9-2.4-5 2.9 1.6z"/><path class="c47" d="M237 647l-.2-.5 3.1 2.1z"/><path class="m" d="M240.5 649l6.4 12.9-3.7-2.1-6.4-13.3z"/><path class="c39" d="M77.4 670l1.2-.3-2.3-.3z"/><path class="c40" d="M78.6 669.7l5.2-1.3-3.7-2.4-6.4 1.8 2.6 1.6z"/><path class="m" d="M77.4 670l6.4-1.6-3.7-2.4-6.4 1.8z"/><path class="c52" d="M183.6 614l-.3 1-6.4 2.5.7-2.3z"/><path class="c53" d="M185.1 609.3l-1.5 4.7-6 1.2 1.5-4.6z"/><path class="c54" d="M180.6 606.2l.7-.4 5.3-1.1-1.5 4.6-6 1.3z"/><path class="c55" d="M181.3 605.8l5.7-2.5-.4 1.4z"/><path class="m" d="M180.6 606.2l6.4-2.9-3.7 11.7-6.4 2.5z"/><path class="c43" d="M288.1 684.6l-1.6.5-6.4 1.6 2.3-.7z"/><path class="c42" d="M283.8 685.6l6.4-1.5-2.1.5-5.7 1.4z"/><path class="m" d="M283.8 685.6l6.4-1.5-3.7 1-6.4 1.6z"/><path class="sc39" d="M120.7 673.4l6.4-2.5-3.7-.4-6.4.8z"/><path class="c49" d="M230.3 632l0 .2-3.7-.8-.5-1.1z"/><path class="c50" d="M228 627l2.3 5-4.2-1.7-2.4-5z"/><path class="c51" d="M225.7 622l2.3 5-4.3-1.7-2.3-5z"/><path class="c52" d="M223.9 618.1l1.8 3.9-4.3-1.7-1.2-2.5z"/><path class="m" d="M223.9 618.1l6.4 14.1-3.7-.8-6.4-13.6z"/><path class="sc39" d="M60.8 672.2l6.5-2.3-3.7-1.7-6.5 2.2z"/><path class="c48" d="M165.4 635.7l-5.1 4.6 1.2-3.2z"/><path class="c49" d="M167.9 630.7l-1.2 3.8-1.3 1.2-3.9 1.4 1.7-4.5z"/><path class="c50" d="M164 630.4l2.7-3.2 2.7-1.1-1.5 4.6-4.7 1.9z"/><path class="c51" d="M166.7 627.2l3.7-4.5-1 3.4z"/><path class="m" d="M164 630.4l6.4-7.7-3.7 11.8-6.4 5.8z"/><path class="c43" d="M273.5 685.9l-3.6.2-2.3-1.6z"/><path class="c42" d="M267.2 682.3l6.4 3.6-.1 0-5.9-1.4-4.1-2.7z"/><path class="m" d="M267.2 682.3l6.4 3.6-3.7.2-6.4-4.3z"/><path class="sc39" d="M104.1 673.1l6.5-.9-3.7-3-6.5.3z"/><path class="c53" d="M210.1 609l-.1.1 0-.1z"/><path class="c54" d="M213.6 605.5l.2.2-3.7 3.3-.1 0-3.7-4.8z"/><path class="c55" d="M210.3 600.7l3.3 4.8-7.3-1.3-2.7-3.6.8-.9z"/><path class="c56" d="M207.3 596.3l3 4.4-5.9-1z"/><path class="m" d="M207.3 596.3l6.5 9.4-3.8 3.4-6.4-8.5z"/><path class="c41" d="M310.5 677l1.7-.7-.2-2.4-5.2 3z"/><path class="c39" d="M312.2 676.3l4.7-2-3.7-1.1-1.2.7z"/><path class="m" d="M310.5 677l6.4-2.7-3.7-1.1-6.4 3.7z"/><path class="c44" d="M147.3 657.6l-3.6 3 1.3-1.8z"/><path class="c45" d="M147.4 655.4l.7-.8 3.4-2.1-1.3 2.8-2.9 2.3-2.3 1.2z"/><path class="c46" d="M148.1 654.6l5-6.2.5-.3-2.1 4.4z"/><path class="c47" d="M153.1 648.4l.8-.9-.3.6z"/><path class="m" d="M147.4 655.4l6.5-7.9-3.7 7.8-6.5 5.3z"/><path class="c39" d="M254.5 670.5l2.6 4-3.7-1.7-2.5-4.1z"/><path class="c40" d="M251.3 665.7l3.2 4.8-3.6-1.8-2.9-4.9z"/><path class="c44" d="M250.6 664.6l.7 1.1-3.3-1.9-1.1-1.9z"/><path class="m" d="M250.6 664.6l6.5 9.9-3.7-1.7-6.5-10.9z"/><path class="c39" d="M87.5 671.4l6.5-1.1-1.8-1.5-6.8.8z"/><path class="c40" d="M92.2 668.8l-1.9-1.6-6.5 1.2 1.6 1.2z"/><path class="m" d="M87.5 671.4l6.5-1.1-3.7-3.1-6.5 1.2z"/><path class="c54" d="M193.5 603.9l0 .2-.7-.1z"/><path class="c55" d="M195.5 599.5l-2 4.4-.7.1-5.8-.7 1.3-3.1z"/><path class="c56" d="M195.5 595.3l1.7.2-1.7 4-7.2.7 1.9-4.4z"/><path class="c57" d="M190.7 594.5l4.8.8-5.3.5z"/><path class="m" d="M190.7 594.5l6.5 1-3.7 8.6-6.5-.8z"/><path class="c42" d="M293.9 682.8l2.7-1.1 2.5-1.2-2.4.5-6.5 3.1z"/><path class="c41" d="M296.6 681.7l3.8-1.5-1.3.3z"/><path class="m" d="M293.9 682.8l6.5-2.6-3.7.8-6.5 3.1z"/><path class="c39" d="M133.5 668.2l-6.4 2.7 3.7.1z"/><path class="c40" d="M130.9 671l6.4-5.1-3.7 2.2-.1.1-2.7 2.8z"/><path class="m" d="M130.9 671l6.4-5.1-3.7 2.2-6.5 2.8z"/><path class="c46" d="M240.4 648.9l.1.1-.6-.4z"/><path class="c47" d="M238.1 643.9l2.3 5-.5-.3-3.1-2.1-2-4.5z"/><path class="c48" d="M235.8 638.9l2.3 5-3.3-1.9-2.3-5z"/><path class="c49" d="M234 635.1l1.8 3.8-3.3-1.9-2.2-4.8z"/><path class="m" d="M234 635.1l6.5 13.9-3.7-2.5-6.5-14.3z"/><path class="c39" d="M71 672l6.4-2-1.1-.6-4.3-1-4.7 1.5z"/><path class="c40" d="M76.3 669.4l-2.6-1.6-1.7.6z"/><path class="m" d="M71 672l6.4-2-3.7-2.2-6.4 2.1z"/><path class="c51" d="M172.7 620.9l-2.3 1.8.5-1.2z"/><path class="c52" d="M177.6 615.2l-.7 2.3-4.2 3.4-1.8.6 1.7-4.6z"/><path class="c53" d="M174.2 612.5l.1-.2 4.8-1.7-1.5 4.6-5 1.7z"/><path class="c54" d="M174.3 612.3l6.3-6.1-1.5 4.4z"/><path class="m" d="M174.2 612.5l6.4-6.3-3.7 11.3-6.5 5.2z"/><path class="c43" d="M282.4 686l-2.3.7-6.2-.8z"/><path class="c42" d="M277.3 685.1l6.5.5-1.4.4-8.5-.1-.3 0z"/><path class="m" d="M277.3 685.1l6.5.5-3.7 1.1-6.5-.8z"/><path class="sc39" d="M114.3 675.5l6.4-2.1-3.7-2.1-6.4.9z"/><path class="c52" d="M223.4 617.1l.5 1-3.7-.3-1.3-2.4z"/><path class="c53" d="M220.8 612.1l2.6 5-4.5-1.7-2.6-5z"/><path class="c54" d="M218.2 607.2l2.6 4.9-4.5-1.7-2.5-4.7.4 0z"/><path class="c55" d="M217.5 605.7l.7 1.5-4-1.5z"/><path class="m" d="M217.5 605.7l6.4 12.4-3.7-.3-6.4-12.1z"/><path class="c47" d="M158.7 642.2l-4.8 5.3 1.8-3.7z"/><path class="c48" d="M157.6 639.9l.4-.6 3.5-2.2-1.2 3.2-1.6 1.9-3 1.6z"/><path class="c49" d="M158 639.3l4.1-6 1.1-.7-1.7 4.5z"/><path class="c50" d="M162.1 633.3l1.9-2.9-.8 2.2z"/><path class="m" d="M157.6 639.9l6.4-9.5-3.7 9.9-6.4 7.2z"/><path class="c42" d="M266.6 681.7l.6.6-3.7-.5-1.6-1.8z"/><path class="c41" d="M261.8 677.1l4.8 4.6-4.7-1.7-4.1-4.7z"/><path class="c39" d="M260.8 676.1l1 1-4-1.8-.7-.8z"/><path class="m" d="M260.8 676.1l6.4 6.2-3.7-.5-6.4-7.3z"/><path class="sc39" d="M97.7 674.1l6.4-1-3.7-3.6-6.4.8z"/><path class="c55" d="M204.4 599.7l-.8.9-1.4-1.1z"/><path class="c56" d="M206.8 595.9l.5.4-2.9 3.4-2.2-.2-5-4 .3-.4z"/><path class="c57" d="M201.6 591.3l5.2 4.6-9.3-.8 3-3.8z"/><path class="c58" d="M200.9 590.7l.7.6-1.1 0z"/><path class="m" d="M200.9 590.7l6.4 5.6-3.7 4.3-6.4-5.1z"/><path class="sc41" d="M304.1 679.4l6.4-2.4-3.7-.1-6.4 3.3z"/><path class="c40" d="M139.2 664.3l-1.9 1.6 1.1-.7z"/><path class="c44" d="M141 663.4l2.2-2.7 1.8-1.9-1.3 1.8-4.5 3.7-.8.9z"/><path class="c45" d="M143.2 660.7l4.2-5.3-2.4 3.4z"/><path class="m" d="M141 663.4l6.4-8-3.7 5.2-6.4 5.3z"/><path class="c44" d="M248.5 660.7l2.1 3.9-3.7-2.7-1.5-3.1z"/><path class="c45" d="M245.9 655.8l2.6 4.9-3.1-1.9-2.5-4.9z"/><path class="c46" d="M244.2 652.7l1.7 3.1-3-1.9-2.4-4.9z"/><path class="m" d="M244.2 652.7l6.4 11.9-3.7-2.7-6.4-12.9z"/><path class="c39" d="M81.1 672.9l6.4-1.5-2.1-1.8-6.8.1-1.2.3z"/><path class="c40" d="M85.4 669.6l-1.6-1.2-5.2 1.3z"/><path class="m" d="M81.1 672.9l6.4-1.5-3.7-3-6.4 1.6z"/><path class="c54" d="M181.3 605.8l-.7.4.1-.2z"/><path class="c55" d="M188.3 600.2l-1.3 3.1-5.7 2.5-.6.2 1.9-4.4z"/><path class="c56" d="M184.3 597.6l1.7-.8 4.2-1-1.9 4.4-5.7 1.4z"/><path class="c57" d="M186 596.8l4.7-2.3-.5 1.3z"/><path class="m" d="M184.3 597.6l6.4-3.1-3.7 8.8-6.4 2.9z"/><path class="sc42" d="M287.5 684.2l6.4-1.4-3.7 1.3-6.4 1.5z"/><path class="c39" d="M124.4 675.5l6.4-4.5 0 0-3.7-.1-6.4 2.5z"/><path class="c40" d="M130.8 671l.1 0-.1 0z"/><path class="m" d="M124.4 675.5l6.5-4.5-3.8-.1-6.4 2.5z"/><path class="c49" d="M233.5 633.9l.5 1.2-3.7-2.9 0-.2z"/><path class="c50" d="M231.2 628.9l2.3 5-3.2-1.9-2.3-5z"/><path class="c51" d="M228.8 624l2.4 4.9-3.2-1.9-2.3-5z"/><path class="c52" d="M227.6 621.4l1.2 2.6-3.1-2-1.8-3.9z"/><path class="m" d="M227.6 621.4l6.4 13.7-3.7-2.9-6.4-14.1z"/><path class="sc39" d="M64.5 674.2l6.5-2.2-3.7-2.1-6.5 2.3z"/><path class="c50" d="M166.7 627.2l-2.7 3.2 1-2.3z"/><path class="c51" d="M170.9 621.5l-.5 1.2-3.7 4.5-1.7.9 1.9-4.4z"/><path class="c52" d="M167.7 621.8l2.4-3.4 2.5-1.5-1.7 4.6-4 2.2z"/><path class="c53" d="M170.1 618.4l4.1-5.9-1.6 4.4z"/><path class="m" d="M167.7 621.8l6.5-9.3-3.8 10.2-6.4 7.7z"/><path class="c42" d="M272.5 683.2l4.8 1.9-3.7.8-6.4-3.6 1.6.1z"/><path class="c41" d="M270.9 682.5l1.6.7-3.7-.8z"/><path class="m" d="M270.9 682.5l6.4 2.6-3.7.8-6.4-3.6z"/><path class="sc39" d="M107.8 677.3l6.5-1.8-3.7-3.3-6.5.9z"/><path class="c54" d="M214.2 605.7l-.4 0-.2-.2z"/><path class="c55" d="M215.2 602.3l2.3 3.4-3.3 0-.6-.2-3.3-4.8z"/><path class="c56" d="M212 597.5l3.2 4.8-4.9-1.6-3-4.4 1 0z"/><path class="c57" d="M211 596l1 1.5-3.7-1.2z"/><path class="m" d="M211 596l6.5 9.7-3.7 0-6.5-9.4z"/><path class="c41" d="M312.2 676.3l-1.7.7 1 0z"/><path class="c39" d="M314.2 677.2l6.4-1.8-3.7-1.1-4.7 2-.7.7z"/><path class="m" d="M314.2 677.2l6.4-1.8-3.7-1.1-6.4 2.7z"/><path class="c45" d="M148.1 654.6l-.7.8.4-.5z"/><path class="c46" d="M153.1 648.4l-5 6.2-.3.3 2.9-4z"/><path class="c47" d="M151.1 650.4l3.2-5.1 1.4-1.5-1.8 3.7-.8.9-2.4 2.5z"/><path class="c48" d="M154.3 645.3l3.3-5.4-1.9 3.9z"/><path class="m" d="M151.1 650.4l6.5-10.5-3.7 7.6-6.5 7.9z"/><path class="c39" d="M257.9 672.4l2.9 3.7-3.7-1.6-2.6-4z"/><path class="c40" d="M254.3 667.7l3.6 4.7-3.4-1.9-3.2-4.8 2.8 1.8z"/><path class="c44" d="M251.3 665.7l-.7-1.1 3.5 2.9z"/><path class="m" d="M254.3 667.7l6.5 8.4-3.7-1.6-6.5-9.9z"/><path class="sc39" d="M91.3 675.2l6.4-1.1-3.7-3.8-6.5 1.1z"/><path class="c56" d="M197.5 595.1l-.3.4-1.7-.2z"/><path class="c57" d="M200.5 591.3l-3 3.8-2 .2-4.8-.8 2.1-2.8z"/><path class="c58" d="M194.4 589.5l6.5 1.2-.4.6-7.7.4z"/><path class="m" d="M194.4 589.5l6.5 1.2-3.7 4.8-6.5-1z"/><path class="c42" d="M296.6 681.7l-2.7 1.1.8-.3z"/><path class="c41" d="M297.6 681.4l6.5-2-3.7.8-3.8 1.5-1.9.8z"/><path class="m" d="M297.6 681.4l6.5-2-3.7.8-6.5 2.6z"/><path class="c40" d="M134.6 671l3.4-4.1.4-1.7-1.1.7-6.4 5.1z"/><path class="c44" d="M138 666.9l3-3.5-2.6 1.8z"/><path class="m" d="M134.6 671l6.4-7.6-3.7 2.5-6.4 5.1z"/><path class="c46" d="M243.2 650.9l1 1.8-3.7-3.7-.1-.1z"/><path class="c47" d="M240.7 645.9l2.5 5-2.8-2-2.3-5z"/><path class="c48" d="M238.2 641l2.5 4.9-2.6-2-2.3-5z"/><path class="c49" d="M237.7 640l.5 1-2.4-2.1-1.8-3.8z"/><path class="m" d="M237.7 640l6.5 12.7-3.7-3.7-6.5-13.9z"/><path class="sc39" d="M74.7 674.5l6.4-1.6-3.7-2.9-6.4 2z"/><path class="c53" d="M174.3 612.3l-.1.2 0-.1z"/><path class="c54" d="M180.7 606l-.1.2-6.3 6.1-.1.1 2.1-4.4z"/><path class="c55" d="M177.9 604.8l1.3-1.6 3.4-1.6-1.9 4.4-4.4 2z"/><path class="c56" d="M179.2 603.2l5.1-5.6-1.7 4z"/><path class="m" d="M177.9 604.8l6.4-7.2-3.7 8.6-6.4 6.3z"/><path class="c42" d="M281.7 684.1l5.8.1-3.7 1.4-6.5-.5 3.6-1z"/><path class="c41" d="M281 684.1l.7 0-.8 0z"/><path class="m" d="M281 684.1l6.5.1-3.7 1.4-6.5-.5z"/><path class="c41" d="M118 679.1l1.7-.9-3.2-.5z"/><path class="c39" d="M119.7 678.2l4.7-2.7-3.7-2.1-6.4 2.1 2.2 2.2z"/><path class="m" d="M118 679.1l6.4-3.6-3.7-2.1-6.4 2.1z"/><path class="c52" d="M226.3 619l1.3 2.4-3.7-3.3-.5-1z"/><path class="c53" d="M223.7 614.1l2.6 4.9-2.9-1.9-2.6-5z"/><path class="c54" d="M221.2 609.3l2.5 4.8-2.9-2-2.6-4.9 2.6 1.7z"/><path class="c55" d="M218.2 607.2l-.7-1.5 3.3 3.2z"/><path class="m" d="M221.2 609.3l6.4 12.1-3.7-3.3-6.4-12.4z"/><path class="c48" d="M158 639.3l-.4.6.2-.4z"/><path class="c49" d="M162.1 633.3l-4.1 6-.2.2 2.4-4.2z"/><path class="c50" d="M161.3 633.3l1.7-3.1 2-2.1-1 2.3-1.9 2.9-1.9 2z"/><path class="c51" d="M163 630.2l3.3-5.9.6-.6-1.9 4.4z"/><path class="c52" d="M166.3 624.3l1.4-2.5-.8 1.9z"/><path class="m" d="M161.3 633.3l6.4-11.5-3.7 8.6-6.4 9.5z"/><path class="c42" d="M268.8 682.4l-1.6-.1-.6-.6z"/><path class="c41" d="M266 678.9l4.9 3.6-2.1-.1-2.2-.7-4.8-4.6z"/><path class="c39" d="M264.5 677.7l1.5 1.2-4.2-1.8-1-1z"/><path class="m" d="M264.5 677.7l6.4 4.8-3.7-.2-6.4-6.2z"/><path class="sc39" d="M101.4 678.6l6.4-1.3-3.7-4.2-6.4 1z"/><path class="c56" d="M208.3 596.3l-1 0-.5-.4z"/><path class="c57" d="M207.4 592.8l3.6 3.2-2.7.3-1.5-.4-5.2-4.6z"/><path class="c58" d="M204.6 590.3l2.8 2.5-5.8-1.5-.7-.6z"/><path class="m" d="M204.6 590.3l6.4 5.7-3.7.3-6.4-5.6z"/><path class="c41" d="M311.5 677l-1 0-6.4 2.4 2.8-.4z"/><path class="c39" d="M307.8 678.8l6.4-1.6-2.7-.2-4.6 2z"/><path class="m" d="M307.8 678.8l6.4-1.6-3.7-.2-6.4 2.4z"/><path class="c44" d="M143.2 660.7l-2.2 2.7 2-1.3z"/><path class="c45" d="M144.7 661l2.3-3.8.8-2.3-.4.5-4.2 5.3-.2 1.4z"/><path class="c46" d="M147 657.2l3.6-6 .1-.3-2.9 4z"/><path class="c47" d="M150.6 651.2l.5-.8-.4.5z"/><path class="m" d="M144.7 661l6.4-10.6-3.7 5-6.4 8z"/><path class="c40" d="M254.3 667.6l0 .1-.2-.2z"/><path class="c44" d="M251.2 662.7l3.1 4.9-.2-.1-3.5-2.9-2.1-3.9z"/><path class="c45" d="M248.1 657.9l3.1 4.8-2.7-2-2.6-4.9z"/><path class="c46" d="M247.9 657.6l.2.3-2.2-2.1-1.7-3.1z"/><path class="m" d="M247.9 657.6l6.4 10.1-3.7-3.1-6.4-11.9z"/><path class="sc39" d="M84.8 676.3l6.5-1.1-3.8-3.8-6.4 1.5z"/><path class="c56" d="M186 596.8l-1.7.8.3-.4z"/><path class="c57" d="M192.8 591.7l-2.1 2.8-4.7 2.3-1.4.4 3-3.9z"/><path class="c58" d="M188 592.8l6.4-3.3-1.6 2.2-5.2 1.6z"/><path class="m" d="M188 592.8l6.4-3.3-3.7 5-6.4 3.1z"/><path class="c42" d="M294.7 682.5l-.8.3-6.4 1.4 1.1-.5z"/><path class="c41" d="M291.2 682.7l6.4-1.3-2.9 1.1-6.1 1.2z"/><path class="m" d="M291.2 682.7l6.4-1.3-3.7 1.4-6.4 1.4z"/><path class="c39" d="M128.1 677.6l4.3-4.4-1.6-2.2-6.4 4.5z"/><path class="c40" d="M132.4 673.2l2.2-2.2-3.7 0-.1 0z"/><path class="m" d="M128.1 677.6l6.5-6.6-3.7 0-6.5 4.5z"/><path class="c49" d="M235.7 636l2 4-3.7-4.9-.5-1.2z"/><path class="c50" d="M233.1 631l2.6 5-2.2-2.1-2.3-5z"/><path class="c51" d="M231.3 627.5l1.8 3.5-1.9-2.1-2.4-4.9 1.2 1.3z"/><path class="c52" d="M228.8 624l-1.2-2.6 2.4 3.9z"/><path class="m" d="M231.3 627.5l6.4 12.5-3.7-4.9-6.4-13.7z"/><path class="sc39" d="M68.2 676.3l6.5-1.8-3.7-2.5-6.5 2.2z"/><path class="c52" d="M170.1 618.4l-2.4 3.4 1.4-2.4z"/><path class="c53" d="M171.4 615.3l.1-.1 2.7-2.8 0 .1-4.1 5.9-1 1z"/><path class="c54" d="M171.5 615.2l3.6-6 1.2-1.2-2.1 4.4z"/><path class="c55" d="M175.1 609.2l2.8-4.4-1.6 3.2z"/><path class="m" d="M171.4 615.3l6.5-10.5-3.7 7.7-6.5 9.3z"/><path class="c42" d="M280.9 684.1l-3.6 1-4.8-1.9z"/><path class="c41" d="M274.6 682.5l6.4 1.6-.1 0-8.4-.9-1.6-.7z"/><path class="m" d="M274.6 682.5l6.4 1.6-3.7 1-6.4-2.6z"/><path class="c41" d="M111.5 681.8l6.5-2.7-1.5-1.4-8.1.2z"/><path class="c39" d="M116.5 677.7l-2.2-2.2-6.5 1.8.6.6z"/><path class="m" d="M111.5 681.8l6.5-2.7-3.7-3.6-6.5 1.8z"/><path class="c54" d="M221 609.1l.2.2-.4-.4z"/><path class="c55" d="M217.7 604.3l3.3 4.8-.2-.2-3.3-3.2-2.3-3.4z"/><path class="c56" d="M214.7 600l3 4.3-2.5-2-3.2-4.8 1.8 1.4z"/><path class="c57" d="M212 597.5l-1-1.5 2.8 2.9z"/><path class="m" d="M214.7 600l6.5 9.3-3.7-3.6-6.5-9.7z"/><path class="sc39" d="M317.9 677.6l6.5-.9-3.8-1.3-6.4 1.8z"/><path class="c47" d="M154.3 645.3l-3.2 5.1 2.8-3.3z"/><path class="c48" d="M154.8 646l2.1-4.1.9-2.4-.2.4-3.3 5.4-.4 1.8z"/><path class="c49" d="M156.9 641.9l3-5.8.3-.8-2.4 4.2z"/><path class="c50" d="M159.9 636.1l1.4-2.8-1.1 2z"/><path class="m" d="M154.8 646l6.5-12.7-3.7 6.6-6.5 10.5z"/><path class="c39" d="M261.1 674.3l3.4 3.4-3.7-1.6-2.9-3.7z"/><path class="c40" d="M258 671.1l3.1 3.2-3.2-1.9-3.6-4.7z"/><path class="m" d="M258 671.1l6.5 6.6-3.7-1.6-6.5-8.4z"/><path class="sc39" d="M95 679.5l6.4-.9-3.7-4.5-6.4 1.1z"/><path class="sc58" d="M198.2 588.9l6.4 1.4-3.7.4-6.5-1.2z"/><path class="c41" d="M306.9 679l-2.8.4-6.5 2 3.5-1.1z"/><path class="c39" d="M301.3 680.2l6.5-1.4-.9.2-5.8 1.3z"/><path class="m" d="M301.3 680.2l6.5-1.4-3.7.6-6.5 2z"/><path class="c40" d="M138.3 671l1.2-1.9-1.5-2.2-3.4 4.1z"/><path class="c44" d="M139.5 669.1l3.8-6-.3-1-2 1.3-3 3.5z"/><path class="c45" d="M143.3 663.1l1.4-2.1-1.7 1.1z"/><path class="m" d="M138.3 671l6.4-10-3.7 2.4-6.4 7.6z"/><path class="c46" d="M245.2 653l2.7 4.6-3.7-4.9-1-1.8z"/><path class="c47" d="M242.3 648.1l2.9 4.9-2-2.1-2.5-5z"/><path class="c48" d="M241.5 646.7l.8 1.4-1.6-2.2-2.5-4.9.3.4z"/><path class="c49" d="M238.2 641l-.5-1 .8 1.4z"/><path class="m" d="M241.5 646.7l6.4 10.9-3.7-4.9-6.5-12.7z"/><path class="sc39" d="M78.4 677.4l6.4-1.1-3.7-3.4-6.4 1.6z"/><path class="c55" d="M179.2 603.2l-1.3 1.6.8-1z"/><path class="c56" d="M181.6 600.5l.5-.7 2.5-2.6-.3.4-5.1 5.6-.5.6z"/><path class="c57" d="M182.1 599.8l5.2-6.2.3-.3-3 3.9z"/><path class="c58" d="M187.3 593.6l.7-.8-.4.5z"/><path class="m" d="M181.6 600.5l6.4-7.7-3.7 4.8-6.4 7.2z"/><path class="c42" d="M288.6 683.7l-1.1.5-5.8-.1z"/><path class="c41" d="M284.8 683l6.4-.3-2.6 1-6.9.4-.7 0z"/><path class="m" d="M284.8 683l6.4-.3-3.7 1.5-6.5-.1z"/><path class="c41" d="M121.7 682.8l3.9-3.2-5.9-1.4-1.7.9z"/><path class="c39" d="M125.6 679.6l2.5-2-3.7-2.1-4.7 2.7z"/><path class="m" d="M121.7 682.8l6.4-5.2-3.7-2.1-6.4 3.6z"/><path class="c51" d="M230.5 626.1l.8 1.4-1.3-2.2z"/><path class="c52" d="M227.7 621.2l2.8 4.9-.5-.8-2.4-3.9-1.3-2.4z"/><path class="c53" d="M224.9 616.4l2.8 4.8-1.4-2.2-2.6-4.9 1.1 2.2z"/><path class="c54" d="M223.7 614.1l-2.5-4.8 3.6 7z"/><path class="m" d="M224.9 616.4l6.4 11.1-3.7-6.1-6.4-12.1z"/><path class="c50" d="M163 630.2l-1.7 3.1 1.5-2z"/><path class="c51" d="M165 628.5l.8-1.7.5-2.5-3.3 5.9-.2 1.1z"/><path class="c52" d="M165.8 626.8l2.8-5.8.5-1.6-1.4 2.4-1.4 2.5z"/><path class="c53" d="M168.6 621l2.8-5.7-2.3 4.1z"/><path class="m" d="M165 628.5l6.4-13.2-3.7 6.5-6.4 11.5z"/><path class="c41" d="M270.7 680.5l3.9 2-3.7 0-4.9-3.6z"/><path class="c39" d="M268.2 679.3l2.5 1.2-4.7-1.6-1.5-1.2z"/><path class="m" d="M268.2 679.3l6.4 3.2-3.7 0-6.4-4.8z"/><path class="c41" d="M105.1 683.5l6.4-1.7-3.1-3.9-6.9.8z"/><path class="c39" d="M108.4 677.9l-.6-.6-6.4 1.3.1.1z"/><path class="m" d="M105.1 683.5l6.4-1.7-3.7-4.5-6.4 1.3z"/><path class="c56" d="M214.2 599.5l.5.5-.9-1.1z"/><path class="c57" d="M209 595l5.2 4.5-.4-.6-2.8-2.9-3.6-3.2z"/><path class="c58" d="M208.3 594.4l.7.6-1.6-2.2-2.8-2.5z"/><path class="m" d="M208.3 594.4l6.4 5.6-3.7-4-6.4-5.7z"/><path class="sc39" d="M311.5 678.6l6.4-1-3.7-.4-6.4 1.6z"/><path class="c45" d="M147 657.2l-2.3 3.8 3.4-1.8z"/><path class="c46" d="M148.4 659l2.7-5.4-.5-2.4-3.6 6 1.1 2z"/><path class="c47" d="M151.1 653.6l2.9-5.9-.1-.6-2.8 3.3-.5.8z"/><path class="c48" d="M154 647.7l.8-1.7-.9 1.1z"/><path class="m" d="M148.4 659l6.4-13-3.7 4.4-6.4 10.6z"/><path class="c40" d="M256.8 669.6l1.2 1.5-3.7-3.4 0-.1z"/><path class="c44" d="M253 664.9l3.8 4.7-2.5-2-3.1-4.9z"/><path class="c45" d="M251.6 663.2l1.4 1.7-1.8-2.2-3.1-4.8.1.2z"/><path class="c46" d="M248.1 657.9l-.2-.3.3.5z"/><path class="m" d="M251.6 663.2l6.4 7.9-3.7-3.4-6.4-10.1z"/><path class="sc39" d="M88.5 680.2l6.5-.7-3.7-4.3-6.5 1.1z"/><path class="sc58" d="M191.7 592.3l6.5-3.4-3.8.6-6.4 3.3z"/><path class="c41" d="M301.1 680.3l-3.5 1.1-6.4 1.3 3.6-1.3z"/><path class="c39" d="M294.9 681.4l6.4-1.2-.2.1-6.3 1.1z"/><path class="m" d="M294.9 681.4l6.4-1.2-3.7 1.2-6.4 1.3z"/><path class="c39" d="M131.8 679.7l3.4-4.6-2.8-1.9-4.3 4.4z"/><path class="c40" d="M135.2 675.1l3.1-4.1-3.7 0-2.2 2.2z"/><path class="m" d="M131.8 679.7l6.5-8.7-3.7 0-6.5 6.6z"/><path class="c48" d="M239.4 643.2l2.1 3.5-3-5.3z"/><path class="c49" d="M236.4 638.3l3 4.9-.9-1.8-.8-1.4-2-4z"/><path class="c50" d="M235 636l1.4 2.3-.7-2.3-2.6-5 .4 1.4z"/><path class="c51" d="M233.1 631l-1.8-3.5 2.2 4.9z"/><path class="m" d="M235 636l6.5 10.7-3.8-6.7-6.4-12.5z"/><path class="sc39" d="M71.9 678.5l6.5-1.1-3.7-2.9-6.5 1.8z"/><path class="c53" d="M171.5 615.2l-.1.1.1-.1z"/><path class="c54" d="M175.1 611.9l.2-.3-.2-2.4-3.6 6 0 0z"/><path class="c55" d="M175.3 611.6l3.3-5.8.1-2-.8 1-2.8 4.4z"/><path class="c56" d="M178.6 605.8l3-5.3-2.9 3.3z"/><path class="m" d="M175.1 611.9l6.5-11.4-3.7 4.3-6.5 10.5z"/><path class="sc41" d="M278.3 682.4l6.5.6-3.8 1.1-6.4-1.6z"/><path class="sc41" d="M115.2 686.5l6.5-3.7-3.7-3.7-6.5 2.7z"/><path class="c53" d="M224.8 616.3l.1.1-.1-.1z"/><path class="c54" d="M221.2 611.5l3.6 4.8 0 0-3.6-7-.2-.2z"/><path class="c55" d="M218.4 607.9l2.8 3.6-.2-2.4-3.3-4.8-.1 1.9z"/><path class="c56" d="M217.7 604.3l-3-4.3 2.9 6.2z"/><path class="m" d="M218.4 607.9l6.5 8.5-3.7-7.1-6.5-9.3z"/><path class="sc39" d="M321.6 678.4l6.5-.3-3.7-1.4-6.5.9z"/><path class="c48" d="M156.9 641.9l-2.1 4.1 3-2.3z"/><path class="c49" d="M158.6 643l2-4.6-.7-2.3-3 5.8.9 1.8z"/><path class="c50" d="M160.6 638.4l2.6-5.8-.4-1.3-1.5 2-1.4 2.8z"/><path class="c51" d="M163.2 632.6l1.8-4.1-2.2 2.8z"/><path class="m" d="M158.6 643l6.4-14.5-3.7 4.8-6.5 12.7z"/><path class="c39" d="M263.9 676.2l4.3 3.1-3.7-1.6-3.4-3.4z"/><path class="c40" d="M261.7 674.7l2.2 1.5-2.8-1.9-3.1-3.2z"/><path class="m" d="M261.7 674.7l6.5 4.6-3.7-1.6-6.5-6.6z"/><path class="c41" d="M98.7 684.3l6.4-.8-3.6-4.8-6.3 1.1z"/><path class="c39" d="M101.5 678.7l-.1-.1-6.4.9.2.3z"/><path class="m" d="M98.7 684.3l6.4-.8-3.7-4.9-6.4.9z"/><path class="sc58" d="M201.9 593.1l6.4 1.3-3.7-4.1-6.4-1.4z"/><path class="sc39" d="M305 679.5l6.5-.9-3.7.2-6.5 1.4z"/><path class="c40" d="M142 671.2l0-.1-2.5-2-1.2 1.9z"/><path class="c44" d="M142 671.1l3.1-5.9-1.8-2.1-3.8 6z"/><path class="c45" d="M145.1 665.2l3.1-5.8-.1-.2-3.4 1.8-1.4 2.1z"/><path class="c46" d="M148.2 659.4l.2-.4-.3.2z"/><path class="m" d="M142 671.2l6.4-12.2-3.7 2-6.4 10z"/><path class="c45" d="M249.3 660.1l2.3 3.1-3.4-5.1z"/><path class="c46" d="M245.7 655.3l3.6 4.8-1.1-2-.3-.5-2.7-4.6z"/><path class="c47" d="M245.2 654.6l.5.7-.5-2.3-2.9-4.9.1.6z"/><path class="c48" d="M242.3 648.1l-.8-1.4.9 2z"/><path class="m" d="M245.2 654.6l6.4 8.6-3.7-5.6-6.4-10.9z"/><path class="sc39" d="M82.1 680.6l6.4-.4-3.7-3.9-6.4 1.1z"/><path class="c56" d="M182.1 599.8l-.5.7.9-.1z"/><path class="c57" d="M185.3 600.2l3.6-4.4-1.6-2.2-5.2 6.2.4.6z"/><path class="c58" d="M188.9 595.8l2.8-3.5-3.7.5-.7.8z"/><path class="m" d="M185.3 600.2l6.4-7.9-3.7.5-6.4 7.7z"/><path class="c41" d="M294.8 681.4l-3.6 1.3-6.4.3 3.1-.8z"/><path class="c39" d="M288.5 682.1l6.4-.7-.1 0-6.9.8z"/><path class="m" d="M288.5 682.1l6.4-.7-3.7 1.3-6.4.3z"/><path class="c41" d="M125.4 686.5l4.9-5.2-4.7-1.7-3.9 3.2z"/><path class="c39" d="M130.3 681.3l1.5-1.6-3.7-2.1-2.5 2z"/><path class="m" d="M125.4 686.5l6.4-6.8-3.7-2.1-6.4 5.2z"/><path class="c50" d="M233.3 633.4l1.7 2.6-1.5-3.6z"/><path class="c51" d="M230 628.6l3.3 4.8.2-1-2.2-4.9-.8-1.4z"/><path class="c52" d="M228.6 626.5l1.4 2.1.5-2.5-2.8-4.9-.5 1.6z"/><path class="c53" d="M227.7 621.2l-2.8-4.8 2.3 6.4z"/><path class="m" d="M228.6 626.5l6.4 9.5-3.7-8.5-6.4-11.1z"/><path class="c51" d="M165.8 626.8l-.8 1.7 1.3-.9z"/><path class="c52" d="M168.7 626l1.3-2.8-1.4-2.2-2.8 5.8.5.8z"/><path class="c53" d="M170 623.2l2.6-5.8-1.1-2.2-.1.1-2.8 5.7z"/><path class="c54" d="M172.6 617.4l2.5-5.5-3.6 3.3z"/><path class="m" d="M168.7 626l6.4-14.1-3.7 3.4-6.4 13.2z"/><path class="c41" d="M276.6 682l1.7.4-3.7.1-3.9-2z"/><path class="c39" d="M271.9 680.8l4.7 1.2-5.9-1.5-2.5-1.2z"/><path class="m" d="M271.9 680.8l6.4 1.6-3.7.1-6.4-3.2z"/><path class="c42" d="M108.8 688.7l5.8-1.9-6.9.3z"/><path class="c41" d="M114.6 686.8l.6-.3-3.7-4.7-6.4 1.7 2.6 3.6z"/><path class="m" d="M108.8 688.7l6.4-2.2-3.7-4.7-6.4 1.7z"/><path class="c55" d="M217.1 606.8l1.3 1.1-.8-1.7z"/><path class="c56" d="M212 602.8l5.1 4 .5-.6-2.9-6.2-.5-.5-2.5 2.6z"/><path class="c57" d="M214.2 599.5l-5.2-4.5-.3.3 3 6.8z"/><path class="c58" d="M209 595l-.7-.6.4.9z"/><path class="m" d="M212 602.8l6.4 5.1-3.7-7.9-6.4-5.6z"/><path class="sc39" d="M315.2 678.8l6.4-.4-3.7-.8-6.4 1z"/><path class="c46" d="M152.1 657.8l1-2.1-2-2.1-2.7 5.4z"/><path class="c47" d="M153.1 655.7l2.5-5.8-1.6-2.2-2.9 5.9z"/><path class="c48" d="M155.6 649.9l2.5-5.8-.3-.4-3 2.3-.8 1.7z"/><path class="c49" d="M158.1 644.1l.5-1.1-.8.7z"/><path class="m" d="M152.1 657.8l6.5-14.8-3.8 3-6.4 13z"/><path class="c40" d="M258.3 671.8l3.4 2.9-3.7-3.6-1.2-1.5z"/><path class="c44" d="M255.3 669.2l3 2.6-1.5-2.2-3.8-4.7.3 1z"/><path class="c45" d="M253 664.9l-1.4-1.7 1.7 2.7z"/><path class="m" d="M255.3 669.2l6.4 5.5-3.7-3.6-6.4-7.9z"/><path class="c41" d="M92.2 684.4l6.5-.1-3.5-4.5-5.8 1.4z"/><path class="c39" d="M95.2 679.8l-.2-.3-6.5.7.9 1z"/><path class="m" d="M92.2 684.4l6.5-.1-3.7-4.8-6.5.7z"/><path class="sc58" d="M195.4 596.4l6.5-3.3-3.7-4.2-6.5 3.4z"/><path class="sc39" d="M298.6 680.6l6.4-1.1-3.7.7-6.4 1.2z"/><path class="c39" d="M135.5 681.7l2.9-4.7-3.2-1.9-3.4 4.6z"/><path class="c40" d="M138.4 677l3.6-5.8-3.7-.2-3.1 4.1z"/><path class="m" d="M135.5 681.7l6.5-10.5-3.7-.2-6.5 8.7z"/><path class="c47" d="M242 650.5l3.2 4.1-2.8-5.9z"/><path class="c48" d="M238.7 646.2l3.3 4.3.4-1.8-.9-2-2.1-3.5-.9 2.4z"/><path class="c49" d="M239.4 643.2l-3-4.9-.3.8 2.4 6.5z"/><path class="c50" d="M236.4 638.3l-1.4-2.3 1.1 3.1z"/><path class="m" d="M238.7 646.2l6.5 8.4-3.7-7.9-6.5-10.7z"/><path class="sc39" d="M75.7 680.9l6.4-.3-3.7-3.2-6.5 1.1z"/><path class="c54" d="M175.3 611.6l-.2.3.4 0z"/><path class="c55" d="M178.8 611.9l2.3-4.1-2.5-2-3.3 5.8.2.3z"/><path class="c56" d="M181.1 607.8l3.2-5.9-1.8-1.5-.9.1-3 5.3z"/><path class="c57" d="M184.3 601.9l1-1.7-2.8.2z"/><path class="m" d="M178.8 611.9l6.5-11.7-3.7.3-6.5 11.4z"/><path class="c41" d="M287.9 682.2l-3.1.8-6.5-.6 1.5 0z"/><path class="c39" d="M282 682.5l6.5-.4-.6.1-8.1.2z"/><path class="m" d="M282 682.5l6.5-.4-3.7.9-6.5-.6z"/><path class="c42" d="M119 691.2l4.8-3.5-8.4-1z"/><path class="c41" d="M123.8 687.7l1.6-1.2-3.7-3.7-6.5 3.7.2.2z"/><path class="m" d="M119 691.2l6.4-4.7-3.7-3.7-6.5 3.7z"/><path class="c52" d="M226.2 623.9l2.4 2.6-1.4-3.7z"/><path class="c53" d="M222.1 619.3l4.1 4.6 1-1.1-2.3-6.4-.1-.1-2.7 2.8z"/><path class="c54" d="M224.8 616.3l-3.6-4.8-1.2 1.2 2.1 6.4z"/><path class="c55" d="M221.2 611.5l-2.8-3.6 1.6 4.8z"/><path class="m" d="M222.1 619.3l6.5 7.2-3.7-10.1-6.5-8.5z"/><path class="sc39" d="M325.3 679.6l6.5 0-3.7-1.5-6.5.3z"/><path class="c49" d="M162.3 641.8l.5-1.4-2.2-2-2 4.6z"/><path class="c50" d="M162.8 640.4l2.3-5.7-1.9-2.1-2.6 5.8z"/><path class="c51" d="M165.1 634.7l2.4-5.7-1.2-1.4-1.3.9-1.8 4.1z"/><path class="c52" d="M167.5 629l1.2-3-2.4 1.6z"/><path class="m" d="M162.3 641.8l6.4-15.8-3.7 2.5-6.4 14.5z"/><path class="c39" d="M265.5 678.4l6.4 2.4-3.7-1.5-4.3-3.1z"/><path class="c40" d="M265.4 678.4l.1 0-1.6-2.2-2.2-1.5z"/><path class="m" d="M265.4 678.4l6.5 2.4-3.7-1.5-6.5-4.6z"/><path class="c42" d="M102.4 689.3l6.4-.6-1.1-1.6-6.1 1.3z"/><path class="c41" d="M107.7 687.1l-2.6-3.6-6.4.8 2.9 4.1z"/><path class="m" d="M102.4 689.3l6.4-.6-3.7-5.2-6.4.8z"/><path class="c56" d="M210.3 602.6l1.7.2-.3-.7z"/><path class="c57" d="M205.6 601.8l4.7.8 1.4-.5-3-6.8-5.2 1.6z"/><path class="c58" d="M208.7 595.3l-.4-.9-6.4-1.3 1.6 3.8z"/><path class="m" d="M205.6 601.8l6.4 1-3.7-8.4-6.4-1.3z"/><path class="sc39" d="M308.8 679.4l6.4-.6-3.7-.2-6.5.9z"/><path class="c40" d="M142 671.1l0 .1.2 0z"/><path class="c44" d="M145.7 671.8l2.1-4.6-2.7-2-3.1 5.9.2.1z"/><path class="c45" d="M147.8 667.2l2.6-5.7-2.2-2.1-3.1 5.8z"/><path class="c46" d="M150.4 661.5l1.7-3.7-3.7 1.2-.2.4z"/><path class="m" d="M145.7 671.8l6.4-14-3.7 1.2-6.4 12.2z"/><path class="c44" d="M253.1 667.3l2.2 1.9-2-3.3z"/><path class="c45" d="M248.9 663.3l4.2 4 .2-1.4-1.7-2.7-2.3-3.1-.8 2.3z"/><path class="c46" d="M249.3 660.1l-3.6-4.8-.1.3 2.9 6.8z"/><path class="c47" d="M245.7 655.3l-.5-.7.4 1z"/><path class="m" d="M248.9 663.3l6.4 5.9-3.7-6-6.4-8.6z"/><path class="c41" d="M85.8 684l6.4.4-2.8-3.2-4.6 1.9z"/><path class="c39" d="M89.4 681.2l-.9-1-6.4.4 2.7 2.5z"/><path class="m" d="M85.8 684l6.4.4-3.7-4.2-6.4.4z"/><path class="c56" d="M189 604.1l.5-.6-1.5-.4z"/><path class="c57" d="M189.5 603.5l5.2-6.2-5.8-1.5-3.6 4.4 2.7 2.9z"/><path class="c58" d="M194.7 597.3l.7-.9-3.7-4.1-2.8 3.5z"/><path class="m" d="M189 604.1l6.4-7.7-3.7-4.1-6.4 7.9z"/><path class="sc39" d="M292.2 681.6l6.4-1-3.7.8-6.4.7z"/><path class="c42" d="M129.1 690l.6-.8-2.2-.7z"/><path class="c41" d="M129.7 689.2l4.8-6.2-4.2-1.7-4.9 5.2 2.1 2z"/><path class="c39" d="M134.5 683l1-1.3-3.7-2-1.5 1.6z"/><path class="m" d="M129.1 690l6.4-8.3-3.7-2-6.4 6.8z"/><path class="c48" d="M238.3 645.8l.4.4-.2-.6z"/><path class="c49" d="M234.2 641.1l4.1 4.7.2-.2-2.4-6.5z"/><path class="c50" d="M232.3 638.8l1.9 2.3 1.9-2-1.1-3.1-1.7-2.6-2 2.1z"/><path class="c51" d="M233.3 633.4l-3.3-4.8-.6.6 1.9 6.3z"/><path class="c52" d="M230 628.6l-1.4-2.1.8 2.7z"/><path class="m" d="M232.3 638.8l6.4 7.4-3.7-10.2-6.4-9.5z"/><path class="c52" d="M172.4 626.4l.5-1.2-2.9-2-1.3 2.8z"/><path class="c53" d="M172.9 625.2l2.6-5.8-2.9-2-2.6 5.8z"/><path class="c54" d="M175.5 619.4l2.6-5.8-2.6-1.7-.4 0-2.5 5.5z"/><path class="c55" d="M178.1 613.6l.7-1.7-3.3 0z"/><path class="m" d="M172.4 626.4l6.4-14.5-3.7 0-6.4 14.1z"/><path class="c41" d="M279.8 682.4l-1.5 0-1.7-.4z"/><path class="c39" d="M275.6 682.4l6.4.1-2.2-.1-3.2-.4-4.7-1.2z"/><path class="m" d="M275.6 682.4l6.4.1-3.7-.1-6.4-1.6z"/><path class="c42" d="M112.5 693.7l6.5-2.5-3.6-4.5-.8.1-5.8 1.9z"/><path class="c41" d="M115.4 686.7l-.2-.2-.6.3z"/><path class="m" d="M112.5 693.7l6.5-2.5-3.8-4.7-6.4 2.2z"/><path class="c53" d="M222 619.2l.1.1 0-.2z"/><path class="c54" d="M215.7 615l6.3 4.2.1-.1-2.1-6.4-4.4 2.1z"/><path class="c55" d="M220 612.7l-1.6-4.8-1.3-1.1-3.4 1.7 1.9 6.3z"/><path class="c56" d="M217.1 606.8l-5.1-4 1.7 5.7z"/><path class="m" d="M215.7 615l6.4 4.3-3.7-11.4-6.4-5.1z"/><path class="sc39" d="M318.9 679.6l6.4 0-3.7-1.2-6.4.4z"/><path class="c46" d="M155.8 657.7l.1-.1-2.8-1.9-1 2.1z"/><path class="c47" d="M155.9 657.6l2.3-5.7-2.6-2-2.5 5.8z"/><path class="c48" d="M158.2 651.9l2.3-5.7-2.4-2.1-2.5 5.8z"/><path class="c49" d="M160.5 646.2l1.8-4.4-3.7 1.2-.5 1.1z"/><path class="m" d="M155.8 657.7l6.5-15.9-3.7 1.2-6.5 14.8z"/><path class="c40" d="M259 675.4l6.4 3-3.7-3.7-3.4-2.9-.4 1.7z"/><path class="c44" d="M258.3 671.8l-3-2.6 2.6 4.3z"/><path class="m" d="M259 675.4l6.4 3-3.7-3.7-6.4-5.5z"/><path class="c42" d="M99.7 689.1l2.7.2-.8-.9z"/><path class="c41" d="M95.9 688.9l3.8.2 1.9-.7-2.9-4.1-6.5.1z"/><path class="m" d="M95.9 688.9l6.5.4-3.7-5-6.5.1z"/><path class="c56" d="M199.1 604.9l1.7-.8-2 .1z"/><path class="c57" d="M200.8 604.1l4.8-2.3-2.1-4.9-7.7.5 3 6.8z"/><path class="c58" d="M203.5 596.9l-1.6-3.8-6.5 3.3.4 1z"/><path class="m" d="M199.1 604.9l6.5-3.1-3.7-8.7-6.5 3.3z"/><path class="sc39" d="M302.3 680.4l6.5-1-3.8.1-6.4 1.1z"/><path class="c39" d="M139.2 683.8l2.6-4.9-3.4-1.9-2.9 4.7z"/><path class="c40" d="M141.8 678.9l3.2-5.9-2.8-1.8-.2 0-3.6 5.8z"/><path class="c44" d="M145 673l.7-1.2-3.5-.6z"/><path class="m" d="M139.2 683.8l6.5-12-3.7-.6-6.5 10.5z"/><path class="c45" d="M248.2 662.7l.7.6-.4-.9z"/><path class="c46" d="M243.2 658.1l5 4.6.3-.3-2.9-6.8z"/><path class="c47" d="M242.4 657.5l.8.6 2.4-2.5-.4-1-3.2-4.1-1.4 1.5z"/><path class="c48" d="M242 650.5l-3.3-4.3 1.9 5.8z"/><path class="m" d="M242.4 657.5l6.5 5.8-3.7-8.7-6.5-8.4z"/><path class="c41" d="M84.1 683.9l1.7.1-1-.9z"/><path class="c39" d="M79.4 683.4l4.7.5.7-.8-2.7-2.5-6.4.3z"/><path class="m" d="M79.4 683.4l6.4.6-3.7-3.4-6.4.3z"/><path class="c54" d="M182.5 615.5l.2-.2-.6-.2z"/><path class="c55" d="M182.7 615.3l3.3-5.9-4.9-1.6-2.3 4.1 3.3 3.2z"/><path class="c56" d="M186 609.4l3-5.3-1-1-3.7-1.2-3.2 5.9z"/><path class="c57" d="M188 603.1l-2.7-2.9-1 1.7z"/><path class="m" d="M182.5 615.5l6.5-11.4-3.7-3.9-6.5 11.7z"/><path class="sc39" d="M285.7 682.8l6.5-1.2-3.7.5-6.5.4z"/><path class="c42" d="M122.7 695.6l6.4-5.6-1.6-1.5-3.7-.8-4.8 3.5z"/><path class="c41" d="M127.5 688.5l-2.1-2-1.6 1.2z"/><path class="m" d="M122.7 695.6l6.4-5.6-3.7-3.5-6.4 4.7z"/><path class="c50" d="M229.6 636.5l2.7 2.3-1-3.3z"/><path class="c51" d="M225.8 633.2l3.8 3.3 1.7-1-1.9-6.3-4 2.3z"/><path class="c52" d="M229.4 629.2l-.8-2.7-2.4-2.6-2.5 1.4 1.7 6.2z"/><path class="c53" d="M226.2 623.9l-4.1-4.6 1.6 6z"/><path class="m" d="M225.8 633.2l6.5 5.6-3.7-12.3-6.5-7.2z"/><path class="sc39" d="M329 681.1l6.5.2-3.7-1.7-6.5 0z"/><path class="c49" d="M166 642.5l0-.2-3.2-1.9-.5 1.4z"/><path class="c50" d="M166 642.3l2.3-5.7-3.2-1.9-2.3 5.7z"/><path class="c51" d="M168.3 636.6l2.3-5.7-3.1-1.9-2.4 5.7z"/><path class="c52" d="M170.6 630.9l1.8-4.5-3.7-.4-1.2 3z"/><path class="m" d="M166 642.5l6.4-16.1-3.7-.4-6.4 15.8z"/><path class="c39" d="M269.2 681.9l6.4.5-3.7-1.6-6.4-2.4 0 0z"/><path class="c40" d="M265.5 678.4l-.1 0 .1 0z"/><path class="m" d="M269.2 681.9l6.4.5-3.7-1.6-6.5-2.4z"/><path class="sc42" d="M106.1 694.3l6.4-.6-3.7-5-6.4.6z"/><path class="c54" d="M215 614.9l.7.1-.1-.2z"/><path class="c55" d="M209.3 614.2l5.7.7.6-.1-1.9-6.3-5.7 1.4z"/><path class="c56" d="M213.7 608.5l-1.7-5.7-1.7-.2-4.2 1 1.9 6.3z"/><path class="c57" d="M210.3 602.6l-4.7-.8.5 1.8z"/><path class="m" d="M209.3 614.2l6.4.8-3.7-12.2-6.4-1z"/><path class="c39" d="M317.7 679.7l1.2-.1-3.7-.8-6.4.6 2.1.4z"/><path class="c40" d="M312.5 680l5.2-.3-6.8.1z"/><path class="m" d="M312.5 680l6.4-.4-3.7-.8-6.4.6z"/><path class="c44" d="M149.4 672.8l1.5-3.6-3.1-2-2.1 4.6z"/><path class="c45" d="M150.9 669.2l2.5-5.8-3-1.9-2.6 5.7z"/><path class="c46" d="M153.4 663.4l2.4-5.7-3.7.1-1.7 3.7z"/><path class="m" d="M149.4 672.8l6.4-15.1-3.7.1-6.4 14z"/><path class="c40" d="M257.1 674.4l1.9 1-1.1-1.9z"/><path class="c44" d="M252.6 672.1l4.5 2.3.8-.9-2.6-4.3-2.2-1.9-1.8 1.9z"/><path class="c45" d="M253.1 667.3l-4.2-4 2.4 5.9z"/><path class="m" d="M252.6 672.1l6.4 3.3-3.7-6.2-6.4-5.9z"/><path class="sc41" d="M89.5 687.6l6.4 1.3-3.7-4.5-6.4-.4z"/><path class="c55" d="M192.7 612l1.4-1.5-2.2-.1z"/><path class="c56" d="M194.1 610.5l5-5.6-.3-.7-9.3-.7-.5.6 2.9 6.3z"/><path class="c57" d="M198.8 604.2l-3-6.8-1.1-.1-5.2 6.2z"/><path class="c58" d="M195.8 597.4l-.4-1-.7.9z"/><path class="m" d="M192.7 612l6.4-7.1-3.7-8.5-6.4 7.7z"/><path class="sc39" d="M295.9 681.7l6.4-1.3-3.7.2-6.4 1z"/><path class="c42" d="M132.8 693.1l1.6-2.3-4.7-1.6-.6.8z"/><path class="c41" d="M134.4 690.8l4.1-6-4-1.8-4.8 6.2z"/><path class="c39" d="M138.5 684.8l.7-1-3.7-2.1-1 1.3z"/><path class="m" d="M132.8 693.1l6.4-9.3-3.7-2.1-6.4 8.3z"/><path class="c47" d="M237.6 653.7l4.8 3.8-1.8-5.5z"/><path class="c48" d="M236 652.4l1.6 1.3 3-1.7-1.9-5.8-.4-.4-3.5 2.2z"/><path class="c49" d="M238.3 645.8l-4.1-4.7-1.1.7 1.7 6.2z"/><path class="c50" d="M234.2 641.1l-1.9-2.3.8 3z"/><path class="m" d="M236 652.4l6.4 5.1-3.7-11.3-6.4-7.4z"/><path class="c52" d="M176.1 629.7l1.3-2.8-4.5-1.7-.5 1.2z"/><path class="c53" d="M177.4 626.9l2.6-5.8-4.5-1.7-2.6 5.8z"/><path class="c54" d="M180 621.1l2.5-5.6-.4-.4-4-1.5-2.6 5.8z"/><path class="c55" d="M182.1 615.1l-3.3-3.2-.7 1.7z"/><path class="m" d="M176.1 629.7l6.4-14.2-3.7-3.6-6.4 14.5z"/><path class="sc39" d="M279.3 684l6.4-1.2-3.7-.3-6.4-.1z"/><path class="c43" d="M116.2 698.5l6.2-2.8-8.5-.1z"/><path class="c42" d="M122.4 695.7l.3-.1-3.7-4.4-6.5 2.5 1.4 1.9z"/><path class="m" d="M116.2 698.5l6.5-2.9-3.7-4.4-6.5 2.5z"/><path class="c51" d="M223.6 632.1l2.2 1.1-.4-1.7z"/><path class="c52" d="M219.4 630l4.2 2.1 1.8-.6-1.7-6.2-5 1.7z"/><path class="c53" d="M223.7 625.3l-1.6-6-.1-.1-4.8 1.7 1.5 6.1z"/><path class="c54" d="M222 619.2l-6.3-4.2 1.5 5.9z"/><path class="m" d="M219.4 630l6.4 3.2-3.7-13.9-6.4-4.3z"/><path class="c39" d="M324.3 681.1l4.7 0-3.7-1.5-6.4 0 1.1.5z"/><path class="c40" d="M322.6 681l1.7.1-4.3-1z"/><path class="m" d="M322.6 681l6.4.1-3.7-1.5-6.4 0z"/><path class="c46" d="M155.9 657.6l-.1.1.6.2z"/><path class="c47" d="M159.5 658.9l2-5.1-3.3-1.9-2.3 5.7.5.3z"/><path class="c48" d="M161.5 653.8l2.3-5.7-3.3-1.9-2.3 5.7z"/><path class="c49" d="M163.8 648.1l2.2-5.6-3.7-.7-1.8 4.4z"/><path class="m" d="M159.5 658.9l6.5-16.4-3.7-.7-6.5 15.9z"/><path class="c39" d="M262.8 681.3l6.4.6-3.7-3.5z"/><path class="c40" d="M262.7 681.3l.1 0 2.7-2.9-.1 0-6.4-3z"/><path class="m" d="M262.7 681.3l6.5.6-3.8-3.5-6.4-3z"/><path class="c42" d="M99.6 693.2l6.5 1.1-3.7-5-2.7-.2-2.5 1.3z"/><path class="c41" d="M99.7 689.1l-3.8-.2 1.3 1.5z"/><path class="m" d="M99.6 693.2l6.5 1.1-3.7-5-6.5-.4z"/><path class="c54" d="M202.8 617.1l.7-.3-.7.1z"/><path class="c55" d="M203.5 616.8l5.8-2.6-1.3-4.3-7.2.7 2 6.3z"/><path class="c56" d="M208 609.9l-1.9-6.3-5.3.5-1.7.8 1.7 5.7z"/><path class="c57" d="M206.1 603.6l-.5-1.8-4.8 2.3z"/><path class="m" d="M202.8 617.1l6.5-2.9-3.7-12.4-6.5 3.1z"/><path class="c39" d="M310.9 679.8l-2.1-.4-6.5 1 1.8.2z"/><path class="c40" d="M306 680.9l6.5-.9-1.6-.2-6.8.8z"/><path class="m" d="M306 680.9l6.5-.9-3.7-.6-6.5 1z"/><path class="c39" d="M143 685.7l2.4-4.9-3.6-1.9-2.6 4.9z"/><path class="c40" d="M145.4 680.8l2.9-5.9-3.3-1.9-3.2 5.9z"/><path class="c44" d="M148.3 674.9l1.1-2.1-3.7-1-.7 1.2z"/><path class="m" d="M143 685.7l6.4-12.9-3.7-1-6.5 12z"/><path class="c44" d="M249 670.3l3.6 1.8-1.3-2.9z"/><path class="c45" d="M246.1 668.9l2.9 1.4 2.3-1.1-2.4-5.9-.7-.6-3.4 2.1z"/><path class="c46" d="M248.2 662.7l-5-4.6-.5.3 2.1 6.4z"/><path class="c47" d="M243.2 658.1l-.8-.6.3.9z"/><path class="m" d="M246.1 668.9l6.5 3.2-3.7-8.8-6.5-5.8z"/><path class="c41" d="M84.3 686.3l5.2 1.3-3.7-3.6-1.7-.1z"/><path class="c39" d="M83.1 685.9l1.2.4-.2-2.4-4.7-.5z"/><path class="m" d="M83.1 685.9l6.4 1.7-3.7-3.6-6.4-.6z"/><path class="c53" d="M186.3 622.6l0-.1-.1 0z"/><path class="c54" d="M186.3 622.5l3.7-6-7.3-1.2-.2.2 3.7 7z"/><path class="c55" d="M190 616.5l2.7-4.5-.8-1.6-5.9-1-3.3 5.9z"/><path class="c56" d="M191.9 610.4l-2.9-6.3-3 5.3z"/><path class="m" d="M186.3 622.6l6.4-10.6-3.7-7.9-6.5 11.4z"/><path class="sc39" d="M289.4 683.5l6.5-1.8-3.7-.1-6.5 1.2z"/><path class="c43" d="M126.4 699.4l2.3-2.3-5.9-1.4z"/><path class="c42" d="M128.7 697.1l4.1-4-3.7-3.1-6.4 5.6.1.1z"/><path class="m" d="M126.4 699.4l6.4-6.3-3.7-3.1-6.4 5.6z"/><path class="c48" d="M230.9 649.4l5.1 3-1.2-4.4z"/><path class="c49" d="M229.6 648.6l1.3.8 3.9-1.4-1.7-6.2-4.7 1.9z"/><path class="c50" d="M233.1 641.8l-.8-3-2.7-2.3-2.7 1.1 1.5 6.1z"/><path class="c51" d="M229.6 636.5l-3.8-3.3 1.1 4.4z"/><path class="m" d="M229.6 648.6l6.4 3.8-3.7-13.6-6.5-5.6z"/><path class="sc39" d="M332.7 683l6.5.2-3.7-1.9-6.5-.2z"/><path class="c49" d="M169.7 645.4l.5-1.3-4.2-1.8 0 .2z"/><path class="c50" d="M170.2 644.1l2.4-5.7-4.3-1.8-2.3 5.7z"/><path class="c51" d="M172.6 638.4l2.3-5.8-4.3-1.7-2.3 5.7z"/><path class="c52" d="M174.9 632.6l1.2-2.9-3.7-3.3-1.8 4.5z"/><path class="m" d="M169.7 645.4l6.4-15.7-3.7-3.3-6.4 16.1z"/><path class="sc39" d="M272.9 685.2l6.4-1.2-3.7-1.6-6.4-.5z"/><path class="c43" d="M109.8 698.9l6.4-.4-2.3-2.9-5.7 1.3z"/><path class="c42" d="M113.9 695.6l-1.4-1.9-6.4.6 2.1 2.6z"/><path class="m" d="M109.8 698.9l6.4-.4-3.7-4.8-6.4.6z"/><path class="c52" d="M213 629.5l6.4.5-.7-3-6 1.2z"/><path class="c53" d="M218.7 627l-1.5-6.1-6 1.3 1.5 6z"/><path class="c54" d="M217.2 620.9l-1.5-5.9-.7-.1-5.3 1.2 1.5 6.1z"/><path class="c55" d="M215 614.9l-5.7-.7.4 1.9z"/><path class="m" d="M213 629.5l6.4.5-3.7-15-6.4-.8z"/><path class="c39" d="M320 680.1l-1.1-.5-1.2.1z"/><path class="c40" d="M316.2 681.4l6.4-.4-2.6-.9-2.3-.4-5.2.3z"/><path class="m" d="M316.2 681.4l6.4-.4-3.7-1.4-6.4.4z"/><path class="c44" d="M153.1 674.3l1.4-3.3-3.6-1.8-1.5 3.6z"/><path class="c45" d="M154.5 671l2.4-5.7-3.5-1.9-2.5 5.8z"/><path class="c46" d="M156.9 665.3l2.4-5.8-2.9-1.6-.6-.2-2.4 5.7z"/><path class="c47" d="M159.3 659.5l.2-.6-3.1-1z"/><path class="m" d="M153.1 674.3l6.4-15.4-3.7-1.2-6.4 15.1z"/><path class="c40" d="M256.3 680.5l6.4.8-3.7-5.9-1.9-1-2.8 1.6z"/><path class="c44" d="M257.1 674.4l-4.5-2.3 1.7 3.9z"/><path class="m" d="M256.3 680.5l6.4.8-3.7-5.9-6.4-3.3z"/><path class="c42" d="M96.3 692.1l3.3 1.1-2.4-2.8z"/><path class="c41" d="M93.2 691.1l3.1 1 .9-1.7-1.3-1.5-6.4-1.3z"/><path class="m" d="M93.2 691.1l6.4 2.1-3.7-4.3-6.4-1.3z"/><path class="c53" d="M196.4 623.4l.2-.1-.3 0z"/><path class="c54" d="M196.6 623.3l6.2-6.2 0-.2-8.5 0 2 6.4z"/><path class="c55" d="M202.8 616.9l-2-6.3-6.7-.1-1.4 1.5 1.6 4.9z"/><path class="c56" d="M200.8 610.6l-1.7-5.7-5 5.6z"/><path class="m" d="M196.4 623.4l6.4-6.3-3.7-12.2-6.4 7.1z"/><path class="c39" d="M304.1 680.6l-1.8-.2-6.4 1.3 3 .6z"/><path class="c40" d="M299.6 682.4l6.4-1.5-1.9-.3-5.2 1.7z"/><path class="m" d="M299.6 682.4l6.4-1.5-3.7-.5-6.4 1.3z"/><path class="c42" d="M136.5 695.8l2.1-3.2-4.2-1.8-1.6 2.3z"/><path class="c41" d="M138.6 692.6l3.8-6-3.9-1.8-4.1 6z"/><path class="c39" d="M142.4 686.6l.6-.9-3.8-1.9-.7 1z"/><path class="m" d="M136.5 695.8l6.5-10.1-3.8-1.9-6.4 9.3z"/><path class="c45" d="M240.3 666.4l5.8 2.5-1.3-4.1z"/><path class="c46" d="M239.7 666.1l.6.3 4.5-1.6-2.1-6.4-4.6 1.9z"/><path class="c47" d="M242.7 658.4l-.3-.9-4.8-3.8-1.1.5 1.6 6.1z"/><path class="c48" d="M237.6 653.7l-1.6-1.3.5 1.8z"/><path class="m" d="M239.7 666.1l6.4 2.8-3.7-11.4-6.4-5.1z"/><path class="c51" d="M179.8 635.8l.8-1.7-2.1-.5z"/><path class="c52" d="M180.6 634.1l2.9-5.8-6.1-1.4-1.3 2.8 2.4 3.9z"/><path class="c53" d="M183.5 628.3l2.8-5.7-.1-.1-6.2-1.4-2.6 5.8z"/><path class="c54" d="M186.2 622.5l-3.7-7-2.5 5.6z"/><path class="m" d="M179.8 635.8l6.5-13.2-3.8-7.1-6.4 14.2z"/><path class="sc39" d="M283 685.6l6.4-2.1-3.7-.7-6.4 1.2z"/><path class="c43" d="M119.9 702.6l6.5-3.2-3.6-3.7-.4 0-6.2 2.8z"/><path class="c42" d="M122.8 695.7l-.1-.1-.3.1z"/><path class="m" d="M119.9 702.6l6.5-3.2-3.7-3.8-6.5 2.9z"/><path class="c49" d="M223.1 646.5l6.5 2.1-1.2-4.9-5.6 1.4z"/><path class="c50" d="M228.4 643.7l-1.5-6.1-5.4 1.5 1.3 6z"/><path class="c51" d="M226.9 637.6l-1.1-4.4-2.2-1.1-3.5 1 1.4 6z"/><path class="c52" d="M223.6 632.1l-4.2-2.1.7 3.1z"/><path class="m" d="M223.1 646.5l6.5 2.1-3.8-15.4-6.4-3.2z"/><path class="c39" d="M327.3 683l5.4 0-3.7-1.9-4.7 0z"/><path class="c40" d="M326.3 683l1 0-3-1.9-1.7-.1z"/><path class="m" d="M326.3 683l6.4 0-3.7-1.9-6.4-.1z"/><path class="c46" d="M163.2 661.4l.1-.1-.6-.3z"/><path class="c47" d="M163.3 661.3l2.3-5.7-4.1-1.8-2 5.1 3.2 2.1z"/><path class="c48" d="M165.6 655.6l2.3-5.8-4.1-1.7-2.3 5.7z"/><path class="c49" d="M167.9 649.8l1.8-4.4-3.7-2.9-2.2 5.6z"/><path class="m" d="M163.2 661.4l6.5-16-3.7-2.9-6.5 16.4z"/><path class="c39" d="M266.4 686.5l6.5-1.3-3.7-3.3-6.4-.6-.1 0z"/><path class="c40" d="M262.8 681.3l-.1 0 0 0z"/><path class="m" d="M266.4 686.5l6.5-1.3-3.7-3.3-6.5-.6z"/><path class="c43" d="M106.8 698.2l3 .7-1.6-2z"/><path class="c42" d="M103.4 697.4l3.4.8 1.4-1.3-2.1-2.6-6.5-1.1z"/><path class="m" d="M103.4 697.4l6.4 1.5-3.7-4.6-6.5-1.1z"/><path class="c52" d="M206.5 632l6.5-2.5-.3-1.3-6.9.9z"/><path class="c53" d="M212.7 628.2l-1.5-6-6.9.8 1.5 6.1z"/><path class="c54" d="M211.2 622.2l-1.5-6.1-6.2.7-.7.3 1.5 5.9z"/><path class="c55" d="M209.7 616.1l-.4-1.9-5.8 2.6z"/><path class="m" d="M206.5 632l6.5-2.5-3.7-15.3-6.5 2.9z"/><path class="sc40" d="M309.7 682.2l6.5-.8-3.7-1.4-6.5.9z"/><path class="c39" d="M146.7 687.6l2.4-5-3.7-1.8-2.4 4.9z"/><path class="c40" d="M149.1 682.6l2.8-5.8-3.6-1.9-2.9 5.9z"/><path class="c44" d="M151.9 676.8l1.2-2.5-3.7-1.5-1.1 2.1z"/><path class="m" d="M146.7 687.6l6.4-13.3-3.7-1.5-6.4 12.9z"/><path class="c40" d="M249.8 679.7l6.5.8-2-4.5-5.2 1.6z"/><path class="c44" d="M254.3 676l-1.7-3.9-3.6-1.8-2.1.9 2.2 6.4z"/><path class="c45" d="M249 670.3l-2.9-1.4.8 2.3z"/><path class="m" d="M249.8 679.7l6.5.8-3.7-8.4-6.5-3.2z"/><path class="c41" d="M86.8 688.5l6.4 2.6-3.7-3.5-5.2-1.3 1.4 1.5z"/><path class="c39" d="M84.3 686.3l-1.2-.4 2.6 1.9z"/><path class="m" d="M86.8 688.5l6.4 2.6-3.7-3.5-6.4-1.7z"/><path class="c52" d="M190 632.7l2.3-3.4-3.7-.3z"/><path class="c53" d="M192.3 629.3l4.1-5.9-.1-.1-10-.8 0 .1 2.3 6.4z"/><path class="c54" d="M196.3 623.3l-2-6.4-4.3-.4-3.7 6z"/><path class="c55" d="M194.3 616.9l-1.6-4.9-2.7 4.5z"/><path class="m" d="M190 632.7l6.4-9.3-3.7-11.4-6.4 10.6z"/><path class="c39" d="M293.1 684.6l5.3-1.8.5-.5-3-.6-6.5 1.8z"/><path class="c40" d="M298.4 682.8l1.2-.4-.7-.1z"/><path class="m" d="M293.1 684.6l6.5-2.2-3.7-.7-6.5 1.8z"/><path class="c43" d="M130.1 702.5l3.6-3.8-5-1.6-2.3 2.3z"/><path class="c42" d="M133.7 698.7l2.8-2.9-3.7-2.7-4.1 4z"/><path class="m" d="M130.1 702.5l6.4-6.7-3.7-2.7-6.4 6.3z"/><path class="c46" d="M233.3 664.2l6.4 1.9-1.6-5.8-5.4 1.6z"/><path class="c47" d="M238.1 660.3l-1.6-6.1-5.2 1.6 1.4 6.1z"/><path class="c48" d="M236.5 654.2l-.5-1.8-5.1-3-1.1.3 1.5 6.1z"/><path class="c49" d="M230.9 649.4l-1.3-.8.2 1.1z"/><path class="m" d="M233.3 664.2l6.4 1.9-3.7-13.7-6.4-3.8z"/><path class="sc39" d="M336.4 685.2l6.5 0-3.7-2-6.5-.2z"/><path class="c49" d="M173.4 650.3l2-4.6-5.2-1.6-.5 1.3z"/><path class="c50" d="M175.4 645.7l2.6-5.8-5.4-1.5-2.4 5.7z"/><path class="c51" d="M178 639.9l1.8-4.1-1.3-2.2-3.6-1-2.3 5.8z"/><path class="c52" d="M178.5 633.6l-2.4-3.9-1.2 2.9z"/><path class="m" d="M173.4 650.3l6.4-14.5-3.7-6.1-6.4 15.7z"/><path class="sc39" d="M276.6 688.2l6.4-2.6-3.7-1.6-6.4 1.2z"/><path class="sc43" d="M113.5 702.9l6.4-.3-3.7-4.1-6.4.4z"/><path class="c49" d="M216.7 646.5l6.4 0-.3-1.4-6.2 1.2z"/><path class="c50" d="M222.8 645.1l-1.3-6-6.2 1.2 1.3 6z"/><path class="c51" d="M221.5 639.1l-1.4-6-6.1 1.2 1.3 6z"/><path class="c52" d="M220.1 633.1l-.7-3.1-6.4-.5 1 4.8z"/><path class="m" d="M216.7 646.5l6.4 0-3.7-16.5-6.4-.5z"/><path class="sc40" d="M319.9 683.3l6.4-.3-3.7-2-6.4.4z"/><path class="c44" d="M156.8 676.4l1.5-3.6-3.8-1.8-1.4 3.3z"/><path class="c45" d="M158.3 672.8l2.5-5.8-3.9-1.7-2.4 5.7z"/><path class="c46" d="M160.8 667l2.4-5.6-.5-.4-3.4-1.5-2.4 5.8z"/><path class="c47" d="M162.7 661l-3.2-2.1-.2.6z"/><path class="m" d="M156.8 676.4l6.4-15-3.7-2.5-6.4 15.4z"/><path class="c39" d="M260 687.8l6.4-1.3-3.7-5.2-5.2 1.6z"/><path class="c40" d="M262.7 681.3l0 0-6.4-.8 1.2 2.4z"/><path class="m" d="M260 687.8l6.4-1.3-3.7-5.2-6.4-.8z"/><path class="c42" d="M96.9 694.4l6.5 3-3.8-4.2-3.3-1.1.6 2.3z"/><path class="c41" d="M96.3 692.1l-3.1-1 3.7 3.3z"/><path class="m" d="M96.9 694.4l6.5 3-3.8-4.2-6.4-2.1z"/><path class="c51" d="M200.1 637.3l2.3-1.8-2.8.1z"/><path class="c52" d="M202.4 635.5l4.1-3.5-.7-2.9-7.8.3 1.6 6.2z"/><path class="c53" d="M205.8 629.1l-1.5-6.1-7.7.3-.2.1 1.6 6z"/><path class="c54" d="M204.3 623l-1.5-5.9-6.2 6.2z"/><path class="m" d="M200.1 637.3l6.4-5.3-3.7-14.9-6.4 6.3z"/><path class="sc40" d="M303.3 683.8l6.4-1.6-3.7-1.3-6.4 1.5z"/><path class="c42" d="M140.2 697.9l2.2-3.5-3.8-1.8-2.1 3.2z"/><path class="c41" d="M142.4 694.4l3.7-6-3.7-1.8-3.8 6z"/><path class="c39" d="M146.1 688.4l.6-.8-3.7-1.9-.6.9z"/><path class="m" d="M140.2 697.9l6.5-10.3-3.7-1.9-6.5 10.1z"/><path class="c40" d="M243.4 679.1l6.4.6-.7-2.1-5.7 1.4z"/><path class="c44" d="M249.1 677.6l-2.2-6.4-5.3 1.6 1.8 6.2z"/><path class="c45" d="M246.9 671.2l-.8-2.3-5.8-2.5-.5.1 1.8 6.3z"/><path class="c46" d="M240.3 666.4l-.6-.3.1.4z"/><path class="m" d="M243.4 679.1l6.4.6-3.7-10.8-6.4-2.8z"/><path class="c50" d="M183.5 644.2l1.7-3-3.2-.5z"/><path class="c51" d="M185.2 641.2l3.3-5.9-7.9-1.2-.8 1.7 2.2 4.9z"/><path class="c52" d="M188.5 635.3l1.5-2.6-1.4-3.7-5.1-.7-2.9 5.8z"/><path class="c53" d="M188.6 629l-2.3-6.4-2.8 5.7z"/><path class="m" d="M183.5 644.2l6.5-11.5-3.7-10.1-6.5 13.2z"/><path class="sc39" d="M286.7 687.3l6.4-2.7-3.7-1.1-6.4 2.1z"/><path class="sc43" d="M123.6 705.7l6.5-3.2-3.7-3.1-6.5 3.2z"/><path class="c46" d="M226.8 663.3l6.5.9-.6-2.3-5.9 1.3z"/><path class="c47" d="M232.7 661.9l-1.4-6.1-5.8 1.4 1.3 6z"/><path class="c48" d="M231.3 655.8l-1.5-6.1-5.7 1.4 1.4 6.1z"/><path class="c49" d="M229.8 649.7l-.2-1.1-6.5-2.1 1 4.6z"/><path class="m" d="M226.8 663.3l6.5.9-3.7-15.6-6.5-2.1z"/><path class="c39" d="M330 685.4l6.4-.2-3.7-2.2-5.4 0 0 .7z"/><path class="c40" d="M327.3 683l-1 0 1 .7z"/><path class="m" d="M330 685.4l6.4-.2-3.7-2.2-6.4 0z"/><path class="c46" d="M166.9 665.1l1-2.1-4.6-1.7-.1.1z"/><path class="c47" d="M167.9 663l2.5-5.8-4.8-1.6-2.3 5.7z"/><path class="c48" d="M170.4 657.2l2.5-5.8-5-1.6-2.3 5.8z"/><path class="c49" d="M172.9 651.4l.5-1.1-3.7-4.9-1.8 4.4z"/><path class="m" d="M166.9 665.1l6.5-14.8-3.7-4.9-6.5 16z"/><path class="c41" d="M270.1 691l2.5-1.1-3.4-.1z"/><path class="c39" d="M272.6 689.9l4-1.7-3.7-3-6.5 1.3 2.8 3.3z"/><path class="m" d="M270.1 691l6.5-2.8-3.7-3-6.5 1.3z"/><path class="c43" d="M107.1 701l6.4 1.9-3.7-4-3-.7-.6 2z"/><path class="c42" d="M106.8 698.2l-3.4-.8 2.8 2.8z"/><path class="m" d="M107.1 701l6.4 1.9-3.7-4-6.4-1.5z"/><path class="c49" d="M210.2 648.6l6.5-2.1-.1-.2-6.7.9z"/><path class="c50" d="M216.6 646.3l-1.3-6-6.7.9 1.3 6z"/><path class="c51" d="M215.3 640.3l-1.3-6-6.8.8 1.4 6.1z"/><path class="c52" d="M214 634.3l-1-4.8-6.5 2.5.7 3.1z"/><path class="m" d="M210.2 648.6l6.5-2.1-3.7-17-6.5 2.5z"/><path class="sc40" d="M313.4 684.2l6.5-.9-3.7-1.9-6.5.8z"/><path class="c39" d="M150.4 689.3l2.4-4.9-3.7-1.8-2.4 5z"/><path class="c40" d="M152.8 684.4l2.9-5.8-3.8-1.8-2.8 5.8z"/><path class="c44" d="M155.7 678.6l1.1-2.2-3.7-2.1-1.2 2.5z"/><path class="m" d="M150.4 689.3l6.4-12.9-3.7-2.1-6.4 13.3z"/><path class="c39" d="M253.6 689.1l6.4-1.3-2.5-4.9-5.9 1.3z"/><path class="c40" d="M257.5 682.9l-1.2-2.4-6.5-.8 1.8 4.5z"/><path class="m" d="M253.6 689.1l6.4-1.3-3.7-7.3-6.5-.8z"/><path class="c42" d="M96.9 694.4l0 0 0 0z"/><path class="c41" d="M90.5 690.9l6.4 3.5 0 0-3.7-3.3-6.4-2.6z"/><path class="m" d="M90.5 690.9l6.4 3.5-3.7-3.3-6.4-2.6z"/><path class="c50" d="M193.7 645l2.7-3.2-3.7-.1z"/><path class="c51" d="M196.4 641.8l3.7-4.5-.5-1.7-8.8-.2 1.9 6.3z"/><path class="c52" d="M199.6 635.6l-1.6-6.2-5.7-.1-2.3 3.4.8 2.7z"/><path class="c53" d="M198 629.4l-1.6-6-4.1 5.9z"/><path class="m" d="M193.7 645l6.4-7.7-3.7-13.9-6.4 9.3z"/><path class="c39" d="M296.9 686.1l3.1-1.1-1.6-2.2-5.3 1.8z"/><path class="c40" d="M300 685l3.3-1.2-3.7-1.4-1.2.4z"/><path class="m" d="M296.9 686.1l6.4-2.3-3.7-1.4-6.5 2.2z"/><path class="c43" d="M133.8 704.8l4-4.3-4.1-1.8-3.6 3.8z"/><path class="c42" d="M137.8 700.5l2.4-2.6-3.7-2.1-2.8 2.9z"/><path class="m" d="M133.8 704.8l6.4-6.9-3.7-2.1-6.4 6.7z"/><path class="c40" d="M243 679.1l.4 0 0-.1z"/><path class="c44" d="M237 678.9l6 .2.4-.1-1.8-6.2-5.8 1.3z"/><path class="c45" d="M241.6 672.8l-1.8-6.3-5.6 1.5 1.6 6.1z"/><path class="c46" d="M239.8 666.5l-.1-.4-6.4-1.9.9 3.8z"/><path class="m" d="M237 678.9l6.4.2-3.7-13-6.4-1.9z"/><path class="sc39" d="M340.2 687.6l6.4-.4-3.7-2-6.5 0z"/><path class="c48" d="M177.1 657l2.1-4.1-5-1.1z"/><path class="c49" d="M179.2 652.9l2.9-5.9-6.7-1.3-2 4.6.8 1.5z"/><path class="c50" d="M182.1 647l1.4-2.8-1.5-3.5-4-.8-2.6 5.8z"/><path class="c51" d="M182 640.7l-2.2-4.9-1.8 4.1z"/><path class="m" d="M177.1 657l6.4-12.8-3.7-8.4-6.4 14.5z"/><path class="sc39" d="M280.3 690.7l6.4-3.4-3.7-1.7-6.4 2.6z"/><path class="sc43" d="M117.2 706.2l6.4-.5-3.7-3.1-6.4.3z"/><path class="c46" d="M225.8 663.3l1 0 0-.1z"/><path class="c47" d="M220.4 663.6l5.4-.3 1-.1-1.3-6-6.3 1.1z"/><path class="c48" d="M225.5 657.2l-1.4-6.1-6.2 1.2 1.3 6z"/><path class="c49" d="M224.1 651.1l-1-4.6-6.4 0 1.2 5.8z"/><path class="m" d="M220.4 663.6l6.4-.3-3.7-16.8-6.4 0z"/><path class="c39" d="M325.3 685.7l4.7-.3-2.7-1.7z"/><path class="c40" d="M323.6 685.9l1.7-.2 2-2-1-.7-6.4.3z"/><path class="m" d="M323.6 685.9l6.4-.5-3.7-2.4-6.4.3z"/><path class="c44" d="M160.5 679l2.1-4.5-4.3-1.7-1.5 3.6z"/><path class="c45" d="M162.6 674.5l2.7-5.8-4.5-1.7-2.5 5.8z"/><path class="c46" d="M165.3 668.7l1.6-3.6-3.7-3.7-2.4 5.6z"/><path class="m" d="M160.5 679l6.4-13.9-3.7-3.7-6.4 15z"/><path class="c41" d="M263.7 693.9l6.4-2.9-.9-1.2-7.8.4z"/><path class="c39" d="M269.2 689.8l-2.8-3.3-6.4 1.3 1.4 2.4z"/><path class="m" d="M263.7 693.9l6.4-2.9-3.7-4.5-6.4 1.3z"/><path class="c43" d="M106.5 700.7l.6.3-.9-.8z"/><path class="c42" d="M100.6 697.5l5.9 3.2-.3-.5-2.8-2.8-6.5-3z"/><path class="m" d="M100.6 697.5l6.5 3.5-3.7-3.6-6.5-3z"/><path class="c49" d="M203.8 652.7l6.4-4.1-.3-1.4-7.3.6z"/><path class="c50" d="M209.9 647.2l-1.3-6-7.4.5 1.4 6.1z"/><path class="c51" d="M208.6 641.2l-1.4-6.1-4.8.4-2.3 1.8 1.1 4.4z"/><path class="c52" d="M207.2 635.1l-.7-3.1-4.1 3.5z"/><path class="m" d="M203.8 652.7l6.4-4.1-3.7-16.6-6.4 5.3z"/><path class="sc40" d="M307 685.7l6.4-1.5-3.7-2-6.4 1.6z"/><path class="c42" d="M143.9 699.4l2.1-3.2-3.6-1.8-2.2 3.5z"/><path class="c41" d="M146 696.2l3.8-5.9-3.7-1.9-3.7 6z"/><path class="c39" d="M149.8 690.3l.6-1-3.7-1.7-.6.8z"/><path class="m" d="M143.9 699.4l6.5-10.1-3.7-1.7-6.5 10.3z"/><path class="c39" d="M247.1 690.4l6.5-1.3-2-4.9-6.1 1.2z"/><path class="c40" d="M251.6 684.2l-1.8-4.5-6.4-.6 2.1 6.3z"/><path class="m" d="M247.1 690.4l6.5-1.3-3.8-9.4-6.4-.6z"/><path class="c48" d="M187.2 654.5l.4-.6-.6 0z"/><path class="c49" d="M187.6 653.9l4.1-6-7-.6 2.3 6.6z"/><path class="c50" d="M191.7 647.9l2-2.9-1-3.3-7.5-.5-1.7 3 1.2 3.1z"/><path class="c51" d="M192.7 641.7l-1.9-6.3-2.3-.1-3.3 5.9z"/><path class="c52" d="M190.8 635.4l-.8-2.7-1.5 2.6z"/><path class="m" d="M187.2 654.5l6.5-9.5-3.7-12.3-6.5 11.5z"/><path class="sc39" d="M290.4 689.1l6.5-3-3.8-1.5-6.4 2.7z"/><path class="sc43" d="M127.3 707.5l6.5-2.7-3.7-2.3-6.5 3.2z"/><path class="c44" d="M230.5 679.1l6.5-.2-1.2-4.8-6.2 1.2z"/><path class="c45" d="M235.8 674.1l-1.6-6.1-6 1.2 1.4 6.1z"/><path class="c46" d="M234.2 668l-.9-3.8-6.5-.9 1.4 5.9z"/><path class="m" d="M230.5 679.1l6.5-.2-3.7-14.7-6.5-.9z"/><path class="sc39" d="M333.7 688.1l6.5-.5-3.8-2.4-6.4.2z"/><path class="c46" d="M170.6 670l2.8-5.5-5.5-1.5-1 2.1z"/><path class="c47" d="M173.4 664.5l2.8-5.8-5.8-1.5-2.5 5.8z"/><path class="c48" d="M176.2 658.7l.9-1.7-2.9-5.2-1.3-.4-2.5 5.8z"/><path class="c49" d="M174.2 651.8l-.8-1.5-.5 1.1z"/><path class="m" d="M170.6 670l6.5-13-3.7-6.7-6.5 14.8z"/><path class="c41" d="M273.8 694.4l5.6-3.2-6.8-1.3-2.5 1.1z"/><path class="c39" d="M279.4 691.2l.9-.5-3.7-2.5-4 1.7z"/><path class="m" d="M273.8 694.4l6.5-3.7-3.7-2.5-6.5 2.8z"/><path class="sc43" d="M110.8 704l6.4 2.2-3.7-3.3-6.4-1.9z"/><path class="c46" d="M214 665.3l.9-.2-1 .1z"/><path class="c47" d="M214.9 665.1l5.5-1.5-1.2-5.3-6.6.9 1.3 6z"/><path class="c48" d="M219.2 658.3l-1.3-6-6.6.9 1.3 6z"/><path class="c49" d="M217.9 652.3l-1.2-5.8-6.5 2.1 1.1 4.6z"/><path class="m" d="M214 665.3l6.4-1.7-3.7-17.1-6.5 2.1z"/><path class="sc40" d="M317.1 686.8l6.5-.9-3.7-2.6-6.5.9z"/><path class="c39" d="M154.1 691l2.6-4.8-3.9-1.8-2.4 4.9z"/><path class="c40" d="M156.7 686.2l3.1-5.9-4.1-1.7-2.9 5.8z"/><path class="c44" d="M159.8 680.3l.7-1.3-3.7-2.6-1.1 2.2z"/><path class="m" d="M154.1 691l6.4-12-3.7-2.6-6.4 12.9z"/><path class="c41" d="M257.3 696.8l6.4-2.9-2.3-3.7-7 .8z"/><path class="c39" d="M261.4 690.2l-1.4-2.4-6.4 1.3.8 1.9z"/><path class="m" d="M257.3 696.8l6.4-2.9-3.7-6.1-6.4 1.3z"/><path class="c42" d="M99.1 696.5l1.5 1-3.7-3.1 0 0z"/><path class="c41" d="M94.2 693.2l4.9 3.3-2.2-2.1-6.4-3.5z"/><path class="m" d="M94.2 693.2l6.4 4.3-3.7-3.1-6.4-3.5z"/><path class="c48" d="M197.4 658.6l5-4.6-6.2.2z"/><path class="c49" d="M202.4 654l1.4-1.3-1.2-4.9-8.1.2 1.7 6.2z"/><path class="c50" d="M202.6 647.8l-1.4-6.1-4.8.1-2.7 3.2.8 3z"/><path class="c51" d="M201.2 641.7l-1.1-4.4-3.7 4.5z"/><path class="m" d="M197.4 658.6l6.4-5.9-3.7-15.4-6.4 7.7z"/><path class="c39" d="M300.6 688l3.7-1.3-4.3-1.7-3.1 1.1z"/><path class="c40" d="M304.3 686.7l2.7-1-3.7-1.9-3.3 1.2z"/><path class="m" d="M300.6 688l6.4-2.3-3.7-1.9-6.4 2.3z"/><path class="c43" d="M137.5 706.2l3.6-3.8-3.3-1.9-4 4.3z"/><path class="c42" d="M141.1 702.4l2.8-3-3.7-1.5-2.4 2.6z"/><path class="m" d="M137.5 706.2l6.4-6.8-3.7-1.5-6.4 6.9z"/><path class="c39" d="M240.7 691.7l6.4-1.3-1.6-5-6.3 1.1z"/><path class="c40" d="M245.5 685.4l-2.1-6.3-.4 0-5.6 1.1 1.8 6.3z"/><path class="c44" d="M243 679.1l-6-.2.4 1.3z"/><path class="m" d="M240.7 691.7l6.4-1.3-3.7-11.3-6.4-.2z"/><path class="sc39" d="M343.9 690.1l6.4-.8-3.7-2.1-6.4.4z"/><path class="c47" d="M180.8 664.9l3.1-5-5.9-.9z"/><path class="c48" d="M183.9 659.9l3.3-5.4-.2-.6-7.8-1-2.1 4.1.9 2z"/><path class="c49" d="M187 653.9l-2.3-6.6-2.6-.3-2.9 5.9z"/><path class="c50" d="M184.7 647.3l-1.2-3.1-1.4 2.8z"/><path class="m" d="M180.8 664.9l6.4-10.4-3.7-10.3-6.4 12.8z"/><path class="sc39" d="M284 692.8l6.4-3.7-3.7-1.8-6.4 3.4z"/><path class="sc43" d="M120.9 708.5l6.4-1-3.7-1.8-6.4.5z"/><path class="c44" d="M224.1 679.8l6.4-.7-.9-3.8-6.3 1.1z"/><path class="c45" d="M229.6 675.3l-1.4-6.1-6.3 1.1 1.4 6.1z"/><path class="c46" d="M228.2 669.2l-1.4-5.9-1 0-5.3 1 1.4 6z"/><path class="c47" d="M225.8 663.3l-5.4.3.1.7z"/><path class="m" d="M224.1 679.8l6.4-.7-3.7-15.8-6.4.3z"/><path class="c39" d="M327.3 688.7l6.4-.6-3.7-2.7-4.7.3-1.2.6z"/><path class="c40" d="M325.3 685.7l-1.7.2.5.4z"/><path class="m" d="M327.3 688.7l6.4-.6-3.7-2.7-6.4.5z"/><path class="c40" d="M164.2 682.1l.1-.1-.3-.1z"/><path class="c44" d="M164.3 682l3.1-5.8-4.8-1.7-2.1 4.5 3.5 2.9z"/><path class="c45" d="M167.4 676.2l3.1-5.9-5.2-1.6-2.7 5.8z"/><path class="c46" d="M170.5 670.3l.1-.3-3.7-4.9-1.6 3.6z"/><path class="m" d="M164.2 682.1l6.4-12.1-3.7-4.9-6.4 13.9z"/><path class="sc41" d="M267.4 698.4l6.4-4-3.7-3.4-6.4 2.9z"/><path class="c43" d="M108.7 702.7l2.1 1.3-3.7-3-.6-.3z"/><path class="c42" d="M104.3 700.1l4.4 2.6-2.2-2-5.9-3.2z"/><path class="m" d="M104.3 700.1l6.5 3.9-3.7-3-6.5-3.5z"/><path class="c46" d="M207.5 668.3l6.5-3-.1-.1-6.9.8z"/><path class="c47" d="M213.9 665.2l-1.3-6-7.1.7 1.5 6.1z"/><path class="c48" d="M212.6 659.2l-1.3-6-7.2.7 1.4 6z"/><path class="c49" d="M211.3 653.2l-1.1-4.6-6.4 4.1.3 1.2z"/><path class="m" d="M207.5 668.3l6.5-3-3.8-16.7-6.4 4.1z"/><path class="c39" d="M310.7 688.2l1.9-.4-2.6-.1z"/><path class="c40" d="M312.6 687.8l4.5-1-3.7-2.6-6.4 1.5 3 2z"/><path class="m" d="M310.7 688.2l6.4-1.4-3.7-2.6-6.4 1.5z"/><path class="c42" d="M147.6 700.4l1.6-2.3-3.2-1.9-2.1 3.2z"/><path class="c41" d="M149.2 698.1l4.1-6-3.5-1.8-3.8 5.9z"/><path class="c39" d="M153.3 692.1l.8-1.1-3.7-1.7-.6 1z"/><path class="m" d="M147.6 700.4l6.5-9.4-3.7-1.7-6.5 10.1z"/><path class="c42" d="M250.8 699.5l2.8-1.2-3.2.3z"/><path class="c41" d="M253.6 698.3l3.7-1.5-2.9-5.8-6.7.8 2.7 6.8z"/><path class="c39" d="M254.4 691l-.8-1.9-6.5 1.3.6 1.4z"/><path class="m" d="M250.8 699.5l6.5-2.7-3.7-7.7-6.5 1.3z"/><path class="c47" d="M190.9 665.7l4.8-5.3-6.6-.1z"/><path class="c48" d="M195.7 660.4l1.7-1.8-1.2-4.4-8.6-.3-.4.6 1.9 5.8z"/><path class="c49" d="M196.2 654.2l-1.7-6.2-2.8-.1-4.1 6z"/><path class="c50" d="M194.5 648l-.8-3-2 2.9z"/><path class="m" d="M190.9 665.7l6.5-7.1-3.7-13.6-6.5 9.5z"/><path class="sc39" d="M294.1 691l6.5-3-3.7-1.9-6.5 3z"/><path class="sc43" d="M131.1 709.3l6.4-3.1-3.7-1.4-6.5 2.7z"/><path class="c39" d="M234.2 692.8l6.5-1.1-1.5-5.2-6.4 1.1z"/><path class="c40" d="M239.2 686.5l-1.8-6.3-6.2 1.2 1.6 6.2z"/><path class="c44" d="M237.4 680.2l-.4-1.3-6.5.2.7 2.3z"/><path class="m" d="M234.2 692.8l6.5-1.1-3.7-12.8-6.5.2z"/><path class="sc39" d="M337.4 690.9l6.5-.8-3.7-2.5-6.5.5z"/><path class="c45" d="M174.4 675.6l2.3-3.8-5.7-1.3z"/><path class="c46" d="M176.7 671.8l3.6-6-6.9-1.3-2.8 5.5.4.5z"/><path class="c47" d="M180.3 665.8l.5-.9-2.8-5.9-1.8-.3-2.8 5.8z"/><path class="c48" d="M178 659l-.9-2-.9 1.7z"/><path class="m" d="M174.4 675.6l6.4-10.7-3.7-7.9-6.5 13z"/><path class="c41" d="M277.5 696.9l6.3-4-4.4-1.7-5.6 3.2z"/><path class="c39" d="M283.8 692.9l.2-.1-3.7-2.1-.9.5z"/><path class="m" d="M277.5 696.9l6.5-4.1-3.7-2.1-6.5 3.7z"/><path class="sc43" d="M114.5 706.2l6.4 2.3-3.7-2.3-6.4-2.2z"/><path class="c44" d="M217.7 681.1l6.4-1.3-.8-3.4-6.5.9z"/><path class="c45" d="M223.3 676.4l-1.4-6.1-6.6 1 1.5 6z"/><path class="c46" d="M221.9 670.3l-1.4-6-5.6.8-.9.2 1.3 6z"/><path class="c47" d="M220.5 664.3l-.1-.7-5.5 1.5z"/><path class="m" d="M217.7 681.1l6.4-1.3-3.7-16.2-6.4 1.7z"/><path class="c39" d="M320.8 689.7l6.5-1-3.2-2.4-6 1.2z"/><path class="c40" d="M324.1 686.3l-.5-.4-6.5.9 1 .7z"/><path class="m" d="M320.8 689.7l6.5-1-3.7-2.8-6.5.9z"/><path class="c39" d="M157.8 692.7l2.8-4.7-3.9-1.8-2.6 4.8z"/><path class="c40" d="M160.6 688l3.6-5.9-.2-.2-4.2-1.6-3.1 5.9z"/><path class="c44" d="M164 681.9l-3.5-2.9-.7 1.3z"/><path class="m" d="M157.8 692.7l6.4-10.6-3.7-3.1-6.4 12z"/><path class="c42" d="M261 702.3l6.1-3.8-8.9-.3z"/><path class="c41" d="M267.1 698.5l.3-.1-3.7-4.5-6.4 2.9.9 1.4z"/><path class="m" d="M261 702.3l6.4-3.9-3.7-4.5-6.4 2.9z"/><path class="c42" d="M102.1 698.4l2.2 1.7-3.7-2.6-1.5-1z"/><path class="c41" d="M97.9 695.4l4.2 3-3-1.9-4.9-3.3z"/><path class="m" d="M97.9 695.4l6.4 4.7-3.7-2.6-6.4-4.3z"/><path class="c46" d="M201.1 672.3l6.4-4-.5-2.3-7.5.5z"/><path class="c47" d="M207 666l-1.5-6.1-7.6.5 1.6 6.1z"/><path class="c48" d="M205.5 659.9l-1.4-6-1.7.1-5 4.6.5 1.8z"/><path class="c49" d="M204.1 653.9l-.3-1.2-1.4 1.3z"/><path class="m" d="M201.1 672.3l6.4-4-3.7-15.6-6.4 5.9z"/><path class="c39" d="M304.3 690.2l6.4-2-.7-.5-5.7-1-3.7 1.3z"/><path class="c40" d="M310 687.7l-3-2-2.7 1z"/><path class="m" d="M304.3 690.2l6.4-2-3.7-2.5-6.4 2.3z"/><path class="c43" d="M141.2 706.7l2.4-2.3-2.5-2-3.6 3.8z"/><path class="c42" d="M143.6 704.4l4-4-3.7-1-2.8 3z"/><path class="m" d="M141.2 706.7l6.4-6.3-3.7-1-6.4 6.8z"/><path class="c42" d="M244.4 701.8l6.4-2.3-.4-.9-6.9.7z"/><path class="c41" d="M250.4 698.6l-2.7-6.8-6.6 1 2.4 6.5z"/><path class="c39" d="M247.7 691.8l-.6-1.4-6.4 1.3.4 1.1z"/><path class="m" d="M244.4 701.8l6.4-2.3-3.7-9.1-6.4 1.3z"/><path class="c45" d="M184.5 673.6l.7-.8-1.1-.1z"/><path class="c46" d="M185.2 672.8l5-6.2-9-.7 2.9 6.8z"/><path class="c47" d="M190.2 666.6l.7-.9-1.8-5.4-5.2-.4-3.1 5 .4 1z"/><path class="c48" d="M189.1 660.3l-1.9-5.8-3.3 5.4z"/><path class="m" d="M184.5 673.6l6.4-7.9-3.7-11.2-6.4 10.4z"/><path class="sc39" d="M287.7 694.5l6.4-3.5-3.7-1.9-6.4 3.7z"/><path class="sc43" d="M124.6 709.8l6.5-.5-3.8-1.8-6.4 1z"/><path class="c39" d="M227.8 693.9l6.4-1.1-1.4-5.2-6.4 1z"/><path class="c40" d="M232.8 687.6l-1.6-6.2-6.4 1.1 1.6 6.1z"/><path class="c44" d="M231.2 681.4l-.7-2.3-6.4.7.7 2.7z"/><path class="m" d="M227.8 693.9l6.4-1.1-3.7-13.7-6.4.7z"/><path class="sc39" d="M331 691.8l6.4-.9-3.7-2.8-6.4.6z"/><path class="c40" d="M167.9 685.6l1.2-1.9-4.8-1.7-.1.1z"/><path class="c44" d="M169.1 683.7l3.9-6-5.6-1.5-3.1 5.8z"/><path class="c45" d="M173 677.7l1.4-2.1-3.4-5.1-.5-.2-3.1 5.9z"/><path class="c46" d="M171 670.5l-.4-.5-.1.3z"/><path class="m" d="M167.9 685.6l6.5-10-3.8-5.6-6.4 12.1z"/><path class="c42" d="M271.1 701.3l1.9-1.3-5.2-1.3z"/><path class="c41" d="M273 700l4.5-3.1-3.7-2.5-6.4 4 .4.3z"/><path class="m" d="M271.1 701.3l6.4-4.4-3.7-2.5-6.4 4z"/><path class="c43" d="M112 704.6l2.5 1.6-3.7-2.2-2.1-1.3z"/><path class="c42" d="M108 702.2l4 2.4-3.3-1.9-4.4-2.6z"/><path class="m" d="M108 702.2l6.5 4-3.7-2.2-6.5-3.9z"/><path class="c44" d="M211.2 683l6.5-1.9-.9-3.8-6.8.9z"/><path class="c45" d="M216.8 677.3l-1.5-6-6.8.8 1.5 6.1z"/><path class="c46" d="M215.3 671.3l-1.3-6-6.5 3 1 3.8z"/><path class="m" d="M211.2 683l6.5-1.9-3.7-15.8-6.5 3z"/><path class="c39" d="M314.4 691l6.4-1.3-2.7-2.2-5.5.3-1.9.4z"/><path class="c40" d="M318.1 687.5l-1-.7-4.5 1z"/><path class="m" d="M314.4 691l6.4-1.3-3.7-2.9-6.4 1.4z"/><path class="c42" d="M151.3 700.9l.7-.8-2.8-2-1.6 2.3z"/><path class="c41" d="M152 700.1l4.8-6.1-3.5-1.9-4.1 6z"/><path class="c39" d="M156.8 694l1-1.3-3.7-1.7-.8 1.1z"/><path class="m" d="M151.3 700.9l6.5-8.2-3.7-1.7-6.5 9.4z"/><path class="c42" d="M254.5 705.9l6.5-3.6-2.8-4.1-4.6.1-2.8 1.2z"/><path class="c41" d="M258.2 698.2l-.9-1.4-3.7 1.5z"/><path class="m" d="M254.5 705.9l6.5-3.6-3.7-5.5-6.5 2.7z"/><path class="c45" d="M194.6 677.2l5.9-4.4-7.2.2z"/><path class="c46" d="M200.5 672.8l.6-.5-1.6-5.8-8.3.2 2.1 6.3z"/><path class="c47" d="M199.5 666.5l-1.6-6.1-2.2 0-4.8 5.3.3 1z"/><path class="c48" d="M197.9 660.4l-.5-1.8-1.7 1.8z"/><path class="m" d="M194.6 677.2l6.5-4.9-3.7-13.7-6.5 7.1z"/><path class="sc39" d="M297.8 692.8l6.5-2.6-3.7-2.2-6.5 3z"/><path class="sc43" d="M134.8 709.9l6.4-3.2-3.7-.5-6.4 3.1z"/><path class="c42" d="M237.9 703.7l6.5-1.9-.9-2.5-6.7.9z"/><path class="c41" d="M243.5 699.3l-2.4-6.5-6.5 1 2.2 6.4z"/><path class="c39" d="M241.1 692.8l-.4-1.1-6.5 1.1.4 1z"/><path class="m" d="M237.9 703.7l6.5-1.9-3.7-10.1-6.5 1.1z"/><path class="c44" d="M178.1 681.6l2.1-2.6-4.2-.7z"/><path class="c45" d="M180.2 679l4.3-5.4-.4-.9-7.4-.9-2.3 3.8 1.6 2.7z"/><path class="c46" d="M184.1 672.7l-2.9-6.8-.9-.1-3.6 6z"/><path class="c47" d="M181.2 665.9l-.4-1-.5.9z"/><path class="m" d="M178.1 681.6l6.4-8-3.7-8.7-6.4 10.7z"/><path class="c41" d="M281.2 698.5l6.1-3.7-3.5-1.9-6.3 4z"/><path class="c39" d="M287.3 694.8l.4-.3-3.7-1.7-.2.1z"/><path class="m" d="M281.2 698.5l6.5-4-3.7-1.7-6.5 4.1z"/><path class="sc43" d="M118.2 707.6l6.4 2.2-3.7-1.3-6.4-2.3z"/><path class="c39" d="M221.4 694.9l6.4-1-1.4-5.3-6.4 1z"/><path class="c40" d="M226.4 688.6l-1.6-6.1-6.5 1 1.7 6.1z"/><path class="c44" d="M224.8 682.5l-.7-2.7-6.4 1.3.6 2.4z"/><path class="m" d="M221.4 694.9l6.4-1-3.7-14.1-6.4 1.3z"/><path class="sc39" d="M324.6 692.8l6.4-1-3.7-3.1-6.5 1z"/><path class="c39" d="M161.5 694.3l3.3-4.6-4.2-1.7-2.8 4.7z"/><path class="c40" d="M164.8 689.7l3.1-4.1-3.7-3.5-3.6 5.9z"/><path class="m" d="M161.5 694.3l6.4-8.7-3.7-3.5-6.4 10.6z"/><path class="c42" d="M264.7 705.6l6.4-4.3-3.3-2.6-.7-.2-6.1 3.8z"/><path class="c41" d="M267.8 698.7l-.4-.3-.3.1z"/><path class="m" d="M264.7 705.6l6.4-4.3-3.7-2.9-6.4 3.9z"/><path class="c42" d="M105.6 700.3l2.4 1.9-3.7-2.1-2.2-1.7z"/><path class="c41" d="M101.6 697.3l4 3-3.5-1.9-4.2-3z"/><path class="m" d="M101.6 697.3l6.4 4.9-3.7-2.1-6.4-4.7z"/><path class="c40" d="M204.8 685.3l.4-.2-.4.1z"/><path class="c44" d="M205.2 685.1l6-2.1-1.2-4.8-7 .8 1.8 6.2z"/><path class="c45" d="M210 678.2l-1.5-6.1-7.3.6 1.8 6.3z"/><path class="c46" d="M208.5 672.1l-1-3.8-6.4 4 .1.4z"/><path class="m" d="M204.8 685.3l6.4-2.3-3.7-14.7-6.4 4z"/><path class="sc39" d="M308 692.7l6.4-1.7-3.7-2.8-6.4 2z"/><path class="c43" d="M143.6 704.4l-2.4 2.3 3.6-.2z"/><path class="c42" d="M144.9 706.5l6.4-5.6-3.7-.5-4 4 1.2 2.1z"/><path class="m" d="M144.9 706.5l6.4-5.6-3.7-.5-6.4 6.3z"/><path class="c43" d="M248.1 708.9l6.2-2.9-7.6.3z"/><path class="c42" d="M254.3 706l.2-.1-3.7-6.4-6.4 2.3 2.3 4.5z"/><path class="m" d="M248.1 708.9l6.4-3-3.7-6.4-6.4 2.3z"/><path class="c44" d="M188.2 682.4l3.6-2.9-4.8 0z"/><path class="c45" d="M191.8 679.5l2.8-2.3-1.3-4.2-8.1-.2-.7.8 2.5 5.9z"/><path class="c46" d="M193.3 673l-2.1-6.3-1-.1-5 6.2z"/><path class="c47" d="M191.2 666.7l-.3-1-.7.9z"/><path class="m" d="M188.2 682.4l6.4-5.2-3.7-11.5-6.4 7.9z"/><path class="sc39" d="M291.4 696l6.4-3.2-3.7-1.8-6.4 3.5z"/><path class="sc43" d="M128.3 710.2l6.5-.3-3.7-.6-6.5.5z"/><path class="c42" d="M231.5 705l6.4-1.3-1.1-3.5-6.6 1z"/><path class="c41" d="M236.8 700.2l-2.2-6.4-6.5 1 2.1 6.4z"/><path class="c39" d="M234.6 693.8l-.4-1-6.4 1.1.3.9z"/><path class="m" d="M231.5 705l6.4-1.3-3.7-10.9-6.4 1.1z"/><path class="c40" d="M171.6 689.2l3.5-4.1-6-1.4-1.2 1.9z"/><path class="c44" d="M175.1 685.1l3-3.5-2.1-3.3-3-.6-3.9 6z"/><path class="c45" d="M176 678.3l-1.6-2.7-1.4 2.1z"/><path class="m" d="M171.6 689.2l6.5-7.6-3.7-6-6.5 10z"/><path class="c42" d="M274.8 702.8l1.3-.9-3.1-1.9-1.9 1.3z"/><path class="c41" d="M276.1 701.9l5.1-3.4-3.7-1.6-4.5 3.1z"/><path class="m" d="M274.8 702.8l6.4-4.3-3.7-1.6-6.4 4.4z"/><path class="c43" d="M116.1 706.4l2.1 1.2-3.7-1.4-2.5-1.6z"/><path class="c42" d="M111.7 703.7l4.4 2.7-4.1-1.8-4-2.4z"/><path class="m" d="M111.7 703.7l6.5 3.9-3.7-1.4-6.5-4z"/><path class="c39" d="M214.9 695.8l6.5-.9-1.4-5.3-6.6 1z"/><path class="c40" d="M220 689.6l-1.7-6.1-6.7.9 1.8 6.2z"/><path class="c44" d="M218.3 683.5l-.6-2.4-6.5 1.9.4 1.4z"/><path class="m" d="M214.9 695.8l6.5-.9-3.7-13.8-6.5 1.9z"/><path class="sc39" d="M318.1 693.9l6.5-1.1-3.8-3.1-6.4 1.3z"/><path class="c42" d="M152 700.1l-.7.8 1.7.1z"/><path class="c41" d="M155 701.1l5-5.2-3.2-1.9-4.8 6.1 1 .9z"/><path class="c39" d="M160 695.9l1.5-1.6-3.7-1.6-1 1.3z"/><path class="m" d="M155 701.1l6.5-6.8-3.7-1.6-6.5 8.2z"/><path class="c43" d="M258.2 709.5l4-2.4-7.5-1.1z"/><path class="c42" d="M262.2 707.1l2.5-1.5-3.7-3.3-6.5 3.6.2.1z"/><path class="m" d="M258.2 709.5l6.5-3.9-3.7-3.3-6.5 3.6z"/><path class="c40" d="M198.4 687.9l6.4-2.6 0-.1-7.2.7z"/><path class="c44" d="M204.8 685.2l-1.8-6.2-7.6.5 2.2 6.4z"/><path class="c45" d="M203 679l-1.8-6.3-.7.1-5.9 4.4.8 2.3z"/><path class="c46" d="M201.2 672.7l-.1-.4-.6.5z"/><path class="m" d="M198.4 687.9l6.4-2.6-3.7-13-6.5 4.9z"/><path class="sc39" d="M301.5 694.8l6.5-2.1-3.7-2.5-6.5 2.6z"/><path class="c43" d="M138.5 709.4l6.2-2.8.1-.1-3.6.2-6.4 3.2z"/><path class="c42" d="M144.7 706.6l.2-.1-.1 0z"/><path class="m" d="M138.5 709.4l6.4-2.9-3.7.2-6.4 3.2z"/><path class="c43" d="M241.7 711.2l6.4-2.3-1.4-2.6-7.1.7z"/><path class="c42" d="M246.7 706.3l-2.3-4.5-6.5 1.9 1.7 3.3z"/><path class="m" d="M241.7 711.2l6.4-2.3-3.7-7.1-6.5 1.9z"/><path class="c40" d="M181.8 687.8l1.9-1.6-3-.3z"/><path class="c44" d="M183.7 686.2l4.5-3.8-1.2-2.9-6.8-.5-2.1 2.6 2.6 4.3z"/><path class="c45" d="M187 679.5l-2.5-5.9-4.3 5.4z"/><path class="m" d="M181.8 687.8l6.4-5.4-3.7-8.8-6.4 8z"/><path class="c41" d="M285 699.4l4.9-2.6-2.6-2-6.1 3.7z"/><path class="c39" d="M289.9 696.8l1.5-.8-3.7-1.5-.4.3z"/><path class="m" d="M285 699.4l6.4-3.4-3.7-1.5-6.5 4z"/><path class="sc43" d="M121.9 708.3l6.4 1.9-3.7-.4-6.4-2.2z"/><path class="c42" d="M225.1 705.7l6.4-.7-1.3-3.8-6.3 1.1z"/><path class="c41" d="M230.2 701.2l-2.1-6.4-6.4 1.1 2.2 6.4z"/><path class="c39" d="M228.1 694.8l-.3-.9-6.4 1 .3 1z"/><path class="m" d="M225.1 705.7l6.4-.7-3.7-11.1-6.4 1z"/><path class="c39" d="M165.2 695.8l4.3-4.4-4.7-1.7-3.3 4.6z"/><path class="c40" d="M169.5 691.4l2.1-2.2-3.7-3.6-3.1 4.1z"/><path class="m" d="M165.2 695.8l6.4-6.6-3.7-3.6-6.4 8.7z"/><path class="sc42" d="M268.4 706.9l6.4-4.1-3.7-1.5-6.4 4.3z"/><path class="c42" d="M109.5 702.1l2.2 1.6-3.7-1.5-2.4-1.9z"/><path class="c41" d="M105.3 699l4.2 3.1-3.9-1.8-4-3z"/><path class="m" d="M105.3 699l6.4 4.7-3.7-1.5-6.4-4.9z"/><path class="c39" d="M208.5 696.6l6.4-.8-1.5-5.2-6.6 1z"/><path class="c40" d="M213.4 690.6l-1.8-6.2-6.4.7-.4.2 2 6.3z"/><path class="c44" d="M211.6 684.4l-.4-1.4-6 2.1z"/><path class="m" d="M208.5 696.6l6.4-.8-3.7-12.8-6.4 2.3z"/><path class="sc39" d="M311.7 695.2l6.4-1.3-3.7-2.9-6.4 1.7z"/><path class="c42" d="M148.6 705.8l4.8-3.5-.4-1.3-1.7-.1-6.4 5.6z"/><path class="c41" d="M153.4 702.3l1.6-1.2-2-.1z"/><path class="m" d="M148.6 705.8l6.4-4.7-3.7-.2-6.4 5.6z"/><path class="c43" d="M251.8 712.9l6.4-3.4-3.5-3.5-.4 0-6.2 2.9z"/><path class="c42" d="M254.7 706l-.2-.1-.2.1z"/><path class="m" d="M251.8 712.9l6.4-3.4-3.7-3.6-6.4 3z"/><path class="c40" d="M191.9 690.8l6.5-2.9-.8-2-7.7.4z"/><path class="c44" d="M197.6 685.9l-2.2-6.4-3.6 0-3.6 2.9 1.7 3.9z"/><path class="c45" d="M195.4 679.5l-.8-2.3-2.8 2.3z"/><path class="m" d="M191.9 690.8l6.5-2.9-3.8-10.7-6.4 5.2z"/><path class="sc39" d="M295.1 697.2l6.4-2.4-3.7-2-6.4 3.2z"/><path class="sc43" d="M132 709.9l6.5-.5-3.7.5-6.5.3z"/><path class="c43" d="M235.2 712.7l6.5-1.5-2.1-4.2-6.7.9z"/><path class="c42" d="M239.6 707l-1.7-3.3-6.4 1.3 1.4 2.9z"/><path class="m" d="M235.2 712.7l6.5-1.5-3.8-7.5-6.4 1.3z"/><path class="c40" d="M175.3 692.9l6.5-5.1-1.1-1.9-5.6-.8-3.5 4.1z"/><path class="c44" d="M180.7 685.9l-2.6-4.3-3 3.5z"/><path class="m" d="M175.3 692.9l6.5-5.1-3.7-6.2-6.5 7.6z"/><path class="c42" d="M276.1 701.9l-1.3.9 1.5.1z"/><path class="c41" d="M278.5 703.1l6.5-3.7-3.8-.9-5.1 3.4.2 1z"/><path class="m" d="M278.5 703.1l6.5-3.7-3.8-.9-6.4 4.3z"/><path class="c43" d="M121.3 708l.6.3-3.7-.7-2.1-1.2z"/><path class="c42" d="M115.4 704.8l5.9 3.2-5.2-1.6-4.4-2.7z"/><path class="m" d="M115.4 704.8l6.5 3.5-3.7-.7-6.5-3.9z"/><path class="c42" d="M218.6 705.9l6.5-.2-1.2-3.4-6.2 1.2z"/><path class="c41" d="M223.9 702.3l-2.2-6.4-6.4 1 2.4 6.6z"/><path class="c39" d="M221.7 695.9l-.3-1-6.5.9.4 1.1z"/><path class="m" d="M218.6 705.9l6.5-.2-3.7-10.8-6.5.9z"/><path class="c41" d="M158.8 701.1l3.9-3.2-2.7-2-5 5.2z"/><path class="c39" d="M162.7 697.9l2.5-2.1-3.7-1.5-1.5 1.6z"/><path class="m" d="M158.8 701.1l6.4-5.3-3.7-1.5-6.5 6.8z"/><path class="c43" d="M261.9 710.8l2.8-1.7-2.5-2-4 2.4z"/><path class="c42" d="M264.7 709.1l3.7-2.2-3.7-1.3-2.5 1.5z"/><path class="m" d="M261.9 710.8l6.5-3.9-3.7-1.3-6.5 3.9z"/><path class="c39" d="M202.1 697.4l6.4-.8-1.7-5-6.7.9z"/><path class="c40" d="M206.8 691.6l-2-6.3-6.4 2.6 1.7 4.6z"/><path class="m" d="M202.1 697.4l6.4-.8-3.7-11.3-6.4 2.6z"/><path class="sc39" d="M305.2 696.7l6.5-1.5-3.7-2.5-6.5 2.1z"/><path class="c43" d="M144.7 706.6l-6.2 2.8 2.3-.6z"/><path class="c42" d="M142.2 708.3l6.4-2.5-3.7.7-.2.1-3.9 2.2z"/><path class="m" d="M142.2 708.3l6.4-2.5-3.7.7-6.4 2.9z"/><path class="sc43" d="M245.4 715.2l6.4-2.3-3.7-4-6.4 2.3z"/><path class="c40" d="M185.5 693.7l6.4-2.9-2-4.5-6.2-.1-1.9 1.6z"/><path class="c44" d="M189.9 686.3l-1.7-3.9-4.5 3.8z"/><path class="m" d="M185.5 693.7l6.4-2.9-3.7-8.4-6.4 5.4z"/><path class="c41" d="M288.7 699.8l1.7-.7-.5-2.3-4.9 2.6z"/><path class="c39" d="M290.4 699.1l4.7-1.9-3.7-1.2-1.5.8z"/><path class="m" d="M288.7 699.8l6.4-2.6-3.7-1.2-6.4 3.4z"/><path class="c43" d="M129.1 709.1l2.9.8-3.7.3-6.4-1.9.8 0z"/><path class="c42" d="M125.6 708.3l3.5.8-6.4-.8z"/><path class="m" d="M125.6 708.3l6.4 1.6-3.7.3-6.4-1.9z"/><path class="c43" d="M228.8 713.3l6.4-.6-2.3-4.8-6.2 1.1z"/><path class="c42" d="M232.9 707.9l-1.4-2.9-6.4.7 1.6 3.3z"/><path class="m" d="M228.8 713.3l6.4-.6-3.7-7.7-6.4.7z"/><path class="c39" d="M168.9 697.3l6.4-4.4-5.8-1.5-4.3 4.4z"/><path class="c40" d="M175.3 692.9l0 0-3.7-3.7-2.1 2.2z"/><path class="m" d="M168.9 697.3l6.4-4.4-3.7-3.7-6.4 6.6z"/><path class="c42" d="M272.1 706.7l4.2-2.4 0-1.4-1.5-.1-6.4 4.1z"/><path class="c41" d="M276.3 704.3l2.2-1.2-2.2-.2z"/><path class="m" d="M272.1 706.7l6.4-3.6-3.7-.3-6.4 4.1z"/><path class="c42" d="M114 703.8l1.4 1-3.7-1.1-2.2-1.6z"/><path class="c41" d="M109 700.5l5 3.3-4.5-1.7-4.2-3.1z"/><path class="m" d="M109 700.5l6.4 4.3-3.7-1.1-6.4-4.7z"/><path class="c42" d="M212.2 705.7l6.4.2-.9-2.4-5.9 1.3z"/><path class="c41" d="M217.7 703.5l-2.4-6.6-6.2 1.1 2.7 6.8z"/><path class="c39" d="M215.3 696.9l-.4-1.1-6.4.8.6 1.4z"/><path class="m" d="M212.2 705.7l6.4.2-3.7-10.1-6.4.8z"/><path class="c42" d="M153.4 702.3l-4.8 3.5 3.6-1z"/><path class="c41" d="M152.3 704.8l6.5-3.7-3.8 0-1.6 1.2-1.2 2.5z"/><path class="m" d="M152.3 704.8l6.5-3.7-3.8 0-6.4 4.7z"/><path class="sc43" d="M255.5 714l6.4-3.2-3.7-1.3-6.4 3.4z"/><path class="c39" d="M195.6 698.2l6.5-.8-2-4.9-7 .7z"/><path class="c40" d="M200.1 692.5l-1.7-4.6-6.5 2.9 1.2 2.4z"/><path class="m" d="M195.6 698.2l6.5-.8-3.7-9.5-6.5 2.9z"/><path class="sc39" d="M298.8 698.3l6.4-1.6-3.7-1.9-6.4 2.4z"/><path class="c43" d="M140.8 708.8l-2.3.6-6.5.5 1.6-.5z"/><path class="c42" d="M135.7 708.9l6.5-.6-1.4.5-7.2.6z"/><path class="m" d="M135.7 708.9l6.5-.6-3.7 1.1-6.5.5z"/><path class="sc43" d="M238.9 716.2l6.5-1-3.7-4-6.5 1.5z"/><path class="c39" d="M179 696.4l6.4-2.7-10-.8z"/><path class="c40" d="M185.4 693.7l.1 0-3.7-5.9-6.5 5.1.1 0z"/><path class="m" d="M179 696.4l6.5-2.7-3.7-5.9-6.5 5.1z"/><path class="sc41" d="M282.2 702.6l6.5-2.8-3.7-.4-6.5 3.7z"/><path class="c43" d="M122.7 708.3l-.8 0-.6-.3z"/><path class="c42" d="M119.2 705.4l6.4 2.9-2.9 0-1.4-.3-5.9-3.2z"/><path class="m" d="M119.2 705.4l6.4 2.9-3.7 0-6.5-3.5z"/><path class="c43" d="M222.3 713l6.5.3-2.1-4.3-5.7 1.4z"/><path class="c42" d="M226.7 709l-1.6-3.3-6.5.2 2.4 4.5z"/><path class="m" d="M222.3 713l6.5.3-3.7-7.6-6.5.2z"/><path class="c41" d="M162.5 701l1.6-1-1.4-2.1-3.9 3.2z"/><path class="c39" d="M164.1 700l4.8-2.7-3.7-1.5-2.5 2.1z"/><path class="m" d="M162.5 701l6.4-3.7-3.7-1.5-6.4 5.3z"/><path class="c43" d="M264.7 709.1l-2.8 1.7 1.7-.4z"/><path class="c42" d="M265.6 710l6.5-3.3-3.7.2-3.7 2.2-1.1 1.3z"/><path class="m" d="M265.6 710l6.5-3.3-3.7.2-6.5 3.9z"/><path class="c42" d="M209.4 705.4l2.8.3-.4-.9z"/><path class="c41" d="M205.8 705l3.6.4 2.4-.6-2.7-6.8-6.2 1.2z"/><path class="c39" d="M209.1 698l-.6-1.4-6.4.8.8 1.8z"/><path class="m" d="M205.8 705l6.4.7-3.7-9.1-6.4.8z"/><path class="c42" d="M145.9 706.9l5.7-1.9.6-.2-3.6 1-6.4 2.5z"/><path class="c41" d="M151.6 705l.7-.2-.1 0z"/><path class="m" d="M145.9 706.9l6.4-2.1-3.7 1-6.4 2.5z"/><path class="sc43" d="M249.1 716.5l6.4-2.5-3.7-1.1-6.4 2.3z"/><path class="c39" d="M189.2 698.9l6.4-.7-2.5-5-7.6.5z"/><path class="c40" d="M193.1 693.2l-1.2-2.4-6.4 2.9 0 0z"/><path class="m" d="M189.2 698.9l6.4-.7-3.7-7.4-6.4 2.9z"/><path class="c41" d="M290.4 699.1l-1.7.7.9.1z"/><path class="c39" d="M292.4 700l6.4-1.7-3.7-1.1-4.7 1.9-.8.8z"/><path class="m" d="M292.4 700l6.4-1.7-3.7-1.1-6.4 2.6z"/><path class="c43" d="M133.6 709.4l-1.6.5-2.9-.8z"/><path class="c42" d="M129.3 707.8l6.4 1.1-2.1.5-4.5-.3-3.5-.8z"/><path class="m" d="M129.3 707.8l6.4 1.1-3.7 1-6.4-1.6z"/><path class="sc43" d="M232.5 717.2l6.4-1-3.7-3.5-6.4.6z"/><path class="c39" d="M172.6 698.9l6.4-2.5-3.6-3.5-.1 0-6.4 4.4z"/><path class="c40" d="M175.4 692.9l-.1 0 0 0z"/><path class="m" d="M172.6 698.9l6.4-2.5-3.7-3.5-6.4 4.4z"/><path class="c42" d="M276.3 704.3l-4.2 2.4 1.9-.7z"/><path class="c41" d="M275.8 705.3l6.4-2.7-3.7.5-2.2 1.2-2.3 1.7z"/><path class="m" d="M275.8 705.3l6.4-2.7-3.7.5-6.4 3.6z"/><path class="c42" d="M119.1 705.4l.1 0-3.8-.6-1.4-1z"/><path class="c41" d="M112.7 701.9l6.4 3.5-5.1-1.6-5-3.3z"/><path class="m" d="M112.7 701.9l6.5 3.5-3.8-.6-6.4-4.3z"/><path class="c43" d="M216.1 712.1l6.2.9-1.3-2.6z"/><path class="c42" d="M215.9 712.1l.2 0 4.9-1.7-2.4-4.5-6.4-.2z"/><path class="m" d="M215.9 712.1l6.4.9-3.7-7.1-6.4-.2z"/><path class="sc41" d="M156 703.7l6.5-2.7-3.7.1-6.5 3.7z"/><path class="c43" d="M259.2 712.8l1.5-.6 2.9-1.8-1.7.4-6.4 3.2z"/><path class="c42" d="M260.7 712.2l4.9-2.2-2 .4z"/><path class="m" d="M259.2 712.8l6.4-2.8-3.7.8-6.4 3.2z"/><path class="c41" d="M199.3 704.2l6.5.8-2.9-5.8-5.8 1.3z"/><path class="c39" d="M202.9 699.2l-.8-1.8-6.5.8 1.5 2.3z"/><path class="m" d="M199.3 704.2l6.5.8-3.7-7.6-6.5.8z"/><path class="sc42" d="M139.4 707.6l6.5-.7-3.7 1.4-6.5.6z"/><path class="sc43" d="M242.6 718l6.5-1.5-3.7-1.3-6.5 1z"/><path class="c39" d="M182.7 699.7l6.5-.8-3.7-5.2-.1 0-6.4 2.7z"/><path class="c40" d="M185.5 693.7l0 0-.1 0z"/><path class="m" d="M182.7 699.7l6.5-.8-3.7-5.2-6.5 2.7z"/><path class="c41" d="M289.6 699.9l-.9-.1-6.5 2.8 3-.7z"/><path class="c39" d="M285.9 701.7l6.5-1.7-2.8-.1-4.4 2z"/><path class="m" d="M285.9 701.7l6.5-1.7-3.7-.2-6.5 2.8z"/><path class="c42" d="M125.9 706.7l3.4 1.1-3.7.5-6.4-2.9 0 0z"/><path class="c41" d="M122.9 705.7l3 1-6.7-1.3z"/><path class="m" d="M122.9 705.7l6.4 2.1-3.7.5-6.4-2.9z"/><path class="sc43" d="M226 717l6.5.2-3.7-3.9-6.5-.3z"/><path class="c41" d="M164.1 700l-1.6 1 1.4 0z"/><path class="c39" d="M166.2 701.1l6.4-2.2-3.7-1.6-4.8 2.7-.2 1z"/><path class="m" d="M166.2 701.1l6.4-2.2-3.7-1.6-6.4 3.7z"/><path class="c42" d="M269.4 707.9l0-.1 4.6-1.8-1.9.7-6.5 3.3z"/><path class="c41" d="M269.4 707.8l6.4-2.5-1.8.7z"/><path class="m" d="M269.4 707.9l6.4-2.6-3.7 1.4-6.5 3.3z"/><path class="c42" d="M209.5 710.5l6.4 1.6-3.7-6.4-2.8-.3-2.7 1z"/><path class="c41" d="M209.4 705.4l-3.6-.4.9 1.4z"/><path class="m" d="M209.5 710.5l6.4 1.6-3.7-6.4-6.4-.7z"/><path class="c42" d="M151.6 705l-5.7 1.9 1.1-.5z"/><path class="c41" d="M149.6 705.4l6.4-1.7-3.7 1.1-.7.2-4.6 1.4z"/><path class="m" d="M149.6 705.4l6.4-1.7-3.7 1.1-6.4 2.1z"/><path class="sc43" d="M252.8 715l6.4-2.2-3.7 1.2-6.4 2.5z"/><path class="c41" d="M192.9 703.4l6.4.8-2.2-3.7-5.2 1.7z"/><path class="c39" d="M197.1 700.5l-1.5-2.3-6.4.7 2.7 3.3z"/><path class="m" d="M192.9 703.4l6.4.8-3.7-6-6.4.7z"/><path class="c42" d="M136.8 707.4l2.6.2-3.7 1.3-6.4-1.1 2.4-.5z"/><path class="c41" d="M133 707.1l3.8.3-5.1-.1z"/><path class="m" d="M133 707.1l6.4.5-3.7 1.3-6.4-1.1z"/><path class="sc43" d="M236.2 718.5l6.4-.5-3.7-1.8-6.4 1z"/><path class="sc39" d="M176.3 700.5l6.4-.8-3.7-3.3-6.4 2.5z"/><path class="c41" d="M279.5 703.5l1.8-.5 3.9-1.1-3 .7-6.4 2.7z"/><path class="c39" d="M281.3 703l4.6-1.3-.7.2z"/><path class="m" d="M279.5 703.5l6.4-1.8-3.7.9-6.4 2.7z"/><path class="c42" d="M119.2 705.4l0 0-.1 0z"/><path class="c41" d="M116.4 703.1l6.5 2.6-3.7-.3-.1 0-6.4-3.5z"/><path class="m" d="M116.4 703.1l6.5 2.6-3.7-.3-6.5-3.5z"/><path class="c43" d="M219.6 715.7l6.4 1.3-3.7-4-6.2-.9-.1.1z"/><path class="c42" d="M216.1 712.1l-.2 0 .1.1z"/><path class="m" d="M219.6 715.7l6.4 1.3-3.7-4-6.4-.9z"/><path class="c41" d="M163.9 701l-1.4 0-6.5 2.7 3.2-.8z"/><path class="c39" d="M159.7 702.8l6.5-1.7-2.3-.1-4.7 1.9z"/><path class="m" d="M159.7 702.8l6.5-1.7-3.7-.1-6.5 2.7z"/><path class="c43" d="M260.7 712.2l-1.5.6.3-.2z"/><path class="c42" d="M262.9 710.1l6.5-2.2-3.8 2.1-4.9 2.2-1.2.4z"/><path class="m" d="M262.9 710.1l6.5-2.2-3.8 2.1-6.4 2.8z"/><path class="c42" d="M203.3 708.8l6.2 1.7-2.8-4.1z"/><path class="c41" d="M203 708.7l.3.1 3.4-2.4-.9-1.4-6.5-.8z"/><path class="m" d="M203 708.7l6.5 1.8-3.7-5.5-6.5-.8z"/><path class="c42" d="M147 706.4l-1.1.5-6.5.7.8-.3z"/><path class="c41" d="M143.2 706.2l6.4-.8-2.6 1-6.8.9z"/><path class="m" d="M143.2 706.2l6.4-.8-3.7 1.5-6.5.7z"/><path class="sc43" d="M246.3 716.5l6.5-1.5-3.7 1.5-6.5 1.5z"/><path class="c41" d="M190.4 703.1l2.5.3-1-1.2z"/><path class="c39" d="M186.5 702.6l3.9.5 1.5-.9-2.7-3.3-6.5.8z"/><path class="m" d="M186.5 702.6l6.4.8-3.7-4.5-6.5.8z"/><path class="c42" d="M131.7 707.3l-2.4.5-3.4-1.1z"/><path class="c41" d="M126.6 705.8l6.4 1.3-1.3.2-5.8-.6-3-1z"/><path class="m" d="M126.6 705.8l6.4 1.3-3.7.7-6.4-2.1z"/><path class="sc43" d="M229.8 718.1l6.4.4-3.7-1.3-6.5-.2z"/><path class="sc39" d="M169.9 701.4l6.4-.9-3.7-1.6-6.4 2.2z"/><path class="c42" d="M269.4 707.8l0 .1 0 0z"/><path class="c41" d="M273.1 705.1l6.4-1.6-3.7 1.8-6.4 2.5 0 .1z"/><path class="m" d="M273.1 705.1l6.4-1.6-3.7 1.8-6.4 2.6z"/><path class="c43" d="M215.6 714.6l4 1.1-3.6-3.5z"/><path class="c42" d="M213.2 713.9l2.4.7.4-2.4-.1-.1-6.4-1.6z"/><path class="m" d="M213.2 713.9l6.4 1.8-3.7-3.6-6.4-1.6z"/><path class="c41" d="M159.2 702.9l-3.2.8-6.4 1.7 3.6-1.3z"/><path class="c39" d="M153.3 704.1l6.4-1.3-.5.1-6 1.2z"/><path class="m" d="M153.3 704.1l6.4-1.3-3.7.9-6.4 1.7z"/><path class="c43" d="M259.5 712.6l-.3.2-6.4 2.2 1.2-1z"/><path class="c42" d="M256.5 711.9l6.4-1.8-3.4 2.5-5.5 1.4z"/><path class="m" d="M256.5 711.9l6.4-1.8-3.7 2.7-6.4 2.2z"/><path class="sc41" d="M196.6 706.8l6.4 1.9-3.7-4.5-6.4-.8z"/><path class="c42" d="M140.2 707.3l-.8.3-2.6-.2z"/><path class="c41" d="M136.7 706.3l6.5-.1-3 1.1-3.4.1-3.8-.3z"/><path class="m" d="M136.7 706.3l6.5-.1-3.8 1.4-6.4-.5z"/><path class="sc43" d="M239.9 717.1l6.4-.6-3.7 1.5-6.4.5z"/><path class="sc39" d="M180 702.2l6.5.4-3.8-2.9-6.4.8z"/><path class="c41" d="M121.4 704.5l5.2 1.3-3.7-.1-6.5-2.6 1.1.3z"/><path class="c39" d="M120.1 704.2l1.3.3-3.9-1.1z"/><path class="m" d="M120.1 704.2l6.5 1.6-3.7-.1-6.5-2.6z"/><path class="sc43" d="M223.3 717l6.5 1.1-3.8-1.1-6.4-1.3z"/><path class="sc39" d="M163.4 702.3l6.5-.9-3.7-.3-6.5 1.7z"/><path class="c42" d="M269.4 707.9l0 0-6.5 2.2.9-.8z"/><path class="c41" d="M266.6 706.7l6.5-1.6-3.7 2.8-5.6 1.4z"/><path class="m" d="M266.6 706.7l6.5-1.6-3.7 2.8-6.5 2.2z"/><path class="c42" d="M206.7 711.6l6.5 2.3-3.7-3.4-6.2-1.7.1.2z"/><path class="c41" d="M203.3 708.8l-.3-.1.4.3z"/><path class="m" d="M206.7 711.6l6.5 2.3-3.7-3.4-6.5-1.8z"/><path class="c41" d="M153.2 704.1l-3.6 1.3-6.4.8 3.4-1.1z"/><path class="c39" d="M146.9 705l6.4-.9-.1 0-6.6 1z"/><path class="m" d="M146.9 705l6.4-.9-3.7 1.3-6.4.8z"/><path class="c43" d="M254 714l-1.2 1-6.5 1.5 1.5-1.3z"/><path class="c42" d="M250 713.2l6.5-1.3-2.5 2.1-6.2 1.2z"/><path class="m" d="M250 713.2l6.5-1.3-3.7 3.1-6.5 1.5z"/><path class="c41" d="M191.1 705.4l5.5 1.4-3.7-3.4-2.5-.3z"/><path class="c39" d="M190.2 705.2l.9.2-.7-2.3-3.9-.5z"/><path class="m" d="M190.2 705.2l6.4 1.6-3.7-3.4-6.4-.8z"/><path class="sc41" d="M130.3 705.9l6.4.4-3.7.8-6.4-1.3z"/><path class="sc43" d="M233.5 717l6.4.1-3.7 1.4-6.4-.4z"/><path class="sc39" d="M173.6 702.1l6.4.1-3.7-1.7-6.4.9z"/><path class="c43" d="M220.6 716.2l2.7.8-3.7-1.3-4-1.1z"/><path class="c42" d="M216.9 715.2l3.7 1-5-1.6-2.4-.7z"/><path class="m" d="M216.9 715.2l6.4 1.8-3.7-1.3-6.4-1.8z"/><path class="sc39" d="M157 703.3l6.4-1-3.7.5-6.4 1.3z"/><path class="c42" d="M263.8 709.3l-.9.8-6.4 1.8 1.3-1.3z"/><path class="c41" d="M260.2 708l6.4-1.3-2.8 2.6-6 1.3z"/><path class="m" d="M260.2 708l6.4-1.3-3.7 3.4-6.4 1.8z"/><path class="c42" d="M204.8 711l1.9.6-3.3-2.6z"/><path class="c41" d="M200.3 709.3l4.5 1.7-1.4-2-.4-.3-6.4-1.9z"/><path class="m" d="M200.3 709.3l6.4 2.3-3.7-2.9-6.4-1.9z"/><path class="c41" d="M146.6 705.1l-3.4 1.1-6.5.1 2.8-.5z"/><path class="c39" d="M140.4 705.7l6.5-.7-.3.1-7.1.7z"/><path class="m" d="M140.4 705.7l6.5-.7-3.7 1.2-6.5.1z"/><path class="c43" d="M247.8 715.2l-1.5 1.3-6.4.6 1.2-1z"/><path class="c42" d="M243.6 714l6.4-.8-2.2 2-6.7.9z"/><path class="m" d="M243.6 714l6.4-.8-3.7 3.3-6.4.6z"/><path class="sc39" d="M183.7 703.9l6.5 1.3-3.7-2.6-6.5-.4z"/><path class="c41" d="M128.6 705.7l1.7.2-3.7-.1-5.2-1.3z"/><path class="c39" d="M123.8 705.3l4.8.4-7.2-1.2-1.3-.3z"/><path class="m" d="M123.8 705.3l6.5.6-3.7-.1-6.5-1.6z"/><path class="c43" d="M232 716.8l1.5.2-3.7 1.1-6.5-1.1 1.7-.4z"/><path class="c42" d="M227 716.2l5 .6-7-.2z"/><path class="m" d="M227 716.2l6.5.8-3.7 1.1-6.5-1.1z"/><path class="sc39" d="M167.1 702.4l6.5-.3-3.7-.7-6.5.9z"/><path class="sc42" d="M210.4 713.1l6.5 2.1-3.7-1.3-6.5-2.3z"/><path class="sc39" d="M150.6 704.3l6.4-1-3.7.8-6.4.9z"/><path class="c42" d="M257.8 710.6l-1.3 1.3-6.5 1.3 1.5-1.5z"/><path class="c41" d="M253.8 709.2l6.4-1.2-2.4 2.6-6.3 1.1z"/><path class="m" d="M253.8 709.2l6.4-1.2-3.7 3.9-6.5 1.3z"/><path class="c41" d="M194.1 707.3l6.2 2-3.7-2.5-5.5-1.4z"/><path class="c39" d="M193.9 707.3l.2 0-3-1.9-.9-.2z"/><path class="m" d="M193.9 707.3l6.4 2-3.7-2.5-6.4-1.6z"/><path class="c41" d="M139.5 705.8l-2.8.5-6.4-.4 1 .1z"/><path class="c39" d="M134 706.1l6.4-.4-.9.1-8.2.2z"/><path class="m" d="M134 706.1l6.4-.4-3.7.6-6.4-.4z"/><path class="c43" d="M241.1 716.1l-1.2 1-6.4-.1.3-.3z"/><path class="c42" d="M237.2 714.2l6.4-.2-2.5 2.1-7.3.6z"/><path class="m" d="M237.2 714.2l6.4-.2-3.7 3.1-6.4-.1z"/><path class="sc39" d="M177.3 703.2l6.4.7-3.7-1.7-6.4-.1z"/><path class="c43" d="M225 716.6l-1.7.4-2.7-.8z"/><path class="c42" d="M220.6 714.9l6.4 1.3-2 .4-4.4-.4-3.7-1z"/><path class="m" d="M220.6 714.9l6.4 1.3-3.7.8-6.4-1.8z"/><path class="sc39" d="M160.7 703.1l6.4-.7-3.7-.1-6.4 1z"/><path class="c42" d="M209.2 712.7l1.2.4-3.7-1.5-1.9-.6z"/><path class="c41" d="M204 710.9l5.2 1.8-4.4-1.7-4.5-1.7z"/><path class="m" d="M204 710.9l6.4 2.2-3.7-1.5-6.4-2.3z"/><path class="sc39" d="M144.1 705.4l6.5-1.1-3.7.7-6.5.7z"/><path class="c42" d="M251.5 711.7l-1.5 1.5-6.4.8 1.3-1.4z"/><path class="c41" d="M247.3 710.1l6.5-.9-2.3 2.5-6.6.9z"/><path class="m" d="M247.3 710.1l6.5-.9-3.8 4-6.4.8z"/><path class="sc39" d="M187.4 705.7l6.5 1.6-3.7-2.1-6.5-1.3z"/><path class="c41" d="M131.3 706l-1-.1-1.7-.2z"/><path class="c39" d="M127.5 706.4l6.5-.3-2.7-.1-2.7-.3-4.8-.4z"/><path class="m" d="M127.5 706.4l6.5-.3-3.7-.2-6.5-.6z"/><path class="c43" d="M233.8 716.7l-.3.3-1.5-.2z"/><path class="c42" d="M230.7 714.1l6.5.1-3.4 2.5-1.8.1-5-.6z"/><path class="m" d="M230.7 714.1l6.5.1-3.7 2.8-6.5-.8z"/><path class="c39" d="M172 703.1l5.3.1-3.7-1.1-6.5.3 3.1.5z"/><path class="c40" d="M170.8 703.1l1.2 0-1.8-.2z"/><path class="m" d="M170.8 703.1l6.5.1-3.7-1.1-6.5.3z"/><path class="c42" d="M216.4 713.9l4.2 1-3.7.3-6.5-2.1 1.6.1z"/><path class="c41" d="M214.2 713.4l2.2.5-4.4-.7z"/><path class="m" d="M214.2 713.4l6.4 1.5-3.7.3-6.5-2.1z"/><path class="sc39" d="M154.3 704.2l6.4-1.1-3.7.2-6.4 1z"/><path class="c41" d="M198 709.1l6 1.8-3.7-1.6-6.2-2z"/><path class="c39" d="M197.6 709l.4.1-3.9-1.8-.2 0z"/><path class="m" d="M197.6 709l6.4 1.9-3.7-1.6-6.4-2z"/><path class="sc39" d="M137.7 706.6l6.4-1.2-3.7.3-6.4.4z"/><path class="c42" d="M244.9 712.6l-1.3 1.4-6.4.2.8-.8z"/><path class="c41" d="M240.9 710.8l6.4-.7-2.4 2.5-6.9.8z"/><path class="m" d="M240.9 710.8l6.4-.7-3.7 3.9-6.4.2z"/><path class="sc39" d="M181 704.7l6.4 1-3.7-1.8-6.4-.7z"/><path class="c42" d="M230.6 714.1l.1 0-3.7 2.1-6.4-1.3 1.9-.7z"/><path class="c41" d="M224.3 713.6l6.3.5-8.1.1z"/><path class="m" d="M224.3 713.6l6.4.5-3.7 2.1-6.4-1.3z"/><path class="c39" d="M170.2 702.9l-3.1-.5-6.4.7 1.8.3z"/><path class="c40" d="M164.4 703.7l6.4-.6-.6-.2-7.7.5z"/><path class="m" d="M164.4 703.7l6.4-.6-3.7-.7-6.4.7z"/><path class="c42" d="M212 713.2l-1.6-.1-1.2-.4z"/><path class="c41" d="M207.7 711.8l6.5 1.6-2.2-.2-2.8-.5-5.2-1.8z"/><path class="m" d="M207.7 711.8l6.5 1.6-3.8-.3-6.4-2.2z"/><path class="sc39" d="M147.8 705.7l6.5-1.5-3.7.1-6.5 1.1z"/><path class="sc39" d="M191.1 707.5l6.5 1.5-3.7-1.7-6.5-1.6z"/><path class="sc39" d="M131.3 707.7l6.4-1.1-3.7-.5-6.5.3z"/><path class="c42" d="M238 713.4l-.8.8-6.5-.1.1 0z"/><path class="c41" d="M234.4 711.3l6.5-.5-2.9 2.6-7.2.7z"/><path class="m" d="M234.4 711.3l6.5-.5-3.7 3.4-6.5-.1z"/><path class="c39" d="M177.9 704.6l3.1.1-3.7-1.5-5.3-.1z"/><path class="c40" d="M174.6 704.4l3.3.2-5.9-1.5-1.2 0z"/><path class="m" d="M174.6 704.4l6.4.3-3.7-1.5-6.5-.1z"/><path class="c42" d="M222.5 714.2l-1.9.7-4.2-1z"/><path class="c41" d="M217.9 712.9l6.4.7-1.8.6-6.1-.3-2.2-.5z"/><path class="m" d="M217.9 712.9l6.4.7-3.7 1.3-6.4-1.5z"/><path class="c39" d="M162.5 703.4l-1.8-.3-6.4 1.1 2.1.4z"/><path class="c40" d="M158 704.8l6.4-1.1-1.9-.3-6.1 1.2z"/><path class="m" d="M158 704.8l6.4-1.1-3.7-.6-6.4 1.1z"/><path class="c41" d="M202.8 710.8l4.9 1-3.7-.9-6-1.8z"/><path class="c39" d="M201.3 710.4l1.5.4-4.8-1.7-.4-.1z"/><path class="m" d="M201.3 710.4l6.4 1.4-3.7-.9-6.4-1.9z"/><path class="sc39" d="M141.4 707.3l6.4-1.6-3.7-.3-6.4 1.2z"/><path class="sc39" d="M184.7 706.6l6.4.9-3.7-1.8-6.4-1z"/><path class="c42" d="M230.8 714.1l-.1 0-.1 0z"/><path class="c41" d="M228 711.7l6.4-.4-3.6 2.8-.2 0-6.3-.5z"/><path class="m" d="M228 711.7l6.4-.4-3.7 2.8-6.4-.5z"/><path class="sc40" d="M168.1 705l6.5-.6-3.8-1.3-6.4.6z"/><path class="sc41" d="M211.4 712.2l6.5.7-3.7.5-6.5-1.6z"/><path class="c39" d="M151.5 706.5l1.3-.3 3.6-1.6-2.1-.4-6.5 1.5z"/><path class="c40" d="M152.8 706.2l5.2-1.4-1.6-.2z"/><path class="m" d="M151.5 706.5l6.5-1.7-3.7-.6-6.5 1.5z"/><path class="sc39" d="M194.8 709.4l6.5 1-3.7-1.4-6.5-1.5z"/><path class="sc39" d="M135 709.1l6.4-1.8-3.7-.7-6.4 1.1z"/><path class="c39" d="M181 706.5l3.7.1-3.7-1.9-3.1-.1z"/><path class="c40" d="M178.3 706.4l2.7.1-3.1-1.9-3.3-.2z"/><path class="m" d="M178.3 706.4l6.4.2-3.7-1.9-6.4-.3z"/><path class="c41" d="M226.2 711.8l1.8-.1-3.7 1.9-6.4-.7 3-.7z"/><path class="c39" d="M221.6 712.1l4.6-.3-5.3.4z"/><path class="m" d="M221.6 712.1l6.4-.4-3.7 1.9-6.4-.7z"/><path class="sc40" d="M161.7 706.2l6.4-1.2-3.7-1.3-6.4 1.1z"/><path class="c41" d="M209.7 712.1l1.7.1-3.7-.4-4.9-1z"/><path class="c39" d="M205 711.6l4.7.5-6.9-1.3-1.5-.4z"/><path class="m" d="M205 711.6l6.4.6-3.7-.4-6.4-1.4z"/><path class="sc39" d="M145.1 708.5l6.4-2-3.7-.8-6.4 1.6z"/><path class="sc39" d="M188.4 708.8l6.4.6-3.7-1.9-6.4-.9z"/><path class="sc40" d="M171.8 706.9l6.5-.5-3.7-2-6.5.6z"/><path class="c41" d="M220.9 712.2l-3 .7-6.5-.7 1 .1z"/><path class="c39" d="M215.1 712.4l6.5-.3-.7.1-8.5.1z"/><path class="m" d="M215.1 712.4l6.5-.3-3.7.8-6.5-.7z"/><path class="c39" d="M152.8 706.2l-1.3.3 1.1.4z"/><path class="c40" d="M155.2 707.9l6.5-1.7-3.7-1.4-5.2 1.4-.2.7z"/><path class="m" d="M155.2 707.9l6.5-1.7-3.7-1.4-6.5 1.7z"/><path class="sc39" d="M198.5 711.3l6.5.3-3.7-1.2-6.5-1z"/><path class="sc39" d="M138.7 710.6l6.4-2.1-3.7-1.2-6.4 1.8z"/><path class="c39" d="M182 708.9l6.4-.1-3.7-2.2-3.7-.1.3 1.9z"/><path class="c40" d="M181 706.5l-2.7-.1 3 2z"/><path class="m" d="M182 708.9l6.4-.1-3.7-2.2-6.4-.2z"/><path class="sc40" d="M165.4 708.1l6.4-1.2-3.7-1.9-6.4 1.2z"/><path class="c41" d="M212.4 712.3l-1-.1-1.7-.1z"/><path class="c39" d="M208.7 712.8l6.4-.4-2.7-.1-2.7-.2-4.7-.5z"/><path class="m" d="M208.7 712.8l6.4-.4-3.7-.2-6.4-.6z"/><path class="c39" d="M148.8 710l4.8-1.5-1-1.6-1.1-.4-6.4 2z"/><path class="c40" d="M153.6 708.5l1.6-.6-2.6-1z"/><path class="m" d="M148.8 710l6.4-2.1-3.7-1.4-6.4 2z"/><path class="sc39" d="M192.1 711.3l6.4 0-3.7-1.9-6.4-.6z"/><path class="c39" d="M180.1 709.1l1.9-.2-.7-.5z"/><path class="c40" d="M175.5 709.5l4.6-.4 1.2-.7-3-2-6.5.5z"/><path class="m" d="M175.5 709.5l6.5-.6-3.7-2.5-6.5.5z"/><path class="sc40" d="M159 709.9l6.4-1.8-3.7-1.9-6.5 1.7z"/><path class="sc39" d="M202.3 713.2l6.4-.4-3.7-1.2-6.5-.3z"/><path class="sc39" d="M142.4 712.3l6.4-2.3-3.7-1.5-6.4 2.1z"/><path class="sc39" d="M185.7 711.7l6.4-.4-3.7-2.5-6.4.1z"/><path class="sc40" d="M169.1 710.7l6.4-1.2-3.7-2.6-6.4 1.2z"/><path class="c39" d="M152.5 712l5.5-1.8-4.4-1.7-4.8 1.5z"/><path class="c40" d="M158 710.2l1-.3-3.8-2-1.6.6z"/><path class="m" d="M152.5 712l6.5-2.1-3.8-2-6.4 2.1z"/><path class="sc39" d="M195.8 713.8l6.5-.6-3.8-1.9-6.4 0z"/><path class="c39" d="M179.2 712.4l6.5-.7-3.7-2.8-1.9.2-3.6 1.2z"/><path class="c40" d="M180.1 709.1l-4.6.4 1 .8z"/><path class="m" d="M179.2 712.4l6.5-.7-3.7-2.8-6.5.6z"/><path class="c39" d="M162.7 712.3l4.6-1.2-7.3-.6z"/><path class="c40" d="M167.3 711.1l1.8-.4-3.7-2.6-6.4 1.8 1 .6z"/><path class="m" d="M162.7 712.3l6.4-1.6-3.7-2.6-6.4 1.8z"/><path class="sc39" d="M146.1 714.2l6.4-2.2-3.7-2-6.4 2.3z"/><path class="sc39" d="M189.4 714.6l6.4-.8-3.7-2.5-6.4.4z"/><path class="c39" d="M172.8 713.5l6.4-1.1-2.7-2.1-6.9.8z"/><path class="c40" d="M176.5 710.3l-1-.8-6.4 1.2.5.4z"/><path class="m" d="M172.8 713.5l6.4-1.1-3.7-2.9-6.4 1.2z"/><path class="c39" d="M156.2 714.2l6.5-1.9-2.7-1.8-2-.3-5.5 1.8z"/><path class="c40" d="M160 710.5l-1-.6-1 .3z"/><path class="m" d="M156.2 714.2l6.5-1.9-3.7-2.4-6.5 2.1z"/><path class="sc39" d="M182.9 715.5l6.5-.9-3.7-2.9-6.5.7z"/><path class="c39" d="M166.4 714.9l6.4-1.4-3.2-2.4-2.3 0-4.6 1.2z"/><path class="c40" d="M169.6 711.1l-.5-.4-1.8.4z"/><path class="m" d="M166.4 714.9l6.4-1.4-3.7-2.8-6.4 1.6z"/><path class="sc39" d="M149.8 716.2l6.4-2-3.7-2.2-6.4 2.2z"/><path class="sc39" d="M176.5 716.6l6.4-1.1-3.7-3.1-6.4 1.1z"/><path class="sc39" d="M159.9 716.5l6.5-1.6-3.7-2.6-6.5 1.9z"/><path class="sc39" d="M170.1 717.8l6.4-1.2-3.7-3.1-6.4 1.4z"/><path class="sc39" d="M153.5 718.2l6.4-1.7-3.7-2.3-6.4 2z"/><path class="sc39" d="M163.6 719l6.5-1.2-3.7-2.9-6.5 1.6z"/><path class="sc39" d="M157.2 720.3l6.4-1.3-3.7-2.5-6.4 1.7z"/></g>
<line x1="157.2" y1="739" x2="157.2" y2="631.8" stroke="#000" stroke-width="1"/>
<line x1="350.3" y1="708" x2="350.3" y2="600.8" stroke="#000" stroke-width="1"/>
<line x1="46" y1="684.3" x2="46" y2="577.1" stroke="#000" stroke-width="1"/>
<line x1="46" y1="577.1" x2="157.2" y2="631.8" stroke="#000" stroke-width="1" shape-rendering="auto"/>
<line x1="157.2" y1="631.8" x2="350.3" y2="600.8" stroke="#000" stroke-width="1" shape-rendering="auto"/>
<line x1="157.2" y1="739" x2="46" y2="684.3" stroke="#000" stroke-width="1" shape-rendering="auto"/>
<line x1="157.2" y1="739" x2="350.3" y2="708" stroke="#000" stroke-width="1" shape-rendering="auto"/>
<line x1="40.5" y1="684.5" x2="46" y2="684.5" stroke="#000" stroke-width="1"/>
<text x="40" y="686.8" font-size="8.7" text-anchor="end" stroke="#000" stroke-width="0.2">0</text>
<line x1="43" y1="679.5" x2="46" y2="679.5" stroke="#000" stroke-width="1"/>
<line x1="43" y1="675.5" x2="46" y2="675.5" stroke="#000" stroke-width="1"/>
<line x1="43" y1="670.5" x2="46" y2="670.5" stroke="#000" stroke-width="1"/>
<line x1="40.5" y1="665.5" x2="46" y2="665.5" stroke="#000" stroke-width="1"/>
<text x="40" y="668.33" font-size="8.7" text-anchor="end" stroke="#000" stroke-width="0.2">200</text>
<line x1="43" y1="661.5" x2="46" y2="661.5" stroke="#000" stroke-width="1"/>
<line x1="43" y1="656.5" x2="46" y2="656.5" stroke="#000" stroke-width="1"/>
<line x1="43" y1="651.5" x2="46" y2="651.5" stroke="#000" stroke-width="1"/>
<line x1="40.5" y1="647.5" x2="46" y2="647.5" stroke="#000" stroke-width="1"/>
<text x="40" y="649.87" font-size="8.7" text-anchor="end" stroke="#000" stroke-width="0.2">400</text>
<line x1="43" y1="642.5" x2="46" y2="642.5" stroke="#000" stroke-width="1"/>
<line x1="43" y1="638.5" x2="46" y2="638.5" stroke="#000" stroke-width="1"/>
<line x1="43" y1="633.5" x2="46" y2="633.5" stroke="#000" stroke-width="1"/>
<line x1="40.5" y1="628.5" x2="46" y2="628.5" stroke="#000" stroke-width="1"/>
<text x="40" y="631.4" font-size="8.7" text-anchor="end" stroke="#000" stroke-width="0.2">600</text>
<line x1="43" y1="624.5" x2="46" y2="624.5" stroke="#000" stroke-width="1"/>
<line x1="43" y1="619.5" x2="46" y2="619.5" stroke="#000" stroke-width="1"/>
<line x1="43" y1="615.5" x2="46" y2="615.5" stroke="#000" stroke-width="1"/>
<line x1="40.5" y1="610.5" x2="46" y2="610.5" stroke="#000" stroke-width="1"/>
<text x="40" y="612.93" font-size="8.7" text-anchor="end" stroke="#000" stroke-width="0.2">800</text>
<line x1="43" y1="605.5" x2="46" y2="605.5" stroke="#000" stroke-width="1"/>
<line x1="43" y1="601.5" x2="46" y2="601.5" stroke="#000" stroke-width="1"/>
<line x1="43" y1="596.5" x2="46" y2="596.5" stroke="#000" stroke-width="1"/>
<line x1="40.5" y1="591.5" x2="46" y2="591.5" stroke="#000" stroke-width="1"/>
<text x="40" y="594.47" font-size="8.7" text-anchor="end" stroke="#000" stroke-width="0.2">1000</text>
<line x1="43" y1="587.5" x2="46" y2="587.5" stroke="#000" stroke-width="1"/>
<line x1="43" y1="582.5" x2="46" y2="582.5" stroke="#000" stroke-width="1"/>
<line x1="43" y1="578.5" x2="46" y2="578.5" stroke="#000" stroke-width="1"/>
<line x1="157.2" y1="739" x2="157.2" y2="743" stroke="#000" stroke-width="1" shape-rendering="auto"/>
<line x1="165.25" y1="737.71" x2="165.25" y2="739.91" stroke="#000" stroke-width="1" shape-rendering="auto"/>
<line x1="173.29" y1="736.42" x2="173.29" y2="738.62" stroke="#000" stroke-width="1" shape-rendering="auto"/>
<line x1="181.34" y1="735.12" x2="181.34" y2="737.33" stroke="#000" stroke-width="1" shape-rendering="auto"/>
<line x1="189.38" y1="733.83" x2="189.38" y2="737.83" stroke="#000" stroke-width="1" shape-rendering="auto"/>
<line x1="197.43" y1="732.54" x2="197.43" y2="734.74" stroke="#000" stroke-width="1" shape-rendering="auto"/>
<line x1="205.47" y1="731.25" x2="205.47" y2="733.45" stroke="#000" stroke-width="1" shape-rendering="auto"/>
<line x1="213.52" y1="729.96" x2="213.52" y2="732.16" stroke="#000" stroke-width="1" shape-rendering="auto"/>
<line x1="221.57" y1="728.67" x2="221.57" y2="732.67" stroke="#000" stroke-width="1" shape-rendering="auto"/>
<line x1="229.61" y1="727.38" x2="229.61" y2="729.58" stroke="#000" stroke-width="1" shape-rendering="auto"/>
<line x1="237.66" y1="726.08" x2="237.66" y2="728.28" stroke="#000" stroke-width="1" shape-rendering="auto"/>
<line x1="245.7" y1="724.79" x2="245.7" y2="726.99" stroke="#000" stroke-width="1" shape-rendering="auto"/>
<line x1="253.75" y1="723.5" x2="253.75" y2="727.5" stroke="#000" stroke-width="1" shape-rendering="auto"/>
<line x1="261.8" y1="722.21" x2="261.8" y2="724.41" stroke="#000" stroke-width="1" shape-rendering="auto"/>
<line x1="269.84" y1="720.92" x2="269.84" y2="723.12" stroke="#000" stroke-width="1" shape-rendering="auto"/>
<line x1="277.89" y1="719.62" x2="277.89" y2="721.83" stroke="#000" stroke-width="1" shape-rendering="auto"/>
<line x1="285.93" y1="718.33" x2="285.93" y2="722.33" stroke="#000" stroke-width="1" shape-rendering="auto"/>
<line x1="293.98" y1="717.04" x2="293.98" y2="719.24" stroke="#000" stroke-width="1" shape-rendering="auto"/>
<line x1="302.02" y1="715.75" x2="302.02" y2="717.95" stroke="#000" stroke-width="1" shape-rendering="auto"/>
<line x1="310.07" y1="714.46" x2="310.07" y2="716.66" stroke="#000" stroke-width="1" shape-rendering="auto"/>
<line x1="318.12" y1="713.17" x2="318.12" y2="717.17" stroke="#000" stroke-width="1" shape-rendering="auto"/>
<line x1="326.16" y1="711.88" x2="326.16" y2="714.08" stroke="#000" stroke-width="1" shape-rendering="auto"/>
<line x1="334.21" y1="710.58" x2="334.21" y2="712.78" stroke="#000" stroke-width="1" shape-rendering="auto"/>
<line x1="342.25" y1="709.29" x2="342.25" y2="711.49" stroke="#000" stroke-width="1" shape-rendering="auto"/>
<line x1="350.3" y1="708" x2="350.3" y2="712" stroke="#000" stroke-width="1" shape-rendering="auto"/>
<text x="191.08" y="745.23" font-size="8.7" text-anchor="middle" stroke="#000" stroke-width="0.2">-4</text>
<text x="223.27" y="740.07" font-size="8.7" text-anchor="middle" stroke="#000" stroke-width="0.2">-2</text>
<text x="255.45" y="734.9" font-size="8.7" text-anchor="middle" stroke="#000" stroke-width="0.2">0</text>
<text x="287.63" y="729.73" font-size="8.7" text-anchor="middle" stroke="#000" stroke-width="0.2">2</text>
<text x="319.82" y="724.57" font-size="8.7" text-anchor="middle" stroke="#000" stroke-width="0.2">4</text>
<line x1="157.2" y1="739" x2="156" y2="743" stroke="#000" stroke-width="1" shape-rendering="auto"/>
<line x1="152.57" y1="736.72" x2="151.91" y2="738.92" stroke="#000" stroke-width="1" shape-rendering="auto"/>
<line x1="147.93" y1="734.44" x2="147.27" y2="736.64" stroke="#000" stroke-width="1" shape-rendering="auto"/>
<line x1="143.3" y1="732.16" x2="142.64" y2="734.36" stroke="#000" stroke-width="1" shape-rendering="auto"/>
<line x1="138.67" y1="729.88" x2="137.47" y2="733.88" stroke="#000" stroke-width="1" shape-rendering="auto"/>
<line x1="134.03" y1="727.6" x2="133.37" y2="729.8" stroke="#000" stroke-width="1" shape-rendering="auto"/>
<line x1="129.4" y1="725.33" x2="128.74" y2="727.53" stroke="#000" stroke-width="1" shape-rendering="auto"/>
<line x1="124.77" y1="723.05" x2="124.11" y2="725.25" stroke="#000" stroke-width="1" shape-rendering="auto"/>
<line x1="120.13" y1="720.77" x2="118.93" y2="724.77" stroke="#000" stroke-width="1" shape-rendering="auto"/>
<line x1="115.5" y1="718.49" x2="114.84" y2="720.69" stroke="#000" stroke-width="1" shape-rendering="auto"/>
<line x1="110.87" y1="716.21" x2="110.21" y2="718.41" stroke="#000" stroke-width="1" shape-rendering="auto"/>
<line x1="106.23" y1="713.93" x2="105.57" y2="716.13" stroke="#000" stroke-width="1" shape-rendering="auto"/>
<line x1="101.6" y1="711.65" x2="100.4" y2="715.65" stroke="#000" stroke-width="1" shape-rendering="auto"/>
<line x1="96.97" y1="709.37" x2="96.31" y2="711.57" stroke="#000" stroke-width="1" shape-rendering="auto"/>
<line x1="92.33" y1="707.09" x2="91.67" y2="709.29" stroke="#000" stroke-width="1" shape-rendering="auto"/>
<line x1="87.7" y1="704.81" x2="87.04" y2="707.01" stroke="#000" stroke-width="1" shape-rendering="auto"/>
<line x1="83.07" y1="702.53" x2="81.87" y2="706.53" stroke="#000" stroke-width="1" shape-rendering="auto"/>
<line x1="78.43" y1="700.25" x2="77.77" y2="702.45" stroke="#000" stroke-width="1" shape-rendering="auto"/>
<line x1="73.8" y1="697.97" x2="73.14" y2="700.17" stroke="#000" stroke-width="1" shape-rendering="auto"/>
<line x1="69.17" y1="695.7" x2="68.51" y2="697.9" stroke="#000" stroke-width="1" shape-rendering="auto"/>
<line x1="64.53" y1="693.42" x2="63.33" y2="697.42" stroke="#000" stroke-width="1" shape-rendering="auto"/>
<line x1="59.9" y1="691.14" x2="59.24" y2="693.34" stroke="#000" stroke-width="1" shape-rendering="auto"/>
<line x1="55.27" y1="688.86" x2="54.61" y2="691.06" stroke="#000" stroke-width="1" shape-rendering="auto"/>
<line x1="50.63" y1="686.58" x2="49.97" y2="688.78" stroke="#000" stroke-width="1" shape-rendering="auto"/>
<line x1="46" y1="684.3" x2="44.8" y2="688.3" stroke="#000" stroke-width="1" shape-rendering="auto"/>
<text x="51.93" y="704.02" font-size="8.7" text-anchor="middle" stroke="#000" stroke-width="0.2">4</text>
<text x="70.47" y="713.13" font-size="8.7" text-anchor="middle" stroke="#000" stroke-width="0.2">2</text>
<text x="89" y="722.25" font-size="8.7" text-anchor="middle" stroke="#000" stroke-width="0.2">0</text>
<text x="107.53" y="731.37" font-size="8.7" text-anchor="middle" stroke="#000" stroke-width="0.2">-2</text>
<text x="126.07" y="740.48" font-size="8.7" text-anchor="middle" stroke="#000" stroke-width="0.2">-4</text>
<polygon points="219,525 221,525 221,539 12,539 12,537 219,537" fill="#000"/>
<rect x="10.5" y="523.5" width="208" height="13" fill="#f2f2f2" stroke="#000" stroke-width="1"/>
<text transform="matrix(1,0,0,0.93,14.6,532.9)" font-size="10.96" stroke="#000" stroke-width="0.3">Minuit fit result on the Graph2D points</text>
<style>.c0{fill:#788fa1}.c1{fill:#748b9e}.c2{fill:#70889c}.c3{fill:#566b7c}.c4{fill:#546878}.c5{fill:#596f80}.c6{fill:#7f95a6}.c7{fill:#637c8f}.c8{fill:#5b7284}.c9{fill:#61788b}.c10{fill:#96a8b6}.c11{fill:#698296}.c12{fill:#a8b7c3}.c13{fill:#5e7587}.c14{fill:#a5b4c0}.c15{fill:#879bab}.c16{fill:#92a4b3}.c17{fill:#b8c4cd}.c18{fill:#8398a9}.c19{fill:#bfcad3}.c20{fill:#bbc7d0}.c21{fill:#8ea1b1}.c22{fill:#667f93}.c23{fill:#c7d0d8}.c24{fill:#99abb8}.c25{fill:#9daebb}.c26{fill:#c3cdd5}.c27{fill:#ced6dd}.c28{fill:#cad3da}.c29{fill:#d2dae0}.c30{fill:#7b92a4}.c31{fill:#6c8599}.c32{fill:#d6dde2}.c33{fill:#acbac5}.c34{fill:#8a9eae}.c35{fill:#b4c1cb}.c36{fill:#b0bdc8}.c37{fill:#a1b1be}.c38{fill:#d9e0e5}.c39{fill:#0044ff}.c40{fill:#008bff}.c41{fill:#0014ff}.c42{fill:#3300ff}.c43{fill:#6300ff}.c44{fill:#00bbff}.c45{fill:#00fffc}.c46{fill:#00ffcc}.c47{fill:#00ff85}.c48{fill:#00ff55}.c49{fill:#00ff0e}.c50{fill:#22ff00}.c51{fill:#69ff00}.c52{fill:#99ff00}.c53{fill:#e0ff00}.c54{fill:#ffee00}.c55{fill:#ffa700}.c56{fill:#ff7700}.c57{fill:#ff3000}.c58{fill:#ff0000}.sc39{fill:#0044ff;stroke:#000}.sc40{fill:#008bff;stroke:#000}.sc41{fill:#0014ff;stroke:#000}.sc42{fill:#3300ff;stroke:#000}.sc43{fill:#6300ff;stroke:#000}.sc44{fill:#00bbff;stroke:#000}.sc45{fill:#00fffc;stroke:#000}.sc46{fill:#00ffcc;stroke:#000}.sc47{fill:#00ff85;stroke:#000}.sc48{fill:#00ff55;stroke:#000}.sc49{fill:#00ff0e;stroke:#000}.sc50{fill:#22ff00;stroke:#000}.sc51{fill:#69ff00;stroke:#000}.sc52{fill:#99ff00;stroke:#000}.sc53{fill:#e0ff00;stroke:#000}.sc54{fill:#ffee00;stroke:#000}.sc55{fill:#ffa700;stroke:#000}.sc56{fill:#ff7700;stroke:#000}.sc57{fill:#ff3000;stroke:#000}.sc58{fill:#ff0000;stroke:#000}.m{fill:none;stroke:#000}</style></svg>
</body></html>
